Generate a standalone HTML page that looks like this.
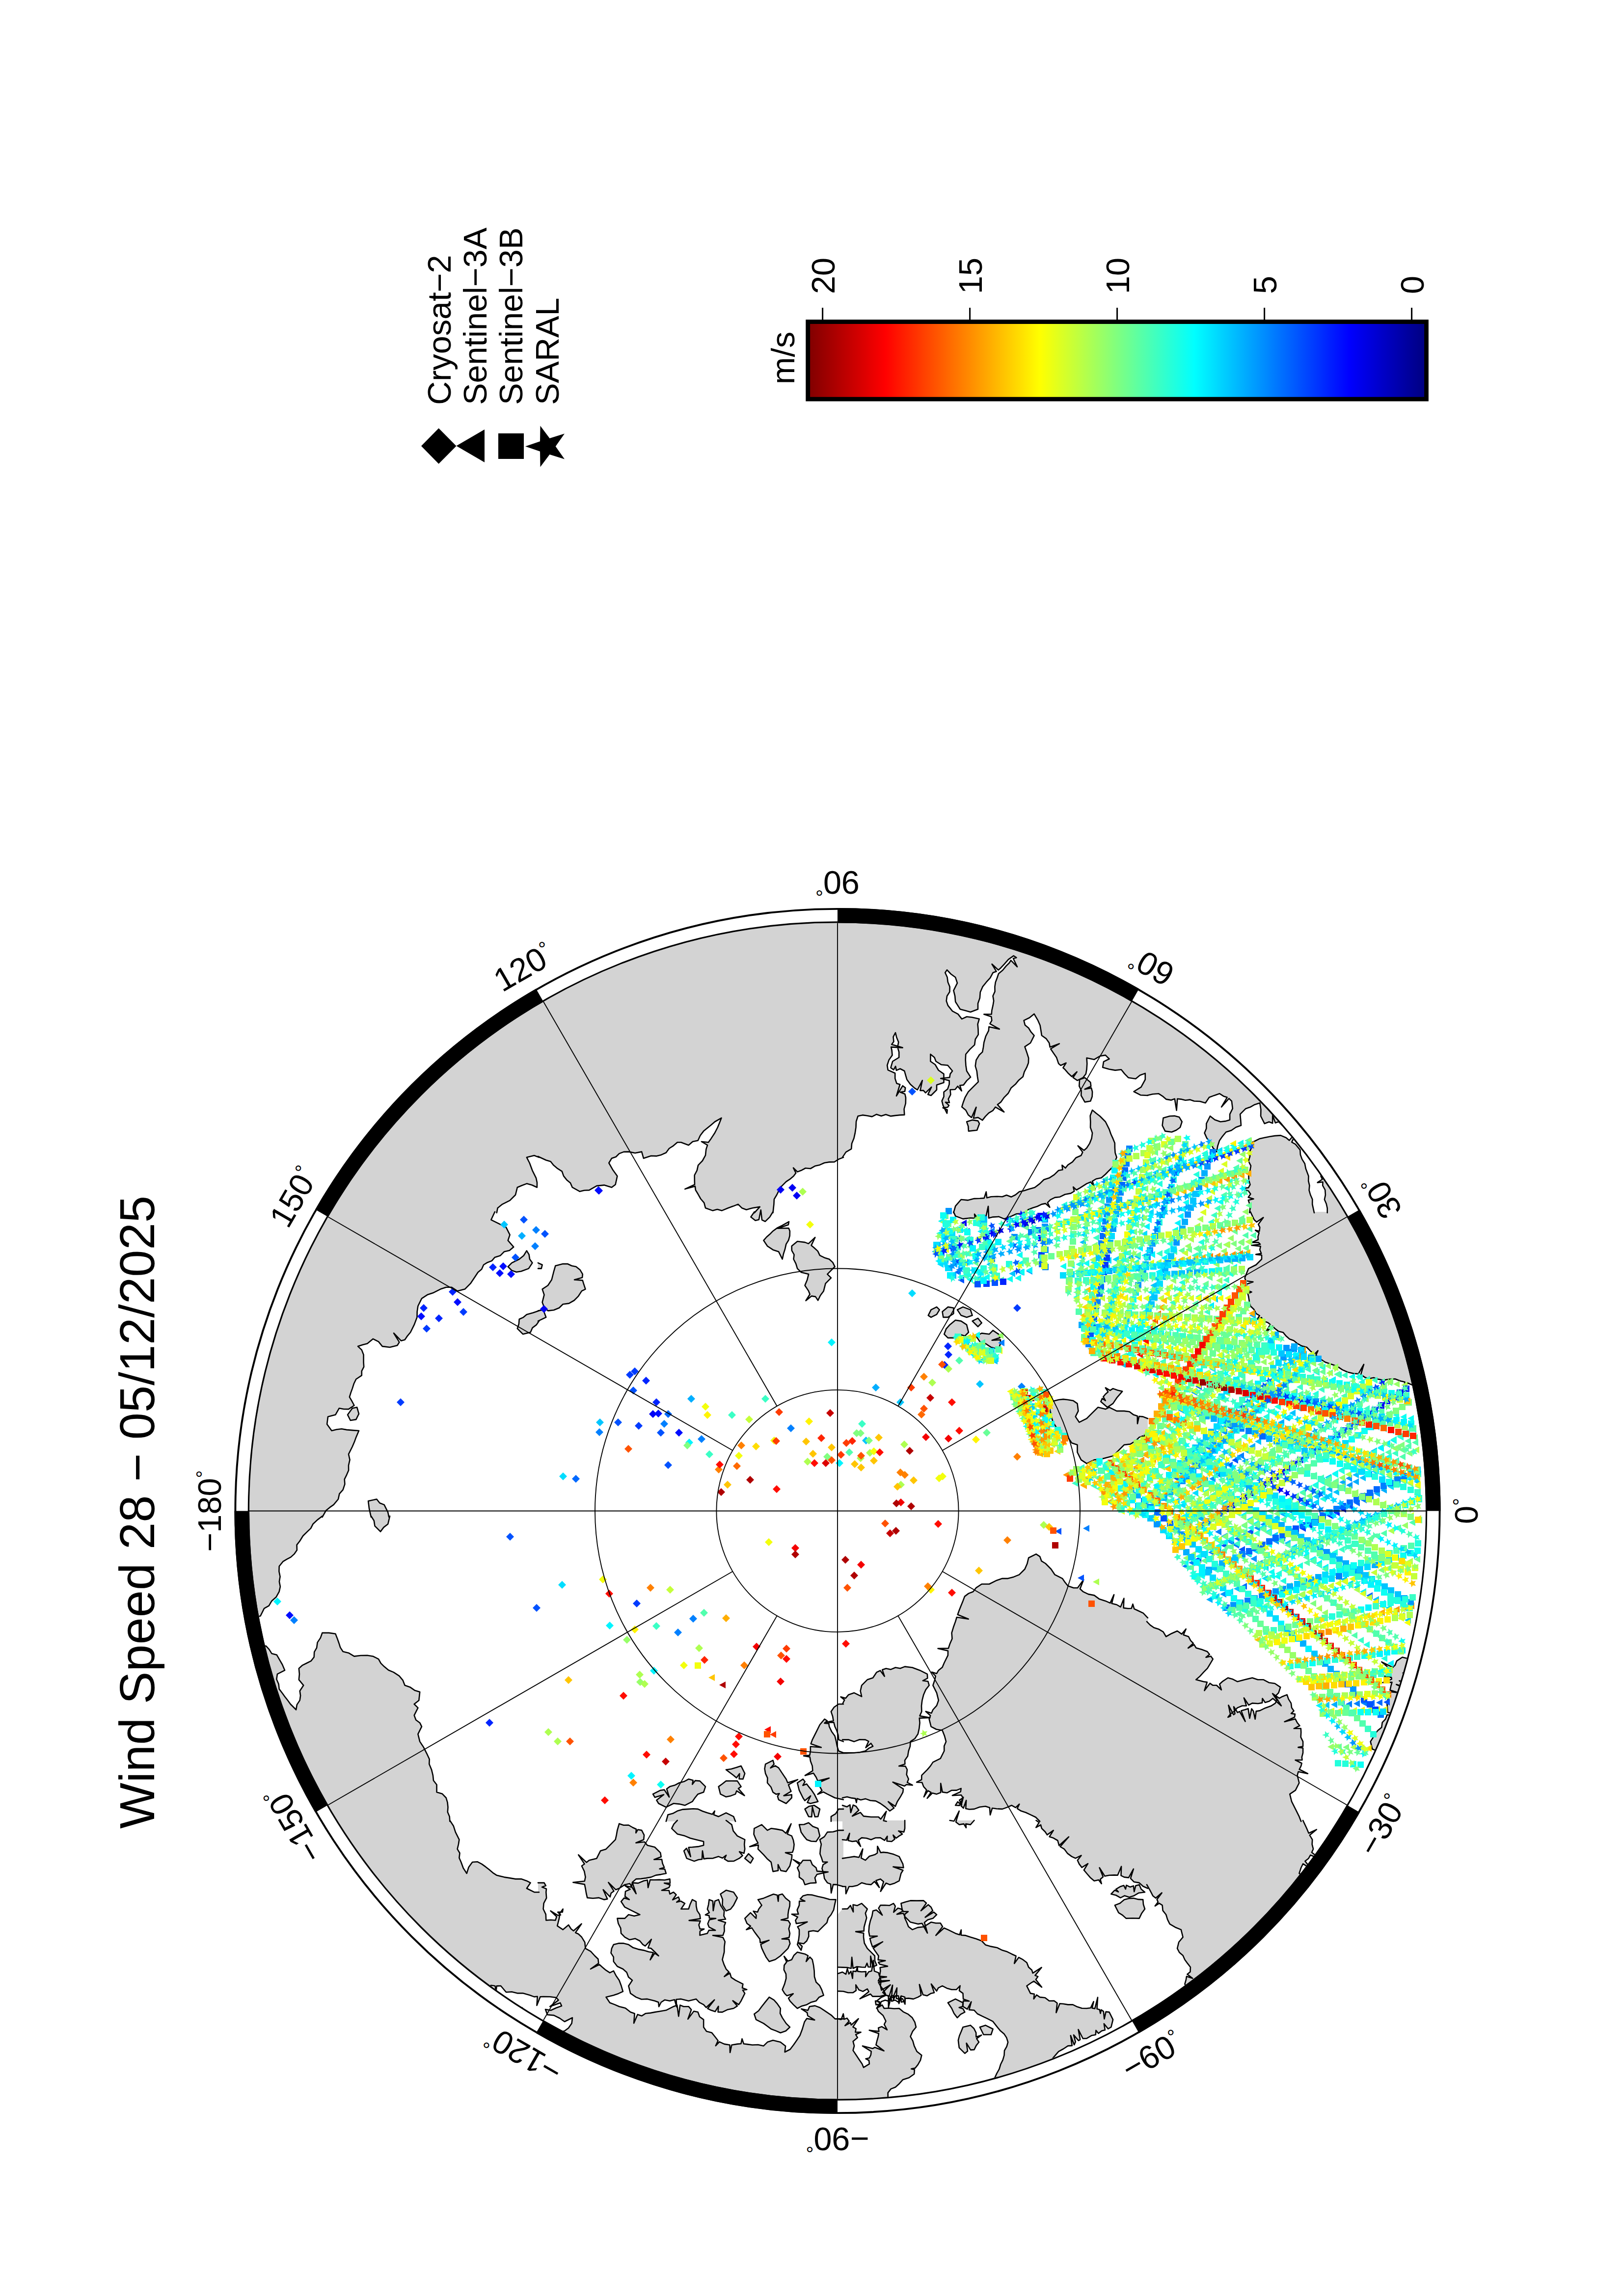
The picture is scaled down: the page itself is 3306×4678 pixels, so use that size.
<!DOCTYPE html><html><head><meta charset="utf-8"><title>Wind Speed 28 - 05/12/2025</title>
<style>html,body{margin:0;padding:0;background:#fff;}svg{display:block;}text{font-family:"Liberation Sans", Arial, Helvetica, sans-serif;fill:#000;}</style></head><body>
<svg xmlns="http://www.w3.org/2000/svg" width="3306" height="4678" viewBox="0 0 3306 4678">
<rect width="3306" height="4678" fill="#fff"/>
<text transform="translate(314,3726) rotate(-90)" font-size="100" textLength="1290" lengthAdjust="spacingAndGlyphs">Wind Speed 28 − 05/12/2025</text>
<text transform="translate(918,825) rotate(-90)" font-size="66.67">Cryosat−2</text>
<text transform="translate(990.6,825) rotate(-90)" font-size="66.67">Sentinel−3A</text>
<text transform="translate(1064,825) rotate(-90)" font-size="66.67">Sentinel−3B</text>
<text transform="translate(1138,825) rotate(-90)" font-size="66.67">SARAL</text>
<polygon points="858,908.7 893.6,872.5 929.5,908.7 893.6,945" fill="#000"/>
<polygon points="929.5,908.5 987,875 987,942" fill="#000"/>
<rect x="1015" y="883" width="52" height="52" fill="#000"/>
<polygon points="1070,909.5 1100,899.2 1100.5,867.5 1119.6,892.9 1150,883.5 1131.7,909.5 1150,935.5 1119.6,926.1 1100.5,951.5 1100,919.8" fill="#000"/>
<defs><linearGradient id="jet" x1="2905.5" x2="1645.7" y1="0" y2="0" gradientUnits="userSpaceOnUse">
<stop offset="0" stop-color="#00007f"/>
<stop offset="0.125" stop-color="#0000ff"/>
<stop offset="0.375" stop-color="#00ffff"/>
<stop offset="0.625" stop-color="#ffff00"/>
<stop offset="0.875" stop-color="#ff0000"/>
<stop offset="1" stop-color="#7f0000"/>
</linearGradient></defs>
<rect x="1645.7" y="655.6" width="1259.8" height="157.6" fill="url(#jet)" stroke="#000" stroke-width="8.8"/>
<line x1="2875.6" y1="627" x2="2875.6" y2="652" stroke="#000" stroke-width="3"/>
<text transform="translate(2899.6,599) rotate(-90)" font-size="66.67">0</text>
<line x1="2575.6" y1="627" x2="2575.6" y2="652" stroke="#000" stroke-width="3"/>
<text transform="translate(2599.6,599) rotate(-90)" font-size="66.67">5</text>
<line x1="2275.6" y1="627" x2="2275.6" y2="652" stroke="#000" stroke-width="3"/>
<text transform="translate(2299.6,599) rotate(-90)" font-size="66.67">10</text>
<line x1="1975.6" y1="627" x2="1975.6" y2="652" stroke="#000" stroke-width="3"/>
<text transform="translate(1999.6,599) rotate(-90)" font-size="66.67">15</text>
<line x1="1675.6" y1="627" x2="1675.6" y2="652" stroke="#000" stroke-width="3"/>
<text transform="translate(1699.6,599) rotate(-90)" font-size="66.67">20</text>
<text transform="translate(1618,783) rotate(-90)" font-size="66.67">m/s</text>
<defs><clipPath id="disc"><circle cx="1706" cy="3078.5" r="1198"/></clipPath></defs>
<g clip-path="url(#disc)">
<path d="M476,1849 1098,1849 1098,2358.1 1088.2,2354.3 1072.9,2358.1 1078.7,2369.5 1084.4,2384.8 1092,2400.1 1094,2409.5 1093.9,2419.2 1083.7,2414.5 1072.9,2411.6 1063.3,2415.2 1053.8,2419.2 1050,2434.5 1038.6,2445.9 1023.3,2453.6 1013.7,2461.2 1011.8,2471 476,2471ZM476,2469 1008,2469 1000.4,2485.3 1015.6,2492.9 1030.9,2500.6 1038.6,2515.8 1034.7,2527.3 1046.2,2540.7 1037.8,2547.8 1027.1,2550.2 1019,2558.3 1008,2561.7 1001.8,2568.9 993,2572.2 985.1,2577 981.1,2586 973.6,2592.2 966,2603.7 958.3,2615.2 946.9,2626.6 931.6,2630.4 920.1,2622.8 908.7,2622.8 897.2,2626.6 881.9,2634.3 870.5,2638.1 859,2645.7 851.4,2661 849.7,2672.4 849.5,2683.9 843.7,2699.2 836.1,2714.5 830,2721.8 824.6,2729.8 817.1,2731.8 802.1,2716.2 813.4,2734.6 809.3,2741.2 794.1,2745 778.8,2743.1 771.1,2733.6 759.7,2727.9 748.2,2737.4 738.6,2739.9 729.1,2743.1 736.8,2750.4 740.6,2760.3 740.6,2775.6 741.2,2784.8 736.8,2793.3 736.8,2802.3 725.3,2810 720.8,2819.3 717.7,2829.1 714.6,2837.6 711.9,2846.3 716.9,2854.8 721.5,2863.5 710,2871.1 700.4,2871 690.9,2869.2 683.3,2882.6 668,2886.4 666.1,2901.7 675.6,2915 685.7,2912.5 695.9,2911.3 706.2,2913.1 718.6,2914.1 731,2915 725.3,2928.4 721.8,2938.1 717.7,2947.5 710,2962.8 712.6,2974.3 710,2985.7 710.1,2995.7 706.2,3004.8 701.7,3013.9 702.4,3023.9 698.6,3035.4 691.3,3043.7 689,3054.5 679.5,3065.9 671.6,3071.4 664.2,3077.4 656.5,3091 476,3091ZM708.1,2882.6 717.7,2869.2 727.2,2867.3 731,2880.7 725.3,2892.1 713.8,2894ZM1034.7,2580.8 1042.4,2573.1 1057.7,2565.5 1066.7,2558.2 1072.9,2548.3 1077.6,2556.2 1079,2565.6 1084.4,2573.1 1076.8,2584.6 1061.5,2590.3 1051.7,2591.8 1042.4,2588.4ZM1053.8,2706.8 1056.9,2697.5 1057.7,2687.7 1066,2684.1 1072.9,2678.2 1085.6,2674.8 1098,2670.6 1098,2691.6 1092.5,2699.4 1084.5,2705.4 1080.6,2714.5 1065.3,2718.3ZM750.1,3058.3 767.3,3054.5 773.4,3062.3 782.6,3065.9 790.2,3081.2 792.2,3091 755.9,3091 752,3073.6ZM476,3089 656.5,3089 646.6,3096.6 637.4,3105.3 633.1,3113.9 626,3120.6 617.2,3129.2 610.7,3139.7 604.6,3147.6 604.9,3158.3 599.2,3166.4 592.3,3172.6 584.2,3176.9 576.3,3181.7 568.7,3191.2 568.4,3201.8 570.6,3212.2 568.9,3222.4 570.9,3232.7 568.7,3242.8 562.7,3253.7 553.4,3261.9 547.8,3271.6 538.1,3277.2 530.5,3292.5 521.4,3294.4 512.3,3294.6 503.2,3291.8 494.2,3294.7 485.1,3289.8 476,3292.5ZM755.9,3089 794.1,3089 790.2,3105.3 781.6,3111.9 775,3120.6 763.5,3109.1 761.8,3098.3ZM476,3353.6 485.4,3354.7 494.8,3353 504.3,3353.5 513.7,3351.7 523.1,3353.2 532.5,3354.2 541.9,3353.6 548.3,3360.6 553.4,3368.9 563.8,3371.8 568.7,3380.3 575.1,3391.5 580.1,3403.2 564.9,3410.9 563.4,3421.4 567.6,3431.2 568.7,3441.4 574.5,3449 580.1,3456.7 586,3464.3 591.6,3472 603.1,3483.5 604.9,3473.1 610.7,3464.4 612.1,3454.8 610.7,3445.3 618.3,3433.8 608.8,3422.3 609.9,3410.9 608.8,3399.4 616.1,3392.8 624.9,3388.5 633.6,3384.1 639.7,3376.2 640.2,3365.8 645.1,3357.4 646.6,3346.4 652.8,3337.1 656.5,3326.8 670,3326.9 683.3,3328.8 686.9,3337.9 690.2,3347.2 693.2,3356.6 698.6,3365 710.7,3368.1 721.5,3374.6 734.8,3373 748.2,3372.7 760.3,3374.8 771.1,3380.3 775.8,3388.8 782.6,3395.6 791.3,3402.8 801.7,3407.1 813.2,3414.7 820.5,3423.3 824.6,3433.8 835.2,3437.4 844.5,3443.9 855.2,3447.2 853.3,3464.4 843.7,3472 851.4,3479.6 843.7,3494.9 847.2,3504.3 855.2,3510.2 859,3517.8 851.4,3533.1 855.2,3548.4 862.8,3559.9 870.5,3575.2 874.7,3584.2 874.3,3594.3 879,3605.4 881.9,3617.2 883,3627.8 889.6,3636.3 889.6,3651.6 900.7,3654.7 908.7,3663 911.5,3672.4 912.5,3682.1 911.8,3692 915.7,3701.3 916.3,3711 476,3711ZM476,3709 916.3,3709 923.7,3720.2 927.8,3732.9 935.4,3748.2 933.9,3757.8 931.6,3767.3 936.5,3775.5 935.4,3785.5 939.2,3794 943.7,3806.2 950.7,3817 954.6,3804.6 962.2,3794 972.3,3793.2 981.3,3797.9 989,3803.4 996.5,3809.3 1003.8,3815.6 1011.8,3820.8 1027.1,3824.6 1038.6,3826.4 1050,3828.4 1061.8,3828.3 1072.9,3832.2 1080.6,3836.1 1072.9,3847.5 1088.2,3855.2 1098,3855.2 1098,4331 476,4331ZM1096,1849 1718,1849 1718,2358.1 1708.2,2361.9 1699.5,2367.5 1689.1,2367.6 1679.2,2369.2 1670,2373.4 1659.9,2375.8 1650.9,2381 1640.8,2380 1631.8,2384.8 1624.4,2387.6 1616,2379.4 1621.2,2389.9 1616.5,2396.3 1609.2,2402.4 1601.3,2407.7 1589.8,2419.2 1582.2,2434.5 1576.9,2443.3 1576.4,2453.6 1574.5,2471 1536.7,2471 1547.8,2458.9 1532.9,2461.2 1520.3,2464.7 1511.1,2461.2 1503.5,2453.6 1493.4,2457.6 1483.2,2461.2 1470.2,2466.6 1461.1,2464.1 1451.9,2466.6 1437,2461.2 1434.2,2450.7 1427.2,2442.5 1422.1,2433.3 1416.9,2424.8 1415.9,2416.9 1395.3,2422.6 1415,2413.5 1414.8,2405.4 1414.7,2394.4 1419.8,2384.6 1422.1,2374.1 1430.9,2365 1437,2353.9 1438.3,2341.7 1441.1,2333.2 1428.9,2326 1443,2327.5 1448.4,2319.9 1455.7,2308.8 1461.8,2297 1465.7,2287.4 1469.5,2277.8 1456.1,2285.5 1448.6,2292.1 1440.9,2298.3 1433.2,2304.6 1426.4,2313.5 1421.7,2323.7 1411,2326.1 1402.6,2333.2 1387.3,2327.5 1379.7,2327.5 1371.8,2334.3 1363,2340 1356.8,2348.5 1347.1,2352.9 1336.9,2355.4 1326.2,2355 1310.9,2360 1307.1,2346.6 1293.7,2349.2 1280.4,2346.6 1270.5,2346.9 1261.3,2350.4 1254.7,2357 1246,2360 1240.3,2369.5 1247.9,2382.9 1257.4,2396.3 1253.6,2413.5 1246,2419.2 1230.7,2414.6 1215.4,2416.1 1200.1,2424.9 1190.5,2425.3 1181,2427.6 1165.8,2419.2 1161.9,2410.2 1154.3,2403.9 1148.1,2396.1 1144.8,2386.7 1135.8,2380.9 1127.6,2374.1 1121.6,2366.5 1112.3,2363.8 1096,2356.2ZM1131.4,2578.9 1146.7,2575.1 1156,2575 1164.5,2579 1173.4,2580.8 1181.5,2587.2 1186.8,2596.1 1186.1,2602.9 1170,2607.5 1186.7,2608.6 1188.7,2615.2 1192.5,2626.6 1184.9,2630.4 1178.2,2640.8 1169.6,2649.5 1158.9,2655.6 1146.7,2657.2 1139,2664.8 1128,2669.3 1116.1,2670.6 1108.3,2663.3 1104.6,2653.4 1108.5,2638.1 1104.6,2626.6 1116.1,2619 1123.7,2607.5 1127.6,2592.2ZM1096,2670.6 1106.6,2668.6 1112.3,2683.9 1096,2691.6ZM1096,2573.1 1104.6,2577 1102.7,2584.6 1096,2584.6ZM1536.7,2469 1574.5,2469 1568,2479.6 1558.8,2488.7 1552.1,2485.6 1549.8,2465.3 1545.8,2485 1538.6,2486.8 1529.4,2479.6ZM1555.4,2527.3 1561.4,2520.5 1568.2,2514.6 1574.5,2508.2 1583.5,2501.6 1593.6,2496.7 1607,2489.1 1605.8,2495.5 1584.1,2502.8 1606.5,2502.2 1608.9,2508.2 1608.7,2517.8 1606.3,2526.7 1601.3,2534.9 1599,2545.2 1595.8,2555.2 1593.6,2565.5 1586,2550.2 1574.5,2546.4 1563.1,2538.8ZM1612.7,2538.8 1624.2,2529.2 1639.5,2531.1 1646.8,2533.9 1660.3,2521.2 1652.6,2537.4 1658.6,2542.6 1665.8,2549.1 1670,2557.9 1679.3,2562.4 1689.1,2565.5 1696.3,2572.1 1700.6,2580.8 1692.9,2588.4 1685.3,2596.1 1692.9,2603.7 1681.5,2615.2 1677.7,2630.4 1671,2639.5 1666.2,2649.5 1661.1,2641.9 1653.3,2640.6 1641.5,2650 1649.7,2637 1647.1,2630.4 1639.5,2619 1644.2,2607.8 1647.1,2596.1 1631.8,2592.2 1624.2,2584.6 1621.2,2574.7 1616.5,2565.5 1617.6,2556.3 1612.8,2547.8ZM1650.9,3567.5 1650.8,3558.5 1672.8,3560.3 1651.7,3553 1654.7,3544.6 1662.4,3529.3 1670,3514 1679.6,3502.6 1684.9,3506 1679.4,3510.9 1688.3,3511.6 1689.1,3517.8 1694,3527.9 1700.6,3537 1703.1,3547.1 1705.1,3557.5 1708.2,3567.5 1718,3571.3 1718,3666.8 1700.6,3663 1685.3,3655.4 1677.2,3651.1 1665.6,3655.8 1674.3,3648.2 1670,3640.1 1667.2,3632.2 1688.9,3622.7 1665.7,3628.6 1662.4,3621 1657,3612.7 1639.9,3617.4 1655.4,3607.9 1654.7,3598.1 1651,3588.2 1649.7,3579.7 1637,3577.4 1649.3,3576.4ZM1692.9,3487.3 1699.1,3478.2 1708.2,3472 1718,3472 1718,3548.4 1708.2,3544.6 1707.3,3535.2 1704.6,3526.3 1700.6,3517.8 1698.4,3509.2 1680.5,3509.6 1697.6,3506.1 1696.2,3497.3ZM1330,3655.4 1345.3,3647.7 1353.1,3646.6 1363.2,3661.5 1358,3644.7 1364.4,3640.1 1374.4,3637.3 1383.5,3632.5 1393.5,3629.8 1402.6,3624.8 1411.7,3627.2 1410.3,3635.5 1416.1,3627.9 1425.5,3628.6 1437,3640.1 1433.2,3651.6 1421.7,3655.4 1415.7,3662.8 1410.2,3670.7 1395,3678.3 1383.6,3675.6 1372,3674.5 1356.8,3682.1 1341.5,3674.5 1337.4,3667.8 1352.1,3656.5 1334,3662.1ZM1463.7,3640.1 1471.5,3634.5 1479,3628.6 1490.5,3628.5 1501.9,3628.6 1509.6,3640.1 1504,3644.1 1516.4,3658.4 1500.4,3648.9 1498.1,3655.4 1488.8,3658.9 1479,3661.1 1467.5,3655.4ZM1479,3605.7 1489.5,3604.2 1499.6,3601.3 1509.6,3598.1 1517.2,3613.4 1513.4,3624.8 1505.6,3624.4 1506.4,3613.7 1500.2,3622.3 1494.3,3617.2 1486.6,3611.5ZM1559.2,3594.3 1574.5,3586.6 1576.7,3594.3 1569.5,3602.2 1579.2,3597.6 1586,3601.9 1593.6,3613.4 1601.3,3624.8 1604.5,3632.3 1624.9,3625.9 1606,3636.3 1608.9,3643.9 1611.4,3649.8 1596.6,3658.7 1612.7,3656.6 1612.7,3663 1601.3,3674.5 1586,3666.8 1583.8,3659.7 1587.5,3654.3 1580.8,3655.6 1574.5,3651.6 1570.4,3641 1563.1,3632.5 1563.4,3622.4 1559.2,3613.4 1557.6,3603.8ZM1624.2,3632.5 1635.6,3624.8 1639.7,3630.1 1635.4,3637.7 1643.1,3634.7 1647.1,3640.1 1653.2,3647.4 1658.6,3655.4 1666.2,3670.7 1650.9,3674.5 1644.5,3672.5 1651.2,3659 1639.4,3668.7 1635.6,3663 1628,3647.7ZM1360.6,3697.4 1370.6,3694.8 1379.7,3689.8 1390.9,3686.6 1402.6,3685.9 1412.2,3685.3 1421.7,3685.9 1431.1,3690.3 1440.8,3693.6 1450.9,3696.5 1455.8,3689.8 1453.9,3697.5 1463.7,3701.2 1479,3693.6 1494.3,3701.2 1498.1,3711 1356.8,3711ZM1639.5,3685.9 1648.2,3680.2 1658.6,3678.3 1670,3685.9 1666.2,3701.2 1659.9,3701.6 1654.8,3681.5 1653.4,3701.6 1647.1,3701.2ZM1692.9,3701.2 1702.3,3695.3 1708.2,3685.9 1718,3685.9 1718,3711 1692.9,3711ZM1261.3,3715.7 1270.3,3718.7 1280.4,3718.5 1288.9,3723.5 1296,3726.8 1295.3,3734.5 1299.4,3727.7 1307.1,3729.1 1312.1,3738.9 1311.2,3748.2 1295.4,3754.7 1312.9,3752.8 1318.6,3759.7 1333.8,3763.5 1345.3,3774.9 1346.7,3783.2 1332.3,3788.8 1348,3788.2 1349.5,3796.4 1353.2,3804.9 1343.6,3807.8 1354.1,3808.2 1356.8,3817 1346.5,3819.1 1336,3820.6 1326.2,3824.6 1316.1,3826.4 1305.9,3827.9 1295.6,3828.4 1287.9,3835.2 1295.7,3858.3 1282.8,3837.8 1272.7,3839.9 1261.3,3847.5 1254.2,3850.2 1239.3,3835.4 1250.5,3853 1244.7,3857.3 1242.8,3864.9 1228.7,3850.2 1237.3,3869.1 1230.7,3870.4 1219.5,3866.6 1207.8,3867.7 1196.3,3866.6 1194.1,3857.1 1192.5,3847.5 1190.8,3839.4 1167.3,3835.2 1190.8,3832.7 1192.5,3824.6 1190.2,3812.6 1184.9,3801.7 1190.6,3797.8 1178.3,3779.2 1194.8,3794.6 1200.1,3790.2 1215.4,3786.4 1223.1,3771.1 1234,3767.8 1242.2,3759.7 1253.6,3748.2 1255.7,3738.7 1257.4,3729.1ZM1265.1,3874.3 1271.2,3867.1 1281.8,3870.3 1273.1,3863.9 1274,3853.6 1283.6,3849.2 1273.4,3842.1 1286.1,3845 1288,3836.1 1299.9,3836.9 1310.9,3832.2 1318.8,3830.5 1320.1,3845.9 1324.3,3830.1 1332.3,3830.3 1343,3829.9 1353.8,3830.5 1364.4,3828.4 1365,3837 1353.1,3836.8 1365,3840.2 1362.8,3845.8 1347.9,3851.5 1362.8,3851.8 1364.4,3859 1372,3855.2 1377.4,3860.4 1370.2,3870.8 1382.1,3865.1 1384.3,3871 1378.4,3875.6 1386.8,3873.5 1395,3878.1 1387.3,3889.5 1402.6,3889.5 1405.8,3879.8 1410.2,3870.4 1417.9,3874.3 1418.2,3883.8 1420.1,3892.9 1425.5,3901 1426.6,3909.1 1403.6,3912.9 1426.6,3913.9 1423.5,3922 1425.9,3930.3 1434.2,3930.3 1425.9,3934.7 1425.5,3943 1440.8,3939.2 1444,3932.7 1457.2,3933 1444.3,3926.4 1441.7,3919.6 1444.9,3911.4 1458.1,3908.7 1445,3908.3 1444.4,3903.1 1436.9,3901.4 1444.8,3896.9 1440.9,3889.9 1443.3,3880.2 1444.6,3870.4 1452,3873.2 1452.8,3892.9 1456.3,3873.2 1463.7,3870.4 1468.1,3882.6 1475.2,3893.4 1474.4,3903.6 1478,3910.3 1463,3912.2 1478,3917.1 1475.2,3923.9 1475.6,3934.6 1472.6,3943.2 1452,3943.2 1472.6,3947.4 1476.8,3956 1475.4,3966.7 1475.2,3977.4 1471.4,3992.7 1474.7,4002.4 1479,4011.8 1484.9,4017.8 1475.4,4027.1 1486.9,4020.2 1489.5,4028.9 1498.1,4034.7 1513.4,4042.3 1512,4050.2 1521.3,4053.6 1512.9,4054.8 1517.2,4061.4 1509.6,4076.7 1504.7,4084.4 1492.7,4076.4 1501.9,4087.1 1494.3,4092 1482.3,4094.4 1471.4,4099.6 1462.6,4099.4 1463.4,4087.8 1456.8,4098.5 1448.4,4095.8 1441.4,4092.4 1455.2,4074.6 1438.4,4090.2 1433.2,4084.4 1424.6,4079.9 1417.9,4072.9 1402.6,4076.7 1387.3,4072.9 1377.4,4073.7 1378.3,4088.9 1374,4074.2 1364.4,4076.7 1354.2,4074.7 1346.7,4079.5 1342.1,4088.5 1341.3,4079.5 1333.8,4076.7 1318.6,4072.9 1306.7,4073.5 1295.6,4069.1 1284.2,4061.4 1280.4,4046.2 1288,4034.7 1280.2,4028.3 1276.5,4018.4 1268.9,4011.8 1257.5,4006.5 1249.8,3996.5 1249.8,3987.4 1244.5,3979.1 1246,3969.8 1249.8,3962.1 1260,3959.4 1270.2,3959.4 1280.4,3962.1 1289.7,3968.3 1300.1,3971.6 1310.9,3973.6 1321.4,3976.7 1330.7,3978.3 1324.5,3993.1 1333.7,3979.4 1341.5,3985 1334.1,3977.2 1326.2,3969.8 1320.1,3968.6 1326.8,3951.3 1314.3,3964.8 1309.4,3961.8 1303.3,3954.5 1293.7,3949.7 1282.2,3952.2 1272.7,3946.8 1265.1,3939.2 1264.3,3928.6 1259.4,3919 1257.4,3908.6 1272.7,3908.6 1280.4,3901 1291.8,3903.7 1303.3,3901 1288,3893.4 1272.7,3885.7ZM1096,3836.1 1108.5,3836.1 1111.8,3842 1104,3844.9 1113,3848.4 1112.3,3855.2 1113.2,3867.1 1107.6,3877.9 1106.6,3889.5 1111.8,3900.4 1112.3,3912.5 1121.8,3911.7 1131.4,3912.5 1133.8,3905.1 1121.5,3893.3 1135.7,3902.2 1142,3901.6 1136.2,3895.9 1145.8,3895.9 1146.7,3889.5 1140.5,3898.1 1139,3908.6 1135.2,3923.9 1146.7,3931.6 1158.1,3922 1163.2,3930 1168.2,3934 1184.5,3919.7 1172.2,3937.7 1178.3,3940.5 1184.9,3946.8 1191.3,3957.4 1192.5,3969.8 1203.3,3975.8 1211.6,3985 1218.4,3991.5 1219.3,4000.1 1203,4011.7 1221.1,4002.7 1226.9,4008 1234.2,4014.2 1242.2,4019.4 1249.8,4015.6 1254.9,4025.5 1261.3,4034.7 1265.5,4046 1268.9,4057.6 1259.5,4061.9 1249.8,4065.3 1234.5,4069.1 1242.2,4080.5 1251.8,4084.1 1261.3,4088.2 1274,4091.4 1284.2,4099.6 1292.7,4102.4 1291.1,4122.2 1298.7,4104.4 1307.1,4107.3 1315.3,4102.2 1324.7,4101.4 1333.8,4099.6 1345.3,4097.8 1356.8,4095.8 1372,4088.2 1379.2,4085.4 1382.3,4108.1 1385.3,4085.4 1392.4,4088.2 1402.6,4088.2 1408.2,4094.7 1401.3,4113.8 1413.3,4097.8 1421.7,4099.6 1425.1,4109 1433.2,4114.9 1433.2,4130.2 1439.1,4138.7 1449.7,4141.4 1456.1,4149.3 1462.6,4157.8 1457.8,4168.2 1465.4,4160.1 1475.2,4164.6 1486.6,4166.5 1487.1,4182 1490.5,4166.5 1501.9,4164.6 1509.4,4164 1511.5,4154 1515,4164.3 1522.3,4165.1 1532.5,4166.5 1544.1,4166 1555.4,4168.4 1563.6,4160.4 1574.5,4157 1589.8,4160.8 1600.1,4168.8 1598.6,4181 1609.5,4175.5 1616.9,4165.7 1623.3,4156.4 1629.5,4147 1634.1,4134.8 1638.7,4119.5 1643.5,4112.6 1659.4,4115.6 1645.3,4107 1644.1,4100.6 1632.2,4093 1645.6,4096.1 1649,4088.2 1660,4086.6 1670.4,4090.5 1679.6,4096.6 1693.3,4105.8 1701,4113.4 1718,4113.4 1718,4331 1096,4331ZM1368.2,3725.3 1372.7,3716.3 1379.7,3709 1479,3709 1490.5,3717.6 1493.6,3730.4 1501.9,3740.6 1517.2,3748.2 1516.2,3757.8 1517.2,3767.3 1515.5,3776 1506.1,3772.8 1512.6,3780.7 1505.7,3786.4 1494.9,3791.9 1482.8,3792.1 1475.6,3787.7 1479.2,3780 1471.6,3785.8 1463.7,3782.6 1452.5,3786.1 1440.8,3786.4 1433.6,3787.4 1430.9,3771 1430,3788.2 1422.7,3789 1414.1,3792.1 1398.8,3786.4 1393.1,3771.1 1398.5,3765.8 1406.7,3782.8 1402.7,3764 1410.2,3763.5 1421.9,3762.4 1433.2,3759.7 1433.2,3752 1417.9,3748.2 1406.1,3745.2 1395,3740.6 1379.7,3736.7ZM1517.2,3786.4 1524.8,3776.9 1534.4,3786.4 1528.7,3796ZM1536.3,3725.3 1551.6,3717.6 1563.1,3729.1 1570.7,3725.3 1582.2,3726.9 1593.6,3729.1 1601,3735.2 1611.5,3715.9 1603.8,3736.9 1612.7,3740.6 1616,3749.2 1617.6,3758.1 1616.5,3767.3 1614.2,3774 1599.9,3774.7 1613.2,3779.3 1612.7,3786.4 1608.9,3801.7 1601.3,3813.1 1590.6,3811.3 1584.9,3799 1585.1,3811.3 1574.5,3813.1 1572.5,3803.6 1570.7,3794 1562.5,3786.9 1555.4,3778.8 1544,3767.3 1544.8,3759.2 1527.1,3762.4 1544.1,3755.4 1540.1,3748.2 1535.5,3737.2ZM1628,3717.6 1637.8,3717.2 1647.1,3713.8 1655.6,3721.3 1666.2,3725.3 1670,3740.6 1662.4,3752 1652.5,3751.5 1643.3,3748.2 1637.2,3740.8 1631.8,3732.9ZM1624.2,3805.5 1629,3799.3 1615.7,3788.8 1631,3796.6 1635.6,3790.2 1650.9,3790.2 1654.7,3799.3 1662.4,3805.5 1664.2,3812.4 1686.7,3814.1 1664.2,3818.9 1659.9,3825.9 1662.4,3836.1 1650.7,3836.8 1639.5,3839.9 1636,3830.5 1628,3824.6 1628.1,3814.7ZM1670,3748.2 1679.2,3742.1 1685.3,3732.9 1697,3732.3 1708.2,3729.1 1718,3729.1 1718,3843.7 1704.4,3839.9 1697.2,3839.6 1693.1,3856.9 1692,3838.6 1685.3,3836.1 1679.3,3827.4 1677.7,3817 1674.4,3807 1676.6,3799.2 1685.4,3793.9 1676,3793.7 1673.8,3786.4 1670.3,3777.1 1671.1,3767.4 1672.9,3757.6ZM1467.5,3859 1479,3851.3 1494.3,3855.2 1501.9,3866.6 1494.3,3881.9 1488.2,3889.7 1479,3893.4 1471.4,3881.9 1471.9,3870ZM1517.2,3908.6 1528.7,3897.2 1540.1,3908.6 1540.4,3901.9 1534.6,3893.9 1543.1,3895.7 1545.5,3889.8 1551.6,3881.9 1544,3870.4 1555.7,3867.4 1566.9,3862.8 1575.5,3859.3 1583.3,3861.3 1585.2,3873.9 1586.3,3860.9 1593.6,3859 1600.3,3867.5 1608.9,3874.3 1608.7,3883.3 1606.3,3892.1 1605.1,3901 1605.1,3908.1 1591.1,3911.8 1605.6,3913.1 1609.7,3919.8 1606.7,3929.8 1608.9,3939.2 1607.4,3947.4 1592.7,3950.4 1606.9,3951.2 1609.3,3959.9 1605.1,3969.8 1597.5,3977.4 1589.8,3985 1579.2,3992.5 1566.9,3996.5 1560.4,3987.4 1555.4,3977.4 1551.5,3968.9 1549.6,3961.7 1566.5,3953.2 1548.6,3958.2 1547.8,3950.7 1542,3943.1 1536.3,3935.4 1531.6,3928.1 1520.4,3931.6 1528.9,3924.4 1521.6,3919ZM1628,3881.9 1628.2,3873.6 1639.6,3873.4 1630.1,3869 1635.6,3862.8 1645,3860.3 1654.7,3860.9 1666.1,3863.9 1677.7,3866.6 1689.8,3870 1702.5,3870.4 1700.2,3880.9 1698.1,3891.4 1692.9,3901 1687,3908.1 1684.4,3917.4 1677.7,3923.9 1666.2,3935.4 1656.6,3933.7 1647.1,3935.4 1647.4,3945.4 1643.3,3954.5 1637.1,3960.3 1625.8,3958.2 1634,3965.4 1631.8,3973.6 1624.2,3962.1 1626.8,3952.1 1628,3941.9 1628,3931.6 1624.6,3925.6 1644.4,3915.9 1622,3919.1 1620.4,3912.5 1624.8,3905.9 1612.8,3900 1626.3,3900 1623.7,3891.6ZM1597.4,4004.1 1602.4,3997.4 1597.2,3985.9 1604.9,3995.6 1612.7,3992.7 1617.1,3984 1624.2,3977.4 1639.5,3981.2 1646,3984.6 1642.2,3996.5 1649.7,3987.4 1654.7,3992.7 1657.1,4004.1 1658.6,4015.6 1659,4027.3 1662.4,4038.5 1669.4,4045.2 1673.8,4053.8 1677.7,4065.3 1668.6,4069.2 1662.4,4076.7 1652.4,4079.4 1643.3,4084.4 1633.3,4087.2 1624.2,4092 1616.3,4084.6 1608.9,4076.7 1606.1,4071.1 1615.8,4062.1 1602.8,4066.2 1598.3,4061.7 1593.6,4053.8 1598.1,4042.6 1601.3,4030.9 1601,4021.8 1596.8,4013.3ZM1536.3,4103.5 1545.1,4097 1551.6,4088.2 1559.2,4078.6 1566.9,4069.1 1576.5,4074.8 1583.6,4082.9 1589.8,4092 1589.1,4102.1 1593.6,4111.1 1601.3,4122.6 1608.9,4130.2 1600.6,4138 1589.8,4141.7 1580.3,4137.6 1570.7,4134 1563.1,4128.2 1555.4,4122.6 1540.1,4114.9ZM1716,1849 2338,1849 2338,2232 2323.2,2231.2 2309.5,2224 2324.4,2214.8 2332.8,2199.5 2332.8,2186.9 2322.1,2190.8 2313.3,2198 2298.4,2195.7 2290.8,2187.9 2283.9,2179.3 2271.6,2180.6 2259.5,2178.5 2246.1,2174.7 2248,2163.2 2259.5,2157.5 2251.8,2149.9 2240.4,2151.8 2228.9,2158.7 2213.6,2155.6 2214.3,2167.1 2213.6,2178.5 2211.9,2188 2206,2195.7 2194.5,2201.4 2185.7,2195.5 2193.7,2183.8 2183.2,2193.5 2175.4,2186.2 2169.6,2179.3 2165.4,2175.5 2171.5,2165.7 2160.6,2170.7 2156.3,2167.1 2152.2,2154.8 2144.8,2144.1 2140.1,2137 2157.9,2126.5 2138.7,2133.5 2137.2,2125 2130.9,2116.1 2121.9,2109.8 2120.3,2099.3 2118.6,2089 2114.3,2079.2 2106.6,2065.8 2097.1,2073.5 2085.6,2079.2 2087.9,2088.4 2095.2,2094.5 2100.2,2102.7 2106.6,2109.8 2099,2125 2087.5,2132.7 2091.5,2144.1 2095.2,2155.6 2094.9,2165.5 2091.4,2174.7 2086.5,2183.8 2083.7,2193.8 2075.3,2200.7 2068.4,2209.1 2059.4,2216.8 2053.8,2227.5 2045.5,2235.8 2038.7,2245.4 2031.9,2250.6 2045.2,2265.6 2027.5,2255.7 2022.6,2262.6 2014.1,2267.7 2007.2,2274.6 2001.2,2282.4 1992.2,2276.9 1982.8,2278.5 1988.5,2255.9 1978.9,2277 1972.2,2271.4 1967.3,2262 1959.2,2255.3 1962.2,2245.7 1965.7,2236.2 1972.3,2224.6 1981.7,2215.2 1992.8,2204.1 1991,2193.4 1989.8,2182.5 1986.7,2172 1988.4,2159.9 1994.7,2149.5 2001.2,2143.4 2003,2133.7 2004.3,2123.9 2007.9,2111.4 2013.8,2099.8 2014.4,2092.1 2035.8,2096.7 2016.4,2085.9 2020.3,2079.2 2019.3,2071.4 2004.3,2066.5 2019.7,2066.4 2020.3,2058.7 2022.6,2048.6 2024.2,2039.2 2022.5,2029.3 2026.6,2020.1 2026.4,2010.4 2027.8,2001.2 2031.1,1992.5 2034.1,1983.7 2042.5,1976.8 2049.3,1968.4 2055.8,1962 2059.1,1956.7 2072,1969.9 2063.9,1952.8 2070.4,1951.2 2064.6,1947.4 2054,1954.9 2045.5,1964.6 2038.9,1971.7 2033.5,1976.4 2020.5,1964.3 2029.6,1979.3 2022.6,1981.8 2017,1992.4 2009,2001.2 2001.6,2010.4 1996.8,2021.4 1995.9,2033.4 1992,2044.5 1992,2056.3 1976.8,2062 1966.3,2059.1 1955.8,2056.3 1951,2048.6 1946.2,2041 1945.2,2029.4 1942.4,2018.1 1950,2002.8 1946.2,1991.3 1936.9,1984.5 1929,1976.1 1925.2,1981.8 1929.5,1991 1930.8,2001.1 1934.7,2010.4 1934.5,2020.8 1929,2029.5 1927.7,2039.3 1930.9,2048.6 1940.1,2060.1 1951.4,2066.1 1959.2,2076.1 1969.2,2071.5 1980.2,2072.7 1994.7,2076.1 1991.6,2086.6 1992.5,2097.2 1992.8,2107.9 1986.7,2117.5 1985.2,2128.9 1975.7,2137.9 1967.2,2148 1966.7,2159.4 1967.4,2170.7 1969.1,2182 1977.1,2194.6 1969.1,2201.9 1962.6,2210.6 1955.3,2211.5 1958.7,2222.7 1950.9,2213.1 1945.5,2219.7 1935.5,2220.2 1936.4,2230.1 1931.7,2239.3 1933.9,2246.5 1925.9,2245.7 1933.1,2252.1 1930.3,2256 1920.6,2257.1 1929.6,2261.2 1929,2268.3 1921,2252.3 1918.6,2243.1 1922.6,2234.2 1922.5,2225.1 1930.4,2218.7 1933.6,2209.1 1933.7,2201.8 1916.2,2197.3 1934.3,2195.3 1935.5,2188.1 1940.1,2182 1930.5,2170.5 1917.6,2169.3 1906.5,2162.5 1903.4,2154.5 1895.4,2148 1895.4,2162.5 1904.9,2169 1911.6,2180.5 1922.5,2188.1 1922.5,2205.7 1908,2210.6 1908,2220.5 1896.5,2232 1890.2,2229.9 1897.3,2214.9 1885.3,2226.6 1880.9,2221.7 1874.4,2221.9 1878.8,2201.3 1868.8,2220.5 1863.3,2217.1 1854.4,2209.2 1847.3,2199.5 1844.8,2190.8 1842.3,2182 1833.5,2177.5 1825.9,2180.9 1824.2,2172.6 1820.3,2179.6 1814.4,2175.5 1818.2,2162.5 1831.2,2154.5 1831.2,2143.4 1828.3,2133.7 1830.3,2123.2 1826.4,2113.8 1824,2104 1819.5,2112.6 1820.5,2122.2 1816.3,2128 1838.6,2134.6 1815.2,2133.4 1816.7,2140.3 1817.5,2149.9 1810.8,2159.4 1807.2,2170.5 1808.7,2180.1 1823.2,2186.5 1823.2,2197.3 1826.6,2207.6 1833.2,2209.5 1826,2232.9 1838.8,2212.2 1844.2,2216.3 1843.1,2223.7 1833.8,2225.2 1843.3,2229 1845,2236.2 1844.8,2248 1841.6,2259.5 1842.3,2271.4 1832.9,2271.9 1823.4,2272.9 1814,2274.1 1804.4,2270.7 1795.1,2273.8 1785.5,2270.4 1776.2,2275.1 1766.7,2273.3 1757,2271.9 1747.6,2274 1744,2285.2 1743.5,2296.9 1741.8,2308.4 1739.4,2319.3 1735.1,2329.7 1734.2,2340.9 1723.1,2347.4 1716,2358.1ZM1969.1,2285.5 1980.4,2281.9 1992,2283.6 1995.1,2289.3 1990.1,2302.7 1972.9,2304.6 1972.3,2294.8ZM2199.1,2199.5 2209.8,2195.7 2221.3,2205.3 2222.3,2213.3 2209.7,2219.2 2223,2216.6 2225.1,2224.4 2224.7,2234.2 2221.3,2243.5 2209.8,2245.4 2202.2,2232 2202.6,2222 2198.3,2212.9ZM2225.1,2261.8 2232.6,2268 2240.4,2274 2251.8,2285.5 2259.5,2300.8 2262.8,2310.5 2267.1,2319.9 2270.8,2329.1 2270.9,2339 2271.6,2348.8 2274.7,2358.1 2270.6,2367.5 2267.1,2377.2 2259.4,2384.7 2251.8,2392.5 2243.5,2399.7 2232.7,2402 2225.1,2406.6 2230.9,2422.9 2221.9,2408.3 2213.6,2411.6 2199.9,2420.3 2192.6,2424.5 2186.2,2418.5 2188.3,2427 2181.1,2431.4 2169.5,2433.5 2159,2438.7 2148.7,2439.9 2139.7,2444.3 2133.8,2450.4 2138.3,2459.8 2129.6,2452.1 2121.9,2453.6 2112.9,2458 2103.4,2461 2094,2464.7 2084.9,2471 1942.4,2471 1946.2,2457.4 1957.7,2444 1971.2,2445.4 1984.4,2442.1 1996,2441.7 2004.7,2441.1 2008.8,2428.3 2010.2,2440.5 2018.8,2438.3 2030.2,2437.7 2041.7,2438.3 2050.3,2435 2060,2438.7 2068.4,2434.5 2076.3,2428.1 2085.9,2426 2095.2,2423 2107.7,2419.5 2118.1,2411.6 2126.3,2403.5 2137.2,2400.1 2147.5,2393.4 2156.3,2384.8 2164.5,2383.3 2163.4,2374.1 2170.3,2379.8 2175.4,2373.4 2184.6,2367.4 2191.9,2358.7 2202.2,2354.3 2205.3,2347.6 2195.7,2334.6 2208.1,2343.8 2213.6,2339 2219.6,2329.6 2223.6,2319.5 2225.1,2308.4 2221.1,2297.3 2221.3,2285.5 2220.7,2273.2ZM1942.4,2469 2091.4,2469 2081.4,2472.6 2070.5,2473.2 2060.8,2477.6 2045.5,2483.4 2034.5,2478.9 2022.6,2479.6 2014,2481.7 2013,2457.9 2007.8,2481.2 1999.7,2477.6 1990.9,2481.3 1985,2473.7 1986.2,2482.1 1976.8,2481.5 1961.5,2483.4 1946.2,2477.6ZM1890.8,2680.1 1896.5,2668.6 1908,2662.9 1913.7,2668.6 1908,2678.2 1896.5,2683.9ZM1919.5,2672.5 1930.9,2662.9 1942.4,2664.8 1942.4,2676.3 1930.9,2683.9 1921.4,2683.9ZM1923.3,2718.3 1927.2,2707.7 1934.7,2699.2 1946.2,2689.7 1957.7,2691.6 1969.1,2699.2 1972.9,2714.5 1965.3,2722.1 1953.8,2718.3 1942.4,2725.9 1930.9,2725.9ZM1950,2668.6 1961.5,2662.9 1976.8,2668.6 1980.6,2680.1 1969.1,2683.9 1957.7,2680.1ZM1988.2,2722.1 1999.7,2716.4 2015,2718.3 2022.6,2710.7 2034.1,2718.3 2037,2725.4 2020.7,2730.8 2037.9,2729.7 2037.9,2737.4 2034.1,2748.9 2018.8,2745 2007.3,2737.4 1995.9,2733.6ZM1980.6,2691.6 1992,2685.8 1999.7,2695.4 1992,2703ZM2141,2855.8 2156.3,2852 2165.9,2850.9 2175.4,2852 2185.8,2853.7 2194.5,2859.6 2196.4,2874.9 2190.7,2886.4 2198.3,2897.8 2213.6,2890.2 2225.1,2878.7 2236.5,2867.3 2251.8,2871.1 2259.5,2867.3 2274.7,2874.9 2290,2874.9 2300.6,2876.3 2309.1,2882.6 2316.8,2885.1 2317,2900.8 2320.2,2885.8 2328.2,2886.4 2338,2890.2 2338,2920.8 2331,2924.3 2335,2936 2327.9,2925.6 2320.6,2928.4 2312.9,2936.1 2302.3,2942.4 2290,2943.7 2278.6,2955.2 2267.1,2966.6 2251.8,2970.4 2240.6,2973.6 2228.9,2974.3 2213.6,2981.9 2202.2,2974.3 2194.5,2959 2194.5,2943.7 2183.1,2939.9 2175.4,2928.4 2164,2920.8 2152.5,2909.3 2144.8,2897.8 2141,2882.6 2138.1,2869.2ZM2242.3,2855.8 2245.1,2849.4 2251.7,2853.7 2247.3,2845.9 2251.8,2840.5 2257.1,2835.9 2251.8,2827.5 2261.2,2832.9 2267.1,2829.1 2276.5,2832.5 2286.2,2834.8 2274.7,2848.2 2267.1,2859.6 2255.6,2867.3ZM2338,3711 2118.1,3711 2109.7,3702.5 2099,3697.4 2089.7,3693 2079.9,3689.8 2072.1,3684.8 2076.4,3675.8 2068.8,3682.9 2060.8,3678.3 2051.4,3682.4 2041.7,3685.9 2030,3685.3 2021.2,3684 2017,3697.8 2015.9,3683.1 2007.3,3680.2 1995.5,3681.8 1984.4,3685.9 1974.4,3686.5 1967.2,3684.9 1968.2,3668.2 1962.5,3684 1957.6,3679.3 1962.2,3661.8 1954.4,3678.6 1946.2,3678.3 1950.7,3671.1 1959,3677.4 1954.3,3667.6 1961.5,3663 1958,3657.2 1939.9,3658.2 1956.7,3650.6 1957.7,3643.9 1948.5,3647.6 1938.6,3647.7 1929,3652.8 1919.7,3651.4 1916.2,3633.6 1916.2,3652.2 1908,3655.4 1899.1,3653.3 1888.7,3663.9 1896.5,3651.8 1890.1,3648.5 1882,3661.1 1887.3,3646.9 1881.3,3640.1 1878.2,3631.8 1867.1,3631.1 1877.2,3626 1877.4,3617.2 1888.9,3605.7 1895.1,3598.4 1900.4,3590.4 1915.6,3582.8 1923.3,3567.5 1923.2,3557.6 1927.1,3548.4 1923.9,3536.7 1919.5,3525.5 1907.4,3523.5 1896.5,3517.8 1892.7,3502.6 1895.3,3495.4 1885.7,3487 1897.3,3490.5 1900.4,3483.5 1908,3475.1 1911.8,3464.4 1908,3449.1 1900.4,3433.8 1904.2,3422.3 1905.8,3414.8 1897.8,3406.8 1907.8,3409.8 1911.8,3403.2 1919.5,3397 1923.3,3388 1930.9,3372.7 1931,3363.6 1910.5,3358.7 1931.9,3358.4 1934.7,3349.8 1939.5,3338.8 1938.6,3326.8 1942.1,3315.3 1946.2,3303.9 1948.9,3295 1972.7,3298.7 1950.7,3289.8 1953.8,3281 1957.6,3271.4 1961.5,3261.9 1965,3252.6 1972.9,3246.6 1982.2,3243 1988.2,3235.2 1999.7,3227.5 2015,3227.5 2030.2,3219.9 2041.7,3216.1 2053.2,3216.1 2064.9,3212.9 2076.1,3208.4 2087.5,3197 2092.4,3185.8 2095.2,3174 2110.5,3166.4 2118.2,3171.4 2121.6,3180.7 2129.6,3185.5 2141,3197 2148.7,3208.4 2164,3216.1 2169.4,3223.9 2175.4,3231.3 2186.9,3235.2 2195,3235.3 2207.3,3218.6 2200,3237.3 2206,3242.8 2217,3248.1 2228.9,3250.4 2239.4,3258.1 2251.8,3261.9 2261.4,3266.1 2269.1,3249.1 2264.6,3267.1 2274.7,3269.5 2282.6,3274.1 2289.4,3256.6 2288.6,3276.1 2297.7,3277.2 2304.7,3277 2307.5,3268.3 2310.4,3278.1 2316.8,3281 2328.7,3286.7 2338,3296.3ZM1716,3472 1720.2,3463.6 1712.5,3457.3 1722.5,3460.1 1728.5,3452.9 1739.9,3449.1 1755.2,3456.7 1752.6,3445.3 1755.2,3433.8 1766.7,3422.3 1778.1,3418.5 1785.8,3407.1 1793.1,3403.7 1801.7,3415.5 1797.2,3402.1 1804.9,3399.4 1814.7,3401.4 1824,3397.5 1833.8,3399.2 1843.1,3395.6 1858.3,3397.5 1873.6,3403.2 1888.9,3410.9 1889.3,3419.4 1879.8,3424.3 1890.3,3425.7 1892.7,3433.8 1885.8,3442.6 1881.3,3452.9 1878.4,3464.2 1877,3475.6 1877.4,3487.3 1873.5,3496.1 1894.5,3499.7 1872.7,3500.6 1873.6,3510.2 1872.3,3521.8 1869.8,3533.1 1863.6,3542.3 1854.5,3548.4 1853.9,3558.2 1850.7,3567.5 1849,3577.9 1843.1,3586.6 1843.4,3594.2 1831.2,3598.3 1844.3,3598.6 1847.9,3605.5 1846.7,3615.7 1850.7,3624.8 1848.1,3631.7 1858.7,3637.2 1846.3,3636 1842.5,3639 1818.6,3631 1840,3644.8 1839.2,3651.6 1833.9,3661.3 1827.8,3670.7 1823.7,3680.4 1809.3,3670.8 1821.1,3683.7 1812.5,3689.8 1803.4,3681.6 1793.4,3674.5 1783.8,3669.4 1772.9,3668.5 1762.8,3664.9 1753.4,3667.3 1745.8,3664.5 1744.5,3672.6 1742.4,3664.4 1734.8,3663.4 1725.5,3661.1 1716,3663 1716,3571.3 1728,3571.3 1739.9,3571.3 1751.5,3570.2 1762.8,3567.5 1770,3561.9 1778.1,3558 1774.1,3551.9 1763.5,3560.7 1769.4,3547.8 1762.8,3544.6 1751,3544.2 1739.9,3548.4 1728.3,3544.6 1716,3544.6ZM1716,3678.3 1725.1,3681.3 1731.4,3677.3 1733,3693 1737.9,3677.7 1743.7,3680.2 1749.4,3688.3 1736.1,3700.2 1752.7,3692.8 1759,3700.4 1774.3,3702 1789.6,3702 1793.9,3706.4 1805.4,3690.5 1799.7,3709.6 1805.6,3711 1716,3711ZM1716,3709 1843.1,3709 1843.1,3725.3 1841.2,3732.6 1830.3,3730.6 1838.1,3736.8 1831.6,3740.6 1825.3,3745.2 1819.3,3738.9 1822.5,3747.3 1816.3,3752 1806.5,3751.2 1807.4,3741.2 1801.8,3749.7 1793.4,3744.4 1783.5,3744.5 1774.3,3748.2 1765,3745.2 1755.2,3744.4 1748.3,3749.4 1753,3761.9 1744.6,3750.9 1736.1,3752 1727.7,3749.9 1730.5,3735.4 1724.6,3749.3 1716,3748.2ZM1934.7,3709 1984.4,3709 1976.8,3717.6 1967.3,3716.1 1968,3724 1963.3,3716.1 1953.8,3717.6 1947.1,3712.2 1953.8,3689.9 1943.3,3710.5ZM1716,3786.4 1728,3784.5 1739.9,3782.6 1749.7,3784.2 1757.4,3767.1 1754.1,3785.7 1762.8,3790.2 1770.9,3782 1781.9,3778.8 1787.1,3775.5 1787.4,3761.7 1793.9,3774.6 1799.4,3773.9 1808.7,3774.9 1820.4,3778.1 1831.6,3782.6 1839.2,3797.9 1840.4,3805.4 1819.4,3803.6 1839.4,3810.5 1835.4,3817 1831.6,3832.2 1822.4,3836.9 1812.5,3839.9 1804.8,3836.8 1793.7,3853.7 1799.8,3833.8 1793.4,3828.4 1784.4,3831.5 1791.1,3845.6 1781.3,3833.4 1774.3,3839.9 1764.6,3838.7 1755.2,3836.1 1746.3,3841.5 1736.1,3843.7 1729.4,3843.7 1723.1,3858.4 1722.7,3843.7 1716,3843.7ZM1835.4,3878.1 1844.9,3874.9 1854.5,3872.4 1867.9,3872.6 1881.3,3872.4 1887,3877.4 1876,3893 1890.8,3880.7 1896.5,3885.7 1899.9,3892.9 1884.7,3906.3 1902,3895.8 1908,3901 1900.4,3908.6 1889.8,3911.4 1883,3916.9 1889.1,3938.5 1878.1,3918.7 1869.8,3920.1 1854.5,3916.3 1843.1,3904.8 1839.9,3898.2 1827,3900.2 1838.8,3894.2 1837.1,3887.2ZM1770.5,3923.9 1772.8,3913.7 1776.3,3903.7 1778.1,3893.4 1785,3891.5 1797.2,3902 1789.6,3888 1793.4,3881.9 1802.5,3881.8 1811.7,3882.3 1820.1,3878.1 1823.7,3883.8 1820.3,3896.1 1829,3887.8 1835.4,3889.5 1840.6,3894.6 1849.9,3894.8 1843,3900.1 1842.8,3907.5 1846.9,3916.3 1850.5,3925.5 1858.3,3931.6 1869.4,3927.1 1881.3,3925.8 1889,3921.2 1896.5,3916.3 1906,3918.3 1915.6,3918.2 1920,3925.5 1906.3,3943.3 1923.1,3928.2 1930.9,3931.6 1946.2,3939.2 1954.7,3942 1957.9,3932 1957.8,3942.8 1966.8,3943.4 1976.8,3946.8 1988.4,3950.2 1999.7,3954.5 2007.7,3962.8 2018.8,3965.9 2030.8,3968.2 2041.7,3973.6 2051.6,3976.6 2060.8,3981.2 2069.6,3985.2 2066.2,4000.4 2075.2,3988.1 2083.7,3992.7 2091.6,3998.7 2095.2,4008 2101.9,4014 2103.7,4020.1 2121.6,4008.7 2108.5,4024.9 2114.3,4027.1 2109.9,4033.3 2122,4048.8 2105.9,4036.6 2099.6,4040.5 2091.4,4046.2 2099,4061.4 2106.9,4062.7 2105.7,4072.7 2111.5,4064.5 2118.1,4069.1 2128.8,4070.2 2137.2,4076.7 2147.2,4076.5 2153.5,4081.2 2151.4,4100.7 2158.7,4082.2 2165.8,4082.7 2175.4,4084.4 2185.3,4084.3 2194.4,4088.8 2203.7,4091.7 2213.6,4092 2221.6,4091 2227.7,4078.1 2224.7,4091.5 2230.2,4092.4 2236,4069.6 2234.5,4093.1 2239.8,4094.4 2241.5,4102.2 2243.1,4094.9 2247.8,4098.1 2249.4,4113.4 2252.7,4098.9 2259.5,4099.6 2267.1,4114.9 2263.3,4130.2 2257.2,4133.6 2248.8,4123.2 2250.9,4136.1 2244.2,4137.8 2237.5,4142.9 2232.4,4136.8 2231.8,4145.7 2223.4,4147.3 2213.6,4153.1 2205.9,4153.5 2196.5,4135 2200.3,4155.7 2196.9,4157.7 2187,4146.1 2190.7,4160.2 2188.1,4166.2 2180.8,4147.3 2183.8,4167.9 2175.4,4168.4 2166.1,4174.5 2156.3,4179.9 2144.8,4193.2 2141.9,4202.4 2144.1,4209.2 2155,4209.1 2144.1,4214 2147.6,4220.8 2146.7,4230 2147.8,4239.2 2142.7,4248.3 2145.3,4254.6 2127,4254.9 2145.3,4260.5 2147.8,4266.7 2146.8,4275.9 2145.6,4282.9 2124.9,4282.6 2145.6,4287.3 2145.9,4294.3 2142,4303.4 2142.7,4312.6 2142.1,4321.8 2144.8,4331 2026.4,4331 2028.3,4324.1 2046.8,4321.7 2028.3,4318.4 2025.6,4311.5 2024.2,4301.7 2026.6,4291.9 2028.5,4283.8 2048.1,4282.9 2028.5,4280.5 2026.9,4272.4 2026.6,4262.6 2025.8,4255.5 2015.7,4250.7 2025.8,4250.3 2024.9,4246 2041,4243.4 2024.9,4240.2 2026.4,4233.4 2030.5,4224.3 2035.4,4215.6 2038.3,4206 2042.7,4197.1 2045.5,4187.5 2046,4178 2050.7,4169.7 2053.2,4160.8 2050.3,4151.6 2045.3,4144 2037.9,4137.8 2030.1,4128.4 2022.6,4118.7 2011.3,4112.8 1999.7,4107.3 1990.9,4103 1984.4,4095.8 1974,4094.9 1978.4,4078.6 1970.3,4093.7 1961.5,4088.2 1962.1,4076.6 1974.2,4077.3 1962.1,4073 1961.5,4061.4 1954,4055.9 1955.7,4045.9 1947.9,4053.8 1938.6,4053.8 1928.7,4050.9 1919.5,4046.2 1911.2,4050.4 1907.9,4056.6 1896.9,4042.3 1903,4059.9 1896.5,4061.4 1888.3,4066.3 1880.1,4064.2 1872.8,4043.3 1876.3,4065.3 1869.8,4069.1 1860.5,4072.9 1850.7,4071.4 1843.8,4071.8 1843.5,4083.5 1838.6,4072.3 1831.6,4072.9 1825.9,4072 1827,4050.4 1819.1,4070.1 1816.1,4068.8 1818.1,4044.7 1811.3,4067.4 1804.9,4065.3 1798.1,4059.5 1813.6,4044 1795.4,4054.8 1793.4,4046.2 1794.6,4036 1791.8,4025.8 1793.4,4015.6 1792.6,4008.7 1808,4006.1 1791.8,4002.1 1789.2,3997.9 1803.4,3994.7 1788.6,3993.1 1789.6,3985 1783.6,3976.6 1778.8,3969.4 1798,3956.3 1777.2,3966.7 1774.3,3958.3 1771.9,3949.2 1787,3944.8 1771.4,3944.8 1769.6,3935.6ZM1706.4,3901 1716,3889.5 1726.5,3889.1 1732.3,3882.3 1738.1,3895.5 1737.6,3880.7 1745.9,3882.6 1755.2,3878.1 1766.7,3889.5 1762.8,3898.1 1765.3,3907.5 1762.8,3916.3 1760.1,3926.3 1759.8,3934.4 1743.1,3935.6 1759.2,3938.7 1759,3946.8 1760.7,3959 1766.7,3969.8 1774.3,3977.4 1781.9,3985 1782,3995 1785.8,4004.1 1778.2,4007.2 1773.4,3985.6 1773.4,4007.8 1768.5,4007.5 1766,3999.9 1762.6,4008.2 1755.2,4008 1745.5,4007 1737.6,4010.5 1735.2,3987.8 1733.8,4010.5 1726,4008.8 1716.2,4008.4 1706.4,4008ZM1706.4,4021.3 1716,4018 1723.1,4022.4 1726,4011 1729.1,4022 1733.4,4016.3 1736.6,4030.9 1737.5,4016 1743.7,4016.9 1746.5,4007.4 1747,4016.6 1755.2,4017.5 1763.9,4017 1763.2,4027.3 1769.5,4017.4 1775.5,4015.8 1778.9,3994.3 1781.1,4016.1 1789.6,4019.4 1791.6,4026.5 1805.8,4027.9 1792.1,4029.9 1789,4036.1 1811.8,4035.3 1789.5,4039.2 1793.4,4046.2 1800.1,4055.1 1804.9,4065.3 1794.7,4069.9 1785.8,4076.7 1792.7,4080.8 1785.6,4091.7 1797,4085.1 1801,4092 1811.2,4091.5 1821.4,4092.5 1831.6,4092 1840,4099.1 1850,4103.9 1858.3,4111.1 1863.5,4120.1 1866,4130.2 1858.9,4138.9 1854.5,4149.3 1859.4,4158.4 1862.2,4168.4 1867.6,4179.7 1877.4,4187.5 1874.9,4197.6 1869.8,4206.6 1864.2,4213.6 1856.2,4215.2 1862.9,4216.8 1862.2,4225.7 1851.6,4233.3 1839.2,4237.2 1832,4245.2 1824,4252.5 1814.7,4256.1 1808.7,4263.9 1808.7,4274 1806,4283.5 1803.5,4293 1798.6,4301.9 1795.6,4311.3 1794,4321 1793.4,4331 1716,4331ZM1951.9,4157 1954.3,4147.7 1958,4139 1961.5,4130.2 1976.8,4126.4 1983.9,4133 1988.2,4141.7 1988.3,4150.3 1999.3,4146.4 1989.3,4153.6 1994,4160.8 1988.4,4167.9 1984.4,4176.1 1977.1,4176.6 1968.6,4162.8 1971,4179.1 1965.3,4183.7 1953.8,4172.2ZM1995.9,4130.2 2007.3,4126.4 2022.6,4134 2018.8,4145.5 2003.5,4145.5ZM1930.9,4080.5 1946.2,4072.9 1961.5,4080.5 1960.8,4088.2 1953.7,4090.2 1961.7,4092.8 1965.3,4099.6 1956.7,4104.1 1950,4111.1 1943.3,4102.2 1938.6,4092ZM2110.5,3709 2338,3709 2338,3847.5 2328.4,3843.2 2320.6,3836.1 2309.7,3834.2 2302.9,3827.1 2308.9,3807.9 2299,3825.6 2290,3824.6 2283.5,3821.4 2284.1,3802.9 2276.7,3820.6 2269.8,3820.4 2259.5,3820.8 2250.5,3822.6 2239.6,3805.4 2247,3823.9 2241.2,3828.9 2243.7,3837.9 2237.9,3830.2 2228.9,3832.2 2220.6,3825.2 2213.6,3817 2207.9,3810.2 2216,3797 2203.7,3804.9 2198.3,3797.9 2194.8,3790.2 2202.5,3780.4 2190.7,3786.2 2183.1,3782.6 2174.3,3776.1 2167.8,3767.3 2159.6,3762.5 2177,3742.5 2157.3,3760.2 2154.5,3750 2144.8,3744.4 2137.6,3742.2 2145.7,3729.4 2133,3738.4 2129,3732.3 2121.9,3725.3 2120,3718.1 2110.3,3723.4 2116.5,3713.3ZM2263.3,3859 2270.7,3851.2 2278.1,3854.6 2273.2,3849.2 2282.4,3843.7 2289.2,3841.6 2292.8,3848.9 2294.4,3841.1 2301.8,3844.7 2308.9,3842.4 2310.3,3854.3 2313.4,3841.9 2320.6,3839.9 2324.5,3848.9 2332,3855.2 2319.8,3856.7 2309.1,3862.8 2300.4,3865.6 2290.9,3862.4 2282.4,3866.6 2273.3,3861.5ZM2270.9,3881.9 2281.5,3877.8 2290,3870.4 2299.6,3868 2309.1,3867.6 2318.7,3869.9 2328.2,3870.4 2329,3880.2 2332,3889.5 2325.4,3898.6 2320.6,3908.6 2307.2,3908.2 2293.8,3908.6 2286.7,3902.2 2278.6,3897.2ZM2336,1849 2642.6,1849 2643,1858.2 2642.8,1867.3 2639.9,1876.5 2645.1,1885.6 2644.4,1894.8 2643.1,1903.9 2641.4,1910.8 2652,1913.2 2641.4,1915.3 2642.2,1922.3 2641.1,1931.4 2643.7,1940.6 2642,1949.7 2643.6,1958.9 2640.1,1968 2642.8,1977.2 2645.5,1986.4 2641.5,1995.5 2639.9,2004.7 2640.4,2013.8 2644.1,2023 2644.8,2032.1 2640.8,2041.3 2642.3,2050.4 2644.7,2059.6 2644.2,2066.1 2633.5,2068.8 2644.2,2071.4 2642.9,2077.9 2639.9,2087.1 2644,2096.2 2640.7,2102.9 2626.9,2104.4 2640.7,2107.9 2642.2,2114.5 2645.2,2123.7 2640.3,2132.9 2643.5,2142 2641.6,2148.9 2661.4,2148.6 2641.6,2153.5 2641.8,2160.3 2645.4,2169.5 2645.2,2178.6 2641.9,2187.8 2644.5,2197 2642.1,2206.1 2643.9,2215.3 2642.3,2224.4 2640.1,2230.8 2663.4,2236.3 2640.1,2236.3 2642.8,2242.7 2641.2,2251.9 2643,2258.5 2653.1,2262.5 2643,2263.6 2642.6,2270.2 2633.2,2273.6 2626.8,2280.9 2618.7,2286.1 2612,2293.1 2604.4,2285.5 2597.9,2287.8 2592.2,2272.5 2592.2,2288.5 2585,2285.7 2575.8,2289.3 2568.1,2274 2568.4,2260.6 2566.2,2247.3 2554.7,2251.1 2546.5,2255.8 2537.6,2258.7 2526.1,2270.2 2527.2,2281.7 2528,2293.1 2517.5,2296.8 2508.1,2303.2 2497.4,2306.5 2490.4,2314.8 2484.1,2323.7 2480.4,2334.9 2478.3,2346.6 2470.5,2338.3 2466.9,2327.5 2458.4,2319.2 2453.5,2308.4 2457.3,2299.2 2457.3,2289.3 2465,2274 2474.5,2281.6 2486,2285.5 2495.7,2284.4 2505.1,2281.7 2505.1,2270.2 2510.8,2258.7 2508.9,2243.5 2503.4,2238.1 2488.1,2255.3 2499.6,2235.8 2492.3,2233.4 2484.1,2228.2 2473.5,2231.9 2463.1,2235.8 2455.4,2247.3 2444.2,2244 2432.5,2243.5 2423.8,2240.6 2414.6,2241.7 2405.8,2239.6 2398.3,2238.8 2396.6,2262.4 2392.8,2238.8 2385.4,2241.4 2375.2,2239.6 2368,2233.3 2359.9,2228.2 2347.8,2229.2 2336,2232ZM2369.5,2277.8 2382.8,2274 2392.5,2273.6 2401.9,2275.9 2407.7,2285.5 2403.9,2297 2395.9,2302.8 2386.7,2306.5 2373.3,2304.6 2367.6,2293.1ZM2545.2,2346.6 2549.8,2337.6 2550.9,2327.5 2566.2,2319.9 2576.3,2317.7 2586.5,2315.7 2596.8,2314.1 2608.7,2313.4 2619.7,2318 2626.2,2323.5 2641.2,2305.9 2631.3,2327.1 2638.8,2331.3 2648.3,2342.8 2648.9,2352.6 2652.2,2361.9 2657.8,2370.7 2659.8,2381 2665.5,2396.3 2665.2,2406 2667.4,2415.4 2666.6,2425.1 2669.3,2434.5 2673.3,2443.6 2673.2,2453.6 2677,2471 2545.2,2471 2546.5,2461.4 2545,2451.9 2542.7,2445.2 2553.5,2442.7 2542.7,2439.4 2547.4,2432.7 2543,2426.4 2528.4,2421.9 2543,2419.9 2546.5,2413.6 2543.7,2404 2543.5,2394.5 2546.2,2384.9 2548,2375.3 2543.1,2365.7 2546.1,2356.2ZM2699.4,2400.7 2709.1,2402.8 2719,2403.9 2722.9,2412.8 2727.3,2417.5 2722.4,2426.3 2730.7,2423.4 2733.7,2428.8 2736.8,2434.7 2745.7,2430.6 2739.8,2440 2744.8,2444.8 2745.5,2455.4 2752.4,2462.6 2757.2,2471 2703.7,2471 2703.7,2461.8 2701.7,2452.8 2697.9,2443.9 2699.9,2434.5 2699.2,2424.3 2694.2,2415.4 2694.6,2408.3 2683.7,2409.4 2693.5,2402.7 2690.4,2396.3ZM2958,2469 2958,2825.3 2950.6,2827 2949.2,2805.7 2946.7,2827 2939.3,2823 2930,2825.5 2920.6,2824.1 2911.3,2827 2902,2824.9 2895.8,2826.4 2894.4,2834.3 2889.4,2826.4 2883.3,2825.3 2875.6,2821.4 2867.3,2817.7 2857,2838.5 2861.6,2815.8 2852.7,2813.8 2841.7,2809.5 2829.8,2810 2818.3,2812.1 2806.9,2810 2798.2,2806.9 2788.8,2808.9 2780.1,2806.2 2771.9,2800.7 2778,2779.8 2767.1,2799.1 2757.2,2798.5 2745.4,2795.8 2734.3,2790.9 2723.6,2783.6 2711.4,2779.4 2699.1,2775.3 2688.4,2768 2680.6,2761 2684.6,2752 2677.8,2758.8 2669.3,2752.7 2661.9,2745 2651.6,2742.3 2642.6,2737.4 2635.5,2731.5 2626.7,2728.2 2619.7,2722.1 2613.6,2714.7 2604.1,2712.4 2596.8,2706.8 2592.5,2702 2576.7,2716.3 2587.6,2698.7 2582.7,2694.8 2573.8,2691.6 2569.6,2684.4 2560.7,2688.1 2565.7,2680.5 2558.6,2676.3 2554.1,2667.7 2547.1,2661 2544.8,2651.5 2543.3,2641.9 2541.8,2635.7 2549.6,2632.4 2540.5,2629.1 2539.5,2622.8 2539,2616.5 2552.4,2611.7 2537.7,2609.7 2535.6,2603.7 2539.3,2594.1 2543.3,2584.6 2558.6,2577 2570,2565.5 2570,2557.3 2558.2,2555.9 2569.3,2553.9 2566.2,2546.4 2567.7,2539.2 2549.4,2537.3 2567.1,2535.1 2563.6,2531.6 2549.8,2531.5 2562.8,2525.7 2562.4,2519.7 2564.6,2511.9 2557.2,2506.6 2565.3,2508.6 2566.2,2500.6 2563.2,2494.6 2573.3,2480.7 2559.6,2489.8 2554.7,2485.3 2547.1,2469ZM2336,3303.9 2342.8,3310.9 2350.5,3316.3 2359.9,3319.2 2369.5,3324.9 2375.2,3334.5 2386.4,3328.2 2398.1,3323 2407.1,3329.4 2415.8,3319 2410.6,3331.1 2421,3334.5 2425.3,3342.7 2430.7,3348.2 2420.2,3357.8 2432.4,3350.8 2436.3,3357.4 2447.9,3360.8 2459.2,3365 2463.8,3370.7 2456.5,3376.7 2466.5,3374.4 2470.7,3380.3 2465.1,3389.8 2459.5,3399.2 2451.6,3407.1 2444.4,3415.1 2436.3,3422.3 2451.6,3426.2 2458.8,3427.4 2453.4,3444.4 2464.6,3429.7 2470.7,3433.8 2478.2,3433.7 2487.9,3443 2484.3,3431.3 2489.8,3426.2 2501.3,3418.5 2511.2,3421.3 2520.4,3426.2 2535.6,3422.3 2550.9,3418.5 2562.1,3422.2 2573.8,3422.3 2584.6,3428.2 2596.8,3430 2608.2,3437.6 2604.4,3449.1 2597.8,3455.9 2609.9,3475.4 2592.8,3460.4 2585.3,3466.3 2577,3468.7 2571.5,3460.5 2571.1,3469.4 2562.6,3471 2550.9,3470.1 2543.5,3474 2533.9,3459.4 2538.9,3475.4 2530.3,3475.5 2520.4,3479.6 2514.5,3486.5 2506.9,3491.6 2501.3,3498.7 2506.9,3496.2 2502.4,3474.3 2512.8,3493.6 2515.5,3491.6 2513.1,3477.2 2520.9,3489.2 2525,3487.1 2536.5,3507.3 2528.3,3485.6 2535.6,3483.5 2542.5,3481.2 2545.5,3501 2549.5,3481.6 2553.1,3486.2 2556.7,3502.7 2558.7,3486.6 2566.2,3485.4 2577.4,3479.9 2589.1,3475.8 2597.6,3470.4 2601.2,3464 2592.1,3450.6 2605.9,3460.1 2612,3456.7 2621.6,3452.9 2624.7,3461.9 2629.9,3470.1 2631.1,3479.6 2635.6,3485.9 2630,3491.1 2638,3492.4 2637,3498.7 2616.6,3507.9 2638.4,3502.2 2642.6,3510.2 2647.5,3516 2635.8,3521.8 2649.8,3521.8 2650.2,3529.3 2649.7,3539.4 2654.1,3548.4 2654.1,3558.3 2644.3,3560.1 2654.1,3561.5 2654.1,3571.3 2651.8,3580.1 2652.5,3585.9 2638.5,3586 2651.6,3592.5 2650.2,3598.1 2646.7,3605 2663.9,3613.7 2644.7,3609.7 2642.6,3617.2 2646.4,3632.5 2638.8,3647.7 2627.3,3655.4 2631.1,3670.7 2638.8,3685.9 2646.4,3701.2 2650.2,3711 2336,3711ZM2829.8,3407.1 2833.6,3402.5 2814.4,3386.1 2837.2,3397.1 2841.6,3392.9 2845.1,3384.1 2856.5,3376.5 2871.8,3380.3 2879.5,3395.6 2875.8,3404.3 2877.3,3411.4 2857.5,3408.6 2875.8,3417 2869.7,3422.1 2871.6,3428.9 2850.4,3424.6 2869.9,3435.2 2866.5,3438.8 2844.3,3432.1 2865.6,3442.2 2865.5,3450 2860.5,3458.4 2860.5,3464.9 2843.2,3465.6 2858.9,3470.8 2860.5,3475.2 2880,3485.4 2859.2,3480 2853.9,3485.7 2852,3494.9 2852.6,3504.7 2846.9,3512.9 2847.5,3520.6 2830.7,3516.6 2846.5,3524.6 2845.6,3531.9 2838.1,3539.6 2839.2,3549.6 2838.5,3559.1 2833.6,3567.5 2826.3,3567.8 2822.2,3584.9 2821.6,3567.4 2814.6,3565.1 2804.7,3567.4 2795.4,3563.7 2791.6,3548.4 2796.5,3540.7 2800.7,3532.4 2806.9,3525.5 2814.3,3519.4 2815.7,3509.3 2822.2,3502.6 2825.5,3494 2848.7,3493.7 2826.4,3488.9 2826,3479.6 2825.1,3467.7 2829.8,3456.7 2831,3446.8 2848.3,3448.8 2831.5,3443.5 2833.6,3433.8 2835.5,3427.6 2816.5,3428.1 2834.6,3421.4 2834.3,3417.9 2818.6,3415.4 2833.6,3413.2ZM2336,3709 2654.1,3709 2661.7,3725.3 2665.8,3735 2681.8,3727.6 2667.8,3739.1 2673.2,3748.2 2672.7,3757.9 2675.1,3767.3 2672,3774.3 2688.4,3786.9 2669.3,3779.7 2665.5,3786.4 2658.4,3792.1 2671.4,3808.4 2654.2,3797.3 2650.2,3805.5 2646.4,3817 2652.5,3820.7 2648.9,3826.2 2656,3825.4 2657.3,3830 2642.7,3840.8 2659.8,3833.4 2664.3,3839.4 2666,3846 2674.4,3845.2 2669.8,3851.2 2673.7,3853.2 2666.1,3861 2676.6,3857.1 2680.8,3862.8 2676.1,3870.8 2670.4,3873.1 2677.3,3882.5 2665.7,3877.9 2660.4,3880.6 2654.2,3887.1 2650.4,3896.1 2644.8,3899.4 2637.1,3892.9 2641,3903.2 2634.8,3906 2632.4,3911.5 2612.9,3897.6 2627.7,3916.2 2624.3,3918.8 2638.7,3933.4 2622.2,3920.9 2617.2,3923.2 2630.7,3942.1 2613.8,3926.5 2610,3932.1 2603.3,3938.1 2597.1,3944.6 2593.1,3953.3 2583.8,3956.8 2579.3,3962.5 2560.7,3948.6 2576.8,3965 2575.5,3971.8 2591,3990.7 2573.4,3974 2567.4,3978.6 2561.4,3981 2577,3997.1 2557,3985.3 2554.6,3991.2 2548.3,3997.7 2538.9,4001 2534.3,4005.7 2537.4,4015.4 2530.9,4009.2 2527.7,4012.7 2519.7,4005.6 2525.1,4015.3 2520.4,4020.8 2515.5,4024.6 2500.1,4011.7 2511.5,4028.6 2508.4,4034.2 2502.4,4040.9 2495.5,4046.8 2490,4054 2485.4,4057.7 2476.2,4051.1 2481,4062.1 2478.4,4064 2488.3,4076.1 2474.5,4067.8 2471.1,4071 2478.7,4079.2 2468.8,4073.3 2467.4,4078 2455.4,4066.5 2463.1,4082.3 2459.6,4087.3 2451.6,4092 2445.7,4083.4 2439.8,4077.1 2451.5,4063.8 2437.5,4074.1 2431.5,4070 2436.2,4062.2 2429.6,4067.5 2425.8,4059.2 2418.2,4051.8 2413.4,4042.3 2415.9,4033.6 2417,4026.8 2429.3,4030.7 2418.4,4022.5 2424.5,4017.4 2424.9,4008 2419,4000.4 2413.4,3992.7 2409.6,3984.2 2402.3,3978 2398.1,3969.8 2401.2,3957 2409.6,3946.8 2405.8,3931.6 2393.9,3926.7 2382.8,3920.1 2378.2,3910.9 2375.2,3901 2368.6,3892.6 2367.6,3881.9 2361.3,3877.9 2352.8,3883.3 2358.9,3875.4 2356.7,3869.9 2366.6,3856.6 2354.1,3867.3 2348.5,3862.8 2342.4,3851.2 2336,3839.9Z" fill="#d3d3d3"/>
<path d="M1707.4,4056.9 1717.6,4057.3 1727.5,4060 1737.6,4059.9 1743.8,4055.7 1743.3,4044.1 1749.5,4054.2 1757.7,4057.4 1766.7,4052.3 1769.7,4057.9 1751.6,4072.4 1773.2,4062.8 1777.4,4067.6 1792.3,4067.6 1802.5,4065 1809.7,4066.3 1809.8,4089.7 1815.6,4066.5 1821.2,4065.8 1819.7,4074.2 1824.5,4065.9 1830.1,4066.6 1831.1,4082.1 1835.8,4066.7 1843.1,4069.1 1843.1,4077.5 1835.9,4079.3 1835.2,4067.1 1830.1,4079.3 1823.1,4075 1816.2,4077.4 1814.8,4066.8 1809.9,4077.3 1803.1,4075.2 1794.9,4078.2 1792,4088.4 1791.3,4078.2 1783.1,4076.7 1784.3,4084.6 1793.6,4083.7 1786.1,4090.7 1789.2,4098.1 1798.8,4106.5 1804.5,4118 1801.1,4124.6 1807,4135.6 1796.1,4129.1 1789.2,4131.7 1790.4,4138.9 1770.7,4136.6 1789.9,4143.3 1788.7,4150.2 1786.1,4159.2 1784.4,4166.4 1800.6,4178.5 1782.1,4171.5 1777.4,4173.8 1756.9,4168.6 1774.7,4179.7 1773.9,4186.7 1770.8,4193.1 1763.4,4194.7 1770,4198 1770.9,4205.1 1759,4212.3 1756,4205.1 1749.8,4195.9 1743.7,4186.8 1737.6,4177.6 1740.1,4168.4 1737.6,4159.2 1746.8,4151.6 1743.1,4145.3 1753.6,4140.6 1742.3,4140.5 1743.7,4133.3 1737.4,4129.9 1748.6,4113.1 1733.9,4125.7 1732.2,4121 1721.3,4127.2 1729.7,4118 1725.4,4111.9 1719.6,4114.1 1717.8,4103 1713.5,4114.6 1707.4,4113.4ZM1000,4045 1008.3,4046.2 1010.6,4058 1011.6,4046.4 1020,4046 1031,4059 1042.4,4058.2 1053.6,4061.1 1065,4061 1079,4065 1088.1,4068.4 1094.7,4067.8 1093.5,4085.9 1100.4,4068.4 1107,4068 1120.1,4068.3 1133,4070 1137.6,4075.1 1120.2,4088.3 1141.2,4080.7 1144,4087 1132.8,4091 1122,4096 1111,4094 1115,4105 1128.2,4106.1 1140,4112 1150,4119 1166,4111 1164.6,4122.5 1158,4132 1149.9,4138 1140,4140 1132,4135 1123.9,4130.4 1116.2,4128.9 1106.5,4148.8 1113.2,4127.7 1106.3,4124.4 1096.5,4123.7 1087.9,4120.3 1080,4115 1071.2,4111 1062.9,4106.2 1058.7,4100.2 1063.9,4090.5 1053.8,4097.2 1046.2,4096.7 1037.5,4092.6 1030.2,4086.2 1022.9,4079.7 1013.4,4076.9 1005.2,4071.9 997.1,4066.8 990,4060 995.1,4052.6Z" fill="#fff"/>
<path d="M1098,2358.1 L1088.2,2354.3L1072.9,2358.1L1078.7,2369.5L1084.4,2384.8L1092,2400.1L1094,2409.5L1093.9,2419.2L1083.7,2414.5L1072.9,2411.6L1063.3,2415.2L1053.8,2419.2L1050,2434.5L1038.6,2445.9L1023.3,2453.6L1013.7,2461.2L1011.8,2471M1008,2469 L1000.4,2485.3L1015.6,2492.9L1030.9,2500.6L1038.6,2515.8L1034.7,2527.3L1046.2,2540.7L1037.8,2547.8L1027.1,2550.2L1019,2558.3L1008,2561.7L1001.8,2568.9L993,2572.2L985.1,2577L981.1,2586L973.6,2592.2L966,2603.7L958.3,2615.2L946.9,2626.6L931.6,2630.4L920.1,2622.8L908.7,2622.8L897.2,2626.6L881.9,2634.3L870.5,2638.1L859,2645.7L851.4,2661L849.7,2672.4L849.5,2683.9L843.7,2699.2L836.1,2714.5L830,2721.8L824.6,2729.8L817.1,2731.8L802.1,2716.2L813.4,2734.6L809.3,2741.2L794.1,2745L778.8,2743.1L771.1,2733.6L759.7,2727.9L748.2,2737.4L738.6,2739.9L729.1,2743.1L736.8,2750.4L740.6,2760.3L740.6,2775.6L741.2,2784.8L736.8,2793.3L736.8,2802.3L725.3,2810L720.8,2819.3L717.7,2829.1L714.6,2837.6L711.9,2846.3L716.9,2854.8L721.5,2863.5L710,2871.1L700.4,2871L690.9,2869.2L683.3,2882.6L668,2886.4L666.1,2901.7L675.6,2915L685.7,2912.5L695.9,2911.3L706.2,2913.1L718.6,2914.1L731,2915L725.3,2928.4L721.8,2938.1L717.7,2947.5L710,2962.8L712.6,2974.3L710,2985.7L710.1,2995.7L706.2,3004.8L701.7,3013.9L702.4,3023.9L698.6,3035.4L691.3,3043.7L689,3054.5L679.5,3065.9L671.6,3071.4L664.2,3077.4L656.5,3091M708.1,2882.6 L717.7,2869.2L727.2,2867.3L731,2880.7L725.3,2892.1L713.8,2894L708.1,2882.6M1034.7,2580.8 L1042.4,2573.1L1057.7,2565.5L1066.7,2558.2L1072.9,2548.3L1077.6,2556.2L1079,2565.6L1084.4,2573.1L1076.8,2584.6L1061.5,2590.3L1051.7,2591.8L1042.4,2588.4L1034.7,2580.8M1053.8,2706.8 L1056.9,2697.5L1057.7,2687.7L1066,2684.1L1072.9,2678.2L1085.6,2674.8L1098,2670.6M1098,2691.6 L1092.5,2699.4L1084.5,2705.4L1080.6,2714.5L1065.3,2718.3L1053.8,2706.8M750.1,3058.3 L767.3,3054.5L773.4,3062.3L782.6,3065.9L790.2,3081.2L792.2,3091M755.9,3091 L752,3073.6L750.1,3058.3M656.5,3089 L646.6,3096.6L637.4,3105.3L633.1,3113.9L626,3120.6L617.2,3129.2L610.7,3139.7L604.6,3147.6L604.9,3158.3L599.2,3166.4L592.3,3172.6L584.2,3176.9L576.3,3181.7L568.7,3191.2L568.4,3201.8L570.6,3212.2L568.9,3222.4L570.9,3232.7L568.7,3242.8L562.7,3253.7L553.4,3261.9L547.8,3271.6L538.1,3277.2L530.5,3292.5L521.4,3294.4L512.3,3294.6L503.2,3291.8L494.2,3294.7L485.1,3289.8L476,3292.5M794.1,3089 L790.2,3105.3L781.6,3111.9L775,3120.6L763.5,3109.1L761.8,3098.3L755.9,3089M476,3353.6 L485.4,3354.7L494.8,3353L504.3,3353.5L513.7,3351.7L523.1,3353.2L532.5,3354.2L541.9,3353.6L548.3,3360.6L553.4,3368.9L563.8,3371.8L568.7,3380.3L575.1,3391.5L580.1,3403.2L564.9,3410.9L563.4,3421.4L567.6,3431.2L568.7,3441.4L574.5,3449L580.1,3456.7L586,3464.3L591.6,3472L603.1,3483.5L604.9,3473.1L610.7,3464.4L612.1,3454.8L610.7,3445.3L618.3,3433.8L608.8,3422.3L609.9,3410.9L608.8,3399.4L616.1,3392.8L624.9,3388.5L633.6,3384.1L639.7,3376.2L640.2,3365.8L645.1,3357.4L646.6,3346.4L652.8,3337.1L656.5,3326.8L670,3326.9L683.3,3328.8L686.9,3337.9L690.2,3347.2L693.2,3356.6L698.6,3365L710.7,3368.1L721.5,3374.6L734.8,3373L748.2,3372.7L760.3,3374.8L771.1,3380.3L775.8,3388.8L782.6,3395.6L791.3,3402.8L801.7,3407.1L813.2,3414.7L820.5,3423.3L824.6,3433.8L835.2,3437.4L844.5,3443.9L855.2,3447.2L853.3,3464.4L843.7,3472L851.4,3479.6L843.7,3494.9L847.2,3504.3L855.2,3510.2L859,3517.8L851.4,3533.1L855.2,3548.4L862.8,3559.9L870.5,3575.2L874.7,3584.2L874.3,3594.3L879,3605.4L881.9,3617.2L883,3627.8L889.6,3636.3L889.6,3651.6L900.7,3654.7L908.7,3663L911.5,3672.4L912.5,3682.1L911.8,3692L915.7,3701.3L916.3,3711M916.3,3709 L923.7,3720.2L927.8,3732.9L935.4,3748.2L933.9,3757.8L931.6,3767.3L936.5,3775.5L935.4,3785.5L939.2,3794L943.7,3806.2L950.7,3817L954.6,3804.6L962.2,3794L972.3,3793.2L981.3,3797.9L989,3803.4L996.5,3809.3L1003.8,3815.6L1011.8,3820.8L1027.1,3824.6L1038.6,3826.4L1050,3828.4L1061.8,3828.3L1072.9,3832.2L1080.6,3836.1L1072.9,3847.5L1088.2,3855.2L1098,3855.2M1718,2358.1 L1708.2,2361.9L1699.5,2367.5L1689.1,2367.6L1679.2,2369.2L1670,2373.4L1659.9,2375.8L1650.9,2381L1640.8,2380L1631.8,2384.8L1624.4,2387.6L1616,2379.4L1621.2,2389.9L1616.5,2396.3L1609.2,2402.4L1601.3,2407.7L1589.8,2419.2L1582.2,2434.5L1576.9,2443.3L1576.4,2453.6L1574.5,2471M1536.7,2471 L1547.8,2458.9L1532.9,2461.2L1520.3,2464.7L1511.1,2461.2L1503.5,2453.6L1493.4,2457.6L1483.2,2461.2L1470.2,2466.6L1461.1,2464.1L1451.9,2466.6L1437,2461.2L1434.2,2450.7L1427.2,2442.5L1422.1,2433.3L1416.9,2424.8L1415.9,2416.9L1395.3,2422.6L1415,2413.5L1414.8,2405.4L1414.7,2394.4L1419.8,2384.6L1422.1,2374.1L1430.9,2365L1437,2353.9L1438.3,2341.7L1441.1,2333.2L1428.9,2326L1443,2327.5L1448.4,2319.9L1455.7,2308.8L1461.8,2297L1465.7,2287.4L1469.5,2277.8L1456.1,2285.5L1448.6,2292.1L1440.9,2298.3L1433.2,2304.6L1426.4,2313.5L1421.7,2323.7L1411,2326.1L1402.6,2333.2L1387.3,2327.5L1379.7,2327.5L1371.8,2334.3L1363,2340L1356.8,2348.5L1347.1,2352.9L1336.9,2355.4L1326.2,2355L1310.9,2360L1307.1,2346.6L1293.7,2349.2L1280.4,2346.6L1270.5,2346.9L1261.3,2350.4L1254.7,2357L1246,2360L1240.3,2369.5L1247.9,2382.9L1257.4,2396.3L1253.6,2413.5L1246,2419.2L1230.7,2414.6L1215.4,2416.1L1200.1,2424.9L1190.5,2425.3L1181,2427.6L1165.8,2419.2L1161.9,2410.2L1154.3,2403.9L1148.1,2396.1L1144.8,2386.7L1135.8,2380.9L1127.6,2374.1L1121.6,2366.5L1112.3,2363.8L1096,2356.2M1131.4,2578.9 L1146.7,2575.1L1156,2575L1164.5,2579L1173.4,2580.8L1181.5,2587.2L1186.8,2596.1L1186.1,2602.9L1170,2607.5L1186.7,2608.6L1188.7,2615.2L1192.5,2626.6L1184.9,2630.4L1178.2,2640.8L1169.6,2649.5L1158.9,2655.6L1146.7,2657.2L1139,2664.8L1128,2669.3L1116.1,2670.6L1108.3,2663.3L1104.6,2653.4L1108.5,2638.1L1104.6,2626.6L1116.1,2619L1123.7,2607.5L1127.6,2592.2L1131.4,2578.9M1096,2670.6 L1106.6,2668.6L1112.3,2683.9L1096,2691.6M1096,2573.1 L1104.6,2577L1102.7,2584.6L1096,2584.6M1574.5,2469 L1568,2479.6L1558.8,2488.7L1552.1,2485.6L1549.8,2465.3L1545.8,2485L1538.6,2486.8L1529.4,2479.6L1536.7,2469M1555.4,2527.3 L1561.4,2520.5L1568.2,2514.6L1574.5,2508.2L1583.5,2501.6L1593.6,2496.7L1607,2489.1L1605.8,2495.5L1584.1,2502.8L1606.5,2502.2L1608.9,2508.2L1608.7,2517.8L1606.3,2526.7L1601.3,2534.9L1599,2545.2L1595.8,2555.2L1593.6,2565.5L1586,2550.2L1574.5,2546.4L1563.1,2538.8L1555.4,2527.3M1612.7,2538.8 L1624.2,2529.2L1639.5,2531.1L1646.8,2533.9L1660.3,2521.2L1652.6,2537.4L1658.6,2542.6L1665.8,2549.1L1670,2557.9L1679.3,2562.4L1689.1,2565.5L1696.3,2572.1L1700.6,2580.8L1692.9,2588.4L1685.3,2596.1L1692.9,2603.7L1681.5,2615.2L1677.7,2630.4L1671,2639.5L1666.2,2649.5L1661.1,2641.9L1653.3,2640.6L1641.5,2650L1649.7,2637L1647.1,2630.4L1639.5,2619L1644.2,2607.8L1647.1,2596.1L1631.8,2592.2L1624.2,2584.6L1621.2,2574.7L1616.5,2565.5L1617.6,2556.3L1612.8,2547.8L1612.7,2538.8M1650.9,3567.5 L1650.8,3558.5L1672.8,3560.3L1651.7,3553L1654.7,3544.6L1662.4,3529.3L1670,3514L1679.6,3502.6L1684.9,3506L1679.4,3510.9L1688.3,3511.6L1689.1,3517.8L1694,3527.9L1700.6,3537L1703.1,3547.1L1705.1,3557.5L1708.2,3567.5L1718,3571.3M1718,3666.8 L1700.6,3663L1685.3,3655.4L1677.2,3651.1L1665.6,3655.8L1674.3,3648.2L1670,3640.1L1667.2,3632.2L1688.9,3622.7L1665.7,3628.6L1662.4,3621L1657,3612.7L1639.9,3617.4L1655.4,3607.9L1654.7,3598.1L1651,3588.2L1649.7,3579.7L1637,3577.4L1649.3,3576.4L1650.9,3567.5M1692.9,3487.3 L1699.1,3478.2L1708.2,3472L1718,3472M1718,3548.4 L1708.2,3544.6L1707.3,3535.2L1704.6,3526.3L1700.6,3517.8L1698.4,3509.2L1680.5,3509.6L1697.6,3506.1L1696.2,3497.3L1692.9,3487.3M1330,3655.4 L1345.3,3647.7L1353.1,3646.6L1363.2,3661.5L1358,3644.7L1364.4,3640.1L1374.4,3637.3L1383.5,3632.5L1393.5,3629.8L1402.6,3624.8L1411.7,3627.2L1410.3,3635.5L1416.1,3627.9L1425.5,3628.6L1437,3640.1L1433.2,3651.6L1421.7,3655.4L1415.7,3662.8L1410.2,3670.7L1395,3678.3L1383.6,3675.6L1372,3674.5L1356.8,3682.1L1341.5,3674.5L1337.4,3667.8L1352.1,3656.5L1334,3662.1L1330,3655.4M1463.7,3640.1 L1471.5,3634.5L1479,3628.6L1490.5,3628.5L1501.9,3628.6L1509.6,3640.1L1504,3644.1L1516.4,3658.4L1500.4,3648.9L1498.1,3655.4L1488.8,3658.9L1479,3661.1L1467.5,3655.4L1463.7,3640.1M1479,3605.7 L1489.5,3604.2L1499.6,3601.3L1509.6,3598.1L1517.2,3613.4L1513.4,3624.8L1505.6,3624.4L1506.4,3613.7L1500.2,3622.3L1494.3,3617.2L1486.6,3611.5L1479,3605.7M1559.2,3594.3 L1574.5,3586.6L1576.7,3594.3L1569.5,3602.2L1579.2,3597.6L1586,3601.9L1593.6,3613.4L1601.3,3624.8L1604.5,3632.3L1624.9,3625.9L1606,3636.3L1608.9,3643.9L1611.4,3649.8L1596.6,3658.7L1612.7,3656.6L1612.7,3663L1601.3,3674.5L1586,3666.8L1583.8,3659.7L1587.5,3654.3L1580.8,3655.6L1574.5,3651.6L1570.4,3641L1563.1,3632.5L1563.4,3622.4L1559.2,3613.4L1557.6,3603.8L1559.2,3594.3M1624.2,3632.5 L1635.6,3624.8L1639.7,3630.1L1635.4,3637.7L1643.1,3634.7L1647.1,3640.1L1653.2,3647.4L1658.6,3655.4L1666.2,3670.7L1650.9,3674.5L1644.5,3672.5L1651.2,3659L1639.4,3668.7L1635.6,3663L1628,3647.7L1624.2,3632.5M1360.6,3697.4 L1370.6,3694.8L1379.7,3689.8L1390.9,3686.6L1402.6,3685.9L1412.2,3685.3L1421.7,3685.9L1431.1,3690.3L1440.8,3693.6L1450.9,3696.5L1455.8,3689.8L1453.9,3697.5L1463.7,3701.2L1479,3693.6L1494.3,3701.2L1498.1,3711M1356.8,3711 L1360.6,3697.4M1639.5,3685.9 L1648.2,3680.2L1658.6,3678.3L1670,3685.9L1666.2,3701.2L1659.9,3701.6L1654.8,3681.5L1653.4,3701.6L1647.1,3701.2L1639.5,3685.9M1692.9,3701.2 L1702.3,3695.3L1708.2,3685.9L1718,3685.9M1692.9,3711 L1692.9,3701.2M1261.3,3715.7 L1270.3,3718.7L1280.4,3718.5L1288.9,3723.5L1296,3726.8L1295.3,3734.5L1299.4,3727.7L1307.1,3729.1L1312.1,3738.9L1311.2,3748.2L1295.4,3754.7L1312.9,3752.8L1318.6,3759.7L1333.8,3763.5L1345.3,3774.9L1346.7,3783.2L1332.3,3788.8L1348,3788.2L1349.5,3796.4L1353.2,3804.9L1343.6,3807.8L1354.1,3808.2L1356.8,3817L1346.5,3819.1L1336,3820.6L1326.2,3824.6L1316.1,3826.4L1305.9,3827.9L1295.6,3828.4L1287.9,3835.2L1295.7,3858.3L1282.8,3837.8L1272.7,3839.9L1261.3,3847.5L1254.2,3850.2L1239.3,3835.4L1250.5,3853L1244.7,3857.3L1242.8,3864.9L1228.7,3850.2L1237.3,3869.1L1230.7,3870.4L1219.5,3866.6L1207.8,3867.7L1196.3,3866.6L1194.1,3857.1L1192.5,3847.5L1190.8,3839.4L1167.3,3835.2L1190.8,3832.7L1192.5,3824.6L1190.2,3812.6L1184.9,3801.7L1190.6,3797.8L1178.3,3779.2L1194.8,3794.6L1200.1,3790.2L1215.4,3786.4L1223.1,3771.1L1234,3767.8L1242.2,3759.7L1253.6,3748.2L1255.7,3738.7L1257.4,3729.1L1261.3,3715.7M1265.1,3874.3 L1271.2,3867.1L1281.8,3870.3L1273.1,3863.9L1274,3853.6L1283.6,3849.2L1273.4,3842.1L1286.1,3845L1288,3836.1L1299.9,3836.9L1310.9,3832.2L1318.8,3830.5L1320.1,3845.9L1324.3,3830.1L1332.3,3830.3L1343,3829.9L1353.8,3830.5L1364.4,3828.4L1365,3837L1353.1,3836.8L1365,3840.2L1362.8,3845.8L1347.9,3851.5L1362.8,3851.8L1364.4,3859L1372,3855.2L1377.4,3860.4L1370.2,3870.8L1382.1,3865.1L1384.3,3871L1378.4,3875.6L1386.8,3873.5L1395,3878.1L1387.3,3889.5L1402.6,3889.5L1405.8,3879.8L1410.2,3870.4L1417.9,3874.3L1418.2,3883.8L1420.1,3892.9L1425.5,3901L1426.6,3909.1L1403.6,3912.9L1426.6,3913.9L1423.5,3922L1425.9,3930.3L1434.2,3930.3L1425.9,3934.7L1425.5,3943L1440.8,3939.2L1444,3932.7L1457.2,3933L1444.3,3926.4L1441.7,3919.6L1444.9,3911.4L1458.1,3908.7L1445,3908.3L1444.4,3903.1L1436.9,3901.4L1444.8,3896.9L1440.9,3889.9L1443.3,3880.2L1444.6,3870.4L1452,3873.2L1452.8,3892.9L1456.3,3873.2L1463.7,3870.4L1468.1,3882.6L1475.2,3893.4L1474.4,3903.6L1478,3910.3L1463,3912.2L1478,3917.1L1475.2,3923.9L1475.6,3934.6L1472.6,3943.2L1452,3943.2L1472.6,3947.4L1476.8,3956L1475.4,3966.7L1475.2,3977.4L1471.4,3992.7L1474.7,4002.4L1479,4011.8L1484.9,4017.8L1475.4,4027.1L1486.9,4020.2L1489.5,4028.9L1498.1,4034.7L1513.4,4042.3L1512,4050.2L1521.3,4053.6L1512.9,4054.8L1517.2,4061.4L1509.6,4076.7L1504.7,4084.4L1492.7,4076.4L1501.9,4087.1L1494.3,4092L1482.3,4094.4L1471.4,4099.6L1462.6,4099.4L1463.4,4087.8L1456.8,4098.5L1448.4,4095.8L1441.4,4092.4L1455.2,4074.6L1438.4,4090.2L1433.2,4084.4L1424.6,4079.9L1417.9,4072.9L1402.6,4076.7L1387.3,4072.9L1377.4,4073.7L1378.3,4088.9L1374,4074.2L1364.4,4076.7L1354.2,4074.7L1346.7,4079.5L1342.1,4088.5L1341.3,4079.5L1333.8,4076.7L1318.6,4072.9L1306.7,4073.5L1295.6,4069.1L1284.2,4061.4L1280.4,4046.2L1288,4034.7L1280.2,4028.3L1276.5,4018.4L1268.9,4011.8L1257.5,4006.5L1249.8,3996.5L1249.8,3987.4L1244.5,3979.1L1246,3969.8L1249.8,3962.1L1260,3959.4L1270.2,3959.4L1280.4,3962.1L1289.7,3968.3L1300.1,3971.6L1310.9,3973.6L1321.4,3976.7L1330.7,3978.3L1324.5,3993.1L1333.7,3979.4L1341.5,3985L1334.1,3977.2L1326.2,3969.8L1320.1,3968.6L1326.8,3951.3L1314.3,3964.8L1309.4,3961.8L1303.3,3954.5L1293.7,3949.7L1282.2,3952.2L1272.7,3946.8L1265.1,3939.2L1264.3,3928.6L1259.4,3919L1257.4,3908.6L1272.7,3908.6L1280.4,3901L1291.8,3903.7L1303.3,3901L1288,3893.4L1272.7,3885.7L1265.1,3874.3M1096,3836.1 L1108.5,3836.1L1111.8,3842L1104,3844.9L1113,3848.4L1112.3,3855.2L1113.2,3867.1L1107.6,3877.9L1106.6,3889.5L1111.8,3900.4L1112.3,3912.5L1121.8,3911.7L1131.4,3912.5L1133.8,3905.1L1121.5,3893.3L1135.7,3902.2L1142,3901.6L1136.2,3895.9L1145.8,3895.9L1146.7,3889.5L1140.5,3898.1L1139,3908.6L1135.2,3923.9L1146.7,3931.6L1158.1,3922L1163.2,3930L1168.2,3934L1184.5,3919.7L1172.2,3937.7L1178.3,3940.5L1184.9,3946.8L1191.3,3957.4L1192.5,3969.8L1203.3,3975.8L1211.6,3985L1218.4,3991.5L1219.3,4000.1L1203,4011.7L1221.1,4002.7L1226.9,4008L1234.2,4014.2L1242.2,4019.4L1249.8,4015.6L1254.9,4025.5L1261.3,4034.7L1265.5,4046L1268.9,4057.6L1259.5,4061.9L1249.8,4065.3L1234.5,4069.1L1242.2,4080.5L1251.8,4084.1L1261.3,4088.2L1274,4091.4L1284.2,4099.6L1292.7,4102.4L1291.1,4122.2L1298.7,4104.4L1307.1,4107.3L1315.3,4102.2L1324.7,4101.4L1333.8,4099.6L1345.3,4097.8L1356.8,4095.8L1372,4088.2L1379.2,4085.4L1382.3,4108.1L1385.3,4085.4L1392.4,4088.2L1402.6,4088.2L1408.2,4094.7L1401.3,4113.8L1413.3,4097.8L1421.7,4099.6L1425.1,4109L1433.2,4114.9L1433.2,4130.2L1439.1,4138.7L1449.7,4141.4L1456.1,4149.3L1462.6,4157.8L1457.8,4168.2L1465.4,4160.1L1475.2,4164.6L1486.6,4166.5L1487.1,4182L1490.5,4166.5L1501.9,4164.6L1509.4,4164L1511.5,4154L1515,4164.3L1522.3,4165.1L1532.5,4166.5L1544.1,4166L1555.4,4168.4L1563.6,4160.4L1574.5,4157L1589.8,4160.8L1600.1,4168.8L1598.6,4181L1609.5,4175.5L1616.9,4165.7L1623.3,4156.4L1629.5,4147L1634.1,4134.8L1638.7,4119.5L1643.5,4112.6L1659.4,4115.6L1645.3,4107L1644.1,4100.6L1632.2,4093L1645.6,4096.1L1649,4088.2L1660,4086.6L1670.4,4090.5L1679.6,4096.6L1693.3,4105.8L1701,4113.4L1718,4113.4M1368.2,3725.3 L1372.7,3716.3L1379.7,3709M1479,3709 L1490.5,3717.6L1493.6,3730.4L1501.9,3740.6L1517.2,3748.2L1516.2,3757.8L1517.2,3767.3L1515.5,3776L1506.1,3772.8L1512.6,3780.7L1505.7,3786.4L1494.9,3791.9L1482.8,3792.1L1475.6,3787.7L1479.2,3780L1471.6,3785.8L1463.7,3782.6L1452.5,3786.1L1440.8,3786.4L1433.6,3787.4L1430.9,3771L1430,3788.2L1422.7,3789L1414.1,3792.1L1398.8,3786.4L1393.1,3771.1L1398.5,3765.8L1406.7,3782.8L1402.7,3764L1410.2,3763.5L1421.9,3762.4L1433.2,3759.7L1433.2,3752L1417.9,3748.2L1406.1,3745.2L1395,3740.6L1379.7,3736.7L1368.2,3725.3M1517.2,3786.4 L1524.8,3776.9L1534.4,3786.4L1528.7,3796L1517.2,3786.4M1536.3,3725.3 L1551.6,3717.6L1563.1,3729.1L1570.7,3725.3L1582.2,3726.9L1593.6,3729.1L1601,3735.2L1611.5,3715.9L1603.8,3736.9L1612.7,3740.6L1616,3749.2L1617.6,3758.1L1616.5,3767.3L1614.2,3774L1599.9,3774.7L1613.2,3779.3L1612.7,3786.4L1608.9,3801.7L1601.3,3813.1L1590.6,3811.3L1584.9,3799L1585.1,3811.3L1574.5,3813.1L1572.5,3803.6L1570.7,3794L1562.5,3786.9L1555.4,3778.8L1544,3767.3L1544.8,3759.2L1527.1,3762.4L1544.1,3755.4L1540.1,3748.2L1535.5,3737.2L1536.3,3725.3M1628,3717.6 L1637.8,3717.2L1647.1,3713.8L1655.6,3721.3L1666.2,3725.3L1670,3740.6L1662.4,3752L1652.5,3751.5L1643.3,3748.2L1637.2,3740.8L1631.8,3732.9L1628,3717.6M1624.2,3805.5 L1629,3799.3L1615.7,3788.8L1631,3796.6L1635.6,3790.2L1650.9,3790.2L1654.7,3799.3L1662.4,3805.5L1664.2,3812.4L1686.7,3814.1L1664.2,3818.9L1659.9,3825.9L1662.4,3836.1L1650.7,3836.8L1639.5,3839.9L1636,3830.5L1628,3824.6L1628.1,3814.7L1624.2,3805.5M1670,3748.2 L1679.2,3742.1L1685.3,3732.9L1697,3732.3L1708.2,3729.1L1718,3729.1M1718,3843.7 L1704.4,3839.9L1697.2,3839.6L1693.1,3856.9L1692,3838.6L1685.3,3836.1L1679.3,3827.4L1677.7,3817L1674.4,3807L1676.6,3799.2L1685.4,3793.9L1676,3793.7L1673.8,3786.4L1670.3,3777.1L1671.1,3767.4L1672.9,3757.6L1670,3748.2M1467.5,3859 L1479,3851.3L1494.3,3855.2L1501.9,3866.6L1494.3,3881.9L1488.2,3889.7L1479,3893.4L1471.4,3881.9L1471.9,3870L1467.5,3859M1517.2,3908.6 L1528.7,3897.2L1540.1,3908.6L1540.4,3901.9L1534.6,3893.9L1543.1,3895.7L1545.5,3889.8L1551.6,3881.9L1544,3870.4L1555.7,3867.4L1566.9,3862.8L1575.5,3859.3L1583.3,3861.3L1585.2,3873.9L1586.3,3860.9L1593.6,3859L1600.3,3867.5L1608.9,3874.3L1608.7,3883.3L1606.3,3892.1L1605.1,3901L1605.1,3908.1L1591.1,3911.8L1605.6,3913.1L1609.7,3919.8L1606.7,3929.8L1608.9,3939.2L1607.4,3947.4L1592.7,3950.4L1606.9,3951.2L1609.3,3959.9L1605.1,3969.8L1597.5,3977.4L1589.8,3985L1579.2,3992.5L1566.9,3996.5L1560.4,3987.4L1555.4,3977.4L1551.5,3968.9L1549.6,3961.7L1566.5,3953.2L1548.6,3958.2L1547.8,3950.7L1542,3943.1L1536.3,3935.4L1531.6,3928.1L1520.4,3931.6L1528.9,3924.4L1521.6,3919L1517.2,3908.6M1628,3881.9 L1628.2,3873.6L1639.6,3873.4L1630.1,3869L1635.6,3862.8L1645,3860.3L1654.7,3860.9L1666.1,3863.9L1677.7,3866.6L1689.8,3870L1702.5,3870.4L1700.2,3880.9L1698.1,3891.4L1692.9,3901L1687,3908.1L1684.4,3917.4L1677.7,3923.9L1666.2,3935.4L1656.6,3933.7L1647.1,3935.4L1647.4,3945.4L1643.3,3954.5L1637.1,3960.3L1625.8,3958.2L1634,3965.4L1631.8,3973.6L1624.2,3962.1L1626.8,3952.1L1628,3941.9L1628,3931.6L1624.6,3925.6L1644.4,3915.9L1622,3919.1L1620.4,3912.5L1624.8,3905.9L1612.8,3900L1626.3,3900L1623.7,3891.6L1628,3881.9M1597.4,4004.1 L1602.4,3997.4L1597.2,3985.9L1604.9,3995.6L1612.7,3992.7L1617.1,3984L1624.2,3977.4L1639.5,3981.2L1646,3984.6L1642.2,3996.5L1649.7,3987.4L1654.7,3992.7L1657.1,4004.1L1658.6,4015.6L1659,4027.3L1662.4,4038.5L1669.4,4045.2L1673.8,4053.8L1677.7,4065.3L1668.6,4069.2L1662.4,4076.7L1652.4,4079.4L1643.3,4084.4L1633.3,4087.2L1624.2,4092L1616.3,4084.6L1608.9,4076.7L1606.1,4071.1L1615.8,4062.1L1602.8,4066.2L1598.3,4061.7L1593.6,4053.8L1598.1,4042.6L1601.3,4030.9L1601,4021.8L1596.8,4013.3L1597.4,4004.1M1536.3,4103.5 L1545.1,4097L1551.6,4088.2L1559.2,4078.6L1566.9,4069.1L1576.5,4074.8L1583.6,4082.9L1589.8,4092L1589.1,4102.1L1593.6,4111.1L1601.3,4122.6L1608.9,4130.2L1600.6,4138L1589.8,4141.7L1580.3,4137.6L1570.7,4134L1563.1,4128.2L1555.4,4122.6L1540.1,4114.9L1536.3,4103.5M2338,2232 L2323.2,2231.2L2309.5,2224L2324.4,2214.8L2332.8,2199.5L2332.8,2186.9L2322.1,2190.8L2313.3,2198L2298.4,2195.7L2290.8,2187.9L2283.9,2179.3L2271.6,2180.6L2259.5,2178.5L2246.1,2174.7L2248,2163.2L2259.5,2157.5L2251.8,2149.9L2240.4,2151.8L2228.9,2158.7L2213.6,2155.6L2214.3,2167.1L2213.6,2178.5L2211.9,2188L2206,2195.7L2194.5,2201.4L2185.7,2195.5L2193.7,2183.8L2183.2,2193.5L2175.4,2186.2L2169.6,2179.3L2165.4,2175.5L2171.5,2165.7L2160.6,2170.7L2156.3,2167.1L2152.2,2154.8L2144.8,2144.1L2140.1,2137L2157.9,2126.5L2138.7,2133.5L2137.2,2125L2130.9,2116.1L2121.9,2109.8L2120.3,2099.3L2118.6,2089L2114.3,2079.2L2106.6,2065.8L2097.1,2073.5L2085.6,2079.2L2087.9,2088.4L2095.2,2094.5L2100.2,2102.7L2106.6,2109.8L2099,2125L2087.5,2132.7L2091.5,2144.1L2095.2,2155.6L2094.9,2165.5L2091.4,2174.7L2086.5,2183.8L2083.7,2193.8L2075.3,2200.7L2068.4,2209.1L2059.4,2216.8L2053.8,2227.5L2045.5,2235.8L2038.7,2245.4L2031.9,2250.6L2045.2,2265.6L2027.5,2255.7L2022.6,2262.6L2014.1,2267.7L2007.2,2274.6L2001.2,2282.4L1992.2,2276.9L1982.8,2278.5L1988.5,2255.9L1978.9,2277L1972.2,2271.4L1967.3,2262L1959.2,2255.3L1962.2,2245.7L1965.7,2236.2L1972.3,2224.6L1981.7,2215.2L1992.8,2204.1L1991,2193.4L1989.8,2182.5L1986.7,2172L1988.4,2159.9L1994.7,2149.5L2001.2,2143.4L2003,2133.7L2004.3,2123.9L2007.9,2111.4L2013.8,2099.8L2014.4,2092.1L2035.8,2096.7L2016.4,2085.9L2020.3,2079.2L2019.3,2071.4L2004.3,2066.5L2019.7,2066.4L2020.3,2058.7L2022.6,2048.6L2024.2,2039.2L2022.5,2029.3L2026.6,2020.1L2026.4,2010.4L2027.8,2001.2L2031.1,1992.5L2034.1,1983.7L2042.5,1976.8L2049.3,1968.4L2055.8,1962L2059.1,1956.7L2072,1969.9L2063.9,1952.8L2070.4,1951.2L2064.6,1947.4L2054,1954.9L2045.5,1964.6L2038.9,1971.7L2033.5,1976.4L2020.5,1964.3L2029.6,1979.3L2022.6,1981.8L2017,1992.4L2009,2001.2L2001.6,2010.4L1996.8,2021.4L1995.9,2033.4L1992,2044.5L1992,2056.3L1976.8,2062L1966.3,2059.1L1955.8,2056.3L1951,2048.6L1946.2,2041L1945.2,2029.4L1942.4,2018.1L1950,2002.8L1946.2,1991.3L1936.9,1984.5L1929,1976.1L1925.2,1981.8L1929.5,1991L1930.8,2001.1L1934.7,2010.4L1934.5,2020.8L1929,2029.5L1927.7,2039.3L1930.9,2048.6L1940.1,2060.1L1951.4,2066.1L1959.2,2076.1L1969.2,2071.5L1980.2,2072.7L1994.7,2076.1L1991.6,2086.6L1992.5,2097.2L1992.8,2107.9L1986.7,2117.5L1985.2,2128.9L1975.7,2137.9L1967.2,2148L1966.7,2159.4L1967.4,2170.7L1969.1,2182L1977.1,2194.6L1969.1,2201.9L1962.6,2210.6L1955.3,2211.5L1958.7,2222.7L1950.9,2213.1L1945.5,2219.7L1935.5,2220.2L1936.4,2230.1L1931.7,2239.3L1933.9,2246.5L1925.9,2245.7L1933.1,2252.1L1930.3,2256L1920.6,2257.1L1929.6,2261.2L1929,2268.3L1921,2252.3L1918.6,2243.1L1922.6,2234.2L1922.5,2225.1L1930.4,2218.7L1933.6,2209.1L1933.7,2201.8L1916.2,2197.3L1934.3,2195.3L1935.5,2188.1L1940.1,2182L1930.5,2170.5L1917.6,2169.3L1906.5,2162.5L1903.4,2154.5L1895.4,2148L1895.4,2162.5L1904.9,2169L1911.6,2180.5L1922.5,2188.1L1922.5,2205.7L1908,2210.6L1908,2220.5L1896.5,2232L1890.2,2229.9L1897.3,2214.9L1885.3,2226.6L1880.9,2221.7L1874.4,2221.9L1878.8,2201.3L1868.8,2220.5L1863.3,2217.1L1854.4,2209.2L1847.3,2199.5L1844.8,2190.8L1842.3,2182L1833.5,2177.5L1825.9,2180.9L1824.2,2172.6L1820.3,2179.6L1814.4,2175.5L1818.2,2162.5L1831.2,2154.5L1831.2,2143.4L1828.3,2133.7L1830.3,2123.2L1826.4,2113.8L1824,2104L1819.5,2112.6L1820.5,2122.2L1816.3,2128L1838.6,2134.6L1815.2,2133.4L1816.7,2140.3L1817.5,2149.9L1810.8,2159.4L1807.2,2170.5L1808.7,2180.1L1823.2,2186.5L1823.2,2197.3L1826.6,2207.6L1833.2,2209.5L1826,2232.9L1838.8,2212.2L1844.2,2216.3L1843.1,2223.7L1833.8,2225.2L1843.3,2229L1845,2236.2L1844.8,2248L1841.6,2259.5L1842.3,2271.4L1832.9,2271.9L1823.4,2272.9L1814,2274.1L1804.4,2270.7L1795.1,2273.8L1785.5,2270.4L1776.2,2275.1L1766.7,2273.3L1757,2271.9L1747.6,2274L1744,2285.2L1743.5,2296.9L1741.8,2308.4L1739.4,2319.3L1735.1,2329.7L1734.2,2340.9L1723.1,2347.4L1716,2358.1M1969.1,2285.5 L1980.4,2281.9L1992,2283.6L1995.1,2289.3L1990.1,2302.7L1972.9,2304.6L1972.3,2294.8L1969.1,2285.5M2199.1,2199.5 L2209.8,2195.7L2221.3,2205.3L2222.3,2213.3L2209.7,2219.2L2223,2216.6L2225.1,2224.4L2224.7,2234.2L2221.3,2243.5L2209.8,2245.4L2202.2,2232L2202.6,2222L2198.3,2212.9L2199.1,2199.5M2225.1,2261.8 L2232.6,2268L2240.4,2274L2251.8,2285.5L2259.5,2300.8L2262.8,2310.5L2267.1,2319.9L2270.8,2329.1L2270.9,2339L2271.6,2348.8L2274.7,2358.1L2270.6,2367.5L2267.1,2377.2L2259.4,2384.7L2251.8,2392.5L2243.5,2399.7L2232.7,2402L2225.1,2406.6L2230.9,2422.9L2221.9,2408.3L2213.6,2411.6L2199.9,2420.3L2192.6,2424.5L2186.2,2418.5L2188.3,2427L2181.1,2431.4L2169.5,2433.5L2159,2438.7L2148.7,2439.9L2139.7,2444.3L2133.8,2450.4L2138.3,2459.8L2129.6,2452.1L2121.9,2453.6L2112.9,2458L2103.4,2461L2094,2464.7L2084.9,2471M1942.4,2471 L1946.2,2457.4L1957.7,2444L1971.2,2445.4L1984.4,2442.1L1996,2441.7L2004.7,2441.1L2008.8,2428.3L2010.2,2440.5L2018.8,2438.3L2030.2,2437.7L2041.7,2438.3L2050.3,2435L2060,2438.7L2068.4,2434.5L2076.3,2428.1L2085.9,2426L2095.2,2423L2107.7,2419.5L2118.1,2411.6L2126.3,2403.5L2137.2,2400.1L2147.5,2393.4L2156.3,2384.8L2164.5,2383.3L2163.4,2374.1L2170.3,2379.8L2175.4,2373.4L2184.6,2367.4L2191.9,2358.7L2202.2,2354.3L2205.3,2347.6L2195.7,2334.6L2208.1,2343.8L2213.6,2339L2219.6,2329.6L2223.6,2319.5L2225.1,2308.4L2221.1,2297.3L2221.3,2285.5L2220.7,2273.2L2225.1,2261.8M2091.4,2469 L2081.4,2472.6L2070.5,2473.2L2060.8,2477.6L2045.5,2483.4L2034.5,2478.9L2022.6,2479.6L2014,2481.7L2013,2457.9L2007.8,2481.2L1999.7,2477.6L1990.9,2481.3L1985,2473.7L1986.2,2482.1L1976.8,2481.5L1961.5,2483.4L1946.2,2477.6L1942.4,2469M1890.8,2680.1 L1896.5,2668.6L1908,2662.9L1913.7,2668.6L1908,2678.2L1896.5,2683.9L1890.8,2680.1M1919.5,2672.5 L1930.9,2662.9L1942.4,2664.8L1942.4,2676.3L1930.9,2683.9L1921.4,2683.9L1919.5,2672.5M1923.3,2718.3 L1927.2,2707.7L1934.7,2699.2L1946.2,2689.7L1957.7,2691.6L1969.1,2699.2L1972.9,2714.5L1965.3,2722.1L1953.8,2718.3L1942.4,2725.9L1930.9,2725.9L1923.3,2718.3M1950,2668.6 L1961.5,2662.9L1976.8,2668.6L1980.6,2680.1L1969.1,2683.9L1957.7,2680.1L1950,2668.6M1988.2,2722.1 L1999.7,2716.4L2015,2718.3L2022.6,2710.7L2034.1,2718.3L2037,2725.4L2020.7,2730.8L2037.9,2729.7L2037.9,2737.4L2034.1,2748.9L2018.8,2745L2007.3,2737.4L1995.9,2733.6L1988.2,2722.1M1980.6,2691.6 L1992,2685.8L1999.7,2695.4L1992,2703L1980.6,2691.6M2141,2855.8 L2156.3,2852L2165.9,2850.9L2175.4,2852L2185.8,2853.7L2194.5,2859.6L2196.4,2874.9L2190.7,2886.4L2198.3,2897.8L2213.6,2890.2L2225.1,2878.7L2236.5,2867.3L2251.8,2871.1L2259.5,2867.3L2274.7,2874.9L2290,2874.9L2300.6,2876.3L2309.1,2882.6L2316.8,2885.1L2317,2900.8L2320.2,2885.8L2328.2,2886.4L2338,2890.2M2338,2920.8 L2331,2924.3L2335,2936L2327.9,2925.6L2320.6,2928.4L2312.9,2936.1L2302.3,2942.4L2290,2943.7L2278.6,2955.2L2267.1,2966.6L2251.8,2970.4L2240.6,2973.6L2228.9,2974.3L2213.6,2981.9L2202.2,2974.3L2194.5,2959L2194.5,2943.7L2183.1,2939.9L2175.4,2928.4L2164,2920.8L2152.5,2909.3L2144.8,2897.8L2141,2882.6L2138.1,2869.2L2141,2855.8M2242.3,2855.8 L2245.1,2849.4L2251.7,2853.7L2247.3,2845.9L2251.8,2840.5L2257.1,2835.9L2251.8,2827.5L2261.2,2832.9L2267.1,2829.1L2276.5,2832.5L2286.2,2834.8L2274.7,2848.2L2267.1,2859.6L2255.6,2867.3L2242.3,2855.8M2338,3296.3 L2328.7,3286.7L2316.8,3281L2310.4,3278.1L2307.5,3268.3L2304.7,3277L2297.7,3277.2L2288.6,3276.1L2289.4,3256.6L2282.6,3274.1L2274.7,3269.5L2264.6,3267.1L2269.1,3249.1L2261.4,3266.1L2251.8,3261.9L2239.4,3258.1L2228.9,3250.4L2217,3248.1L2206,3242.8L2200,3237.3L2207.3,3218.6L2195,3235.3L2186.9,3235.2L2175.4,3231.3L2169.4,3223.9L2164,3216.1L2148.7,3208.4L2141,3197L2129.6,3185.5L2121.6,3180.7L2118.2,3171.4L2110.5,3166.4L2095.2,3174L2092.4,3185.8L2087.5,3197L2076.1,3208.4L2064.9,3212.9L2053.2,3216.1L2041.7,3216.1L2030.2,3219.9L2015,3227.5L1999.7,3227.5L1988.2,3235.2L1982.2,3243L1972.9,3246.6L1965,3252.6L1961.5,3261.9L1957.6,3271.4L1953.8,3281L1950.7,3289.8L1972.7,3298.7L1948.9,3295L1946.2,3303.9L1942.1,3315.3L1938.6,3326.8L1939.5,3338.8L1934.7,3349.8L1931.9,3358.4L1910.5,3358.7L1931,3363.6L1930.9,3372.7L1923.3,3388L1919.5,3397L1911.8,3403.2L1907.8,3409.8L1897.8,3406.8L1905.8,3414.8L1904.2,3422.3L1900.4,3433.8L1908,3449.1L1911.8,3464.4L1908,3475.1L1900.4,3483.5L1897.3,3490.5L1885.7,3487L1895.3,3495.4L1892.7,3502.6L1896.5,3517.8L1907.4,3523.5L1919.5,3525.5L1923.9,3536.7L1927.1,3548.4L1923.2,3557.6L1923.3,3567.5L1915.6,3582.8L1900.4,3590.4L1895.1,3598.4L1888.9,3605.7L1877.4,3617.2L1877.2,3626L1867.1,3631.1L1878.2,3631.8L1881.3,3640.1L1887.3,3646.9L1882,3661.1L1890.1,3648.5L1896.5,3651.8L1888.7,3663.9L1899.1,3653.3L1908,3655.4L1916.2,3652.2L1916.2,3633.6L1919.7,3651.4L1929,3652.8L1938.6,3647.7L1948.5,3647.6L1957.7,3643.9L1956.7,3650.6L1939.9,3658.2L1958,3657.2L1961.5,3663L1954.3,3667.6L1959,3677.4L1950.7,3671.1L1946.2,3678.3L1954.4,3678.6L1962.2,3661.8L1957.6,3679.3L1962.5,3684L1968.2,3668.2L1967.2,3684.9L1974.4,3686.5L1984.4,3685.9L1995.5,3681.8L2007.3,3680.2L2015.9,3683.1L2017,3697.8L2021.2,3684L2030,3685.3L2041.7,3685.9L2051.4,3682.4L2060.8,3678.3L2068.8,3682.9L2076.4,3675.8L2072.1,3684.8L2079.9,3689.8L2089.7,3693L2099,3697.4L2109.7,3702.5L2118.1,3711M1716,3472 L1720.2,3463.6L1712.5,3457.3L1722.5,3460.1L1728.5,3452.9L1739.9,3449.1L1755.2,3456.7L1752.6,3445.3L1755.2,3433.8L1766.7,3422.3L1778.1,3418.5L1785.8,3407.1L1793.1,3403.7L1801.7,3415.5L1797.2,3402.1L1804.9,3399.4L1814.7,3401.4L1824,3397.5L1833.8,3399.2L1843.1,3395.6L1858.3,3397.5L1873.6,3403.2L1888.9,3410.9L1889.3,3419.4L1879.8,3424.3L1890.3,3425.7L1892.7,3433.8L1885.8,3442.6L1881.3,3452.9L1878.4,3464.2L1877,3475.6L1877.4,3487.3L1873.5,3496.1L1894.5,3499.7L1872.7,3500.6L1873.6,3510.2L1872.3,3521.8L1869.8,3533.1L1863.6,3542.3L1854.5,3548.4L1853.9,3558.2L1850.7,3567.5L1849,3577.9L1843.1,3586.6L1843.4,3594.2L1831.2,3598.3L1844.3,3598.6L1847.9,3605.5L1846.7,3615.7L1850.7,3624.8L1848.1,3631.7L1858.7,3637.2L1846.3,3636L1842.5,3639L1818.6,3631L1840,3644.8L1839.2,3651.6L1833.9,3661.3L1827.8,3670.7L1823.7,3680.4L1809.3,3670.8L1821.1,3683.7L1812.5,3689.8L1803.4,3681.6L1793.4,3674.5L1783.8,3669.4L1772.9,3668.5L1762.8,3664.9L1753.4,3667.3L1745.8,3664.5L1744.5,3672.6L1742.4,3664.4L1734.8,3663.4L1725.5,3661.1L1716,3663M1716,3571.3 L1728,3571.3L1739.9,3571.3L1751.5,3570.2L1762.8,3567.5L1770,3561.9L1778.1,3558L1774.1,3551.9L1763.5,3560.7L1769.4,3547.8L1762.8,3544.6L1751,3544.2L1739.9,3548.4L1728.3,3544.6L1716,3544.6M1716,3678.3 L1725.1,3681.3L1731.4,3677.3L1733,3693L1737.9,3677.7L1743.7,3680.2L1749.4,3688.3L1736.1,3700.2L1752.7,3692.8L1759,3700.4L1774.3,3702L1789.6,3702L1793.9,3706.4L1805.4,3690.5L1799.7,3709.6L1805.6,3711M1843.1,3709 L1843.1,3725.3L1841.2,3732.6L1830.3,3730.6L1838.1,3736.8L1831.6,3740.6L1825.3,3745.2L1819.3,3738.9L1822.5,3747.3L1816.3,3752L1806.5,3751.2L1807.4,3741.2L1801.8,3749.7L1793.4,3744.4L1783.5,3744.5L1774.3,3748.2L1765,3745.2L1755.2,3744.4L1748.3,3749.4L1753,3761.9L1744.6,3750.9L1736.1,3752L1727.7,3749.9L1730.5,3735.4L1724.6,3749.3L1716,3748.2M1984.4,3709 L1976.8,3717.6L1967.3,3716.1L1968,3724L1963.3,3716.1L1953.8,3717.6L1947.1,3712.2L1953.8,3689.9L1943.3,3710.5L1934.7,3709M1716,3786.4 L1728,3784.5L1739.9,3782.6L1749.7,3784.2L1757.4,3767.1L1754.1,3785.7L1762.8,3790.2L1770.9,3782L1781.9,3778.8L1787.1,3775.5L1787.4,3761.7L1793.9,3774.6L1799.4,3773.9L1808.7,3774.9L1820.4,3778.1L1831.6,3782.6L1839.2,3797.9L1840.4,3805.4L1819.4,3803.6L1839.4,3810.5L1835.4,3817L1831.6,3832.2L1822.4,3836.9L1812.5,3839.9L1804.8,3836.8L1793.7,3853.7L1799.8,3833.8L1793.4,3828.4L1784.4,3831.5L1791.1,3845.6L1781.3,3833.4L1774.3,3839.9L1764.6,3838.7L1755.2,3836.1L1746.3,3841.5L1736.1,3843.7L1729.4,3843.7L1723.1,3858.4L1722.7,3843.7L1716,3843.7M1835.4,3878.1 L1844.9,3874.9L1854.5,3872.4L1867.9,3872.6L1881.3,3872.4L1887,3877.4L1876,3893L1890.8,3880.7L1896.5,3885.7L1899.9,3892.9L1884.7,3906.3L1902,3895.8L1908,3901L1900.4,3908.6L1889.8,3911.4L1883,3916.9L1889.1,3938.5L1878.1,3918.7L1869.8,3920.1L1854.5,3916.3L1843.1,3904.8L1839.9,3898.2L1827,3900.2L1838.8,3894.2L1837.1,3887.2L1835.4,3878.1M1770.5,3923.9 L1772.8,3913.7L1776.3,3903.7L1778.1,3893.4L1785,3891.5L1797.2,3902L1789.6,3888L1793.4,3881.9L1802.5,3881.8L1811.7,3882.3L1820.1,3878.1L1823.7,3883.8L1820.3,3896.1L1829,3887.8L1835.4,3889.5L1840.6,3894.6L1849.9,3894.8L1843,3900.1L1842.8,3907.5L1846.9,3916.3L1850.5,3925.5L1858.3,3931.6L1869.4,3927.1L1881.3,3925.8L1889,3921.2L1896.5,3916.3L1906,3918.3L1915.6,3918.2L1920,3925.5L1906.3,3943.3L1923.1,3928.2L1930.9,3931.6L1946.2,3939.2L1954.7,3942L1957.9,3932L1957.8,3942.8L1966.8,3943.4L1976.8,3946.8L1988.4,3950.2L1999.7,3954.5L2007.7,3962.8L2018.8,3965.9L2030.8,3968.2L2041.7,3973.6L2051.6,3976.6L2060.8,3981.2L2069.6,3985.2L2066.2,4000.4L2075.2,3988.1L2083.7,3992.7L2091.6,3998.7L2095.2,4008L2101.9,4014L2103.7,4020.1L2121.6,4008.7L2108.5,4024.9L2114.3,4027.1L2109.9,4033.3L2122,4048.8L2105.9,4036.6L2099.6,4040.5L2091.4,4046.2L2099,4061.4L2106.9,4062.7L2105.7,4072.7L2111.5,4064.5L2118.1,4069.1L2128.8,4070.2L2137.2,4076.7L2147.2,4076.5L2153.5,4081.2L2151.4,4100.7L2158.7,4082.2L2165.8,4082.7L2175.4,4084.4L2185.3,4084.3L2194.4,4088.8L2203.7,4091.7L2213.6,4092L2221.6,4091L2227.7,4078.1L2224.7,4091.5L2230.2,4092.4L2236,4069.6L2234.5,4093.1L2239.8,4094.4L2241.5,4102.2L2243.1,4094.9L2247.8,4098.1L2249.4,4113.4L2252.7,4098.9L2259.5,4099.6L2267.1,4114.9L2263.3,4130.2L2257.2,4133.6L2248.8,4123.2L2250.9,4136.1L2244.2,4137.8L2237.5,4142.9L2232.4,4136.8L2231.8,4145.7L2223.4,4147.3L2213.6,4153.1L2205.9,4153.5L2196.5,4135L2200.3,4155.7L2196.9,4157.7L2187,4146.1L2190.7,4160.2L2188.1,4166.2L2180.8,4147.3L2183.8,4167.9L2175.4,4168.4L2166.1,4174.5L2156.3,4179.9L2144.8,4193.2L2141.9,4202.4L2144.1,4209.2L2155,4209.1L2144.1,4214L2147.6,4220.8L2146.7,4230L2147.8,4239.2L2142.7,4248.3L2145.3,4254.6L2127,4254.9L2145.3,4260.5L2147.8,4266.7L2146.8,4275.9L2145.6,4282.9L2124.9,4282.6L2145.6,4287.3L2145.9,4294.3L2142,4303.4L2142.7,4312.6L2142.1,4321.8L2144.8,4331M2026.4,4331 L2028.3,4324.1L2046.8,4321.7L2028.3,4318.4L2025.6,4311.5L2024.2,4301.7L2026.6,4291.9L2028.5,4283.8L2048.1,4282.9L2028.5,4280.5L2026.9,4272.4L2026.6,4262.6L2025.8,4255.5L2015.7,4250.7L2025.8,4250.3L2024.9,4246L2041,4243.4L2024.9,4240.2L2026.4,4233.4L2030.5,4224.3L2035.4,4215.6L2038.3,4206L2042.7,4197.1L2045.5,4187.5L2046,4178L2050.7,4169.7L2053.2,4160.8L2050.3,4151.6L2045.3,4144L2037.9,4137.8L2030.1,4128.4L2022.6,4118.7L2011.3,4112.8L1999.7,4107.3L1990.9,4103L1984.4,4095.8L1974,4094.9L1978.4,4078.6L1970.3,4093.7L1961.5,4088.2L1962.1,4076.6L1974.2,4077.3L1962.1,4073L1961.5,4061.4L1954,4055.9L1955.7,4045.9L1947.9,4053.8L1938.6,4053.8L1928.7,4050.9L1919.5,4046.2L1911.2,4050.4L1907.9,4056.6L1896.9,4042.3L1903,4059.9L1896.5,4061.4L1888.3,4066.3L1880.1,4064.2L1872.8,4043.3L1876.3,4065.3L1869.8,4069.1L1860.5,4072.9L1850.7,4071.4L1843.8,4071.8L1843.5,4083.5L1838.6,4072.3L1831.6,4072.9L1825.9,4072L1827,4050.4L1819.1,4070.1L1816.1,4068.8L1818.1,4044.7L1811.3,4067.4L1804.9,4065.3L1798.1,4059.5L1813.6,4044L1795.4,4054.8L1793.4,4046.2L1794.6,4036L1791.8,4025.8L1793.4,4015.6L1792.6,4008.7L1808,4006.1L1791.8,4002.1L1789.2,3997.9L1803.4,3994.7L1788.6,3993.1L1789.6,3985L1783.6,3976.6L1778.8,3969.4L1798,3956.3L1777.2,3966.7L1774.3,3958.3L1771.9,3949.2L1787,3944.8L1771.4,3944.8L1769.6,3935.6L1770.5,3923.9M1716,3889.5 L1726.5,3889.1L1732.3,3882.3L1738.1,3895.5L1737.6,3880.7L1745.9,3882.6L1755.2,3878.1L1766.7,3889.5L1762.8,3898.1L1765.3,3907.5L1762.8,3916.3L1760.1,3926.3L1759.8,3934.4L1743.1,3935.6L1759.2,3938.7L1759,3946.8L1760.7,3959L1766.7,3969.8L1774.3,3977.4L1781.9,3985L1782,3995L1785.8,4004.1L1778.2,4007.2L1773.4,3985.6L1773.4,4007.8L1768.5,4007.5L1766,3999.9L1762.6,4008.2L1755.2,4008L1745.5,4007L1737.6,4010.5L1735.2,3987.8L1733.8,4010.5L1726,4008.8L1716.2,4008.4L1706.4,4008M1706.4,4021.3 L1716,4018L1723.1,4022.4L1726,4011L1729.1,4022L1733.4,4016.3L1736.6,4030.9L1737.5,4016L1743.7,4016.9L1746.5,4007.4L1747,4016.6L1755.2,4017.5L1763.9,4017L1763.2,4027.3L1769.5,4017.4L1775.5,4015.8L1778.9,3994.3L1781.1,4016.1L1789.6,4019.4L1791.6,4026.5L1805.8,4027.9L1792.1,4029.9L1789,4036.1L1811.8,4035.3L1789.5,4039.2L1793.4,4046.2L1800.1,4055.1L1804.9,4065.3L1794.7,4069.9L1785.8,4076.7L1792.7,4080.8L1785.6,4091.7L1797,4085.1L1801,4092L1811.2,4091.5L1821.4,4092.5L1831.6,4092L1840,4099.1L1850,4103.9L1858.3,4111.1L1863.5,4120.1L1866,4130.2L1858.9,4138.9L1854.5,4149.3L1859.4,4158.4L1862.2,4168.4L1867.6,4179.7L1877.4,4187.5L1874.9,4197.6L1869.8,4206.6L1864.2,4213.6L1856.2,4215.2L1862.9,4216.8L1862.2,4225.7L1851.6,4233.3L1839.2,4237.2L1832,4245.2L1824,4252.5L1814.7,4256.1L1808.7,4263.9L1808.7,4274L1806,4283.5L1803.5,4293L1798.6,4301.9L1795.6,4311.3L1794,4321L1793.4,4331M1951.9,4157 L1954.3,4147.7L1958,4139L1961.5,4130.2L1976.8,4126.4L1983.9,4133L1988.2,4141.7L1988.3,4150.3L1999.3,4146.4L1989.3,4153.6L1994,4160.8L1988.4,4167.9L1984.4,4176.1L1977.1,4176.6L1968.6,4162.8L1971,4179.1L1965.3,4183.7L1953.8,4172.2L1951.9,4157M1995.9,4130.2 L2007.3,4126.4L2022.6,4134L2018.8,4145.5L2003.5,4145.5L1995.9,4130.2M1930.9,4080.5 L1946.2,4072.9L1961.5,4080.5L1960.8,4088.2L1953.7,4090.2L1961.7,4092.8L1965.3,4099.6L1956.7,4104.1L1950,4111.1L1943.3,4102.2L1938.6,4092L1930.9,4080.5M2338,3847.5 L2328.4,3843.2L2320.6,3836.1L2309.7,3834.2L2302.9,3827.1L2308.9,3807.9L2299,3825.6L2290,3824.6L2283.5,3821.4L2284.1,3802.9L2276.7,3820.6L2269.8,3820.4L2259.5,3820.8L2250.5,3822.6L2239.6,3805.4L2247,3823.9L2241.2,3828.9L2243.7,3837.9L2237.9,3830.2L2228.9,3832.2L2220.6,3825.2L2213.6,3817L2207.9,3810.2L2216,3797L2203.7,3804.9L2198.3,3797.9L2194.8,3790.2L2202.5,3780.4L2190.7,3786.2L2183.1,3782.6L2174.3,3776.1L2167.8,3767.3L2159.6,3762.5L2177,3742.5L2157.3,3760.2L2154.5,3750L2144.8,3744.4L2137.6,3742.2L2145.7,3729.4L2133,3738.4L2129,3732.3L2121.9,3725.3L2120,3718.1L2110.3,3723.4L2116.5,3713.3L2110.5,3709M2263.3,3859 L2270.7,3851.2L2278.1,3854.6L2273.2,3849.2L2282.4,3843.7L2289.2,3841.6L2292.8,3848.9L2294.4,3841.1L2301.8,3844.7L2308.9,3842.4L2310.3,3854.3L2313.4,3841.9L2320.6,3839.9L2324.5,3848.9L2332,3855.2L2319.8,3856.7L2309.1,3862.8L2300.4,3865.6L2290.9,3862.4L2282.4,3866.6L2273.3,3861.5L2263.3,3859M2270.9,3881.9 L2281.5,3877.8L2290,3870.4L2299.6,3868L2309.1,3867.6L2318.7,3869.9L2328.2,3870.4L2329,3880.2L2332,3889.5L2325.4,3898.6L2320.6,3908.6L2307.2,3908.2L2293.8,3908.6L2286.7,3902.2L2278.6,3897.2L2270.9,3881.9M2336,2232 L2347.8,2229.2L2359.9,2228.2L2368,2233.3L2375.2,2239.6L2385.4,2241.4L2392.8,2238.8L2396.6,2262.4L2398.3,2238.8L2405.8,2239.6L2414.6,2241.7L2423.8,2240.6L2432.5,2243.5L2444.2,2244L2455.4,2247.3L2463.1,2235.8L2473.5,2231.9L2484.1,2228.2L2492.3,2233.4L2499.6,2235.8L2488.1,2255.3L2503.4,2238.1L2508.9,2243.5L2510.8,2258.7L2505.1,2270.2L2505.1,2281.7L2495.7,2284.4L2486,2285.5L2474.5,2281.6L2465,2274L2457.3,2289.3L2457.3,2299.2L2453.5,2308.4L2458.4,2319.2L2466.9,2327.5L2470.5,2338.3L2478.3,2346.6L2480.4,2334.9L2484.1,2323.7L2490.4,2314.8L2497.4,2306.5L2508.1,2303.2L2517.5,2296.8L2528,2293.1L2527.2,2281.7L2526.1,2270.2L2537.6,2258.7L2546.5,2255.8L2554.7,2251.1L2566.2,2247.3L2568.4,2260.6L2568.1,2274L2575.8,2289.3L2585,2285.7L2592.2,2288.5L2592.2,2272.5L2597.9,2287.8L2604.4,2285.5L2612,2293.1L2618.7,2286.1L2626.8,2280.9L2633.2,2273.6L2642.6,2270.2L2643,2263.6L2653.1,2262.5L2643,2258.5L2641.2,2251.9L2642.8,2242.7L2640.1,2236.3L2663.4,2236.3L2640.1,2230.8L2642.3,2224.4L2643.9,2215.3L2642.1,2206.1L2644.5,2197L2641.9,2187.8L2645.2,2178.6L2645.4,2169.5L2641.8,2160.3L2641.6,2153.5L2661.4,2148.6L2641.6,2148.9L2643.5,2142L2640.3,2132.9L2645.2,2123.7L2642.2,2114.5L2640.7,2107.9L2626.9,2104.4L2640.7,2102.9L2644,2096.2L2639.9,2087.1L2642.9,2077.9L2644.2,2071.4L2633.5,2068.8L2644.2,2066.1L2644.7,2059.6L2642.3,2050.4L2640.8,2041.3L2644.8,2032.1L2644.1,2023L2640.4,2013.8L2639.9,2004.7L2641.5,1995.5L2645.5,1986.4L2642.8,1977.2L2640.1,1968L2643.6,1958.9L2642,1949.7L2643.7,1940.6L2641.1,1931.4L2642.2,1922.3L2641.4,1915.3L2652,1913.2L2641.4,1910.8L2643.1,1903.9L2644.4,1894.8L2645.1,1885.6L2639.9,1876.5L2642.8,1867.3L2643,1858.2L2642.6,1849M2369.5,2277.8 L2382.8,2274L2392.5,2273.6L2401.9,2275.9L2407.7,2285.5L2403.9,2297L2395.9,2302.8L2386.7,2306.5L2373.3,2304.6L2367.6,2293.1L2369.5,2277.8M2545.2,2346.6 L2549.8,2337.6L2550.9,2327.5L2566.2,2319.9L2576.3,2317.7L2586.5,2315.7L2596.8,2314.1L2608.7,2313.4L2619.7,2318L2626.2,2323.5L2641.2,2305.9L2631.3,2327.1L2638.8,2331.3L2648.3,2342.8L2648.9,2352.6L2652.2,2361.9L2657.8,2370.7L2659.8,2381L2665.5,2396.3L2665.2,2406L2667.4,2415.4L2666.6,2425.1L2669.3,2434.5L2673.3,2443.6L2673.2,2453.6L2677,2471M2545.2,2471 L2546.5,2461.4L2545,2451.9L2542.7,2445.2L2553.5,2442.7L2542.7,2439.4L2547.4,2432.7L2543,2426.4L2528.4,2421.9L2543,2419.9L2546.5,2413.6L2543.7,2404L2543.5,2394.5L2546.2,2384.9L2548,2375.3L2543.1,2365.7L2546.1,2356.2L2545.2,2346.6M2690.4,2396.3 L2693.5,2402.7L2683.7,2409.4L2694.6,2408.3L2694.2,2415.4L2699.2,2424.3L2699.9,2434.5L2697.9,2443.9L2701.7,2452.8L2703.7,2461.8L2703.7,2471M2757.2,2471 L2752.4,2462.6L2745.5,2455.4L2744.8,2444.8L2739.8,2440L2745.7,2430.6L2736.8,2434.7L2733.7,2428.8L2730.7,2423.4L2722.4,2426.3L2727.3,2417.5L2722.9,2412.8L2719,2403.9L2709.1,2402.8L2699.4,2400.7L2690.4,2396.3M2547.1,2469 L2554.7,2485.3L2559.6,2489.8L2573.3,2480.7L2563.2,2494.6L2566.2,2500.6L2565.3,2508.6L2557.2,2506.6L2564.6,2511.9L2562.4,2519.7L2562.8,2525.7L2549.8,2531.5L2563.6,2531.6L2567.1,2535.1L2549.4,2537.3L2567.7,2539.2L2566.2,2546.4L2569.3,2553.9L2558.2,2555.9L2570,2557.3L2570,2565.5L2558.6,2577L2543.3,2584.6L2539.3,2594.1L2535.6,2603.7L2537.7,2609.7L2552.4,2611.7L2539,2616.5L2539.5,2622.8L2540.5,2629.1L2549.6,2632.4L2541.8,2635.7L2543.3,2641.9L2544.8,2651.5L2547.1,2661L2554.1,2667.7L2558.6,2676.3L2565.7,2680.5L2560.7,2688.1L2569.6,2684.4L2573.8,2691.6L2582.7,2694.8L2587.6,2698.7L2576.7,2716.3L2592.5,2702L2596.8,2706.8L2604.1,2712.4L2613.6,2714.7L2619.7,2722.1L2626.7,2728.2L2635.5,2731.5L2642.6,2737.4L2651.6,2742.3L2661.9,2745L2669.3,2752.7L2677.8,2758.8L2684.6,2752L2680.6,2761L2688.4,2768L2699.1,2775.3L2711.4,2779.4L2723.6,2783.6L2734.3,2790.9L2745.4,2795.8L2757.2,2798.5L2767.1,2799.1L2778,2779.8L2771.9,2800.7L2780.1,2806.2L2788.8,2808.9L2798.2,2806.9L2806.9,2810L2818.3,2812.1L2829.8,2810L2841.7,2809.5L2852.7,2813.8L2861.6,2815.8L2857,2838.5L2867.3,2817.7L2875.6,2821.4L2883.3,2825.3L2889.4,2826.4L2894.4,2834.3L2895.8,2826.4L2902,2824.9L2911.3,2827L2920.6,2824.1L2930,2825.5L2939.3,2823L2946.7,2827L2949.2,2805.7L2950.6,2827L2958,2825.3M2336,3303.9 L2342.8,3310.9L2350.5,3316.3L2359.9,3319.2L2369.5,3324.9L2375.2,3334.5L2386.4,3328.2L2398.1,3323L2407.1,3329.4L2415.8,3319L2410.6,3331.1L2421,3334.5L2425.3,3342.7L2430.7,3348.2L2420.2,3357.8L2432.4,3350.8L2436.3,3357.4L2447.9,3360.8L2459.2,3365L2463.8,3370.7L2456.5,3376.7L2466.5,3374.4L2470.7,3380.3L2465.1,3389.8L2459.5,3399.2L2451.6,3407.1L2444.4,3415.1L2436.3,3422.3L2451.6,3426.2L2458.8,3427.4L2453.4,3444.4L2464.6,3429.7L2470.7,3433.8L2478.2,3433.7L2487.9,3443L2484.3,3431.3L2489.8,3426.2L2501.3,3418.5L2511.2,3421.3L2520.4,3426.2L2535.6,3422.3L2550.9,3418.5L2562.1,3422.2L2573.8,3422.3L2584.6,3428.2L2596.8,3430L2608.2,3437.6L2604.4,3449.1L2597.8,3455.9L2609.9,3475.4L2592.8,3460.4L2585.3,3466.3L2577,3468.7L2571.5,3460.5L2571.1,3469.4L2562.6,3471L2550.9,3470.1L2543.5,3474L2533.9,3459.4L2538.9,3475.4L2530.3,3475.5L2520.4,3479.6L2514.5,3486.5L2506.9,3491.6L2501.3,3498.7L2506.9,3496.2L2502.4,3474.3L2512.8,3493.6L2515.5,3491.6L2513.1,3477.2L2520.9,3489.2L2525,3487.1L2536.5,3507.3L2528.3,3485.6L2535.6,3483.5L2542.5,3481.2L2545.5,3501L2549.5,3481.6L2553.1,3486.2L2556.7,3502.7L2558.7,3486.6L2566.2,3485.4L2577.4,3479.9L2589.1,3475.8L2597.6,3470.4L2601.2,3464L2592.1,3450.6L2605.9,3460.1L2612,3456.7L2621.6,3452.9L2624.7,3461.9L2629.9,3470.1L2631.1,3479.6L2635.6,3485.9L2630,3491.1L2638,3492.4L2637,3498.7L2616.6,3507.9L2638.4,3502.2L2642.6,3510.2L2647.5,3516L2635.8,3521.8L2649.8,3521.8L2650.2,3529.3L2649.7,3539.4L2654.1,3548.4L2654.1,3558.3L2644.3,3560.1L2654.1,3561.5L2654.1,3571.3L2651.8,3580.1L2652.5,3585.9L2638.5,3586L2651.6,3592.5L2650.2,3598.1L2646.7,3605L2663.9,3613.7L2644.7,3609.7L2642.6,3617.2L2646.4,3632.5L2638.8,3647.7L2627.3,3655.4L2631.1,3670.7L2638.8,3685.9L2646.4,3701.2L2650.2,3711M2829.8,3407.1 L2833.6,3402.5L2814.4,3386.1L2837.2,3397.1L2841.6,3392.9L2845.1,3384.1L2856.5,3376.5L2871.8,3380.3L2879.5,3395.6L2875.8,3404.3L2877.3,3411.4L2857.5,3408.6L2875.8,3417L2869.7,3422.1L2871.6,3428.9L2850.4,3424.6L2869.9,3435.2L2866.5,3438.8L2844.3,3432.1L2865.6,3442.2L2865.5,3450L2860.5,3458.4L2860.5,3464.9L2843.2,3465.6L2858.9,3470.8L2860.5,3475.2L2880,3485.4L2859.2,3480L2853.9,3485.7L2852,3494.9L2852.6,3504.7L2846.9,3512.9L2847.5,3520.6L2830.7,3516.6L2846.5,3524.6L2845.6,3531.9L2838.1,3539.6L2839.2,3549.6L2838.5,3559.1L2833.6,3567.5L2826.3,3567.8L2822.2,3584.9L2821.6,3567.4L2814.6,3565.1L2804.7,3567.4L2795.4,3563.7L2791.6,3548.4L2796.5,3540.7L2800.7,3532.4L2806.9,3525.5L2814.3,3519.4L2815.7,3509.3L2822.2,3502.6L2825.5,3494L2848.7,3493.7L2826.4,3488.9L2826,3479.6L2825.1,3467.7L2829.8,3456.7L2831,3446.8L2848.3,3448.8L2831.5,3443.5L2833.6,3433.8L2835.5,3427.6L2816.5,3428.1L2834.6,3421.4L2834.3,3417.9L2818.6,3415.4L2833.6,3413.2L2829.8,3407.1M2654.1,3709 L2661.7,3725.3L2665.8,3735L2681.8,3727.6L2667.8,3739.1L2673.2,3748.2L2672.7,3757.9L2675.1,3767.3L2672,3774.3L2688.4,3786.9L2669.3,3779.7L2665.5,3786.4L2658.4,3792.1L2671.4,3808.4L2654.2,3797.3L2650.2,3805.5L2646.4,3817L2652.5,3820.7L2648.9,3826.2L2656,3825.4L2657.3,3830L2642.7,3840.8L2659.8,3833.4L2664.3,3839.4L2666,3846L2674.4,3845.2L2669.8,3851.2L2673.7,3853.2L2666.1,3861L2676.6,3857.1L2680.8,3862.8L2676.1,3870.8L2670.4,3873.1L2677.3,3882.5L2665.7,3877.9L2660.4,3880.6L2654.2,3887.1L2650.4,3896.1L2644.8,3899.4L2637.1,3892.9L2641,3903.2L2634.8,3906L2632.4,3911.5L2612.9,3897.6L2627.7,3916.2L2624.3,3918.8L2638.7,3933.4L2622.2,3920.9L2617.2,3923.2L2630.7,3942.1L2613.8,3926.5L2610,3932.1L2603.3,3938.1L2597.1,3944.6L2593.1,3953.3L2583.8,3956.8L2579.3,3962.5L2560.7,3948.6L2576.8,3965L2575.5,3971.8L2591,3990.7L2573.4,3974L2567.4,3978.6L2561.4,3981L2577,3997.1L2557,3985.3L2554.6,3991.2L2548.3,3997.7L2538.9,4001L2534.3,4005.7L2537.4,4015.4L2530.9,4009.2L2527.7,4012.7L2519.7,4005.6L2525.1,4015.3L2520.4,4020.8L2515.5,4024.6L2500.1,4011.7L2511.5,4028.6L2508.4,4034.2L2502.4,4040.9L2495.5,4046.8L2490,4054L2485.4,4057.7L2476.2,4051.1L2481,4062.1L2478.4,4064L2488.3,4076.1L2474.5,4067.8L2471.1,4071L2478.7,4079.2L2468.8,4073.3L2467.4,4078L2455.4,4066.5L2463.1,4082.3L2459.6,4087.3L2451.6,4092L2445.7,4083.4L2439.8,4077.1L2451.5,4063.8L2437.5,4074.1L2431.5,4070L2436.2,4062.2L2429.6,4067.5L2425.8,4059.2L2418.2,4051.8L2413.4,4042.3L2415.9,4033.6L2417,4026.8L2429.3,4030.7L2418.4,4022.5L2424.5,4017.4L2424.9,4008L2419,4000.4L2413.4,3992.7L2409.6,3984.2L2402.3,3978L2398.1,3969.8L2401.2,3957L2409.6,3946.8L2405.8,3931.6L2393.9,3926.7L2382.8,3920.1L2378.2,3910.9L2375.2,3901L2368.6,3892.6L2367.6,3881.9L2361.3,3877.9L2352.8,3883.3L2358.9,3875.4L2356.7,3869.9L2366.6,3856.6L2354.1,3867.3L2348.5,3862.8L2342.4,3851.2L2336,3839.9M1707.4,4056.9 L1717.6,4057.3L1727.5,4060L1737.6,4059.9L1743.8,4055.7L1743.3,4044.1L1749.5,4054.2L1757.7,4057.4L1766.7,4052.3L1769.7,4057.9L1751.6,4072.4L1773.2,4062.8L1777.4,4067.6L1792.3,4067.6L1802.5,4065L1809.7,4066.3L1809.8,4089.7L1815.6,4066.5L1821.2,4065.8L1819.7,4074.2L1824.5,4065.9L1830.1,4066.6L1831.1,4082.1L1835.8,4066.7L1843.1,4069.1L1843.1,4077.5L1835.9,4079.3L1835.2,4067.1L1830.1,4079.3L1823.1,4075L1816.2,4077.4L1814.8,4066.8L1809.9,4077.3L1803.1,4075.2L1794.9,4078.2L1792,4088.4L1791.3,4078.2L1783.1,4076.7L1784.3,4084.6L1793.6,4083.7L1786.1,4090.7L1789.2,4098.1L1798.8,4106.5L1804.5,4118L1801.1,4124.6L1807,4135.6L1796.1,4129.1L1789.2,4131.7L1790.4,4138.9L1770.7,4136.6L1789.9,4143.3L1788.7,4150.2L1786.1,4159.2L1784.4,4166.4L1800.6,4178.5L1782.1,4171.5L1777.4,4173.8L1756.9,4168.6L1774.7,4179.7L1773.9,4186.7L1770.8,4193.1L1763.4,4194.7L1770,4198L1770.9,4205.1L1759,4212.3L1756,4205.1L1749.8,4195.9L1743.7,4186.8L1737.6,4177.6L1740.1,4168.4L1737.6,4159.2L1746.8,4151.6L1743.1,4145.3L1753.6,4140.6L1742.3,4140.5L1743.7,4133.3L1737.4,4129.9L1748.6,4113.1L1733.9,4125.7L1732.2,4121L1721.3,4127.2L1729.7,4118L1725.4,4111.9L1719.6,4114.1L1717.8,4103L1713.5,4114.6L1707.4,4113.4M1000,4045 L1008.3,4046.2L1010.6,4058L1011.6,4046.4L1020,4046L1031,4059L1042.4,4058.2L1053.6,4061.1L1065,4061L1079,4065L1088.1,4068.4L1094.7,4067.8L1093.5,4085.9L1100.4,4068.4L1107,4068L1120.1,4068.3L1133,4070L1137.6,4075.1L1120.2,4088.3L1141.2,4080.7L1144,4087L1132.8,4091L1122,4096L1111,4094L1115,4105L1128.2,4106.1L1140,4112L1150,4119L1166,4111L1164.6,4122.5L1158,4132L1149.9,4138L1140,4140L1132,4135L1123.9,4130.4L1116.2,4128.9L1106.5,4148.8L1113.2,4127.7L1106.3,4124.4L1096.5,4123.7L1087.9,4120.3L1080,4115L1071.2,4111L1062.9,4106.2L1058.7,4100.2L1063.9,4090.5L1053.8,4097.2L1046.2,4096.7L1037.5,4092.6L1030.2,4086.2L1022.9,4079.7L1013.4,4076.9L1005.2,4071.9L997.1,4066.8L990,4060L995.1,4052.6L1000,4045" fill="none" stroke="#000" stroke-width="2.6" stroke-linejoin="round" stroke-linecap="round"/>
<g>
<path fill="#0000f4" d="M1220 2418l8 8-8 8-8-8zM1590 2416l8 8-8 8-8-8zM1614 2412l8 8-8 8-8-8zM1623 2428l8 8-8 8-8-8zM1108 2659l8 8-8 8-8-8zM1330 2873l8 8-8 8-8-8z"/>
<path fill="#000cff" d="M1341 2872l8 8-8 8-8-8zM1383 2911l8 8-8 8-8-8zM1025 2572l8 8-8 8-8-8zM1018 2586l8 8-8 8-8-8zM1041 2588l8 8-8 8-8-8zM932 2645l8 8-8 8-8-8zM858 2674l8 8-8 8-8-8zM590 3283l8 8-8 8-8-8zM1219 2417l8 8-8 8-8-8z"/>
<path fill="#0024ff" d="M1316 2805l8 8-8 8-8-8zM1337 2849l8 8-8 8-8-8zM1931 2735l8 8-8 8-8-8zM1932 2752l8 8-8 8-8-8zM1924 2773l8 8-8 8-8-8zM1004 2574l8 8-8 8-8-8zM922 2624l8 8-8 8-8-8zM863 2657l8 8-8 8-8-8zM894 2678l8 8-8 8-8-8zM997 3502l8 8-8 8-8-8z"/>
<path fill="#003bff" d="M1283 2793l8 8-8 8-8-8zM1293 2786l8 8-8 8-8-8zM1301 2897l8 8-8 8-8-8zM2072 2657l8 8-8 8-8-8zM1297 3259l8 8-8 8-8-8zM944 2665l8 8-8 8-8-8zM869 2699l8 8-8 8-8-8zM816 2849l8 8-8 8-8-8z"/>
<path fill="#0052ff" d="M1110 2506l8 8-8 8-8-8zM1290 2825l8 8-8 8-8-8zM1259 2890l8 8-8 8-8-8zM1346 2911l8 8-8 8-8-8zM1361 2977l8 8-8 8-8-8zM1067 2477l8 8-8 8-8-8zM1050 2554l8 8-8 8-8-8zM1039 3123l8 8-8 8-8-8zM1093 3268l8 8-8 8-8-8zM1858 2216l8 8-8 8-8-8z"/>
<path fill="#0069ff" d="M1361 2873l8 8-8 8-8-8zM1173 3005l8 8-8 8-8-8z"/>
<path fill="#0080ff" d="M1611 2902l8 8-8 8-8-8zM1221 2910l8 8-8 8-8-8zM1353 2893l8 8-8 8-8-8zM1429 2924l8 8-8 8-8-8zM2081 2817l8 8-8 8-8-8zM1412 3290l8 8-8 8-8-8zM1381 3318l8 8-8 8-8-8zM1092 2498l8 8-8 8-8-8zM1090 2531l8 8-8 8-8-8zM599 3293l8 8-8 8-8-8z"/>
<path fill="#00aeff" d="M1408 2842l8 8-8 8-8-8zM1784 2819l8 8-8 8-8-8zM1063 2510l8 8-8 8-8-8z"/>
<path fill="#00c5ff" d="M1222 2890l8 8-8 8-8-8zM1996 2812l8 8-8 8-8-8zM1834 2849l8 8-8 8-8-8zM1764 2927l8 8-8 8-8-8zM1027 2487l8 8-8 8-8-8z"/>
<path fill="#00ddff" d="M1147 3000l8 8-8 8-8-8zM1858 2627l8 8-8 8-8-8zM1145 3221l8 8-8 8-8-8z"/>
<path fill="#00f4ff" d="M1694 2727l8 8-8 8-8-8zM1404 2931l8 8-8 8-8-8zM1710 2973l8 8-8 8-8-8zM1242 3304l8 8-8 8-8-8zM1332 3396l8 8-8 8-8-8zM1286 3610l8 8-8 8-8-8zM565 3255l8 8-8 8-8-8z"/>
<path fill="#0cfff3" d="M1346 3628l8 8-8 8-8-8z"/>
<path fill="#3affc5" d="M1491 2875l8 8-8 8-8-8zM1559 2842l8 8-8 8-8-8zM1445 2955l8 8-8 8-8-8zM1756 2893l8 8-8 8-8-8zM1337 3305l8 8-8 8-8-8z"/>
<path fill="#51ffae" d="M1954 2764l8 8-8 8-8-8zM1730 2951l8 8-8 8-8-8zM1434 3278l8 8-8 8-8-8z"/>
<path fill="#68ff97" d="M2010 2911l8 8-8 8-8-8z"/>
<path fill="#80ff80" d="M1400 2937l8 8-8 8-8-8zM1685 2960l8 8-8 8-8-8zM1745 2912l8 8-8 8-8-8zM1753 2912l8 8-8 8-8-8zM1770 2927l8 8-8 8-8-8z"/>
<path fill="#97ff68" d="M1277 3333l8 8-8 8-8-8zM1304 3419l8 8-8 8-8-8z"/>
<path fill="#aeff51" d="M1635 2420l8 8-8 8-8-8zM1645 2970l8 8-8 8-8-8zM1932 2781l8 8-8 8-8-8zM1899 2809l8 8-8 8-8-8zM1842 2935l8 8-8 8-8-8zM1772 2952l8 8-8 8-8-8zM1753 2963l8 8-8 8-8-8zM1835 3017l8 8-8 8-8-8zM1424 3350l8 8-8 8-8-8zM1303 3404l8 8-8 8-8-8zM1313 3423l8 8-8 8-8-8zM1117 3521l8 8-8 8-8-8zM1136 3540l8 8-8 8-8-8zM2126 3099l8 8-8 8-8-8z"/>
<path fill="#c5ff3a" d="M1526 2884l8 8-8 8-8-8zM1365 3231l8 8-8 8-8-8z"/>
<path fill="#dcff23" d="M1896 2193l8 8-8 8-8-8z"/>
<path fill="#f3ff0c" d="M1650 2487l8 8-8 8-8-8zM1437 2858l8 8-8 8-8-8zM1505 2958l8 8-8 8-8-8zM1577 2927l8 8-8 8-8-8zM1780 2949l8 8-8 8-8-8zM1913 3004l8 8-8 8-8-8zM1920 3000l8 8-8 8-8-8zM1566 3134l8 8-8 8-8-8zM1228 3210l8 8-8 8-8-8zM1393 3385l8 8-8 8-8-8z"/>
<path fill="#fff400" d="M1441 2875l8 8-8 8-8-8zM1648 2888l8 8-8 8-8-8zM1988 2925l8 8-8 8-8-8zM1293 3312l8 8-8 8-8-8zM1896 3231l8 8-8 8-8-8z"/>
<path fill="#ffdd00" d="M1540 2939l8 8-8 8-8-8z"/>
<path fill="#ffc500" d="M1642 2929l8 8-8 8-8-8zM1694 2941l8 8-8 8-8-8zM1656 2954l8 8-8 8-8-8zM1482 3017l8 8-8 8-8-8zM1790 2921l8 8-8 8-8-8zM1741 2975l8 8-8 8-8-8zM1754 2982l8 8-8 8-8-8zM1780 2968l8 8-8 8-8-8zM1861 3008l8 8-8 8-8-8zM1828 3021l8 8-8 8-8-8zM1158 3415l8 8-8 8-8-8zM1994 3192l8 8-8 8-8-8zM2137 3103l8 8-8 8-8-8z"/>
<path fill="#ffae00" d="M1479 3289l8 8-8 8-8-8z"/>
<path fill="#ff8000" d="M1464 2986l8 8-8 8-8-8zM1510 2937l8 8-8 8-8-8zM1882 2797l8 8-8 8-8-8zM2072 2960l8 8-8 8-8-8zM1834 2992l8 8-8 8-8-8zM1843 2997l8 8-8 8-8-8zM1325 3227l8 8-8 8-8-8zM1516 3385l8 8-8 8-8-8zM1366 3536l8 8-8 8-8-8zM1290 3624l8 8-8 8-8-8zM1890 3224l8 8-8 8-8-8zM2052 3130l8 8-8 8-8-8z"/>
<path fill="#ff6900" d="M1501 2979l8 8-8 8-8-8zM1877 2874l8 8-8 8-8-8z"/>
<path fill="#ff5200" d="M1280 2944l8 8-8 8-8-8zM1694 2967l8 8-8 8-8-8zM1919 2772l8 8-8 8-8-8zM1882 2862l8 8-8 8-8-8zM1754 2958l8 8-8 8-8-8zM1591 3365l8 8-8 8-8-8zM1161 3540l8 8-8 8-8-8zM1474 3574l8 8-8 8-8-8zM1803 3096l8 8-8 8-8-8zM1726 3227l8 8-8 8-8-8z"/>
<path fill="#ff3b00" d="M1587 2869l8 8-8 8-8-8zM1581 2928l8 8-8 8-8-8zM1856 2819l8 8-8 8-8-8zM1724 2932l8 8-8 8-8-8zM1713 2956l8 8-8 8-8-8zM1602 3351l8 8-8 8-8-8z"/>
<path fill="#ff2400" d="M1673 2922l8 8-8 8-8-8zM1736 2928l8 8-8 8-8-8zM1435 3374l8 8-8 8-8-8z"/>
<path fill="#ff0c00" d="M1466 2976l8 8-8 8-8-8zM1659 2973l8 8-8 8-8-8zM1582 3026l8 8-8 8-8-8zM1939 2849l8 8-8 8-8-8zM1954 2907l8 8-8 8-8-8zM1792 2951l8 8-8 8-8-8zM1241 3239l8 8-8 8-8-8zM1602 3372l8 8-8 8-8-8zM1270 3447l8 8-8 8-8-8zM1505 3530l8 8-8 8-8-8zM1499 3546l8 8-8 8-8-8zM1317 3567l8 8-8 8-8-8zM1495 3566l8 8-8 8-8-8zM1232 3660l8 8-8 8-8-8zM1911 3097l8 8-8 8-8-8zM1939 3237l8 8-8 8-8-8zM1723 3341l8 8-8 8-8-8z"/>
<path fill="#f40000" d="M1886 2920l8 8-8 8-8-8zM1932 2923l8 8-8 8-8-8zM1835 3053l8 8-8 8-8-8zM1620 3146l8 8-8 8-8-8zM1541 3347l8 8-8 8-8-8zM1590 3418l8 8-8 8-8-8zM1584 3571l8 8-8 8-8-8zM1754 3180l8 8-8 8-8-8z"/>
<path fill="#dd0000" d="M1682 2973l8 8-8 8-8-8z"/>
<path fill="#c60000" d="M1691 2871l8 8-8 8-8-8zM1895 2840l8 8-8 8-8-8zM1356 3581l8 8-8 8-8-8zM1813 3116l8 8-8 8-8-8z"/>
<path fill="#af0000" d="M1528 3007l8 8-8 8-8-8zM1469 3032l8 8-8 8-8-8zM1853 2948l8 8-8 8-8-8zM1826 3055l8 8-8 8-8-8zM1856 3061l8 8-8 8-8-8zM1620 3159l8 8-8 8-8-8zM1825 3111l8 8-8 8-8-8zM1722 3170l8 8-8 8-8-8zM1740 3202l8 8-8 8-8-8z"/>
<path fill="#0000dd" d="M1979 2559l13-7v14zM1967 2526l13-7v14zM1962 2509l13-7v14z"/>
<path fill="#0000f4" d="M1956 2492l13-7v14z"/>
<path fill="#0024ff" d="M2688 3095l13-7v14zM2702 3088l13-7v14zM2716 3082l13-7v14zM2729 3075l13-7v14zM2508 2897l13-7v14z"/>
<path fill="#003bff" d="M2434 3177l13-7v14zM2647 3114l13-7v14zM2660 3108l13-7v14z"/>
<path fill="#0052ff" d="M2735 2969l13-7v14zM2523 3157l13-7v14zM2487 3149l13-7v14zM2540 3121l13-7v14zM2435 2825l13-7v14zM2674 3101l13-7v14zM2743 3069l13-7v14zM2390 3012l13-7v14zM2519 2886l13-7v14zM2509 2975l13-7v14zM1951 2608l13-7v14zM2818 3468l13-7v14zM2149 3120l13-7v14zM2195 3215l13-7v14z"/>
<path fill="#0069ff" d="M2527 3232l13-7v14zM2535 3166l13-7v14zM2783 3251l13-7v14zM2447 3170l13-7v14zM2501 3142l13-7v14zM2514 3135l13-7v14zM2527 3128l13-7v14zM2757 3062l13-7v14zM2377 3024l13-7v14zM2400 3001l13-7v14zM2411 2991l13-7v14zM2476 2928l13-7v14zM2498 2907l13-7v14zM2498 2985l13-7v14zM1944 2592l13-7v14zM2787 3470l13-7v14zM2803 3469l13-7v14z"/>
<path fill="#0080ff" d="M2764 2979l13-7v14zM2721 2964l13-7v14zM2577 2915l13-7v14zM2562 2910l13-7v14zM2033 2736l13-7v14zM2078 2498l13-7v14zM2076 2483l13-7v14zM2511 3148l13-7v14zM2475 3121l13-7v14zM2408 3191l13-7v14zM2421 3184l13-7v14zM2461 3163l13-7v14zM2474 3156l13-7v14zM2076 2856l13-7v14zM2444 2813l13-7v14zM2453 2801l13-7v14zM2771 3056l13-7v14zM2785 3049l13-7v14zM2433 2970l13-7v14zM2454 2949l13-7v14zM2530 2876l13-7v14zM2474 3004l13-7v14zM2486 2994l13-7v14zM2521 2966l13-7v14zM2726 3472l13-7v14zM2741 3472l13-7v14zM2757 3471l13-7v14zM2772 3470l13-7v14zM2013 2508l13-7v14zM1997 2514l13-7v14zM1964 2526l13-7v14zM2206 3114l13-7v14z"/>
<path fill="#0097ff" d="M2793 2989l13-7v14zM2750 2974l13-7v14zM2706 2959l13-7v14zM2591 2920l13-7v14zM2485 3248l13-7v14zM2437 3006l13-7v14zM2482 2967l13-7v14zM2090 2590l13-7v14zM2559 3185l13-7v14zM2547 3176l13-7v14zM2487 3130l13-7v14zM1985 2758l13-7v14zM2554 3113l13-7v14zM2567 3106l13-7v14zM2621 3078l13-7v14zM2741 3012l13-7v14zM2069 2864l13-7v14zM2071 2839l13-7v14zM1927 2584l13-7v14zM1919 2568l13-7v14zM1911 2553l13-7v14zM1903 2537l13-7v14zM2308 2992l13-7v14zM2408 2861l13-7v14zM2592 3140l13-7v14zM2605 3134l13-7v14zM2633 3121l13-7v14zM2364 3036l13-7v14zM2422 2981l13-7v14zM2465 2939l13-7v14zM2487 2918l13-7v14zM2642 2996l13-7v14zM2614 2985l13-7v14zM2742 3026l13-7v14zM2782 3004l13-7v14zM2463 3013l13-7v14zM2062 2490l13-7v14zM1931 2538l13-7v14zM1915 2544l13-7v14z"/>
<path fill="#00aeff" d="M2808 2994l13-7v14zM2778 2984l13-7v14zM2620 2929l13-7v14zM2457 3259l13-7v14zM2403 3036l13-7v14zM2448 2996l13-7v14zM2460 2986l13-7v14zM2471 2977l13-7v14zM2296 2562l13-7v14zM2072 2592l13-7v14zM2499 3139l13-7v14zM2463 3112l13-7v14zM2439 3094l13-7v14zM1999 2768l13-7v14zM2848 3292l13-7v14zM2809 3267l13-7v14zM2437 3031l13-7v14zM1930 2509l13-7v14zM1924 2493l13-7v14zM1917 2477l13-7v14zM2580 3099l13-7v14zM2607 3085l13-7v14zM2701 3034l13-7v14zM2714 3027l13-7v14zM2728 3020l13-7v14zM2659 3318l13-7v14zM2838 3279l13-7v14zM2853 3276l13-7v14zM2098 2922l13-7v14zM1935 2599l13-7v14zM2318 2978l13-7v14zM2399 2873l13-7v14zM2417 2849l13-7v14zM2426 2837l13-7v14zM2545 2680l13-7v14zM2564 3153l13-7v14zM2619 3127l13-7v14zM2798 3043l13-7v14zM2812 3036l13-7v14zM2444 2960l13-7v14zM2541 2865l13-7v14zM2752 2979l13-7v14zM2670 3008l13-7v14zM2628 2991l13-7v14zM2755 3019l13-7v14zM2451 3023l13-7v14zM2544 2947l13-7v14zM2568 2927l13-7v14zM2591 2908l13-7v14zM2603 2898l13-7v14zM1937 2576l13-7v14zM2711 3473l13-7v14z"/>
<path fill="#00c5ff" d="M2196 2561l13-7v14zM2199 2531l13-7v14zM2206 2471l13-7v14zM2880 3019l13-7v14zM2822 2999l13-7v14zM2692 2954l13-7v14zM2605 2925l13-7v14zM2548 2905l13-7v14zM2471 3253l13-7v14zM2513 3237l13-7v14zM2542 3227l13-7v14zM2415 3026l13-7v14zM2494 2957l13-7v14zM2505 2947l13-7v14zM2516 2937l13-7v14zM2057 2844l13-7v14zM2068 2540l13-7v14zM2310 2560l13-7v14zM2055 2595l13-7v14zM2571 3194l13-7v14zM2861 3301l13-7v14zM2796 3259l13-7v14zM2731 3218l13-7v14zM2616 3144l13-7v14zM2590 3128l13-7v14zM1944 2541l13-7v14zM1937 2525l13-7v14zM2009 2576l13-7v14zM2594 3092l13-7v14zM2634 3070l13-7v14zM2647 3063l13-7v14zM2661 3056l13-7v14zM2674 3049l13-7v14zM2755 3005l13-7v14zM2768 2998l13-7v14zM2629 3325l13-7v14zM2644 3322l13-7v14zM2808 3286l13-7v14zM2019 2773l13-7v14zM2276 2723l13-7v14zM2390 2885l13-7v14zM2535 2692l13-7v14zM2352 3048l13-7v14zM2649 2759l13-7v14zM2280 2780l13-7v14zM2332 2647l13-7v14zM2343 2619l13-7v14zM2349 2605l13-7v14zM2699 3010l13-7v14zM2779 2964l13-7v14zM2792 2956l13-7v14zM2656 3002l13-7v14zM2599 2979l13-7v14zM2571 2968l13-7v14zM2715 3040l13-7v14zM2769 3011l13-7v14zM2533 2956l13-7v14zM2556 2937l13-7v14zM2579 2918l13-7v14zM2614 2889l13-7v14zM2626 2879l13-7v14zM2638 2869l13-7v14zM2794 2998l13-7v14zM2695 3474l13-7v14zM2091 2480l13-7v14zM2077 2485l13-7v14zM1898 2550l13-7v14z"/>
<path fill="#00ddff" d="M2201 2516l13-7v14zM2203 2501l13-7v14zM2205 2486l13-7v14zM2208 2456l13-7v14zM2210 2441l13-7v14zM2212 2426l13-7v14zM2866 3014l13-7v14zM2851 3009l13-7v14zM2648 2939l13-7v14zM2634 2934l13-7v14zM2534 2900l13-7v14zM2405 2857l13-7v14zM2468 2647l13-7v14zM2499 3243l13-7v14zM2570 3216l13-7v14zM2426 3016l13-7v14zM2528 2927l13-7v14zM2539 2917l13-7v14zM2630 2836l13-7v14zM2324 2514l13-7v14zM2337 2470l13-7v14zM2346 2441l13-7v14zM2266 2566l13-7v14zM2251 2568l13-7v14zM2021 2600l13-7v14zM1986 2605l13-7v14zM2426 3085l13-7v14zM2402 3067l13-7v14zM2390 3058l13-7v14zM2111 2850l13-7v14zM1957 2737l13-7v14zM2835 3284l13-7v14zM2822 3276l13-7v14zM2757 3234l13-7v14zM2744 3226l13-7v14zM2642 3160l13-7v14zM2629 3152l13-7v14zM2603 3136l13-7v14zM2488 3063l13-7v14zM2386 2999l13-7v14zM2086 2896l13-7v14zM1950 2557l13-7v14zM2013 2593l13-7v14zM2687 3041l13-7v14zM2781 2990l13-7v14zM2614 3328l13-7v14zM2688 3312l13-7v14zM2823 3282l13-7v14zM2868 3272l13-7v14zM2077 2879l13-7v14zM2061 2849l13-7v14zM1909 2576l13-7v14zM1925 2520l13-7v14zM1911 2488l13-7v14zM2618 2846l13-7v14zM2630 2836l13-7v14zM2652 2816l13-7v14zM2092 2905l13-7v14zM2087 2889l13-7v14zM2242 2718l13-7v14zM2297 3005l13-7v14zM2372 2908l13-7v14zM2381 2896l13-7v14zM2463 2789l13-7v14zM2472 2777l13-7v14zM2508 2728l13-7v14zM2517 2716l13-7v14zM2526 2704l13-7v14zM2551 3160l13-7v14zM2826 3029l13-7v14zM2768 2899l13-7v14zM2738 2892l13-7v14zM2573 2833l13-7v14zM2639 2769l13-7v14zM2286 2763l13-7v14zM2305 2717l13-7v14zM2310 2703l13-7v14zM2338 2633l13-7v14zM2419 2421l13-7v14zM2686 3017l13-7v14zM2739 2987l13-7v14zM2819 2941l13-7v14zM1960 2600l13-7v14zM2585 2973l13-7v14zM2674 3061l13-7v14zM2701 3047l13-7v14zM2728 3033l13-7v14zM2754 3042l13-7v14zM2740 3036l13-7v14zM2428 3042l13-7v14zM2439 3033l13-7v14zM1929 2560l13-7v14zM2477 2344l13-7v14zM2347 2389l13-7v14zM2046 2496l13-7v14z"/>
<path fill="#00f4ff" d="M2190 2608l13-7v14zM2192 2591l13-7v14zM2194 2576l13-7v14zM2198 2546l13-7v14zM2837 3004l13-7v14zM2677 2949l13-7v14zM2663 2944l13-7v14zM2448 2872l13-7v14zM2419 2862l13-7v14zM2391 2853l13-7v14zM2510 3174l13-7v14zM2524 3167l13-7v14zM2460 2660l13-7v14zM2112 2866l13-7v14zM2090 2588l13-7v14zM2392 3046l13-7v14zM2562 2897l13-7v14zM2653 2816l13-7v14zM2675 2796l13-7v14zM2062 2487l13-7v14zM2315 2543l13-7v14zM2329 2499l13-7v14zM2333 2485l13-7v14zM2342 2456l13-7v14zM2350 2427l13-7v14zM2779 2966l13-7v14zM2806 2951l13-7v14zM2819 2943l13-7v14zM2832 2935l13-7v14zM2872 2912l13-7v14zM2340 2556l13-7v14zM2281 2564l13-7v14zM2236 2570l13-7v14zM2826 3389l13-7v14zM2451 3103l13-7v14zM2414 3076l13-7v14zM2125 2860l13-7v14zM1943 2727l13-7v14zM2770 3243l13-7v14zM2693 3193l13-7v14zM2680 3185l13-7v14zM2667 3177l13-7v14zM2654 3169l13-7v14zM2578 3120l13-7v14zM2565 3112l13-7v14zM2539 3096l13-7v14zM2475 3055l13-7v14zM2424 3023l13-7v14zM2412 3015l13-7v14zM2093 2912l13-7v14zM2074 2864l13-7v14zM2067 2848l13-7v14zM2004 2559l13-7v14zM2000 2542l13-7v14zM1991 2509l13-7v14zM2795 2983l13-7v14zM2584 3334l13-7v14zM2599 3331l13-7v14zM2673 3315l13-7v14zM2703 3309l13-7v14zM2748 3299l13-7v14zM2763 3295l13-7v14zM2793 3289l13-7v14zM2086 2894l13-7v14zM1918 2504l13-7v14zM2550 2906l13-7v14zM2664 2805l13-7v14zM2108 2955l13-7v14zM2323 2729l13-7v14zM2294 2725l13-7v14zM2259 2720l13-7v14zM2224 2716l13-7v14zM2265 3047l13-7v14zM2287 3019l13-7v14zM2350 2936l13-7v14zM2490 2752l13-7v14zM2499 2740l13-7v14zM2578 3147l13-7v14zM2840 3023l13-7v14zM2797 2907l13-7v14zM2783 2903l13-7v14zM2552 2854l13-7v14zM2299 2731l13-7v14zM2354 2591l13-7v14zM2360 2577l13-7v14zM2365 2563l13-7v14zM2392 2492l13-7v14zM2398 2478l13-7v14zM2403 2464l13-7v14zM2713 3002l13-7v14zM2726 2995l13-7v14zM2766 2972l13-7v14zM2806 2949l13-7v14zM1953 2584l13-7v14zM2221 2663l13-7v14zM2224 2646l13-7v14zM2227 2629l13-7v14zM2347 2801l13-7v14zM2684 3014l13-7v14zM2557 2962l13-7v14zM2810 2990l13-7v14zM2811 3066l13-7v14zM2404 3061l13-7v14zM2708 2811l13-7v14zM2461 3157l13-7v14zM2488 3142l13-7v14zM2635 2942l13-7v14zM2076 2875l13-7v14zM2069 2860l13-7v14zM1914 2529l13-7v14zM2680 3475l13-7v14zM2448 2354l13-7v14z"/>
<path fill="#0cfff3" d="M2462 2876l13-7v14zM1983 2720l13-7v14zM2538 3161l13-7v14zM2551 3154l13-7v14zM2484 2621l13-7v14zM2507 2582l13-7v14zM2556 3222l13-7v14zM2584 3211l13-7v14zM2352 3080l13-7v14zM2379 3057l13-7v14zM2550 2907l13-7v14zM2687 2786l13-7v14zM2083 2889l13-7v14zM2074 2874l13-7v14zM2014 2769l13-7v14zM2109 2845l13-7v14zM2074 2592l13-7v14zM2072 2574l13-7v14zM2070 2557l13-7v14zM2320 2528l13-7v14zM2436 3161l13-7v14zM2462 3146l13-7v14zM2713 3004l13-7v14zM2739 2989l13-7v14zM2753 2981l13-7v14zM2846 2928l13-7v14zM2859 2920l13-7v14zM2370 2552l13-7v14zM2325 2558l13-7v14zM2221 2572l13-7v14zM2206 2574l13-7v14zM2176 2578l13-7v14zM2159 2580l13-7v14zM2003 2602l13-7v14zM1969 2607l13-7v14zM2595 3212l13-7v14zM2583 3203l13-7v14zM2097 2840l13-7v14zM2713 2894l13-7v14zM2719 3210l13-7v14zM2706 3201l13-7v14zM2552 3104l13-7v14zM2526 3087l13-7v14zM2514 3079l13-7v14zM2501 3071l13-7v14zM2463 3047l13-7v14zM2450 3039l13-7v14zM2399 3007l13-7v14zM2371 2990l13-7v14zM1986 2753l13-7v14zM2080 2880l13-7v14zM1963 2590l13-7v14zM1986 2492l13-7v14zM2822 2968l13-7v14zM2094 2910l13-7v14zM1932 2536l13-7v14zM2395 2627l13-7v14zM2479 2449l13-7v14zM2747 2805l13-7v14zM2867 2890l13-7v14zM2852 2887l13-7v14zM2747 2863l13-7v14zM2657 2843l13-7v14zM2465 2801l13-7v14zM2562 2896l13-7v14zM2573 2886l13-7v14zM2584 2876l13-7v14zM2596 2866l13-7v14zM2607 2856l13-7v14zM2103 2938l13-7v14zM2077 2878l13-7v14zM2353 2733l13-7v14zM2308 2727l13-7v14zM2207 2713l13-7v14zM2255 3061l13-7v14zM2276 3033l13-7v14zM2329 2964l13-7v14zM2361 2922l13-7v14zM2481 2765l13-7v14zM2378 3110l13-7v14zM2404 3090l13-7v14zM2743 2835l13-7v14zM2441 3211l13-7v14zM2523 3172l13-7v14zM2854 3016l13-7v14zM2827 2915l13-7v14zM2812 2911l13-7v14zM2753 2895l13-7v14zM2723 2888l13-7v14zM2067 2604l13-7v14zM2050 2606l13-7v14zM2563 2844l13-7v14zM2584 2823l13-7v14zM2595 2812l13-7v14zM2628 2780l13-7v14zM2293 2747l13-7v14zM2316 2689l13-7v14zM2321 2675l13-7v14zM2381 2520l13-7v14zM2387 2506l13-7v14zM2409 2450l13-7v14zM2436 2378l13-7v14zM2452 2336l13-7v14zM2673 3025l13-7v14zM1946 2568l13-7v14zM1911 2488l13-7v14zM2210 2715l13-7v14zM2217 2681l13-7v14zM2230 2614l13-7v14zM2233 2600l13-7v14zM2712 3026l13-7v14zM2661 3068l13-7v14zM2796 2997l13-7v14zM2797 3060l13-7v14zM2782 3054l13-7v14zM2768 3048l13-7v14zM2712 3025l13-7v14zM2352 3104l13-7v14zM2379 3081l13-7v14zM2416 3051l13-7v14zM2408 3185l13-7v14zM2435 3171l13-7v14zM2448 3164l13-7v14zM2475 3150l13-7v14zM2808 3003l13-7v14zM2779 2992l13-7v14zM2650 2947l13-7v14zM2061 2844l13-7v14zM1907 2513l13-7v14zM2520 2329l13-7v14zM2505 2334l13-7v14zM2462 2349l13-7v14zM2433 2359l13-7v14zM2419 2364l13-7v14zM2404 2369l13-7v14zM2390 2374l13-7v14zM2376 2379l13-7v14zM2304 2404l13-7v14z"/>
<path fill="#23ffdc" d="M2186 2643l13-7v14zM2188 2626l13-7v14zM2505 2891l13-7v14zM2491 2886l13-7v14zM2433 2867l13-7v14zM2376 2848l13-7v14zM2362 2843l13-7v14zM2476 2634l13-7v14zM2499 2595l13-7v14zM2115 2900l13-7v14zM2113 2883l13-7v14zM2111 2848l13-7v14zM2110 2831l13-7v14zM2086 2536l13-7v14zM2598 3206l13-7v14zM2612 3200l13-7v14zM2627 3195l13-7v14zM2641 3190l13-7v14zM2684 3173l13-7v14zM2712 3163l13-7v14zM2755 3146l13-7v14zM2705 2953l13-7v14zM2662 2939l13-7v14zM2366 3069l13-7v14zM2573 2887l13-7v14zM2596 2866l13-7v14zM2607 2856l13-7v14zM2619 2846l13-7v14zM2664 2806l13-7v14zM2113 2897l13-7v14zM2641 3164l13-7v14zM2307 2572l13-7v14zM2355 2412l13-7v14zM2423 3168l13-7v14zM2449 3153l13-7v14zM2673 3027l13-7v14zM2686 3019l13-7v14zM2726 2997l13-7v14zM2766 2974l13-7v14zM2792 2958l13-7v14zM2191 2576l13-7v14zM2813 3379l13-7v14zM2777 3351l13-7v14zM2607 3221l13-7v14zM2327 2962l13-7v14zM2001 2762l13-7v14zM1971 2744l13-7v14zM2808 2976l13-7v14zM2718 3305l13-7v14zM2733 3302l13-7v14zM2778 3292l13-7v14zM2102 2925l13-7v14zM2401 2613l13-7v14zM2414 2586l13-7v14zM2440 2531l13-7v14zM2447 2517l13-7v14zM2460 2490l13-7v14zM2492 2421l13-7v14zM2763 2807l13-7v14zM2837 2883l13-7v14zM2435 2794l13-7v14zM2391 2785l13-7v14zM2379 3057l13-7v14zM2539 2916l13-7v14zM2641 2826l13-7v14zM2687 2785l13-7v14zM2084 2894l13-7v14zM2340 2950l13-7v14zM2364 3120l13-7v14zM2392 3099l13-7v14zM2622 2927l13-7v14zM2634 2918l13-7v14zM2694 2872l13-7v14zM2767 2816l13-7v14zM2455 3204l13-7v14zM2482 3192l13-7v14zM2496 3185l13-7v14zM2510 3179l13-7v14zM2537 3166l13-7v14zM2868 3009l13-7v14zM2882 3003l13-7v14zM2339 3060l13-7v14zM2606 2801l13-7v14zM2617 2791l13-7v14zM2327 2661l13-7v14zM2370 2549l13-7v14zM2376 2534l13-7v14zM2414 2435l13-7v14zM2425 2407l13-7v14zM2430 2393l13-7v14zM2447 2350l13-7v14zM2647 3040l13-7v14zM2660 3032l13-7v14zM2832 2933l13-7v14zM2096 2920l13-7v14zM1939 2552l13-7v14zM1918 2504l13-7v14zM2128 2506l13-7v14zM2065 2524l13-7v14zM2214 2698l13-7v14zM2236 2585l13-7v14zM2239 2570l13-7v14zM2246 2981l13-7v14zM2698 3020l13-7v14zM2688 3054l13-7v14zM2823 2983l13-7v14zM2698 3019l13-7v14zM2670 3007l13-7v14zM2393 3070l13-7v14zM2650 2860l13-7v14zM2661 2850l13-7v14zM2673 2840l13-7v14zM2697 2821l13-7v14zM2720 2801l13-7v14zM2422 3178l13-7v14zM2501 3135l13-7v14zM2514 3128l13-7v14zM2541 3113l13-7v14zM2750 2982l13-7v14zM2678 2957l13-7v14zM2621 2937l13-7v14zM2607 2932l13-7v14zM2535 2324l13-7v14zM2190 2445l13-7v14zM2161 2455l13-7v14z"/>
<path fill="#3affc5" d="M2519 2896l13-7v14zM2476 2881l13-7v14zM2483 3186l13-7v14zM2565 3148l13-7v14zM2578 3141l13-7v14zM2592 3135l13-7v14zM2606 3128l13-7v14zM2826 3022l13-7v14zM2232 3033l13-7v14zM2250 3004l13-7v14zM2444 2686l13-7v14zM2452 2673l13-7v14zM2491 2608l13-7v14zM2117 2935l13-7v14zM2116 2918l13-7v14zM2669 3179l13-7v14zM2698 3168l13-7v14zM2726 3157l13-7v14zM2741 3152l13-7v14zM2691 2948l13-7v14zM2677 2944l13-7v14zM2648 2934l13-7v14zM2619 2924l13-7v14zM2641 2826l13-7v14zM2092 2904l13-7v14zM2006 2753l13-7v14zM2530 3283l13-7v14zM2116 2931l13-7v14zM2110 2862l13-7v14zM2680 3189l13-7v14zM2628 3156l13-7v14zM2410 3175l13-7v14zM2475 3139l13-7v14zM2489 3131l13-7v14zM2515 3116l13-7v14zM2554 3094l13-7v14zM2700 3012l13-7v14zM2355 2554l13-7v14zM2801 3370l13-7v14zM2789 3361l13-7v14zM2765 3342l13-7v14zM2478 3061l13-7v14zM2626 2956l13-7v14zM2663 2930l13-7v14zM2688 2912l13-7v14zM2700 2903l13-7v14zM2342 2972l13-7v14zM2312 2953l13-7v14zM1942 2726l13-7v14zM2112 2960l13-7v14zM2574 2749l13-7v14zM2098 2912l13-7v14zM2093 2895l13-7v14zM2835 2961l13-7v14zM2569 3338l13-7v14zM2369 2681l13-7v14zM2382 2654l13-7v14zM2408 2600l13-7v14zM2421 2572l13-7v14zM2427 2558l13-7v14zM2453 2504l13-7v14zM2466 2476l13-7v14zM2473 2462l13-7v14zM2498 2407l13-7v14zM2793 2812l13-7v14zM2778 2810l13-7v14zM2732 2802l13-7v14zM2657 2790l13-7v14zM2777 2870l13-7v14zM2762 2866l13-7v14zM2732 2860l13-7v14zM2717 2856l13-7v14zM2702 2853l13-7v14zM2687 2850l13-7v14zM2672 2846l13-7v14zM2494 2807l13-7v14zM2450 2798l13-7v14zM2421 2791l13-7v14zM2406 2788l13-7v14zM2232 2751l13-7v14zM2215 2748l13-7v14zM2352 3080l13-7v14zM2528 2926l13-7v14zM2675 2795l13-7v14zM2108 2940l13-7v14zM2092 2909l13-7v14zM2338 2731l13-7v14zM2326 3067l13-7v14zM2416 3081l13-7v14zM2429 3072l13-7v14zM2453 3054l13-7v14zM2658 2899l13-7v14zM2719 2853l13-7v14zM2755 2825l13-7v14zM2469 3198l13-7v14zM2708 2884l13-7v14zM2694 2880l13-7v14zM2255 2498l13-7v14zM2314 3084l13-7v14zM2327 3072l13-7v14zM1958 2507l13-7v14zM2226 2522l13-7v14zM2242 2418l13-7v14zM2244 2403l13-7v14zM2183 3022l13-7v14zM2190 3006l13-7v14zM2196 2990l13-7v14zM2441 2364l13-7v14zM2633 3048l13-7v14zM2845 2926l13-7v14zM2089 2904l13-7v14zM2082 2888l13-7v14zM2076 2872l13-7v14zM1925 2520l13-7v14zM2114 2510l13-7v14zM2082 2519l13-7v14zM2015 2539l13-7v14zM2242 2555l13-7v14zM2245 2541l13-7v14zM2221 3027l13-7v14zM2229 3011l13-7v14zM2355 2787l13-7v14zM2362 2774l13-7v14zM2513 3145l13-7v14zM2553 3124l13-7v14zM2837 2976l13-7v14zM2853 3084l13-7v14zM2726 3030l13-7v14zM2684 3013l13-7v14zM2613 2984l13-7v14zM2501 2938l13-7v14zM2474 2927l13-7v14zM2685 2831l13-7v14zM2567 3099l13-7v14zM2687 3033l13-7v14zM2765 2987l13-7v14zM2736 2977l13-7v14zM2693 2962l13-7v14zM2664 2952l13-7v14zM2592 2927l13-7v14zM2492 2893l13-7v14zM2478 2888l13-7v14zM2464 2883l13-7v14zM2083 2891l13-7v14zM2491 2339l13-7v14zM2361 2384l13-7v14zM2333 2394l13-7v14zM2318 2399l13-7v14zM2275 2414l13-7v14zM2261 2419l13-7v14zM2233 2429l13-7v14zM2218 2435l13-7v14zM2204 2440l13-7v14z"/>
<path fill="#51ffae" d="M2151 2919l13-7v14zM2497 3180l13-7v14zM2633 3115l13-7v14zM2647 3108l13-7v14zM2840 3015l13-7v14zM2853 3008l13-7v14zM2867 3002l13-7v14zM2241 3019l13-7v14zM2268 2974l13-7v14zM2515 2569l13-7v14zM2523 2556l13-7v14zM2546 2517l13-7v14zM2484 2596l13-7v14zM2492 2583l13-7v14zM2507 2557l13-7v14zM2530 2517l13-7v14zM2538 2504l13-7v14zM2655 3184l13-7v14zM2769 3141l13-7v14zM2798 3130l13-7v14zM2812 3124l13-7v14zM2841 3113l13-7v14zM2870 3102l13-7v14zM2734 2963l13-7v14zM2720 2958l13-7v14zM2633 2929l13-7v14zM2604 2920l13-7v14zM2561 2905l13-7v14zM2449 2876l13-7v14zM2434 2871l13-7v14zM2584 2877l13-7v14zM2109 2934l13-7v14zM2100 2919l13-7v14zM2515 3288l13-7v14zM2117 2948l13-7v14zM2115 2914l13-7v14zM2110 2903l13-7v14zM2692 3197l13-7v14zM2667 3181l13-7v14zM2654 3173l13-7v14zM2616 3148l13-7v14zM2577 3123l13-7v14zM2565 3115l13-7v14zM2311 2557l13-7v14zM2359 2398l13-7v14zM2363 2383l13-7v14zM2502 3124l13-7v14zM2528 3109l13-7v14zM2541 3102l13-7v14zM2568 3087l13-7v14zM2647 3042l13-7v14zM2660 3034l13-7v14zM2385 2550l13-7v14zM2752 3332l13-7v14zM2376 3047l13-7v14zM2362 3037l13-7v14zM2348 3026l13-7v14zM2441 3087l13-7v14zM2465 3069l13-7v14zM2490 3052l13-7v14zM2502 3043l13-7v14zM2750 2868l13-7v14zM2357 2981l13-7v14zM2106 2944l13-7v14zM2099 2928l13-7v14zM2524 2805l13-7v14zM2544 2783l13-7v14zM2554 2771l13-7v14zM2102 2929l13-7v14zM2089 2878l13-7v14zM2862 2946l13-7v14zM2876 2939l13-7v14zM1960 2600l13-7v14zM2375 2668l13-7v14zM2388 2640l13-7v14zM2434 2545l13-7v14zM2486 2435l13-7v14zM2511 2379l13-7v14zM2291 2553l13-7v14zM2299 2524l13-7v14zM2310 2480l13-7v14zM2342 2363l13-7v14zM2823 2817l13-7v14zM2808 2815l13-7v14zM2717 2800l13-7v14zM2612 2783l13-7v14zM2822 2880l13-7v14zM2807 2876l13-7v14zM2792 2873l13-7v14zM2642 2840l13-7v14zM2613 2833l13-7v14zM2509 2810l13-7v14zM2480 2804l13-7v14zM2301 2766l13-7v14zM2283 2762l13-7v14zM2266 2758l13-7v14zM2339 3091l13-7v14zM2366 3069l13-7v14zM2684 3011l13-7v14zM2669 3006l13-7v14zM2613 2983l13-7v14zM2599 2977l13-7v14zM2100 2925l13-7v14zM2398 2739l13-7v14zM2383 2737l13-7v14zM2368 2735l13-7v14zM2351 3043l13-7v14zM2465 3045l13-7v14zM2646 2909l13-7v14zM2670 2890l13-7v14zM2682 2881l13-7v14zM2706 2862l13-7v14zM2731 2844l13-7v14zM2857 2922l13-7v14zM2842 2918l13-7v14zM2032 2608l13-7v14zM2258 2483l13-7v14zM2267 2439l13-7v14zM1991 2606l13-7v14zM1963 2524l13-7v14zM2230 2492l13-7v14zM2233 2477l13-7v14zM2237 2448l13-7v14zM2240 2433l13-7v14zM2502 3122l13-7v14zM2568 3085l13-7v14zM2581 3078l13-7v14zM2594 3070l13-7v14zM2607 3063l13-7v14zM2859 2918l13-7v14zM2069 2856l13-7v14zM2062 2840l13-7v14zM1932 2536l13-7v14zM2207 2732l13-7v14zM2369 2761l13-7v14zM2377 2748l13-7v14zM2428 2656l13-7v14zM2435 2642l13-7v14zM2754 3043l13-7v14zM2726 3032l13-7v14zM2543 2956l13-7v14zM2530 2950l13-7v14zM2473 3166l13-7v14zM2486 3159l13-7v14zM2594 3103l13-7v14zM2607 3096l13-7v14zM2620 3089l13-7v14zM2634 3082l13-7v14zM2647 3075l13-7v14zM2850 2968l13-7v14zM2011 2765l13-7v14zM1994 2735l13-7v14zM2839 3078l13-7v14zM2825 3072l13-7v14zM2641 2995l13-7v14zM2571 2967l13-7v14zM2082 2489l13-7v14zM2366 3092l13-7v14zM2528 3121l13-7v14zM2554 3106l13-7v14zM2581 3092l13-7v14zM2607 3077l13-7v14zM2674 3041l13-7v14zM2767 2989l13-7v14zM2781 2981l13-7v14zM2807 2966l13-7v14zM2821 2959l13-7v14zM2861 2936l13-7v14zM2823 3008l13-7v14zM2564 2917l13-7v14zM2176 2450l13-7v14z"/>
<path fill="#68ff97" d="M2620 3121l13-7v14zM2674 3095l13-7v14zM2688 3089l13-7v14zM2881 2995l13-7v14zM2259 2989l13-7v14zM2437 2699l13-7v14zM2531 2543l13-7v14zM2538 2530l13-7v14zM2720 3559l13-7v14zM2084 2518l13-7v14zM2083 2501l13-7v14zM2499 2570l13-7v14zM2784 3135l13-7v14zM2884 3097l13-7v14zM2763 2973l13-7v14zM2590 2915l13-7v14zM2576 2910l13-7v14zM2547 2901l13-7v14zM2504 2886l13-7v14zM2463 2880l13-7v14zM2414 3142l13-7v14zM2554 3054l13-7v14zM2721 2948l13-7v14zM2339 3092l13-7v14zM2544 3279l13-7v14zM2573 3270l13-7v14zM2821 3195l13-7v14zM2880 3177l13-7v14zM2114 2937l13-7v14zM2104 2851l13-7v14zM2603 3140l13-7v14zM2590 3132l13-7v14zM2552 3107l13-7v14zM2514 3083l13-7v14zM2289 2629l13-7v14zM2293 2615l13-7v14zM2298 2600l13-7v14zM2302 2586l13-7v14zM2372 2354l13-7v14zM2063 2855l13-7v14zM2055 2840l13-7v14zM2620 3057l13-7v14zM2430 2544l13-7v14zM2415 2546l13-7v14zM2400 2548l13-7v14zM2728 3314l13-7v14zM2704 3295l13-7v14zM2655 3258l13-7v14zM2631 3240l13-7v14zM2619 3231l13-7v14zM2515 3035l13-7v14zM2613 2965l13-7v14zM2638 2947l13-7v14zM2675 2921l13-7v14zM2725 2885l13-7v14zM2763 2859l13-7v14zM2812 2823l13-7v14zM2564 2760l13-7v14zM2106 2946l13-7v14zM1939 2526l13-7v14zM1925 2494l13-7v14zM1919 2477l13-7v14zM2849 2954l13-7v14zM1935 2538l13-7v14zM2336 2749l13-7v14zM2343 2736l13-7v14zM2349 2722l13-7v14zM2362 2695l13-7v14zM2505 2393l13-7v14zM2518 2365l13-7v14zM2287 2568l13-7v14zM2295 2539l13-7v14zM2307 2495l13-7v14zM2322 2437l13-7v14zM2334 2393l13-7v14zM2338 2378l13-7v14zM2346 2348l13-7v14zM2702 2797l13-7v14zM2687 2795l13-7v14zM2672 2792l13-7v14zM2642 2787l13-7v14zM2627 2785l13-7v14zM2597 2780l13-7v14zM2524 2814l13-7v14zM2376 2782l13-7v14zM2362 2779l13-7v14zM2347 2775l13-7v14zM2332 2772l13-7v14zM2318 2769l13-7v14zM2249 2755l13-7v14zM2392 3045l13-7v14zM2426 3016l13-7v14zM2448 2996l13-7v14zM2505 2946l13-7v14zM2516 2936l13-7v14zM2712 3023l13-7v14zM2655 3000l13-7v14zM2627 2988l13-7v14zM2069 2863l13-7v14zM2061 2847l13-7v14zM2592 2767l13-7v14zM2532 2759l13-7v14zM2339 3055l13-7v14zM2441 3063l13-7v14zM2585 2954l13-7v14zM2597 2945l13-7v14zM2609 2936l13-7v14zM2428 3217l13-7v14zM2679 2876l13-7v14zM2664 2873l13-7v14zM2248 2583l13-7v14zM2233 2585l13-7v14zM2171 2592l13-7v14zM1980 2614l13-7v14zM2261 2469l13-7v14zM2264 2454l13-7v14zM2270 2424l13-7v14zM2276 2394l13-7v14zM1980 2573l13-7v14zM1975 2557l13-7v14zM2228 2507l13-7v14zM2235 2462l13-7v14zM2620 3055l13-7v14zM2872 2910l13-7v14zM2109 2952l13-7v14zM2103 2936l13-7v14zM2049 2529l13-7v14zM1982 2549l13-7v14zM1948 2558l13-7v14zM1932 2563l13-7v14zM1915 2568l13-7v14zM2247 2526l13-7v14zM2250 2511l13-7v14zM2238 2996l13-7v14zM2384 2735l13-7v14zM2413 2682l13-7v14zM2420 2669l13-7v14zM2449 2616l13-7v14zM2457 2603l13-7v14zM2508 2509l13-7v14zM2522 2482l13-7v14zM2537 2456l13-7v14zM2419 3194l13-7v14zM2446 3180l13-7v14zM2500 3152l13-7v14zM2526 3138l13-7v14zM2567 3117l13-7v14zM2580 3110l13-7v14zM2125 2960l13-7v14zM2867 3090l13-7v14zM2656 3001l13-7v14zM2599 2978l13-7v14zM2585 2972l13-7v14zM2557 2961l13-7v14zM2515 2944l13-7v14zM2647 3055l13-7v14zM2700 3026l13-7v14zM2714 3018l13-7v14zM2754 2996l13-7v14zM2875 2929l13-7v14zM2852 3018l13-7v14zM2837 3013l13-7v14zM2722 2972l13-7v14zM2707 2967l13-7v14zM2578 2922l13-7v14zM2506 2897l13-7v14zM2449 2878l13-7v14zM2421 2868l13-7v14zM2290 2409l13-7v14z"/>
<path fill="#80ff80" d="M2661 3102l13-7v14zM2358 2828l13-7v14zM2366 2815l13-7v14zM2413 2738l13-7v14zM2421 2725l13-7v14zM2429 2712l13-7v14zM2735 3560l13-7v14zM2082 2486l13-7v14zM2446 2662l13-7v14zM2515 2544l13-7v14zM2522 2530l13-7v14zM2749 2968l13-7v14zM2808 2999l13-7v14zM2793 2994l13-7v14zM2549 2910l13-7v14zM2520 2900l13-7v14zM2506 2895l13-7v14zM2492 2890l13-7v14zM2388 3158l13-7v14zM2401 3150l13-7v14zM2426 3134l13-7v14zM2439 3126l13-7v14zM2516 3078l13-7v14zM2529 3070l13-7v14zM2567 3046l13-7v14zM2605 3021l13-7v14zM2695 2964l13-7v14zM2837 2874l13-7v14zM2863 2857l13-7v14zM2559 3275l13-7v14zM2631 3253l13-7v14zM2807 3199l13-7v14zM2102 2834l13-7v14zM2705 3206l13-7v14zM2526 3091l13-7v14zM2488 3067l13-7v14zM2172 3003l13-7v14zM2090 2900l13-7v14zM2072 2870l13-7v14zM2581 3079l13-7v14zM2594 3072l13-7v14zM2633 3049l13-7v14zM2521 2532l13-7v14zM2506 2534l13-7v14zM2491 2536l13-7v14zM2476 2538l13-7v14zM2740 3323l13-7v14zM2716 3304l13-7v14zM2668 3267l13-7v14zM2334 3016l13-7v14zM2416 3104l13-7v14zM2428 3095l13-7v14zM2453 3078l13-7v14zM2539 3017l13-7v14zM2552 3009l13-7v14zM2601 2974l13-7v14zM2651 2938l13-7v14zM2738 2877l13-7v14zM2825 2814l13-7v14zM2433 2907l13-7v14zM2473 2862l13-7v14zM2483 2851l13-7v14zM2503 2828l13-7v14zM2513 2817l13-7v14zM2534 2794l13-7v14zM2584 2737l13-7v14zM2080 2845l13-7v14zM1932 2510l13-7v14zM1949 2570l13-7v14zM1942 2554l13-7v14zM1922 2506l13-7v14zM2119 2955l13-7v14zM2531 2338l13-7v14zM2267 2640l13-7v14zM2275 2611l13-7v14zM2283 2582l13-7v14zM2303 2510l13-7v14zM2330 2407l13-7v14zM2350 2334l13-7v14zM2354 2319l13-7v14zM2552 2773l13-7v14zM2628 2836l13-7v14zM2539 2817l13-7v14zM2415 3026l13-7v14zM2494 2956l13-7v14zM2740 3035l13-7v14zM2641 2994l13-7v14zM2683 2780l13-7v14zM2547 2761l13-7v14zM2457 2748l13-7v14zM2443 2746l13-7v14zM2413 2742l13-7v14zM2314 3079l13-7v14zM2364 3031l13-7v14zM2443 2953l13-7v14zM2453 2943l13-7v14zM2525 3000l13-7v14zM2573 2964l13-7v14zM2480 2761l13-7v14zM2649 2869l13-7v14zM2576 2850l13-7v14zM2293 2578l13-7v14zM2263 2581l13-7v14zM2218 2586l13-7v14zM2188 2590l13-7v14zM2015 2610l13-7v14zM2229 2631l13-7v14zM2252 2513l13-7v14zM1969 2540l13-7v14zM2223 2537l13-7v14zM2436 3159l13-7v14zM2449 3152l13-7v14zM2489 3130l13-7v14zM2528 3107l13-7v14zM2541 3100l13-7v14zM2554 3093l13-7v14zM1965 2553l13-7v14zM2256 2481l13-7v14zM2259 2467l13-7v14zM2267 2422l13-7v14zM2391 2722l13-7v14zM2398 2708l13-7v14zM2406 2695l13-7v14zM2442 2629l13-7v14zM2464 2589l13-7v14zM2479 2563l13-7v14zM2740 3037l13-7v14zM2516 2945l13-7v14zM2433 3187l13-7v14zM2460 3173l13-7v14zM2864 2961l13-7v14zM2116 2945l13-7v14zM2627 2990l13-7v14zM2543 2955l13-7v14zM2529 2949l13-7v14zM2487 2932l13-7v14zM2460 2921l13-7v14zM2446 2915l13-7v14zM2432 2909l13-7v14zM2418 2904l13-7v14zM2282 2420l13-7v14zM2239 2435l13-7v14zM2125 2474l13-7v14zM2096 2484l13-7v14zM2068 2494l13-7v14zM2594 3084l13-7v14zM2660 3048l13-7v14zM2848 2944l13-7v14zM2866 3023l13-7v14zM2521 2902l13-7v14zM2435 2873l13-7v14zM2098 2923l13-7v14zM2247 2424l13-7v14z"/>
<path fill="#97ff68" d="M2469 3193l13-7v14zM2702 3082l13-7v14zM2812 3029l13-7v14zM2405 2751l13-7v14zM2704 3559l13-7v14zM2080 2471l13-7v14zM2423 2701l13-7v14zM2431 2688l13-7v14zM2438 2675l13-7v14zM2454 2649l13-7v14zM2461 2636l13-7v14zM2469 2622l13-7v14zM2477 2609l13-7v14zM2855 3108l13-7v14zM2518 2891l13-7v14zM2490 2882l13-7v14zM2534 2905l13-7v14zM2477 2885l13-7v14zM2420 2866l13-7v14zM2452 3118l13-7v14zM2465 3110l13-7v14zM2541 3062l13-7v14zM2811 2890l13-7v14zM2824 2882l13-7v14zM2850 2865l13-7v14zM2836 3190l13-7v14zM2851 3186l13-7v14zM2731 3222l13-7v14zM2539 3099l13-7v14zM2501 3075l13-7v14zM2271 2687l13-7v14zM2276 2672l13-7v14zM2368 2369l13-7v14zM2377 2339l13-7v14zM2081 2885l13-7v14zM2607 3064l13-7v14zM2460 2540l13-7v14zM2692 3286l13-7v14zM2643 3249l13-7v14zM2320 3005l13-7v14zM2527 3026l13-7v14zM2564 3000l13-7v14zM2576 2991l13-7v14zM2589 2982l13-7v14zM2775 2850l13-7v14zM2787 2841l13-7v14zM2800 2832l13-7v14zM2360 2989l13-7v14zM2393 2952l13-7v14zM2423 2918l13-7v14zM2443 2896l13-7v14zM2463 2873l13-7v14zM2493 2839l13-7v14zM2594 2726l13-7v14zM2111 2962l13-7v14zM2084 2862l13-7v14zM2068 2849l13-7v14zM1929 2522l13-7v14zM2356 2708l13-7v14zM2524 2352l13-7v14zM2537 2324l13-7v14zM2259 2669l13-7v14zM2279 2597l13-7v14zM2314 2466l13-7v14zM2318 2451l13-7v14zM2326 2422l13-7v14zM2838 2820l13-7v14zM2567 2775l13-7v14zM2598 2830l13-7v14zM2583 2826l13-7v14zM2568 2823l13-7v14zM2403 3036l13-7v14zM2437 3006l13-7v14zM2482 2966l13-7v14zM2644 2785l13-7v14zM2825 3070l13-7v14zM2782 3052l13-7v14zM2768 3047l13-7v14zM2754 3041l13-7v14zM2698 3017l13-7v14zM2557 2960l13-7v14zM2116 2956l13-7v14zM2713 2785l13-7v14zM2698 2783l13-7v14zM2668 2778l13-7v14zM2653 2776l13-7v14zM2623 2772l13-7v14zM2517 2756l13-7v14zM2502 2754l13-7v14zM2472 2750l13-7v14zM2428 2744l13-7v14zM2376 3018l13-7v14zM2400 2996l13-7v14zM2383 2609l13-7v14zM2395 2581l13-7v14zM2401 2567l13-7v14zM2413 2539l13-7v14zM2489 3027l13-7v14zM2501 3018l13-7v14zM2561 2973l13-7v14zM2489 2749l13-7v14zM2635 2865l13-7v14zM2590 2854l13-7v14zM2561 2847l13-7v14zM2276 2776l13-7v14zM2259 2772l13-7v14zM2278 2580l13-7v14zM2203 2588l13-7v14zM2225 2648l13-7v14zM2238 2587l13-7v14zM2244 2557l13-7v14zM2247 2543l13-7v14zM2249 2528l13-7v14zM2031 2721l13-7v14zM2221 2552l13-7v14zM2410 3174l13-7v14zM2423 3167l13-7v14zM2253 2496l13-7v14zM2265 2437l13-7v14zM2270 2407l13-7v14zM2276 2377l13-7v14zM2279 2362l13-7v14zM2471 2576l13-7v14zM2486 2549l13-7v14zM2500 2523l13-7v14zM2515 2496l13-7v14zM2530 2469l13-7v14zM2502 2939l13-7v14zM2540 3131l13-7v14zM2098 2915l13-7v14zM2882 3096l13-7v14zM2404 2898l13-7v14zM2339 2400l13-7v14zM2325 2405l13-7v14zM2310 2410l13-7v14zM2267 2425l13-7v14zM2253 2430l13-7v14zM2210 2445l13-7v14zM2196 2449l13-7v14zM2111 2479l13-7v14zM2052 2499l13-7v14zM2019 2511l13-7v14zM2620 3070l13-7v14zM2634 3063l13-7v14zM2727 3011l13-7v14zM2794 2974l13-7v14zM2834 2951l13-7v14zM2364 2849l13-7v14zM2112 2954l13-7v14zM2105 2938l13-7v14z"/>
<path fill="#aeff51" d="M2456 3199l13-7v14zM2277 2959l13-7v14zM2374 2802l13-7v14zM2382 2789l13-7v14zM2398 2763l13-7v14zM2750 3560l13-7v14zM2393 2753l13-7v14zM2400 2740l13-7v14zM2827 3119l13-7v14zM2836 2997l13-7v14zM2822 2992l13-7v14zM2807 2987l13-7v14zM2533 2896l13-7v14zM2837 3009l13-7v14zM2822 3004l13-7v14zM2779 2989l13-7v14zM2577 2919l13-7v14zM2406 2861l13-7v14zM2392 2856l13-7v14zM2500 2917l13-7v14zM2511 2906l13-7v14zM2477 3102l13-7v14zM2503 3086l13-7v14zM2580 3038l13-7v14zM2593 3029l13-7v14zM2657 2989l13-7v14zM2682 2973l13-7v14zM2708 2956l13-7v14zM2734 2940l13-7v14zM2798 2899l13-7v14zM2617 3257l13-7v14zM2646 3248l13-7v14zM2777 3208l13-7v14zM2865 3181l13-7v14zM2757 3239l13-7v14zM2744 3230l13-7v14zM2718 3214l13-7v14zM2475 3059l13-7v14zM2425 3026l13-7v14zM2121 2836l13-7v14zM1988 2754l13-7v14zM2280 2658l13-7v14zM2285 2644l13-7v14zM2381 2325l13-7v14zM2536 2530l13-7v14zM2680 3277l13-7v14zM2306 2995l13-7v14zM2391 3121l13-7v14zM2371 2976l13-7v14zM2403 2940l13-7v14zM2081 2881l13-7v14zM1952 2558l13-7v14zM2070 2858l13-7v14zM1915 2490l13-7v14zM2271 2626l13-7v14zM2854 2822l13-7v14zM2582 2778l13-7v14zM2537 2771l13-7v14zM2507 2766l13-7v14zM2492 2764l13-7v14zM2553 2820l13-7v14zM2471 2976l13-7v14zM2633 2796l13-7v14zM2655 2775l13-7v14zM2666 2764l13-7v14zM2839 3076l13-7v14zM2726 3029l13-7v14zM2585 2971l13-7v14zM2577 2765l13-7v14zM2562 2763l13-7v14zM2487 2752l13-7v14zM2464 2932l13-7v14zM2419 2525l13-7v14zM2432 2498l13-7v14zM2438 2484l13-7v14zM2477 3036l13-7v14zM2537 2991l13-7v14zM2549 2982l13-7v14zM2470 2774l13-7v14zM2872 2926l13-7v14zM2605 2858l13-7v14zM2293 2780l13-7v14zM2242 2768l13-7v14zM2353 2572l13-7v14zM2308 2576l13-7v14zM2232 2616l13-7v14zM2241 2572l13-7v14zM2273 2409l13-7v14zM2216 2581l13-7v14zM2219 2567l13-7v14zM2515 3115l13-7v14zM2374 2645l13-7v14zM2203 2645l13-7v14zM2282 2348l13-7v14zM2493 2536l13-7v14zM2878 2954l13-7v14zM2081 2885l13-7v14zM2376 2887l13-7v14zM2296 2415l13-7v14zM2002 2517l13-7v14zM2740 3004l13-7v14zM2881 3028l13-7v14zM2549 2912l13-7v14zM2407 2863l13-7v14zM2226 3223l13-7v14z"/>
<path fill="#c5ff3a" d="M2442 3206l13-7v14zM2784 3042l13-7v14zM2390 2776l13-7v14zM2766 3561l13-7v14zM2354 2818l13-7v14zM2370 2792l13-7v14zM2377 2779l13-7v14zM2851 3002l13-7v14zM2792 2983l13-7v14zM2778 2978l13-7v14zM2475 2877l13-7v14zM2447 2868l13-7v14zM2765 2984l13-7v14zM2750 2979l13-7v14zM2736 2974l13-7v14zM2489 2927l13-7v14zM2521 2896l13-7v14zM2664 2759l13-7v14zM2490 3094l13-7v14zM2631 3005l13-7v14zM2670 2981l13-7v14zM2747 2932l13-7v14zM2786 2907l13-7v14zM2588 3266l13-7v14zM2602 3262l13-7v14zM2704 3231l13-7v14zM2763 3213l13-7v14zM2792 3204l13-7v14zM2782 3255l13-7v14zM2463 3051l13-7v14zM2450 3042l13-7v14zM2261 2720l13-7v14zM2266 2703l13-7v14zM2116 2945l13-7v14zM2445 2542l13-7v14zM2377 3131l13-7v14zM2404 3112l13-7v14zM2336 3015l13-7v14zM2348 3002l13-7v14zM2383 2963l13-7v14zM2413 2929l13-7v14zM2453 2884l13-7v14zM2074 2865l13-7v14zM2104 2938l13-7v14zM2323 2776l13-7v14zM2330 2763l13-7v14zM2263 2655l13-7v14zM2522 2768l13-7v14zM2462 2759l13-7v14zM2418 2752l13-7v14zM2460 2986l13-7v14zM2882 3094l13-7v14zM2853 3082l13-7v14zM2811 3064l13-7v14zM2796 3058l13-7v14zM2571 2965l13-7v14zM2501 2937l13-7v14zM2607 2769l13-7v14zM2389 3006l13-7v14zM2410 2985l13-7v14zM2432 2964l13-7v14zM2485 2911l13-7v14zM2496 2901l13-7v14zM2571 2826l13-7v14zM2407 2553l13-7v14zM2456 2442l13-7v14zM2083 2876l13-7v14zM2513 3009l13-7v14zM2434 2822l13-7v14zM2443 2810l13-7v14zM2461 2786l13-7v14zM2498 2737l13-7v14zM2507 2725l13-7v14zM2516 2713l13-7v14zM2644 3321l13-7v14zM2620 2861l13-7v14zM2546 2843l13-7v14zM2532 2839l13-7v14zM2310 2784l13-7v14zM2323 2575l13-7v14zM2215 2699l13-7v14zM2219 2682l13-7v14zM2222 2665l13-7v14zM2235 2601l13-7v14zM2278 2379l13-7v14zM2782 3484l13-7v14zM2462 3145l13-7v14zM2476 3137l13-7v14zM2200 2485l13-7v14zM2157 2498l13-7v14zM2142 2502l13-7v14zM2358 2645l13-7v14zM2238 2645l13-7v14zM2221 2645l13-7v14zM2186 2646l13-7v14zM2262 2452l13-7v14zM2273 2392l13-7v14zM2782 3055l13-7v14zM2768 3049l13-7v14zM2090 2900l13-7v14zM2072 2870l13-7v14zM2064 2855l13-7v14zM2055 2840l13-7v14zM2354 2396l13-7v14zM2225 2440l13-7v14zM1986 2523l13-7v14zM2093 2888l13-7v14zM2535 2907l13-7v14zM2392 2858l13-7v14z"/>
<path fill="#dcff23" d="M2429 3212l13-7v14zM2716 3075l13-7v14zM2729 3069l13-7v14zM2743 3062l13-7v14zM2757 3055l13-7v14zM2362 2805l13-7v14zM2385 2766l13-7v14zM2408 2727l13-7v14zM2416 2714l13-7v14zM2865 3007l13-7v14zM2866 3020l13-7v14zM2851 3015l13-7v14zM2707 2964l13-7v14zM2692 2959l13-7v14zM2563 2915l13-7v14zM2467 2948l13-7v14zM2532 2885l13-7v14zM2543 2875l13-7v14zM2565 2854l13-7v14zM2576 2843l13-7v14zM2653 2770l13-7v14zM2644 2997l13-7v14zM2760 2923l13-7v14zM2773 2915l13-7v14zM2660 3244l13-7v14zM2675 3240l13-7v14zM2689 3235l13-7v14zM2719 3226l13-7v14zM2733 3222l13-7v14zM2748 3217l13-7v14zM2847 3297l13-7v14zM2769 3247l13-7v14zM2437 3034l13-7v14zM1943 2727l13-7v14zM2251 2753l13-7v14zM2292 2985l13-7v14zM2265 2964l13-7v14zM2313 3041l13-7v14zM2324 3028l13-7v14zM2093 2913l13-7v14zM2087 2897l13-7v14zM2090 2906l13-7v14zM2084 2890l13-7v14zM2477 2761l13-7v14zM2447 2757l13-7v14zM2432 2754l13-7v14zM2229 2723l13-7v14zM2212 2721l13-7v14zM2622 2806l13-7v14zM2529 2948l13-7v14zM2638 2774l13-7v14zM2421 2974l13-7v14zM2475 2922l13-7v14zM2582 2815l13-7v14zM2593 2805l13-7v14zM2376 2622l13-7v14zM2389 2595l13-7v14zM2425 2512l13-7v14zM2444 2470l13-7v14zM2462 2428l13-7v14zM2468 2414l13-7v14zM2474 2400l13-7v14zM2480 2386l13-7v14zM2487 2372l13-7v14zM2499 2344l13-7v14zM2062 2848l13-7v14zM2416 2846l13-7v14zM2425 2834l13-7v14zM2452 2798l13-7v14zM2673 3315l13-7v14zM2502 2832l13-7v14zM2368 2570l13-7v14zM2338 2573l13-7v14zM2281 2365l13-7v14zM2069 2837l13-7v14zM2798 3483l13-7v14zM2186 2489l13-7v14zM2525 2645l13-7v14zM2510 2645l13-7v14zM2419 2645l13-7v14zM2404 2645l13-7v14zM2389 2645l13-7v14zM2343 2645l13-7v14zM2328 2645l13-7v14zM2253 2645l13-7v14zM2488 2933l13-7v14zM2107 2930l13-7v14zM2390 2893l13-7v14zM2362 2881l13-7v14zM2397 2381l13-7v14zM2368 2391l13-7v14zM2182 2454l13-7v14zM2168 2459l13-7v14zM2153 2464l13-7v14zM1969 2528l13-7v14zM2072 2861l13-7v14zM2061 2847l13-7v14zM2378 2854l13-7v14z"/>
<path fill="#f3ff0c" d="M2798 3035l13-7v14zM2249 2995l13-7v14zM2880 3012l13-7v14zM2461 2872l13-7v14zM2432 2863l13-7v14zM2418 2858l13-7v14zM2389 2849l13-7v14zM2881 3025l13-7v14zM2721 2969l13-7v14zM2678 2954l13-7v14zM2620 2934l13-7v14zM2592 2924l13-7v14zM2478 2937l13-7v14zM2609 2812l13-7v14zM2642 2780l13-7v14zM2618 3013l13-7v14zM2860 3306l13-7v14zM2821 3280l13-7v14zM2412 3018l13-7v14zM2245 2770l13-7v14zM2256 2737l13-7v14zM2124 2960l13-7v14zM2278 3079l13-7v14zM2289 3066l13-7v14zM2301 3054l13-7v14zM2029 2752l13-7v14zM1958 2574l13-7v14zM2109 2952l13-7v14zM2103 2936l13-7v14zM2096 2920l13-7v14zM2316 2792l13-7v14zM2250 2703l13-7v14zM2254 2686l13-7v14zM2403 2750l13-7v14zM2388 2747l13-7v14zM2373 2745l13-7v14zM2358 2743l13-7v14zM2343 2740l13-7v14zM2281 2731l13-7v14zM2264 2728l13-7v14zM2600 2827l13-7v14zM2867 3088l13-7v14zM2543 2954l13-7v14zM2487 2931l13-7v14zM2417 2903l13-7v14zM1973 2727l13-7v14zM2450 2456l13-7v14zM2104 2903l13-7v14zM2051 2835l13-7v14zM1997 2766l13-7v14zM2614 3328l13-7v14zM2629 3325l13-7v14zM2688 3312l13-7v14zM2703 3308l13-7v14zM2733 3302l13-7v14zM2748 3299l13-7v14zM2763 3295l13-7v14zM2517 2836l13-7v14zM2473 2825l13-7v14zM2385 2803l13-7v14zM2327 2788l13-7v14zM2383 2568l13-7v14zM2208 2734l13-7v14zM2102 2935l13-7v14zM2086 2886l13-7v14zM2075 2853l13-7v14zM2211 2611l13-7v14zM2214 2596l13-7v14zM2705 3486l13-7v14zM2751 3485l13-7v14zM2171 2494l13-7v14zM2494 2645l13-7v14zM2479 2645l13-7v14zM2434 2645l13-7v14zM2797 3061l13-7v14zM2474 2927l13-7v14zM2446 2916l13-7v14zM2484 2352l13-7v14zM2469 2357l13-7v14zM2455 2361l13-7v14zM2440 2366l13-7v14zM2382 2386l13-7v14zM1920 2546l13-7v14zM1964 2725l13-7v14z"/>
<path fill="#fff400" d="M2771 3049l13-7v14zM2231 3025l13-7v14zM2240 3010l13-7v14zM2258 2981l13-7v14zM2267 2966l13-7v14zM2664 2949l13-7v14zM2378 2852l13-7v14zM2363 2847l13-7v14zM2365 3044l13-7v14zM2456 2958l13-7v14zM2554 2864l13-7v14zM2620 2802l13-7v14zM2834 3289l13-7v14zM2795 3264l13-7v14zM2298 2947l13-7v14zM1958 2736l13-7v14zM2278 2974l13-7v14zM2106 2945l13-7v14zM2100 2929l13-7v14zM2089 2904l13-7v14zM2236 2753l13-7v14zM2328 2738l13-7v14zM2313 2736l13-7v14zM2611 2817l13-7v14zM2515 2942l13-7v14zM2473 2925l13-7v14zM2445 2914l13-7v14zM2507 2890l13-7v14zM2550 2847l13-7v14zM2561 2837l13-7v14zM2604 2794l13-7v14zM2614 2783l13-7v14zM2200 3014l13-7v14zM2370 2636l13-7v14zM2505 2330l13-7v14zM2126 2930l13-7v14zM2115 2917l13-7v14zM2072 2862l13-7v14zM2380 2894l13-7v14zM2389 2882l13-7v14zM2398 2870l13-7v14zM2407 2858l13-7v14zM2525 2701l13-7v14zM2569 3337l13-7v14zM2584 3334l13-7v14zM2599 3331l13-7v14zM2718 3305l13-7v14zM2793 3289l13-7v14zM2212 2717l13-7v14zM2284 2350l13-7v14zM2080 2869l13-7v14zM2206 2646l13-7v14zM2721 3486l13-7v14zM2767 3484l13-7v14zM2813 3483l13-7v14zM2360 2440l13-7v14zM2273 2465l13-7v14zM2215 2481l13-7v14zM2464 2645l13-7v14zM2313 2645l13-7v14zM2298 2645l13-7v14zM2283 2645l13-7v14zM2268 2645l13-7v14zM2853 3085l13-7v14zM2811 3067l13-7v14zM2513 2342l13-7v14zM2498 2347l13-7v14zM2411 2376l13-7v14zM1936 2540l13-7v14zM1903 2552l13-7v14zM2200 3025l13-7v14z"/>
<path fill="#ffdd00" d="M2781 3562l13-7v14zM2375 2844l13-7v14zM2606 2929l13-7v14zM2339 3068l13-7v14zM2352 3056l13-7v14zM2390 3020l13-7v14zM2434 2979l13-7v14zM2445 2968l13-7v14zM2587 2833l13-7v14zM2631 2791l13-7v14zM2808 3272l13-7v14zM2387 3002l13-7v14zM2357 2984l13-7v14zM2313 2956l13-7v14zM2083 2888l13-7v14zM2076 2872l13-7v14zM2062 2840l13-7v14zM2240 2737l13-7v14zM2245 2720l13-7v14zM2299 2734l13-7v14zM2247 2726l13-7v14zM2327 3083l13-7v14zM2423 2993l13-7v14zM2434 2983l13-7v14zM2588 2838l13-7v14zM2459 2920l13-7v14zM2390 2892l13-7v14zM2376 2886l13-7v14zM2528 2869l13-7v14zM2539 2858l13-7v14zM2625 2772l13-7v14zM2493 2358l13-7v14zM1965 2725l13-7v14zM2276 3031l13-7v14zM2534 2689l13-7v14zM2659 3318l13-7v14zM2778 3292l13-7v14zM2823 3282l13-7v14zM2488 2828l13-7v14zM2458 2821l13-7v14zM2356 2796l13-7v14zM2342 2792l13-7v14zM2413 2565l13-7v14zM2107 2952l13-7v14zM2096 2919l13-7v14zM2091 2902l13-7v14zM2203 2663l13-7v14zM2736 3485l13-7v14zM2389 2432l13-7v14zM2375 2436l13-7v14zM2346 2444l13-7v14zM2316 2452l13-7v14zM2302 2456l13-7v14zM2258 2469l13-7v14zM2244 2473l13-7v14zM2229 2477l13-7v14zM2882 3097l13-7v14zM2867 3091l13-7v14zM2825 3073l13-7v14zM2460 2922l13-7v14zM2418 2905l13-7v14zM2426 2371l13-7v14zM2179 2998l13-7v14zM2147 2957l13-7v14zM2136 2943l13-7v14z"/>
<path fill="#ffc500" d="M2404 2854l13-7v14zM2649 2944l13-7v14zM2635 2939l13-7v14zM2327 3080l13-7v14zM2378 3032l13-7v14zM2412 2999l13-7v14zM2423 2989l13-7v14zM2598 2823l13-7v14zM2399 3010l13-7v14zM2372 2993l13-7v14zM2112 2962l13-7v14zM2069 2856l13-7v14zM2339 3071l13-7v14zM2456 2962l13-7v14zM2467 2952l13-7v14zM2478 2941l13-7v14zM2577 2848l13-7v14zM2431 2908l13-7v14zM2404 2897l13-7v14zM2207 2998l13-7v14zM2214 2982l13-7v14zM2364 2650l13-7v14zM2189 3013l13-7v14zM1987 2753l13-7v14zM2329 2961l13-7v14zM2360 2920l13-7v14zM2371 2906l13-7v14zM2555 3341l13-7v14zM2853 3275l13-7v14zM2444 2817l13-7v14zM2534 2552l13-7v14zM2428 2564l13-7v14zM2398 2567l13-7v14zM2200 2680l13-7v14zM2209 2628l13-7v14zM2690 3487l13-7v14zM2463 2411l13-7v14zM2448 2415l13-7v14zM2433 2419l13-7v14zM2419 2424l13-7v14zM2404 2428l13-7v14zM2331 2448l13-7v14zM2287 2461l13-7v14zM2449 2645l13-7v14zM2839 3079l13-7v14zM2542 2332l13-7v14zM2527 2337l13-7v14zM2189 3011l13-7v14zM2125 2929l13-7v14zM1443 3418l13-7v14z"/>
<path fill="#ffae00" d="M2361 2840l13-7v14zM2342 2974l13-7v14zM2327 2965l13-7v14zM2201 3027l13-7v14zM2209 3011l13-7v14zM2217 2996l13-7v14zM2224 2980l13-7v14zM2445 2972l13-7v14zM2489 2931l13-7v14zM2522 2900l13-7v14zM2566 2859l13-7v14zM2362 2880l13-7v14zM2518 2879l13-7v14zM2647 2751l13-7v14zM2358 2664l13-7v14zM2200 3026l13-7v14zM2297 3003l13-7v14zM2307 2989l13-7v14zM2339 2948l13-7v14zM2543 2676l13-7v14zM2808 3285l13-7v14zM2429 2814l13-7v14zM2415 2810l13-7v14zM2400 2806l13-7v14zM2371 2799l13-7v14zM2488 2557l13-7v14zM2443 2562l13-7v14zM2197 2697l13-7v14zM2536 2391l13-7v14zM2522 2395l13-7v14zM2477 2407l13-7v14zM2404 2899l13-7v14zM2390 2893l13-7v14zM2362 2882l13-7v14z"/>
<path fill="#ff9700" d="M2401 3010l13-7v14zM2165 3005l13-7v14zM2378 3035l13-7v14zM2402 3013l13-7v14zM2413 3003l13-7v14zM2533 2890l13-7v14zM2636 2762l13-7v14zM2179 2999l13-7v14zM2255 3059l13-7v14zM2265 3045l13-7v14zM2318 2975l13-7v14zM2838 3279l13-7v14zM2868 3272l13-7v14zM2504 2556l13-7v14zM2473 2559l13-7v14zM2507 2399l13-7v14zM2492 2403l13-7v14zM2432 2910l13-7v14zM2376 2888l13-7v14z"/>
<path fill="#ff8000" d="M2365 3047l13-7v14zM2391 3024l13-7v14zM2500 2921l13-7v14zM2511 2910l13-7v14zM2286 3017l13-7v14zM2350 2934l13-7v14zM2519 2554l13-7v14zM2458 2560l13-7v14z"/>
<path fill="#ff6900" d="M2352 3059l13-7v14zM2544 2879l13-7v14zM2555 2869l13-7v14zM2352 2677l13-7v14z"/>
<path fill="#ff5200" d="M2346 2691l13-7v14z"/>
<path fill="#ff3b00" d="M2340 2705l13-7v14zM1568 3534l13-7v14z"/>
<path fill="#ff2400" d="M2321 2746l13-7v14zM2334 2719l13-7v14z"/>
<path fill="#ff0c00" d="M2308 2776l13-7v14zM2315 2760l13-7v14zM2327 2732l13-7v14zM1557 3524l13-7v14z"/>
<path fill="#af0000" d="M1465 3433l13-7v14z"/>
<path fill="#0000c6" d="M2541 3035h13v13h-13zM2553 3027h13v13h-13z"/>
<path fill="#0000dd" d="M2516 3052h13v13h-13zM2528 3043h13v13h-13zM2566 3018h13v13h-13z"/>
<path fill="#0000f4" d="M2579 3010h13v13h-13zM2591 3002h13v13h-13zM2604 2993h13v13h-13zM2807 2857h13v13h-13zM2845 2831h13v13h-13z"/>
<path fill="#000cff" d="M2616 2985h13v13h-13zM2819 2848h13v13h-13zM2832 2840h13v13h-13zM2114 2516h13v13h-13zM2113 2471h13v13h-13z"/>
<path fill="#0024ff" d="M2037 2605h13v13h-13zM2503 3060h13v13h-13zM2629 2976h13v13h-13zM2781 2874h13v13h-13zM2858 2823h13v13h-13z"/>
<path fill="#003bff" d="M2003 2609h13v13h-13zM2490 3068h13v13h-13zM2642 2968h13v13h-13zM2768 2883h13v13h-13zM2795 3477h13v13h-13zM2242 2585h13v13h-13zM2245 2571h13v13h-13zM2248 2556h13v13h-13zM2115 2551h13v13h-13z"/>
<path fill="#0052ff" d="M2020 2607h13v13h-13zM1985 2610h13v13h-13zM2667 2951h13v13h-13zM2718 2917h13v13h-13zM2730 2908h13v13h-13zM2794 2866h13v13h-13zM2784 3466h13v13h-13zM2772 3456h13v13h-13zM2761 3446h13v13h-13zM2738 3425h13v13h-13zM2364 3087h13v13h-13zM2215 2715h13v13h-13zM2633 3108h13v13h-13zM2674 3088h13v13h-13z"/>
<path fill="#0069ff" d="M2565 2920h13v13h-13zM2465 3085h13v13h-13zM2478 3077h13v13h-13zM2692 2934h13v13h-13zM2743 2900h13v13h-13zM2756 2891h13v13h-13zM2377 3098h13v13h-13zM2351 3075h13v13h-13zM2219 2698h13v13h-13zM2222 2681h13v13h-13zM2226 2664h13v13h-13zM2233 2629h13v13h-13zM2236 2615h13v13h-13zM2252 2541h13v13h-13zM2279 2408h13v13h-13zM2282 2393h13v13h-13zM2285 2378h13v13h-13zM2492 3269h13v13h-13zM2650 3216h13v13h-13zM2123 2496h13v13h-13zM2108 2500h13v13h-13zM2240 2512h13v13h-13zM2243 2497h13v13h-13zM2116 2569h13v13h-13zM2538 3154h13v13h-13zM2551 3147h13v13h-13zM2565 3141h13v13h-13zM2579 3134h13v13h-13zM2592 3127h13v13h-13zM2606 3121h13v13h-13zM2647 3101h13v13h-13zM2661 3095h13v13h-13zM2688 3081h13v13h-13zM2729 3062h13v13h-13zM2743 3055h13v13h-13zM2757 3048h13v13h-13zM2771 3042h13v13h-13zM2784 3035h13v13h-13zM2798 3028h13v13h-13z"/>
<path fill="#0080ff" d="M1961 2729h13v13h-13zM2537 2909h13v13h-13zM2522 2904h13v13h-13zM2440 3101h13v13h-13zM2453 3093h13v13h-13zM2680 2942h13v13h-13zM2441 2398h13v13h-13zM2464 2341h13v13h-13zM2123 2575h13v13h-13zM2806 3487h13v13h-13zM2324 3052h13v13h-13zM2211 2732h13v13h-13zM2229 2647h13v13h-13zM2239 2600h13v13h-13zM2270 2453h13v13h-13zM2276 2423h13v13h-13zM2288 2364h13v13h-13zM2291 2349h13v13h-13zM2294 2334h13v13h-13zM2721 3205h13v13h-13zM2535 3255h13v13h-13zM2564 3245h13v13h-13zM2578 3240h13v13h-13zM2094 2504h13v13h-13zM2237 2527h13v13h-13zM2245 2482h13v13h-13zM2524 3160h13v13h-13zM2716 3068h13v13h-13zM2812 3021h13v13h-13zM2826 3015h13v13h-13zM2840 3008h13v13h-13zM2853 3001h13v13h-13zM1994 2475h13v13h-13zM2014 2558h13v13h-13zM2005 2524h13v13h-13zM1997 2491h13v13h-13z"/>
<path fill="#0097ff" d="M2312 2612h13v13h-13zM2322 2584h13v13h-13zM2331 2555h13v13h-13zM2336 2541h13v13h-13zM2341 2527h13v13h-13zM2346 2512h13v13h-13zM2867 3258h13v13h-13zM2696 3156h13v13h-13zM2508 2899h13v13h-13zM2494 2894h13v13h-13zM2480 2889h13v13h-13zM2705 2925h13v13h-13zM2674 2849h13v13h-13zM2373 2567h13v13h-13zM2390 2525h13v13h-13zM2413 2468h13v13h-13zM2436 2412h13v13h-13zM2453 2370h13v13h-13zM2123 2540h13v13h-13zM2123 2523h13v13h-13zM2122 2493h13v13h-13zM2122 2478h13v13h-13zM2750 3435h13v13h-13zM2401 3120h13v13h-13zM2337 3064h13v13h-13zM2629 2742h13v13h-13zM2614 2740h13v13h-13zM2261 2497h13v13h-13zM2750 3196h13v13h-13zM2506 3264h13v13h-13zM2520 3259h13v13h-13zM2549 3250h13v13h-13zM2592 3236h13v13h-13zM2607 3231h13v13h-13zM2350 3099h13v13h-13zM2068 2855h13v13h-13zM2060 2514h13v13h-13zM2248 2467h13v13h-13zM2250 2452h13v13h-13zM2253 2438h13v13h-13zM2408 2965h13v13h-13zM2419 2954h13v13h-13zM2608 2759h13v13h-13zM2619 2748h13v13h-13zM1926 2461h13v13h-13zM2402 3011h13v13h-13zM2413 3001h13v13h-13zM2424 2990h13v13h-13zM2702 3075h13v13h-13zM1992 2474h13v13h-13z"/>
<path fill="#00aeff" d="M2432 2586h13v13h-13zM2417 2587h13v13h-13zM2524 2557h13v13h-13zM2509 2558h13v13h-13zM2494 2559h13v13h-13zM2388 2569h13v13h-13zM2268 2581h13v13h-13zM2253 2583h13v13h-13zM2317 2598h13v13h-13zM2327 2570h13v13h-13zM2854 3250h13v13h-13zM2762 3195h13v13h-13zM2735 3179h13v13h-13zM2722 3171h13v13h-13zM2683 3148h13v13h-13zM2670 3140h13v13h-13zM2657 3132h13v13h-13zM2604 3101h13v13h-13zM2539 3063h13v13h-13zM1991 2746h13v13h-13zM1946 2721h13v13h-13zM2594 2930h13v13h-13zM2579 2925h13v13h-13zM2551 2914h13v13h-13zM2466 2884h13v13h-13zM2451 2879h13v13h-13zM2402 3126h13v13h-13zM2415 3118h13v13h-13zM2428 3110h13v13h-13zM2654 2959h13v13h-13zM2719 2859h13v13h-13zM2689 2852h13v13h-13zM2367 2581h13v13h-13zM2402 2497h13v13h-13zM2407 2483h13v13h-13zM2419 2454h13v13h-13zM2447 2384h13v13h-13zM2727 3414h13v13h-13zM2716 3404h13v13h-13zM2704 3394h13v13h-13zM2693 3383h13v13h-13zM2648 3342h13v13h-13zM2625 3322h13v13h-13zM2390 3110h13v13h-13zM2311 3040h13v13h-13zM2298 3029h13v13h-13zM2644 2744h13v13h-13zM2197 2693h13v13h-13zM2255 2526h13v13h-13zM2267 2467h13v13h-13zM2273 2438h13v13h-13zM2794 3182h13v13h-13zM2621 3226h13v13h-13zM2664 3212h13v13h-13zM2679 3207h13v13h-13zM2475 3218h13v13h-13zM2410 3156h13v13h-13zM2388 3135h13v13h-13zM2084 2886h13v13h-13zM2076 2870h13v13h-13zM2311 2440h13v13h-13zM2235 2541h13v13h-13zM2592 2713h13v13h-13zM2461 2911h13v13h-13zM2630 2737h13v13h-13zM2365 3045h13v13h-13zM2378 3033h13v13h-13zM2391 3021h13v13h-13zM2435 2980h13v13h-13zM2446 2970h13v13h-13zM2679 2762h13v13h-13zM2664 2760h13v13h-13zM2456 3192h13v13h-13zM2483 3179h13v13h-13zM2497 3173h13v13h-13zM2620 3114h13v13h-13zM2867 2994h13v13h-13zM2003 2509h13v13h-13zM2574 3177h13v13h-13zM2538 3025h13v13h-13z"/>
<path fill="#00c5ff" d="M1998 2478h13v13h-13zM2401 2588h13v13h-13zM2386 2589h13v13h-13zM2479 2561h13v13h-13zM2419 2566h13v13h-13zM2313 2577h13v13h-13zM2288 2684h13v13h-13zM2841 3242h13v13h-13zM2827 3234h13v13h-13zM2814 3226h13v13h-13zM2775 3203h13v13h-13zM2709 3164h13v13h-13zM2644 3125h13v13h-13zM2631 3117h13v13h-13zM2618 3109h13v13h-13zM2526 3055h13v13h-13zM2448 3010h13v13h-13zM2651 2950h13v13h-13zM2437 2874h13v13h-13zM2749 2866h13v13h-13zM2704 2855h13v13h-13zM2659 2845h13v13h-13zM2339 2651h13v13h-13zM2345 2637h13v13h-13zM2362 2595h13v13h-13zM2379 2553h13v13h-13zM2424 2440h13v13h-13zM2430 2426h13v13h-13zM2458 2355h13v13h-13zM2682 3373h13v13h-13zM2671 3363h13v13h-13zM2614 3312h13v13h-13zM2423 3140h13v13h-13zM2412 3130h13v13h-13zM2266 2701h13v13h-13zM2249 2699h13v13h-13zM2232 2697h13v13h-13zM2764 3191h13v13h-13zM2636 3221h13v13h-13zM2453 3197h13v13h-13zM2420 3166h13v13h-13zM2337 3087h13v13h-13zM2325 3075h13v13h-13zM2312 3062h13v13h-13zM2013 2746h13v13h-13zM2296 2444h13v13h-13zM2267 2453h13v13h-13zM2232 2556h13v13h-13zM2256 2423h13v13h-13zM2582 2725h13v13h-13zM2429 2943h13v13h-13zM2440 2933h13v13h-13zM2450 2922h13v13h-13zM2457 2960h13v13h-13zM2604 2751h13v13h-13zM2469 3186h13v13h-13zM2510 3167h13v13h-13zM2602 3165h13v13h-13zM2644 3148h13v13h-13zM2672 3096h13v13h-13zM2511 3010h13v13h-13z"/>
<path fill="#00ddff" d="M1933 2506h13v13h-13zM2371 2590h13v13h-13zM2540 2555h13v13h-13zM2449 2564h13v13h-13zM2373 2571h13v13h-13zM2358 2572h13v13h-13zM2343 2574h13v13h-13zM2328 2575h13v13h-13zM2283 2580h13v13h-13zM2238 2584h13v13h-13zM2224 2586h13v13h-13zM2194 2589h13v13h-13zM2176 2590h13v13h-13zM2159 2592h13v13h-13zM2307 2627h13v13h-13zM2351 2498h13v13h-13zM2375 2426h13v13h-13zM2734 2934h13v13h-13zM2788 3211h13v13h-13zM2748 3187h13v13h-13zM2591 3094h13v13h-13zM2578 3086h13v13h-13zM2565 3078h13v13h-13zM2809 3008h13v13h-13zM2766 2992h13v13h-13zM2622 2940h13v13h-13zM2808 2880h13v13h-13zM2734 2862h13v13h-13zM2773 3214h13v13h-13zM2333 2665h13v13h-13zM2350 2623h13v13h-13zM2356 2609h13v13h-13zM2384 2539h13v13h-13zM2396 2511h13v13h-13zM2591 3041h13v13h-13zM2578 3034h13v13h-13zM2126 2871h13v13h-13zM2126 2854h13v13h-13zM2126 2837h13v13h-13zM2637 3332h13v13h-13zM2592 3291h13v13h-13zM2580 3281h13v13h-13zM2446 3160h13v13h-13zM2435 3150h13v13h-13zM2129 2879h13v13h-13zM2284 2703h13v13h-13zM2214 2695h13v13h-13zM2258 2512h13v13h-13zM2264 2482h13v13h-13zM2706 3210h13v13h-13zM2735 3200h13v13h-13zM2779 3186h13v13h-13zM2823 3172h13v13h-13zM2837 3167h13v13h-13zM2811 3481h13v13h-13zM2693 3202h13v13h-13zM2485 3229h13v13h-13zM2464 3208h13v13h-13zM2375 3123h13v13h-13zM2363 3111h13v13h-13zM2021 2762h13v13h-13zM1933 2592h13v13h-13zM1925 2577h13v13h-13zM1901 2530h13v13h-13zM2340 2432h13v13h-13zM2325 2436h13v13h-13zM2282 2449h13v13h-13zM2238 2461h13v13h-13zM2195 2474h13v13h-13zM2258 2408h13v13h-13zM2482 2839h13v13h-13zM2492 2828h13v13h-13zM2398 2975h13v13h-13zM2472 2900h13v13h-13zM2587 2781h13v13h-13zM2598 2770h13v13h-13zM2352 3056h13v13h-13zM2468 2949h13v13h-13zM2490 2929h13v13h-13zM2649 2758h13v13h-13zM2619 2753h13v13h-13zM2881 2988h13v13h-13zM2011 2542h13v13h-13zM2493 2660h13v13h-13zM2533 3195h13v13h-13zM2560 3183h13v13h-13zM2588 3171h13v13h-13zM2616 3160h13v13h-13zM2630 3154h13v13h-13zM2658 3142h13v13h-13zM2672 3136h13v13h-13zM2757 3100h13v13h-13zM2771 3094h13v13h-13zM2525 3017h13v13h-13zM2498 3003h13v13h-13zM2485 2996h13v13h-13z"/>
<path fill="#00f4ff" d="M1949 2499h13v13h-13zM1917 2513h13v13h-13zM2462 2584h13v13h-13zM2447 2585h13v13h-13zM2356 2591h13v13h-13zM2464 2562h13v13h-13zM2434 2565h13v13h-13zM2404 2568h13v13h-13zM2298 2578h13v13h-13zM2209 2587h13v13h-13zM2266 2747h13v13h-13zM2272 2731h13v13h-13zM2283 2698h13v13h-13zM2389 2383h13v13h-13zM2023 2593h13v13h-13zM2721 2942h13v13h-13zM2760 2918h13v13h-13zM2786 2901h13v13h-13zM1975 2743h13v13h-13zM2804 3363h13v13h-13zM2819 3360h13v13h-13zM2850 3356h13v13h-13zM2801 3219h13v13h-13zM2552 3071h13v13h-13zM2513 3048h13v13h-13zM2500 3040h13v13h-13zM2435 3002h13v13h-13zM2751 2987h13v13h-13zM2608 2935h13v13h-13zM2423 2869h13v13h-13zM2853 2891h13v13h-13zM2838 2887h13v13h-13zM2645 2842h13v13h-13zM2786 3222h13v13h-13zM2734 3190h13v13h-13zM1935 2479h13v13h-13zM2605 3047h13v13h-13zM1929 2592h13v13h-13zM1997 2603h13v13h-13zM1991 2586h13v13h-13zM1975 2537h13v13h-13zM2126 2889h13v13h-13zM2659 3353h13v13h-13zM2603 3302h13v13h-13zM2285 3017h13v13h-13zM2259 2994h13v13h-13zM2089 2845h13v13h-13zM2599 2739h13v13h-13zM2358 2711h13v13h-13zM2314 2706h13v13h-13zM2299 2704h13v13h-13zM2590 3247h13v13h-13zM2634 3233h13v13h-13zM2663 3224h13v13h-13zM2808 3177h13v13h-13zM2708 3197h13v13h-13zM2496 3239h13v13h-13zM2442 3187h13v13h-13zM2431 3177h13v13h-13zM2399 3145h13v13h-13zM2299 3050h13v13h-13zM2287 3038h13v13h-13zM2099 2917h13v13h-13zM2092 2901h13v13h-13zM1909 2546h13v13h-13zM2354 2427h13v13h-13zM2253 2457h13v13h-13zM2166 2483h13v13h-13zM2151 2487h13v13h-13zM2027 2524h13v13h-13zM2226 2586h13v13h-13zM2264 2378h13v13h-13zM2691 2861h13v13h-13zM2371 2965h13v13h-13zM2502 2816h13v13h-13zM2512 2805h13v13h-13zM2351 3024h13v13h-13zM2363 3011h13v13h-13zM2375 2999h13v13h-13zM2387 2986h13v13h-13zM2482 2889h13v13h-13zM2493 2879h13v13h-13zM2556 2813h13v13h-13zM2577 2792h13v13h-13zM2339 3068h13v13h-13zM2479 2939h13v13h-13zM2781 3269h13v13h-13zM2841 3255h13v13h-13zM2634 2756h13v13h-13zM2798 2826h13v13h-13zM2442 3199h13v13h-13zM2007 2526h13v13h-13zM2518 2622h13v13h-13zM2527 2609h13v13h-13zM2547 3189h13v13h-13zM2700 3124h13v13h-13zM2785 3088h13v13h-13zM2799 3082h13v13h-13zM2827 3070h13v13h-13zM2699 3110h13v13h-13zM2645 3081h13v13h-13zM2632 3074h13v13h-13zM2618 3067h13v13h-13zM2565 3039h13v13h-13zM2471 2989h13v13h-13zM2458 2982h13v13h-13zM1660 3628h13v13h-13z"/>
<path fill="#0cfff3" d="M2277 2714h13v13h-13zM2293 2669h13v13h-13zM2298 2655h13v13h-13zM2302 2641h13v13h-13zM2360 2469h13v13h-13zM2370 2440h13v13h-13zM2380 2412h13v13h-13zM2399 2354h13v13h-13zM2019 2576h13v13h-13zM2006 2525h13v13h-13zM2747 2926h13v13h-13zM2773 2909h13v13h-13zM2652 3384h13v13h-13zM2667 3382h13v13h-13zM2773 3367h13v13h-13zM2834 3358h13v13h-13zM2461 3017h13v13h-13zM2422 2994h13v13h-13zM2409 2987h13v13h-13zM2368 2963h13v13h-13zM2823 3013h13v13h-13zM2780 2997h13v13h-13zM2723 2976h13v13h-13zM2708 2971h13v13h-13zM2694 2966h13v13h-13zM2665 2955h13v13h-13zM2637 2945h13v13h-13zM2390 3134h13v13h-13zM2750 3588h13v13h-13zM2765 3589h13v13h-13zM2868 2894h13v13h-13zM2823 2883h13v13h-13zM2793 2876h13v13h-13zM2764 2869h13v13h-13zM2630 2838h13v13h-13zM2856 3060h13v13h-13zM2813 3238h13v13h-13zM2799 3230h13v13h-13zM2305 2734h13v13h-13zM2316 2706h13v13h-13zM2322 2692h13v13h-13zM2437 2788h13v13h-13zM1920 2487h13v13h-13zM2618 3054h13v13h-13zM2551 3020h13v13h-13zM1980 2582h13v13h-13zM1981 2553h13v13h-13zM1964 2504h13v13h-13zM2126 2906h13v13h-13zM2569 3271h13v13h-13zM2558 3261h13v13h-13zM2272 3006h13v13h-13zM2233 2971h13v13h-13zM2584 2737h13v13h-13zM2605 3242h13v13h-13zM2619 3237h13v13h-13zM2677 3219h13v13h-13zM2692 3214h13v13h-13zM2852 3163h13v13h-13zM2867 3158h13v13h-13zM2881 3153h13v13h-13zM2765 3482h13v13h-13zM2780 3482h13v13h-13zM2796 3482h13v13h-13zM2722 3192h13v13h-13zM2751 3183h13v13h-13zM2518 3260h13v13h-13zM2507 3250h13v13h-13zM2135 2895h13v13h-13zM2224 2466h13v13h-13zM2010 2529h13v13h-13zM2221 2615h13v13h-13zM2224 2601h13v13h-13zM2229 2571h13v13h-13zM2261 2393h13v13h-13zM2125 2952h13v13h-13zM2124 2917h13v13h-13zM2123 2882h13v13h-13zM2676 2857h13v13h-13zM2617 2843h13v13h-13zM2326 3049h13v13h-13zM2535 2835h13v13h-13zM2545 2824h13v13h-13zM2405 2887h13v13h-13zM2631 2910h13v13h-13zM2602 2900h13v13h-13zM2327 3080h13v13h-13zM2557 2867h13v13h-13zM2766 3273h13v13h-13zM2811 3262h13v13h-13zM2558 2746h13v13h-13zM1929 2502h13v13h-13zM1915 2470h13v13h-13zM2858 2837h13v13h-13zM2828 2832h13v13h-13zM2737 2815h13v13h-13zM2722 2812h13v13h-13zM2707 2810h13v13h-13zM2119 2476h13v13h-13zM2429 3205h13v13h-13zM2443 2735h13v13h-13zM2501 2647h13v13h-13zM2686 3130h13v13h-13zM2714 3118h13v13h-13zM2729 3112h13v13h-13zM2841 3064h13v13h-13zM2870 3052h13v13h-13zM2726 3124h13v13h-13zM2685 3103h13v13h-13zM2658 3089h13v13h-13zM2605 3060h13v13h-13z"/>
<path fill="#23ffdc" d="M1982 2485h13v13h-13zM2477 2582h13v13h-13zM2341 2592h13v13h-13zM2355 2484h13v13h-13zM2365 2455h13v13h-13zM2384 2397h13v13h-13zM2394 2368h13v13h-13zM2010 2542h13v13h-13zM2002 2508h13v13h-13zM1993 2474h13v13h-13zM2708 2950h13v13h-13zM2799 2893h13v13h-13zM2660 3223h13v13h-13zM2611 3188h13v13h-13zM2599 3179h13v13h-13zM2537 3135h13v13h-13zM2500 3109h13v13h-13zM2004 2763h13v13h-13zM2622 3388h13v13h-13zM2637 3386h13v13h-13zM2697 3377h13v13h-13zM2713 3375h13v13h-13zM2743 3371h13v13h-13zM2789 3365h13v13h-13zM2487 3032h13v13h-13zM2474 3025h13v13h-13zM2396 2979h13v13h-13zM2338 2945h13v13h-13zM2867 3029h13v13h-13zM2852 3023h13v13h-13zM2794 3002h13v13h-13zM2737 2981h13v13h-13zM2680 2961h13v13h-13zM2409 2864h13v13h-13zM2719 3586h13v13h-13zM2734 3587h13v13h-13zM2778 2873h13v13h-13zM2615 2835h13v13h-13zM2870 3054h13v13h-13zM2884 3048h13v13h-13zM2852 3262h13v13h-13zM2839 3254h13v13h-13zM2826 3246h13v13h-13zM2747 3198h13v13h-13zM2708 3174h13v13h-13zM2298 2750h13v13h-13zM2310 2720h13v13h-13zM2328 2678h13v13h-13zM2632 3061h13v13h-13zM2564 3027h13v13h-13zM2443 2965h13v13h-13zM2049 2569h13v13h-13zM1997 2578h13v13h-13zM1963 2585h13v13h-13zM1970 2520h13v13h-13zM2547 3251h13v13h-13zM2536 3241h13v13h-13zM2468 3180h13v13h-13zM2457 3170h13v13h-13zM2246 2983h13v13h-13zM2373 2713h13v13h-13zM2561 3256h13v13h-13zM2576 3251h13v13h-13zM2063 2841h13v13h-13zM2737 3188h13v13h-13zM2766 3178h13v13h-13zM2882 3138h13v13h-13zM2791 3527h13v13h-13zM2529 3271h13v13h-13zM2274 3026h13v13h-13zM2161 2919h13v13h-13zM2148 2907h13v13h-13zM2110 2871h13v13h-13zM2097 2859h13v13h-13zM2085 2847h13v13h-13zM2369 2423h13v13h-13zM2209 2470h13v13h-13zM2180 2479h13v13h-13zM1910 2560h13v13h-13zM2124 2900h13v13h-13zM2123 2865h13v13h-13zM2736 2871h13v13h-13zM2706 2864h13v13h-13zM2661 2853h13v13h-13zM2647 2850h13v13h-13zM2632 2846h13v13h-13zM2602 2839h13v13h-13zM2587 2836h13v13h-13zM2411 2794h13v13h-13zM2289 2766h13v13h-13zM2313 3030h13v13h-13zM2347 2991h13v13h-13zM2392 2940h13v13h-13zM2532 2782h13v13h-13zM2552 2759h13v13h-13zM2572 2736h13v13h-13zM2302 3073h13v13h-13zM2314 3061h13v13h-13zM2338 3036h13v13h-13zM2514 2857h13v13h-13zM2566 2803h13v13h-13zM2499 2769h13v13h-13zM2660 2919h13v13h-13zM2646 2914h13v13h-13zM2588 2896h13v13h-13zM2501 2919h13v13h-13zM2512 2908h13v13h-13zM2707 3287h13v13h-13zM2826 3259h13v13h-13zM2856 3252h13v13h-13zM2588 2749h13v13h-13zM2528 2742h13v13h-13zM2272 2709h13v13h-13zM2237 2705h13v13h-13zM2202 2700h13v13h-13zM1922 2486h13v13h-13zM2843 2835h13v13h-13zM2767 2821h13v13h-13zM2752 2818h13v13h-13zM2692 2807h13v13h-13zM2647 2799h13v13h-13zM2219 2724h13v13h-13zM2202 2721h13v13h-13zM2656 2996h13v13h-13zM2642 2990h13v13h-13zM2435 2748h13v13h-13zM2451 2723h13v13h-13zM2460 2710h13v13h-13zM2468 2697h13v13h-13zM2476 2685h13v13h-13zM2485 2672h13v13h-13zM2510 2634h13v13h-13zM2505 3206h13v13h-13zM2519 3200h13v13h-13zM2743 3106h13v13h-13zM2813 3076h13v13h-13zM2856 3058h13v13h-13zM2712 3117h13v13h-13zM2592 3053h13v13h-13zM2578 3046h13v13h-13zM2551 3032h13v13h-13zM2445 2975h13v13h-13z"/>
<path fill="#3affc5" d="M2548 2685h13v13h-13zM2206 2602h13v13h-13zM2189 2603h13v13h-13zM1998 2491h13v13h-13zM2682 2967h13v13h-13zM2695 2959h13v13h-13zM2710 3259h13v13h-13zM2685 3241h13v13h-13zM2673 3232h13v13h-13zM2648 3214h13v13h-13zM2636 3206h13v13h-13zM2623 3197h13v13h-13zM2586 3170h13v13h-13zM2574 3162h13v13h-13zM2525 3126h13v13h-13zM2512 3118h13v13h-13zM2475 3092h13v13h-13zM2728 3373h13v13h-13zM2758 3369h13v13h-13zM2881 3034h13v13h-13zM2838 3018h13v13h-13zM2771 3096h13v13h-13zM2813 3078h13v13h-13zM2865 3270h13v13h-13zM2760 3206h13v13h-13zM2721 3182h13v13h-13zM2291 2766h13v13h-13zM2336 2928h13v13h-13zM2411 2824h13v13h-13zM2429 2800h13v13h-13zM2446 2775h13v13h-13zM2537 3013h13v13h-13zM2497 2992h13v13h-13zM2484 2986h13v13h-13zM2430 2958h13v13h-13zM2416 2951h13v13h-13zM2117 2556h13v13h-13zM2093 2900h13v13h-13zM2082 2867h13v13h-13zM2077 2851h13v13h-13zM2524 3231h13v13h-13zM2502 3210h13v13h-13zM2491 3200h13v13h-13zM2479 3190h13v13h-13zM2569 2735h13v13h-13zM2403 2716h13v13h-13zM2344 2709h13v13h-13zM2329 2708h13v13h-13zM2547 3260h13v13h-13zM2648 3228h13v13h-13zM2791 3406h13v13h-13zM2807 3404h13v13h-13zM2822 3403h13v13h-13zM2119 2907h13v13h-13zM2780 3173h13v13h-13zM2824 3158h13v13h-13zM2780 3516h13v13h-13zM2072 2836h13v13h-13zM1945 2717h13v13h-13zM1994 2534h13v13h-13zM2215 2650h13v13h-13zM2266 2363h13v13h-13zM2124 2934h13v13h-13zM2122 2830h13v13h-13zM2750 2875h13v13h-13zM2272 2762h13v13h-13zM2255 2758h13v13h-13zM2278 3069h13v13h-13zM2324 3017h13v13h-13zM2336 3004h13v13h-13zM2359 2978h13v13h-13zM2462 2861h13v13h-13zM2522 2793h13v13h-13zM2542 2771h13v13h-13zM2562 2748h13v13h-13zM2503 2868h13v13h-13zM2524 2846h13v13h-13zM2395 2898h13v13h-13zM2424 2863h13v13h-13zM2433 2852h13v13h-13zM2471 2805h13v13h-13zM2747 2947h13v13h-13zM2704 2933h13v13h-13zM2689 2928h13v13h-13zM2675 2923h13v13h-13zM2617 2905h13v13h-13zM2573 2891h13v13h-13zM2559 2887h13v13h-13zM2523 2898h13v13h-13zM2546 2877h13v13h-13zM2579 2846h13v13h-13zM2601 2826h13v13h-13zM2623 2805h13v13h-13zM2634 2795h13v13h-13zM2645 2784h13v13h-13zM2588 3315h13v13h-13zM2722 3283h13v13h-13zM2796 3266h13v13h-13zM2871 3248h13v13h-13zM2573 2747h13v13h-13zM2543 2744h13v13h-13zM2498 2738h13v13h-13zM2483 2736h13v13h-13zM2289 2711h13v13h-13zM2254 2707h13v13h-13zM1962 2582h13v13h-13zM1942 2534h13v13h-13zM1935 2518h13v13h-13zM2813 2829h13v13h-13zM2783 2823h13v13h-13zM2677 2804h13v13h-13zM2662 2801h13v13h-13zM2632 2796h13v13h-13zM2236 2727h13v13h-13zM2684 3007h13v13h-13zM2628 2984h13v13h-13zM2016 2757h13v13h-13zM2024 2593h13v13h-13zM2350 2875h13v13h-13zM2376 2835h13v13h-13zM2884 3046h13v13h-13zM2753 3139h13v13h-13zM2739 3132h13v13h-13zM1945 2718h13v13h-13z"/>
<path fill="#51ffae" d="M2191 2666h13v13h-13zM2492 2581h13v13h-13zM2326 2593h13v13h-13zM2311 2594h13v13h-13zM2236 2600h13v13h-13zM2221 2601h13v13h-13zM2260 2764h13v13h-13zM2404 2339h13v13h-13zM2670 2975h13v13h-13zM2812 2884h13v13h-13zM2797 3322h13v13h-13zM2735 3277h13v13h-13zM2451 3074h13v13h-13zM2375 3021h13v13h-13zM2332 2991h13v13h-13zM2682 3380h13v13h-13zM2383 2972h13v13h-13zM2353 2954h13v13h-13zM2611 2938h13v13h-13zM2395 2859h13v13h-13zM2380 2854h13v13h-13zM2366 2849h13v13h-13zM2526 2815h13v13h-13zM2799 3084h13v13h-13zM2827 3072h13v13h-13zM2841 3066h13v13h-13zM2702 3450h13v13h-13zM2695 3166h13v13h-13zM2669 3150h13v13h-13zM2397 2987h13v13h-13zM2347 2913h13v13h-13zM2367 2885h13v13h-13zM2376 2873h13v13h-13zM2420 2812h13v13h-13zM2517 2677h13v13h-13zM2740 3117h13v13h-13zM2672 3082h13v13h-13zM2659 3075h13v13h-13zM2524 3006h13v13h-13zM2470 2979h13v13h-13zM2457 2972h13v13h-13zM2083 2562h13v13h-13zM2015 2575h13v13h-13zM2072 2834h13v13h-13zM2513 3220h13v13h-13zM1958 2731h13v13h-13zM2478 2724h13v13h-13zM2463 2723h13v13h-13zM2448 2721h13v13h-13zM2418 2718h13v13h-13zM2388 2714h13v13h-13zM2518 3269h13v13h-13zM2532 3265h13v13h-13zM2776 3408h13v13h-13zM2097 2881h13v13h-13zM2086 2867h13v13h-13zM1985 2748h13v13h-13zM2750 3483h13v13h-13zM2795 3168h13v13h-13zM2838 3153h13v13h-13zM2853 3148h13v13h-13zM2868 3143h13v13h-13zM2769 3505h13v13h-13zM2747 3484h13v13h-13zM2736 3473h13v13h-13zM2725 3462h13v13h-13zM2714 3451h13v13h-13zM2551 3292h13v13h-13zM2540 3281h13v13h-13zM2262 3014h13v13h-13zM2249 3002h13v13h-13zM2236 2990h13v13h-13zM1971 2741h13v13h-13zM2115 2948h13v13h-13zM2205 2701h13v13h-13zM2208 2684h13v13h-13zM2212 2667h13v13h-13zM2218 2633h13v13h-13zM2870 2904h13v13h-13zM2810 2890h13v13h-13zM2795 2886h13v13h-13zM2721 2868h13v13h-13zM2543 2825h13v13h-13zM2528 2822h13v13h-13zM2470 2808h13v13h-13zM2426 2798h13v13h-13zM2382 2787h13v13h-13zM2367 2784h13v13h-13zM2338 2777h13v13h-13zM2221 2750h13v13h-13zM2289 3056h13v13h-13zM2382 2952h13v13h-13zM2402 2929h13v13h-13zM2452 2873h13v13h-13zM2472 2850h13v13h-13zM2414 2875h13v13h-13zM2442 2840h13v13h-13zM2452 2828h13v13h-13zM2480 2793h13v13h-13zM2864 2984h13v13h-13zM2762 2951h13v13h-13zM2733 2942h13v13h-13zM2515 2873h13v13h-13zM2501 2869h13v13h-13zM2487 2864h13v13h-13zM2534 2888h13v13h-13zM2568 2857h13v13h-13zM2590 2836h13v13h-13zM2612 2815h13v13h-13zM2667 2763h13v13h-13zM2573 3318h13v13h-13zM2603 3311h13v13h-13zM2692 3290h13v13h-13zM2736 3280h13v13h-13zM2751 3276h13v13h-13zM2513 2740h13v13h-13zM2319 2715h13v13h-13zM2304 2713h13v13h-13zM2220 2702h13v13h-13zM2027 2743h13v13h-13zM1955 2566h13v13h-13zM2423 2759h13v13h-13zM2364 2749h13v13h-13zM2349 2746h13v13h-13zM2320 2741h13v13h-13zM2288 2735h13v13h-13zM2670 3001h13v13h-13zM2613 2978h13v13h-13zM2243 3034h13v13h-13zM2291 2962h13v13h-13zM2311 2933h13v13h-13zM2340 2889h13v13h-13zM2360 2860h13v13h-13zM2368 2848h13v13h-13zM2385 2823h13v13h-13zM2393 2810h13v13h-13zM2426 2760h13v13h-13zM2477 3218h13v13h-13zM2793 3161h13v13h-13zM2780 3153h13v13h-13zM2766 3146h13v13h-13zM2431 2968h13v13h-13zM2418 2961h13v13h-13zM2080 2828h13v13h-13z"/>
<path fill="#68ff97" d="M2563 2686h13v13h-13zM2472 2681h13v13h-13zM2306 2672h13v13h-13zM2226 2667h13v13h-13zM2379 2320h13v13h-13zM2171 2604h13v13h-13zM2644 2991h13v13h-13zM2657 2983h13v13h-13zM2822 3340h13v13h-13zM2809 3331h13v13h-13zM2747 3286h13v13h-13zM2722 3268h13v13h-13zM2697 3250h13v13h-13zM2562 3153h13v13h-13zM2549 3144h13v13h-13zM2426 3057h13v13h-13zM2390 3031h13v13h-13zM2347 3001h13v13h-13zM2304 2971h13v13h-13zM2289 2961h13v13h-13zM2323 2937h13v13h-13zM2538 2992h13v13h-13zM2574 2965h13v13h-13zM2586 2956h13v13h-13zM2571 2825h13v13h-13zM2541 2818h13v13h-13zM2511 2811h13v13h-13zM2658 3143h13v13h-13zM2728 3114h13v13h-13zM2785 3090h13v13h-13zM2717 3449h13v13h-13zM2682 3158h13v13h-13zM2475 3033h13v13h-13zM2449 3017h13v13h-13zM2436 3010h13v13h-13zM2423 3002h13v13h-13zM2410 2994h13v13h-13zM2354 2961h13v13h-13zM2357 2899h13v13h-13zM2455 2763h13v13h-13zM2464 2751h13v13h-13zM2481 2726h13v13h-13zM2490 2714h13v13h-13zM2526 2665h13v13h-13zM2534 2652h13v13h-13zM2753 3124h13v13h-13zM2726 3110h13v13h-13zM2645 3068h13v13h-13zM2002 2745h13v13h-13zM2524 2482h13v13h-13zM2479 2490h13v13h-13zM2434 2498h13v13h-13zM2135 2553h13v13h-13zM1971 2743h13v13h-13zM1945 2720h13v13h-13zM2554 2733h13v13h-13zM2433 2719h13v13h-13zM2504 3274h13v13h-13zM2075 2854h13v13h-13zM2719 3484h13v13h-13zM2734 3483h13v13h-13zM2809 3163h13v13h-13zM2758 3494h13v13h-13zM2703 3441h13v13h-13zM2681 3419h13v13h-13zM2670 3409h13v13h-13zM2659 3398h13v13h-13zM2572 3313h13v13h-13zM2561 3302h13v13h-13zM1958 2729h13v13h-13zM2383 2419h13v13h-13zM1943 2550h13v13h-13zM2202 2718h13v13h-13zM2825 2893h13v13h-13zM2780 2882h13v13h-13zM2765 2879h13v13h-13zM2558 2829h13v13h-13zM2440 2801h13v13h-13zM2352 2780h13v13h-13zM2323 2774h13v13h-13zM2306 2770h13v13h-13zM2238 2754h13v13h-13zM2301 3043h13v13h-13zM2442 2884h13v13h-13zM2386 2910h13v13h-13zM2461 2816h13v13h-13zM2806 2965h13v13h-13zM2718 2937h13v13h-13zM2530 2878h13v13h-13zM2444 2851h13v13h-13zM2656 2774h13v13h-13zM2618 3308h13v13h-13zM2632 3304h13v13h-13zM2677 3294h13v13h-13zM2468 2734h13v13h-13zM2393 2724h13v13h-13zM2617 2793h13v13h-13zM2394 2754h13v13h-13zM2335 2743h13v13h-13zM2305 2738h13v13h-13zM2270 2733h13v13h-13zM2253 2730h13v13h-13zM2726 3025h13v13h-13zM2698 3013h13v13h-13zM2179 2523h13v13h-13zM2180 2508h13v13h-13zM2252 3020h13v13h-13zM2262 3005h13v13h-13zM2282 2976h13v13h-13zM2401 2798h13v13h-13zM2410 2785h13v13h-13zM2418 2773h13v13h-13zM2463 3224h13v13h-13zM2491 3212h13v13h-13zM1960 2725h13v13h-13zM2058 2840h13v13h-13zM2092 2879h13v13h-13zM2088 2862h13v13h-13z"/>
<path fill="#80ff80" d="M2457 2680h13v13h-13zM2412 2677h13v13h-13zM2366 2675h13v13h-13zM2351 2674h13v13h-13zM2291 2671h13v13h-13zM2296 2595h13v13h-13zM2281 2596h13v13h-13zM2251 2598h13v13h-13zM2408 2325h13v13h-13zM2264 2611h13v13h-13zM2268 2596h13v13h-13zM2824 2876h13v13h-13zM2837 2868h13v13h-13zM2850 2860h13v13h-13zM2863 2851h13v13h-13zM2772 3304h13v13h-13zM2760 3295h13v13h-13zM2488 3100h13v13h-13zM2439 3065h13v13h-13zM2414 3048h13v13h-13zM2402 3039h13v13h-13zM2361 3011h13v13h-13zM2318 2981h13v13h-13zM2513 3010h13v13h-13zM2562 2974h13v13h-13zM2600 2831h13v13h-13zM2585 2828h13v13h-13zM2556 2821h13v13h-13zM2497 2808h13v13h-13zM2644 3149h13v13h-13zM2672 3137h13v13h-13zM2686 3131h13v13h-13zM2700 3126h13v13h-13zM2714 3120h13v13h-13zM2743 3108h13v13h-13zM2687 3451h13v13h-13zM2748 3447h13v13h-13zM2809 3443h13v13h-13zM2656 3142h13v13h-13zM2630 3127h13v13h-13zM2539 3072h13v13h-13zM2384 2979h13v13h-13zM2369 2970h13v13h-13zM2339 2952h13v13h-13zM2009 2758h13v13h-13zM2198 2992h13v13h-13zM2316 2956h13v13h-13zM2326 2942h13v13h-13zM2393 2849h13v13h-13zM2473 2738h13v13h-13zM2508 2689h13v13h-13zM2713 3103h13v13h-13zM2510 2999h13v13h-13zM2403 2945h13v13h-13zM2390 2938h13v13h-13zM1987 2737h13v13h-13zM2494 2487h13v13h-13zM2449 2495h13v13h-13zM1985 2754h13v13h-13zM2523 2730h13v13h-13zM2508 2728h13v13h-13zM2746 3411h13v13h-13zM2761 3409h13v13h-13zM1962 2722h13v13h-13zM2704 3484h13v13h-13zM2794 3399h13v13h-13zM2809 3397h13v13h-13zM2692 3430h13v13h-13zM2649 3387h13v13h-13zM2638 3377h13v13h-13zM2224 2978h13v13h-13zM2515 2381h13v13h-13zM2501 2385h13v13h-13zM2413 2411h13v13h-13zM1927 2555h13v13h-13zM2514 2818h13v13h-13zM2484 2811h13v13h-13zM2396 2791h13v13h-13zM2422 2907h13v13h-13zM2432 2895h13v13h-13zM2770 2831h13v13h-13zM2740 2825h13v13h-13zM2710 2819h13v13h-13zM2695 2816h13v13h-13zM2354 2949h13v13h-13zM2490 2781h13v13h-13zM2509 2758h13v13h-13zM2547 2710h13v13h-13zM2556 2698h13v13h-13zM2879 2989h13v13h-13zM2850 2980h13v13h-13zM2835 2975h13v13h-13zM2791 2961h13v13h-13zM2544 2882h13v13h-13zM2472 2860h13v13h-13zM2458 2855h13v13h-13zM2429 2846h13v13h-13zM2647 3301h13v13h-13zM2662 3297h13v13h-13zM2453 2732h13v13h-13zM2438 2730h13v13h-13zM2423 2728h13v13h-13zM2379 2722h13v13h-13zM2334 2717h13v13h-13zM2602 2791h13v13h-13zM2587 2788h13v13h-13zM2572 2785h13v13h-13zM2557 2783h13v13h-13zM2867 3084h13v13h-13zM2839 3072h13v13h-13zM2768 3043h13v13h-13zM2712 3019h13v13h-13zM2599 2972h13v13h-13zM2172 2602h13v13h-13zM2173 2585h13v13h-13zM2176 2553h13v13h-13zM2184 2463h13v13h-13zM1910 2558h13v13h-13zM2089 2864h13v13h-13zM2301 2947h13v13h-13zM2005 2763h13v13h-13zM2807 3168h13v13h-13zM2100 2913h13v13h-13z"/>
<path fill="#97ff68" d="M2532 2684h13v13h-13zM2517 2683h13v13h-13zM2502 2682h13v13h-13zM2336 2673h13v13h-13zM2321 2672h13v13h-13zM2276 2670h13v13h-13zM2261 2669h13v13h-13zM2244 2668h13v13h-13zM2209 2667h13v13h-13zM2351 2331h13v13h-13zM2266 2366h13v13h-13zM2507 2580h13v13h-13zM2266 2597h13v13h-13zM2260 2625h13v13h-13zM2272 2582h13v13h-13zM2275 2567h13v13h-13zM2631 2999h13v13h-13zM2847 3358h13v13h-13zM2834 3349h13v13h-13zM2784 3313h13v13h-13zM2463 3083h13v13h-13zM2550 2983h13v13h-13zM2599 2947h13v13h-13zM2623 2929h13v13h-13zM2635 2920h13v13h-13zM2647 2911h13v13h-13zM2449 3230h13v13h-13zM2463 3225h13v13h-13zM2616 3161h13v13h-13zM2630 3155h13v13h-13zM2763 3446h13v13h-13zM2794 3444h13v13h-13zM2643 3134h13v13h-13zM2526 3064h13v13h-13zM2501 3048h13v13h-13zM2488 3041h13v13h-13zM2462 3025h13v13h-13zM2191 3008h13v13h-13zM2385 2861h13v13h-13zM2402 2836h13v13h-13zM2499 2702h13v13h-13zM2303 2955h13v13h-13zM2781 3138h13v13h-13zM2767 3131h13v13h-13zM2699 3096h13v13h-13zM2509 2485h13v13h-13zM2419 2500h13v13h-13zM2315 2519h13v13h-13zM2285 2525h13v13h-13zM2255 2530h13v13h-13zM2211 2538h13v13h-13zM2538 2731h13v13h-13zM2493 2726h13v13h-13zM2186 2987h13v13h-13zM2153 2947h13v13h-13zM2142 2934h13v13h-13zM2131 2920h13v13h-13zM2108 2894h13v13h-13zM2688 3485h13v13h-13zM2763 3402h13v13h-13zM2627 3366h13v13h-13zM2616 3355h13v13h-13zM2605 3345h13v13h-13zM2530 2377h13v13h-13zM2471 2394h13v13h-13zM2457 2398h13v13h-13zM2442 2402h13v13h-13zM2427 2406h13v13h-13zM2398 2415h13v13h-13zM2855 2901h13v13h-13zM2573 2832h13v13h-13zM2499 2815h13v13h-13zM2455 2804h13v13h-13zM2412 2918h13v13h-13zM2755 2828h13v13h-13zM2725 2822h13v13h-13zM2680 2813h13v13h-13zM2665 2811h13v13h-13zM2650 2808h13v13h-13zM2332 2976h13v13h-13zM2343 2962h13v13h-13zM2376 2922h13v13h-13zM2528 2734h13v13h-13zM2537 2722h13v13h-13zM2820 2970h13v13h-13zM2400 2837h13v13h-13zM2408 2726h13v13h-13zM2364 2720h13v13h-13zM2349 2719h13v13h-13zM2543 2780h13v13h-13zM2453 2764h13v13h-13zM2438 2761h13v13h-13zM2379 2751h13v13h-13zM2825 3066h13v13h-13zM2811 3060h13v13h-13zM2754 3037h13v13h-13zM2740 3031h13v13h-13zM2170 2620h13v13h-13zM2175 2568h13v13h-13zM2177 2538h13v13h-13zM2181 2493h13v13h-13zM2185 2448h13v13h-13zM2120 2506h13v13h-13zM2105 2931h13v13h-13zM2272 2991h13v13h-13zM2449 3229h13v13h-13zM2820 3175h13v13h-13zM1994 2736h13v13h-13z"/>
<path fill="#aeff51" d="M2487 2681h13v13h-13zM2442 2679h13v13h-13zM2427 2678h13v13h-13zM2396 2676h13v13h-13zM2381 2676h13v13h-13zM2393 2314h13v13h-13zM2337 2337h13v13h-13zM2323 2343h13v13h-13zM2308 2349h13v13h-13zM2523 2579h13v13h-13zM2249 2672h13v13h-13zM2253 2655h13v13h-13zM2257 2640h13v13h-13zM2279 2553h13v13h-13zM2283 2538h13v13h-13zM2294 2494h13v13h-13zM2339 2318h13v13h-13zM2770 2819h13v13h-13zM2565 3344h13v13h-13zM2835 3290h13v13h-13zM2865 3284h13v13h-13zM2482 2805h13v13h-13zM2491 3213h13v13h-13zM2602 3167h13v13h-13zM2757 3102h13v13h-13zM2672 3452h13v13h-13zM2733 3448h13v13h-13zM2617 3119h13v13h-13zM2578 3095h13v13h-13zM2552 3080h13v13h-13zM2514 3056h13v13h-13zM2324 2943h13v13h-13zM2309 2934h13v13h-13zM1979 2741h13v13h-13zM2430 2770h13v13h-13zM2439 2757h13v13h-13zM2464 2720h13v13h-13zM2808 3153h13v13h-13zM2794 3146h13v13h-13zM2686 3089h13v13h-13zM2404 2503h13v13h-13zM2389 2506h13v13h-13zM2359 2511h13v13h-13zM2330 2517h13v13h-13zM2270 2527h13v13h-13zM2196 2541h13v13h-13zM2167 2547h13v13h-13zM2152 2549h13v13h-13zM2730 3412h13v13h-13zM2824 3396h13v13h-13zM2594 3334h13v13h-13zM2583 3324h13v13h-13zM2486 2389h13v13h-13zM2840 2897h13v13h-13zM2800 2837h13v13h-13zM2310 3003h13v13h-13zM2365 2935h13v13h-13zM2518 2746h13v13h-13zM2565 2687h13v13h-13zM2776 2956h13v13h-13zM2415 2842h13v13h-13zM2558 3321h13v13h-13zM2528 2777h13v13h-13zM2498 2772h13v13h-13zM2483 2769h13v13h-13zM2468 2767h13v13h-13zM2409 2756h13v13h-13zM2853 3078h13v13h-13zM2797 3054h13v13h-13zM2782 3048h13v13h-13zM2585 2967h13v13h-13zM2182 2478h13v13h-13zM2121 2556h13v13h-13zM2120 2538h13v13h-13zM2120 2521h13v13h-13zM2065 2850h13v13h-13zM1902 2543h13v13h-13zM2101 2914h13v13h-13zM2097 2897h13v13h-13zM2093 2880h13v13h-13zM2074 2863h13v13h-13zM2391 2947h13v13h-13zM2363 2932h13v13h-13zM2112 2928h13v13h-13zM2076 2869h13v13h-13zM2067 2855h13v13h-13z"/>
<path fill="#c5ff3a" d="M2294 2354h13v13h-13zM2280 2360h13v13h-13zM2180 2994h13v13h-13zM2231 2739h13v13h-13zM2235 2722h13v13h-13zM2240 2705h13v13h-13zM2244 2688h13v13h-13zM2287 2523h13v13h-13zM2305 2450h13v13h-13zM2313 2421h13v13h-13zM2320 2392h13v13h-13zM2324 2377h13v13h-13zM2328 2362h13v13h-13zM2335 2333h13v13h-13zM2490 3088h13v13h-13zM2580 3032h13v13h-13zM2605 3015h13v13h-13zM2618 3007h13v13h-13zM2501 3019h13v13h-13zM2526 3001h13v13h-13zM2672 2892h13v13h-13zM2696 2874h13v13h-13zM2477 3219h13v13h-13zM2504 3207h13v13h-13zM2518 3202h13v13h-13zM2254 3040h13v13h-13zM2305 2970h13v13h-13zM2323 2927h13v13h-13zM2447 2745h13v13h-13zM2456 2732h13v13h-13zM2515 2645h13v13h-13zM2376 2931h13v13h-13zM2539 2479h13v13h-13zM2464 2492h13v13h-13zM2344 2514h13v13h-13zM2300 2522h13v13h-13zM2241 2533h13v13h-13zM2226 2536h13v13h-13zM2181 2544h13v13h-13zM2109 2950h13v13h-13zM2685 3417h13v13h-13zM2715 3414h13v13h-13zM2209 3013h13v13h-13zM2717 3407h13v13h-13zM2748 3404h13v13h-13zM2635 2805h13v13h-13zM2605 2799h13v13h-13zM2590 2796h13v13h-13zM2299 3017h13v13h-13zM2386 2833h13v13h-13zM2513 2775h13v13h-13zM2571 2961h13v13h-13zM2543 2949h13v13h-13zM2516 2938h13v13h-13zM2502 2932h13v13h-13zM2488 2926h13v13h-13zM2474 2921h13v13h-13zM2109 2948h13v13h-13zM2085 2847h13v13h-13zM2064 2849h13v13h-13zM1975 2721h13v13h-13zM2874 3205h13v13h-13zM2834 3183h13v13h-13zM2405 2954h13v13h-13zM2378 2940h13v13h-13z"/>
<path fill="#dcff23" d="M2365 2325h13v13h-13zM2298 2480h13v13h-13zM2302 2465h13v13h-13zM2316 2406h13v13h-13zM2331 2347h13v13h-13zM2105 2930h13v13h-13zM2085 2846h13v13h-13zM2081 2829h13v13h-13zM2439 3120h13v13h-13zM2465 3104h13v13h-13zM2503 3080h13v13h-13zM2554 3048h13v13h-13zM2593 3024h13v13h-13zM2378 3109h13v13h-13zM2392 3099h13v13h-13zM2416 3081h13v13h-13zM2429 3072h13v13h-13zM2465 3046h13v13h-13zM2477 3037h13v13h-13zM2684 2883h13v13h-13zM2733 2847h13v13h-13zM2745 2838h13v13h-13zM2757 2828h13v13h-13zM2580 3342h13v13h-13zM2850 3287h13v13h-13zM2467 2801h13v13h-13zM2532 3196h13v13h-13zM2546 3190h13v13h-13zM2560 3184h13v13h-13zM2574 3178h13v13h-13zM2588 3173h13v13h-13zM2779 3445h13v13h-13zM2604 3111h13v13h-13zM2591 3103h13v13h-13zM2565 3087h13v13h-13zM1994 2749h13v13h-13zM2275 3012h13v13h-13zM2285 2998h13v13h-13zM2295 2984h13v13h-13zM2293 2970h13v13h-13zM2313 2941h13v13h-13zM2333 2912h13v13h-13zM2342 2898h13v13h-13zM2413 2795h13v13h-13zM2473 2707h13v13h-13zM2524 2632h13v13h-13zM2532 2620h13v13h-13zM2876 3188h13v13h-13zM2862 3181h13v13h-13zM2821 3160h13v13h-13zM2374 2509h13v13h-13zM2198 3000h13v13h-13zM2732 3406h13v13h-13zM2778 3401h13v13h-13zM2845 2845h13v13h-13zM2785 2834h13v13h-13zM2620 2802h13v13h-13zM2560 2791h13v13h-13zM2372 2828h13v13h-13zM2557 2955h13v13h-13zM2529 2944h13v13h-13zM2460 2915h13v13h-13zM2446 2909h13v13h-13zM2142 2932h13v13h-13zM2186 2433h13v13h-13zM2121 2573h13v13h-13zM2094 2892h13v13h-13zM2847 3190h13v13h-13zM2121 2943h13v13h-13zM2103 2914h13v13h-13zM2012 2766h13v13h-13z"/>
<path fill="#f3ff0c" d="M2290 2509h13v13h-13zM2097 2897h13v13h-13zM2093 2880h13v13h-13zM2414 3136h13v13h-13zM2426 3128h13v13h-13zM2516 3072h13v13h-13zM2529 3064h13v13h-13zM2541 3056h13v13h-13zM2567 3040h13v13h-13zM2132 2851h13v13h-13zM2118 2841h13v13h-13zM2404 3090h13v13h-13zM2441 3064h13v13h-13zM2453 3055h13v13h-13zM2489 3028h13v13h-13zM2659 2902h13v13h-13zM2721 2856h13v13h-13zM2782 2810h13v13h-13zM2610 3336h13v13h-13zM2625 3333h13v13h-13zM2335 2772h13v13h-13zM1949 2723h13v13h-13zM2244 3054h13v13h-13zM2264 3026h13v13h-13zM2396 2819h13v13h-13zM2422 2782h13v13h-13zM2481 2695h13v13h-13zM2490 2682h13v13h-13zM2507 2657h13v13h-13zM2835 3167h13v13h-13zM2361 2923h13v13h-13zM2802 3419h13v13h-13zM2669 3418h13v13h-13zM2641 3415h13v13h-13zM2656 3414h13v13h-13zM2830 2842h13v13h-13zM2815 2840h13v13h-13zM2575 2793h13v13h-13zM2516 2782h13v13h-13zM2321 2990h13v13h-13zM2104 2906h13v13h-13zM2347 2924h13v13h-13zM1415 3387h13v13h-13z"/>
<path fill="#fff400" d="M2301 2947h13v13h-13zM2309 2436h13v13h-13zM2109 2947h13v13h-13zM2089 2863h13v13h-13zM2452 3112h13v13h-13zM2477 3096h13v13h-13zM2708 2865h13v13h-13zM2595 3339h13v13h-13zM2640 3330h13v13h-13zM2670 3324h13v13h-13zM2760 3305h13v13h-13zM2805 3296h13v13h-13zM2820 3293h13v13h-13zM2321 2768h13v13h-13zM2243 3041h13v13h-13zM2263 3013h13v13h-13zM2283 2984h13v13h-13zM2352 2883h13v13h-13zM2388 2832h13v13h-13zM2498 2670h13v13h-13zM2345 2915h13v13h-13zM2772 3421h13v13h-13zM2787 3420h13v13h-13zM2700 3415h13v13h-13zM2672 3412h13v13h-13zM2702 3409h13v13h-13zM2545 2788h13v13h-13zM2266 3057h13v13h-13zM2288 3030h13v13h-13zM2066 2840h13v13h-13zM2113 2942h13v13h-13zM2089 2896h13v13h-13zM2861 3197h13v13h-13zM2332 2916h13v13h-13z"/>
<path fill="#ffdd00" d="M2655 3327h13v13h-13zM2715 3315h13v13h-13zM2775 3302h13v13h-13zM2790 3299h13v13h-13zM2453 2798h13v13h-13zM2438 2795h13v13h-13zM2364 2778h13v13h-13zM2303 2765h13v13h-13zM2286 2761h13v13h-13zM2253 3027h13v13h-13zM2362 2869h13v13h-13zM2405 2807h13v13h-13zM2849 3174h13v13h-13zM2711 3427h13v13h-13zM2741 3424h13v13h-13zM2756 3423h13v13h-13zM2818 3417h13v13h-13zM2654 3420h13v13h-13zM2687 3410h13v13h-13zM2530 2785h13v13h-13zM2501 2780h13v13h-13zM2456 2771h13v13h-13zM2277 3044h13v13h-13zM2882 3090h13v13h-13zM2418 2898h13v13h-13zM2144 2915h13v13h-13z"/>
<path fill="#ffc500" d="M2272 2990h13v13h-13zM2282 2976h13v13h-13zM2291 2961h13v13h-13zM2388 3151h13v13h-13zM2401 3144h13v13h-13zM2745 3308h13v13h-13zM2423 2791h13v13h-13zM2394 2785h13v13h-13zM2495 3171h13v13h-13zM2472 3152h13v13h-13zM2460 3142h13v13h-13zM2448 3132h13v13h-13zM2273 2998h13v13h-13zM2371 2857h13v13h-13zM2379 2844h13v13h-13zM2665 3431h13v13h-13zM2680 3429h13v13h-13zM2726 3425h13v13h-13zM2860 2848h13v13h-13zM2486 2777h13v13h-13zM2412 2763h13v13h-13zM2099 2920h13v13h-13zM2079 2872h13v13h-13zM2432 2904h13v13h-13zM2126 2956h13v13h-13zM2126 2939h13v13h-13zM2105 2926h13v13h-13zM2133 2949h13v13h-13zM2124 2935h13v13h-13z"/>
<path fill="#ffae00" d="M2252 3019h13v13h-13zM2262 3005h13v13h-13zM2350 2874h13v13h-13zM2359 2859h13v13h-13zM2730 3312h13v13h-13zM2379 2781h13v13h-13zM2350 2775h13v13h-13zM2252 2753h13v13h-13zM2218 2746h13v13h-13zM2695 3428h13v13h-13zM2471 2774h13v13h-13zM2441 2769h13v13h-13zM2426 2766h13v13h-13zM2222 2729h13v13h-13zM2205 2726h13v13h-13zM2112 2953h13v13h-13zM2073 2856h13v13h-13z"/>
<path fill="#ff9700" d="M2243 3033h13v13h-13zM2368 2847h13v13h-13zM2685 3321h13v13h-13zM2700 3318h13v13h-13zM2235 2750h13v13h-13zM2530 3200h13v13h-13zM2518 3190h13v13h-13zM2437 3123h13v13h-13zM2425 3113h13v13h-13zM2414 3104h13v13h-13zM2402 3094h13v13h-13zM2364 3062h13v13h-13zM2323 3029h13v13h-13zM2397 2760h13v13h-13zM2274 2738h13v13h-13zM2105 2936h13v13h-13zM2086 2888h13v13h-13zM2362 2875h13v13h-13zM2126 2921h13v13h-13z"/>
<path fill="#ff8000" d="M2340 2889h13v13h-13zM2376 2835h13v13h-13zM2401 2797h13v13h-13zM2409 2788h13v13h-13zM2269 2757h13v13h-13zM2798 3426h13v13h-13zM2506 3181h13v13h-13zM2483 3161h13v13h-13zM2391 3085h13v13h-13zM2377 3073h13v13h-13zM2163 2924h13v13h-13zM2738 2884h13v13h-13zM2382 2758h13v13h-13zM2367 2755h13v13h-13zM2323 2747h13v13h-13zM2256 2735h13v13h-13zM2390 2887h13v13h-13zM2125 2869h13v13h-13z"/>
<path fill="#ff6900" d="M2384 2822h13v13h-13zM2821 3446h13v13h-13zM2350 3051h13v13h-13zM2337 3040h13v13h-13zM2296 3007h13v13h-13zM2812 2903h13v13h-13zM2768 2892h13v13h-13zM2753 2888h13v13h-13zM2664 2865h13v13h-13zM2308 2744h13v13h-13zM2239 2732h13v13h-13zM2404 2892h13v13h-13zM2376 2881h13v13h-13zM2125 2904h13v13h-13zM2125 2852h13v13h-13z"/>
<path fill="#ff5200" d="M2468 2696h13v13h-13zM2509 2633h13v13h-13zM2518 2620h13v13h-13zM2526 2608h13v13h-13zM2809 3436h13v13h-13zM2786 3416h13v13h-13zM2269 2985h13v13h-13zM2797 2899h13v13h-13zM2723 2880h13v13h-13zM2708 2877h13v13h-13zM2693 2873h13v13h-13zM2352 2752h13v13h-13zM2338 2750h13v13h-13zM2291 2741h13v13h-13zM2125 2835h13v13h-13zM1556 3527h13v13h-13zM1630 3562h13v13h-13zM2139 3112h13v13h-13zM2217 3261h13v13h-13zM1998 3942h13v13h-13z"/>
<path fill="#ff3b00" d="M2393 2809h13v13h-13zM2409 2784h13v13h-13zM2451 2722h13v13h-13zM2459 2709h13v13h-13zM2476 2684h13v13h-13zM2484 2671h13v13h-13zM2493 2658h13v13h-13zM2501 2646h13v13h-13zM2774 3406h13v13h-13zM2762 3396h13v13h-13zM2739 3376h13v13h-13zM2541 3210h13v13h-13zM2310 3018h13v13h-13zM2283 2996h13v13h-13zM2256 2974h13v13h-13zM2857 2915h13v13h-13zM2842 2911h13v13h-13zM2679 2869h13v13h-13zM2649 2862h13v13h-13zM2634 2858h13v13h-13zM2605 2850h13v13h-13zM2173 3006h13v13h-13z"/>
<path fill="#ff2400" d="M2418 2772h13v13h-13zM2426 2759h13v13h-13zM2751 3386h13v13h-13zM2727 3366h13v13h-13zM2576 3239h13v13h-13zM2564 3229h13v13h-13zM2553 3219h13v13h-13zM2872 2919h13v13h-13zM2782 2896h13v13h-13zM2620 2854h13v13h-13z"/>
<path fill="#ff0c00" d="M2827 2907h13v13h-13zM2590 2847h13v13h-13zM2576 2843h13v13h-13zM2546 2836h13v13h-13zM2385 2796h13v13h-13zM2370 2792h13v13h-13zM2327 2781h13v13h-13zM2293 2773h13v13h-13zM2276 2769h13v13h-13zM2242 2761h13v13h-13z"/>
<path fill="#f40000" d="M2434 2747h13v13h-13zM2443 2734h13v13h-13zM2704 3347h13v13h-13zM2634 3288h13v13h-13zM2400 2799h13v13h-13zM2356 2789h13v13h-13zM2259 2765h13v13h-13z"/>
<path fill="#dd0000" d="M2716 3357h13v13h-13zM2692 3337h13v13h-13zM2646 3297h13v13h-13zM2081 2831h13v13h-13zM2561 2839h13v13h-13zM2531 2832h13v13h-13zM2429 2806h13v13h-13zM2341 2785h13v13h-13zM2310 2777h13v13h-13z"/>
<path fill="#c60000" d="M2669 3317h13v13h-13zM2622 3278h13v13h-13zM2599 3258h13v13h-13zM2588 3249h13v13h-13zM2121 2864h13v13h-13zM2094 2842h13v13h-13zM2517 2828h13v13h-13zM2458 2814h13v13h-13zM2414 2803h13v13h-13z"/>
<path fill="#af0000" d="M2681 3327h13v13h-13zM2657 3307h13v13h-13zM2611 3268h13v13h-13zM2502 2825h13v13h-13zM2143 3142h13v13h-13z"/>
<path fill="#970000" d="M2487 2821h13v13h-13zM2473 2817h13v13h-13zM2444 2810h13v13h-13z"/>
<path fill="#0000c6" d="M2095 2488l6-2 0-6 4 5 5-2-3 5 3 5-5-1-4 4 0-6z"/>
<path fill="#0000dd" d="M2030 2507l5-2 0-6 4 5 6-2-3 5 3 5-6-1-4 4 0-6zM2124 2478l5-2 0-6 4 5 6-2-3 5 3 5-6-1-4 4 0-6zM2081 2493l5-2 1-6 4 5 5-2-3 5 3 5-5-1-4 4-1-6z"/>
<path fill="#0000f4" d="M2105 2480l5-2 1-6 3 5 6-2-3 5 3 5-6-1-3 4-1-6zM2013 2513l5-2 1-6 4 5 5-2-3 5 3 5-5-1-4 4-1-6zM2613 3042l6-2 0-6 4 5 5-2-3 5 3 5-5-1-4 4 0-6zM2600 3036l5-3 0-5 4 4 6-1-3 5 3 4-6-1-4 4 0-5z"/>
<path fill="#000cff" d="M2073 2474l5-2 1-6 3 4 6-1-3 5 3 4-6-1-3 4-1-5zM2045 2485l5-3 1-5 3 4 6-1-3 5 3 4-6-1-3 4-1-5zM2091 2485l5-2 1-6 3 5 6-2-3 5 3 5-6-1-3 4-1-6zM2077 2490l5-2 0-6 4 5 6-2-3 5 3 5-6-1-4 4 0-6zM2063 2495l5-2 0-6 4 5 5-2-2 5 2 5-5-1-4 4 0-6zM1997 2519l5-2 1-6 3 4 6-1-3 5 3 5-6-1-3 4-1-6zM1948 2537l5-2 0-6 4 4 5-1-2 5 2 5-5-2-4 5 0-6zM2110 2483l5-2 0-6 4 5 5-2-3 5 3 5-5-1-4 4 0-6zM2051 2504l5-2 0-6 4 4 5-1-3 5 3 5-5-2-4 5 0-6z"/>
<path fill="#0024ff" d="M2641 2852l6-2 0-6 4 5 5-2-3 5 3 5-5-1-4 4 0-6zM2119 2475l5-2 1-6 4 4 5-1-3 5 3 5-5-1-4 4-1-6zM1915 2549l5-2 1-6 3 4 6-1-3 5 3 5-6-2-3 5-1-6zM2468 2360l5-2 0-6 4 4 5-1-2 5 2 5-5-2-4 5 0-6zM2018 2515l5-2 0-5 4 4 5-1-3 4 3 5-5-1-4 4 0-5zM2001 2521l5-2 1-6 3 5 6-2-3 5 3 5-6-1-3 4-1-6zM2807 2818l6-2 0-6 4 4 5-1-3 5 3 5-5-2-4 5 0-6z"/>
<path fill="#003bff" d="M2686 2862l5-2 1-5 3 4 6-2-3 5 3 5-6-1-3 4-1-6zM2656 2855l5-2 1-5 4 4 5-1-3 4 3 5-5-1-4 4-1-5zM2612 2845l5-2 0-6 4 5 6-2-3 5 3 5-6-1-4 4 0-6zM1931 2543l5-2 1-6 4 4 5-1-3 5 3 5-5-2-4 5-1-6zM2641 3055l5-2 0-5 4 4 6-1-3 4 3 5-6-1-4 4 0-5zM2627 3049l5-2 1-6 3 4 6-1-3 5 3 5-6-2-3 5-1-6zM2526 2340l5-2 0-5 4 4 6-1-3 4 3 5-6-1-4 4 0-5zM2511 2345l5-2 1-6 4 5 5-2-3 5 3 5-5-1-4 4-1-6zM2497 2350l5-2 0-6 4 5 5-2-2 5 2 5-5-1-4 4 0-6zM2482 2355l5-2 1-6 3 5 6-2-3 5 3 5-6-1-3 4-1-6zM2453 2365l5-2 1-6 3 4 6-1-3 5 3 5-6-2-3 5-1-6zM1985 2527l5-2 0-6 4 5 5-2-3 5 3 5-5-1-4 4 0-6z"/>
<path fill="#0052ff" d="M2064 2590l5-2 1-6 3 4 6-1-3 5 3 5-6-2-3 5-1-6zM2013 2497l5-2 0-5 4 4 5-1-3 4 3 5-5-1-4 4 0-5zM1940 2571l5-2 1-6 3 4 6-1-3 5 3 5-6-2-3 4-1-5zM2760 2880l6-3 0-5 4 4 5-1-3 5 3 4-5-1-4 4 0-5zM2701 2866l5-2 0-6 4 4 6-1-3 5 3 5-6-2-4 5 0-6zM2304 2409l5-2 1-5 3 4 6-1-3 4 3 5-6-1-3 4-1-5zM1899 2555l5-2 0-6 4 4 5-1-3 5 3 5-5-2-4 5 0-6zM2654 3062l6-2 0-6 4 4 5-1-3 5 3 5-5-1-4 4 0-6zM2586 3029l5-2 1-6 3 5 6-2-3 5 3 5-6-1-3 4-1-6zM2572 3022l6-2 0-5 4 4 5-1-3 4 3 5-5-1-4 4 0-5zM2540 2335l5-2 1-5 4 4 5-1-3 4 3 5-5-1-4 4-1-5zM2439 2370l5-2 0-6 4 4 6-1-3 5 3 5-6-2-4 5 0-6zM1968 2533l5-2 1-6 3 4 6-1-3 5 3 5-6-2-3 5-1-6zM2566 2824l6-2 0-6 4 4 5-1-3 5 3 5-5-2-4 5 0-6zM2371 2434l5-2 1-6 3 4 6-1-3 5 3 5-6-2-3 5-1-6zM2795 2827l5-2 1-6 3 4 6-1-3 5 3 5-6-2-3 5-1-6zM2639 3026l6-3 0-5 4 4 5-1-3 5 3 4-5-1-4 4 0-5zM2584 3001l5-2 1-6 3 4 6-1-3 5 3 5-6-1-3 4-1-6zM2574 2853l6-2 0-5 4 4 5-1-3 4 3 5-5-1-4 4 0-5z"/>
<path fill="#0069ff" d="M2062 2573l5-3 1-5 3 4 6-1-3 5 3 4-6-1-3 4-1-5zM2058 2538l5-2 0-6 4 4 5-1-3 5 3 5-5-2-4 5 0-6zM2745 2876l6-2 0-6 4 5 5-2-3 5 3 5-5-1-4 4 0-6zM2671 2859l5-2 1-6 3 4 6-1-3 5 3 5-6-2-3 5-1-6zM2627 2849l5-3 0-5 4 4 5-1-3 5 3 4-5-1-4 4 0-5zM2597 2842l5-2 1-6 3 4 6-1-3 5 3 5-6-2-3 5-1-6zM2668 3069l5-3 1-5 3 4 6-1-3 5 3 4-6-1-3 4-1-5zM1935 2545l5-3 1-5 4 4 5-1-3 5 3 4-5-1-4 4-1-5zM2523 2866l5-2 1-5 4 4 5-1-3 4 3 5-5-1-4 4-1-6zM2577 2813l5-2 1-6 3 5 6-2-3 5 3 5-6-1-3 4-1-6zM2351 2491l6-2 0-5 4 4 5-1-3 4 3 5-5-1-4 4 0-5zM2361 2463l5-2 1-6 4 4 5-1-3 5 3 5-5-2-4 5-1-6zM2366 2448l5-2 1-5 3 4 6-1-3 4 3 5-6-1-3 4-1-5zM2381 2405l5-2 0-6 4 5 6-2-3 5 3 5-6-1-4 4 0-6zM2386 2391l5-2 0-6 4 4 5-1-3 5 3 5-5-2-4 5 0-6zM2681 3044l5-2 1-6 4 5 5-2-3 5 3 5-5-1-4 4-1-6zM2667 3038l5-2 1-6 4 4 5-1-3 5 3 5-5-1-4 4-1-6zM2653 3032l6-2 0-6 4 4 5-1-3 5 3 5-5-2-4 5 0-6zM2626 3019l5-2 0-5 4 4 5-1-2 4 2 5-5-1-4 4 0-5zM2612 3013l5-2 0-6 4 5 6-2-3 5 3 5-6-1-4 4 0-6zM2598 3007l5-2 1-6 3 5 6-2-3 5 3 5-6-1-3 4-1-6zM2597 2833l5-2 0-6 4 4 6-1-3 5 3 5-6-2-4 5 0-6z"/>
<path fill="#0080ff" d="M2117 2533l5-2 0-6 4 4 5-1-2 5 2 5-5-2-4 5 0-6zM2055 2521l6-3 0-5 4 4 5-1-3 5 3 4-5-1-4 4 0-5zM2440 2332l5-2 1-6 4 4 5-1-3 5 3 5-5-2-4 4-1-5zM1948 2523l5-2 0-6 4 5 5-2-3 5 3 5-5-1-4 4 0-6zM1947 2587l5-2 0-6 4 4 6-1-3 5 3 5-6-2-4 4 0-5zM2781 3092l5-3 1-5 3 4 6-1-3 5 3 4-6-1-3 4-1-5zM2731 2873l5-3 0-5 4 4 5-1-3 5 3 4-5-1-4 4 0-5zM2716 2869l5-2 0-6 4 5 5-2-2 5 2 5-5-1-4 4 0-6zM2567 2835l6-2 0-6 4 5 5-2-3 5 3 5-5-1-4 4 0-6zM2290 2414l5-2 0-5 4 4 6-1-3 4 3 5-6-1-4 4 0-5zM2261 2425l5-3 1-5 4 4 5-1-3 5 3 4-5-1-4 4-1-5zM2204 2445l5-2 1-6 4 4 5-1-3 5 3 5-5-2-4 4-1-5zM2424 2375l5-2 1-6 4 4 5-1-3 5 3 5-5-2-4 4-1-5zM2545 2845l5-2 0-6 4 5 6-2-3 5 3 5-6-1-4 4 0-6zM2556 2834l5-2 0-5 4 4 5-1-3 4 3 5-5-1-4 4 0-5zM2347 2506l5-2 0-6 4 4 5-1-3 5 3 5-5-2-4 5 0-6zM2376 2420l5-3 0-5 4 4 6-1-3 5 3 4-6-1-4 4 0-5zM2683 2907l5-2 1-6 3 5 6-2-3 5 3 5-6-1-3 4-1-6zM2758 2854l5-2 0-6 4 4 5-1-3 5 3 5-5-2-4 5 0-6zM2783 2836l5-2 0-6 4 4 5-1-3 5 3 5-5-2-4 5 0-6zM2570 2995l5-2 1-6 4 4 5-1-3 5 3 5-5-2-4 5-1-6zM2556 2989l6-2 0-6 4 4 5-1-3 5 3 5-5-2-4 5 0-6zM2379 2446l5-2 1-6 3 4 6-1-3 5 3 5-6-2-3 5-1-6zM2430 2986l5-2 1-6 3 5 6-2-3 5 3 5-6-1-3 4-1-6zM2608 2822l5-2 1-5 3 4 6-1-3 4 3 5-6-1-3 4-1-5z"/>
<path fill="#0097ff" d="M2439 2452l5-2 1-6 3 5 6-2-3 5 3 5-6-1-3 4-1-6zM2066 2546l5-2 0-6 4 4 6-1-3 5 3 5-6-2-4 5 0-6zM1931 2581l5-3 0-5 4 4 6-1-3 5 3 4-6-1-4 4 0-5zM2759 3562l5-2 1-6 3 4 6-1-3 5 3 5-6-2-3 5-1-6zM2748 3551l5-2 1-6 4 4 5-1-3 5 3 5-5-2-4 4-1-5zM2383 2353l5-2 1-5 4 4 5-1-3 4 3 5-5-1-4 4-1-5zM2369 2359l5-2 1-6 3 4 6-1-3 5 3 5-6-2-3 5-1-6zM2241 2408l6-2 0-6 4 4 5-1-3 5 3 5-5-1-4 4 0-6zM1933 2555l5-2 1-6 3 4 6-1-3 5 3 5-6-2-3 5-1-6zM2775 2883l5-2 1-6 4 5 5-2-3 5 3 5-5-1-4 4-1-6zM2582 2839l5-3 1-5 3 4 6-1-3 5 3 4-6-1-3 4-1-5zM2376 2384l5-2 0-6 4 5 6-2-3 5 3 5-6-1-4 4 0-6zM2247 2430l5-3 1-5 3 4 6-1-3 5 3 4-6-1-3 4-1-5zM2219 2440l5-3 0-5 4 4 5-1-3 5 3 4-5-1-4 4 0-5zM2176 2455l5-2 1-6 3 4 6-1-3 5 3 5-6-2-3 5-1-6zM2147 2465l6-2 0-6 4 4 5-1-3 5 3 5-5-2-4 5 0-6zM2682 3075l5-2 0-6 4 5 6-2-3 5 3 5-6-1-4 4 0-6zM2559 3016l5-2 0-6 4 4 6-1-3 5 3 5-6-2-4 5 0-6zM2531 3003l6-2 0-6 4 4 5-1-3 5 3 5-5-2-4 5 0-6zM2395 2385l6-3 0-5 4 4 5-1-3 5 3 4-5-1-4 4 0-5zM2195 2453l5-2 0-5 4 4 6-1-3 4 3 5-6-1-4 4 0-5zM2181 2458l5-2 0-5 4 4 5-1-3 4 3 5-5-1-4 4 0-5zM2166 2463l6-2 0-5 4 4 5-1-3 4 3 5-5-1-4 4 0-5zM2138 2473l5-2 1-6 3 5 6-2-3 5 3 5-6-1-3 4-1-6zM2491 2898l5-2 1-6 3 5 6-2-3 5 3 5-6-1-3 4-1-6zM2502 2888l5-3 0-5 4 4 6-1-3 5 3 4-6-1-4 4 0-5zM2513 2877l5-2 0-6 4 4 5-1-3 5 3 5-5-2-4 5 0-6zM2534 2856l5-2 1-6 3 4 6-1-3 5 3 5-6-2-3 4-1-5zM2841 2848l5-2 1-5 3 4 6-1-3 4 3 5-6-1-3 4-1-5zM2356 2477l6-2 0-6 4 5 5-2-3 5 3 5-5-1-4 4 0-6zM2390 2376l6-2 0-5 4 4 5-1-3 4 3 5-5-1-4 4 0-5zM2400 2347l5-2 1-5 3 4 6-1-3 4 3 5-6-1-3 4-1-5zM2658 2925l5-2 1-6 4 4 5-1-3 5 3 5-5-2-4 5-1-6zM2745 2863l5-2 1-6 3 4 6-1-3 5 3 5-6-2-3 4-1-5zM2770 2845l5-2 1-6 3 4 6-1-3 5 3 5-6-2-3 5-1-6zM2673 2945l5-2 0-6 4 5 6-2-3 5 3 5-6-1-4 4 0-6zM2002 2551l5-2 1-6 3 4 6-1-3 5 3 5-6-2-3 5-1-6zM2595 3265l5-2 1-6 3 4 6-1-3 5 3 5-6-2-3 5-1-6zM2463 2956l6-2 0-6 4 4 5-1-3 5 3 5-5-2-4 5 0-6zM2486 2935l5-2 0-5 4 4 5-1-3 4 3 5-5-1-4 4 0-5zM2586 2843l5-2 0-6 4 5 5-2-2 5 2 5-5-1-4 4 0-6zM2619 2812l5-2 1-6 3 5 6-2-3 5 3 5-6-1-3 4-1-6z"/>
<path fill="#00aeff" d="M2454 2449l5-3 0-5 4 4 6-1-3 5 3 4-6-1-4 4 0-5zM2409 2459l6-2 0-5 4 4 5-1-3 4 3 5-5-1-4 4 0-5zM2131 2529l5-2 1-6 4 5 5-2-3 5 3 5-5-1-4 4-1-6zM2100 2537l5-2 0-6 4 5 6-2-3 5 3 5-6-1-4 4 0-6zM2083 2541l5-2 0-5 4 4 6-1-3 4 3 5-6-1-4 4 0-5zM2049 2550l5-2 1-6 3 5 6-2-3 5 3 5-6-1-3 4-1-6zM2032 2554l5-2 1-5 3 4 6-1-3 4 3 5-6-1-3 4-1-5zM2015 2559l5-2 1-6 3 4 6-1-3 5 3 5-6-2-3 5-1-6zM1998 2563l5-2 1-6 4 5 5-2-3 5 3 5-5-1-4 4-1-6zM1981 2568l6-3 0-5 4 4 5-1-3 5 3 4-5-1-4 4 0-5zM1964 2572l6-2 0-6 4 4 5-1-3 5 3 5-5-2-4 5 0-6zM2244 2703l5-2 0-6 4 4 6-1-3 5 3 5-6-2-4 5 0-6zM2248 2686l6-2 0-6 4 4 5-1-3 5 3 5-5-2-4 5 0-6zM2739 3114l5-3 0-5 4 4 5-1-2 5 2 4-5-1-4 4 0-5zM2053 2503l5-2 1-6 4 5 5-2-3 5 3 5-5-1-4 4-1-6zM2051 2486l5-2 1-6 3 4 6-1-3 5 3 5-6-2-3 5-1-6zM2455 2326l5-2 0-6 4 5 5-2-3 5 3 5-5-1-4 4 0-6zM2412 2343l5-3 0-5 4 4 5-1-2 5 2 4-5-1-4 4 0-5zM1915 2536l5-2 1-6 3 5 6-2-3 5 3 5-6-1-3 4-1-6zM1899 2542l5-2 1-5 3 4 6-1-3 4 3 5-6-1-3 4-1-5zM1926 2539l5-2 1-6 3 4 6-1-3 5 3 5-6-2-3 5-1-6zM1919 2523l5-2 1-6 4 4 5-1-3 5 3 5-5-2-4 5-1-6zM1912 2507l5-2 1-6 4 4 5-1-3 5 3 5-5-2-4 4-1-5zM2753 3103l5-2 1-5 3 4 6-1-3 4 3 5-6-1-3 4-1-5zM2767 3098l5-3 1-5 3 4 6-1-3 5 3 4-6-1-3 4-1-5zM2820 2894l5-3 1-5 4 4 5-1-3 5 3 4-5-1-4 4-1-5zM2805 2890l5-2 1-6 4 5 5-2-3 5 3 5-5-1-4 4-1-6zM2790 2887l5-3 1-5 4 4 5-1-3 5 3 4-5-1-4 4-1-5zM2553 2832l5-2 0-6 4 4 5-1-3 5 3 5-5-2-4 5 0-6zM2405 2374l5-2 0-6 4 5 5-2-3 5 3 5-5-1-4 4 0-6zM2390 2379l5-2 1-6 3 5 6-2-3 5 3 5-6-1-3 4-1-6zM2347 2394l5-2 1-5 3 4 6-1-3 4 3 5-6-1-3 4-1-5zM2333 2399l5-2 0-5 4 4 6-1-3 4 3 5-6-1-4 4 0-5zM2318 2404l6-2 0-5 4 4 5-1-3 4 3 5-5-1-4 4 0-5zM2276 2419l5-2 0-5 4 4 5-1-3 4 3 5-5-1-4 4 0-5zM2233 2435l5-3 0-5 4 4 6-1-3 5 3 4-6-1-4 4 0-5zM2190 2450l5-2 1-6 3 4 6-1-3 5 3 5-6-2-3 5-1-6zM2162 2460l5-2 0-6 4 4 6-1-3 5 3 5-6-2-4 5 0-6zM2545 3009l5-2 1-5 3 4 6-1-3 4 3 5-6-1-3 4-1-5zM2491 2983l5-2 0-5 4 4 5-2-2 5 2 5-5-1-4 4 0-6zM2410 2380l5-3 0-5 4 4 6-1-3 5 3 4-6-1-4 4 0-5zM2381 2389l5-2 1-5 3 4 6-1-3 4 3 5-6-1-3 4-1-5zM2599 2792l5-2 0-6 4 4 6-1-3 5 3 5-6-2-4 4 0-5zM2472 2564l5-3 1-5 3 4 6-1-3 5 3 4-6-1-3 4-1-5zM2427 2568l5-2 0-5 4 4 6-1-3 4 3 5-6-1-4 4 0-5zM2856 2851l5-2 1-6 3 5 6-2-3 5 3 5-6-1-3 4-1-6zM2826 2846l5-3 0-5 4 4 6-1-3 5 3 4-6-1-4 4 0-5zM2337 2534l5-2 0-5 4 4 6-1-3 4 3 5-6-1-4 4 0-5zM2395 2362l5-2 1-6 4 4 5-1-3 5 3 5-5-2-4 5-1-6zM2671 2916l5-2 0-6 4 4 5-1-3 5 3 5-5-2-4 5 0-6zM2695 2898l6-2 0-6 4 5 5-2-3 5 3 5-5-1-4 4 0-6zM2708 2889l5-2 0-5 4 4 6-1-3 4 3 5-6-1-4 4 0-5zM2720 2880l5-2 1-5 4 4 5-1-3 4 3 5-5-1-4 4-1-5zM2789 2984l5-2 0-6 4 4 6-1-3 5 3 5-6-2-4 5 0-6zM2716 2960l5-3 1-5 3 4 6-1-3 5 3 4-6-1-3 4-1-5zM2702 2955l5-2 0-6 4 4 6-1-3 5 3 5-6-2-4 5 0-6zM2658 2940l5-2 1-5 4 4 5-1-3 4 3 5-5-1-4 4-1-5zM2629 2931l6-2 0-6 4 4 5-1-3 5 3 5-5-2-4 5 0-6zM2615 2926l5-2 1-6 3 5 6-2-3 5 3 5-6-1-3 4-1-6zM2737 3069l5-2 1-6 3 5 6-2-3 5 3 5-6-1-3 4-1-6zM2529 2977l5-3 0-5 4 4 6-1-3 5 3 4-6-1-4 4 0-5zM2515 2970l5-2 1-5 3 4 6-1-3 4 3 5-6-1-3 4-1-5zM2408 2438l5-2 1-6 4 4 5-1-3 5 3 5-5-2-4 5-1-6zM2364 2450l5-2 1-6 4 4 5-1-3 5 3 5-5-2-4 5-1-6zM2019 2546l5-2 0-6 4 5 6-2-3 5 3 5-6-1-4 4 0-6zM1985 2556l5-2 1-6 3 4 6-1-3 5 3 5-6-2-3 5-1-6zM1935 2570l5-2 1-6 3 5 6-2-3 5 3 5-6-1-3 4-1-6zM2618 3284l5-2 1-6 4 5 5-2-3 5 3 5-5-1-4 4-1-6zM2452 2966l5-2 1-6 4 4 5-1-3 5 3 5-5-2-4 5-1-6zM2474 2946l6-3 0-5 4 4 5-1-3 5 3 4-5-1-4 4 0-5zM2519 2905l5-2 1-6 3 4 6-1-3 5 3 5-6-2-3 5-1-6zM2530 2894l5-2 1-5 3 4 6-1-3 4 3 5-6-1-3 4-1-5zM2541 2884l5-2 1-6 3 5 6-2-3 5 3 5-6-1-3 4-1-6zM2552 2874l5-2 1-6 4 4 5-1-3 5 3 5-5-2-4 5-1-6zM2563 2864l6-2 0-6 4 4 5-1-3 5 3 4-5-1-4 4 0-5z"/>
<path fill="#00c5ff" d="M2622 2776l5-2 1-6 3 4 6-1-3 5 3 5-6-2-3 5-1-6zM2633 2765l5-2 1-6 3 5 6-2-3 5 3 5-6-1-3 4-1-6zM2644 2754l5-2 0-5 4 4 6-1-3 4 3 5-6-1-4 4 0-5zM2424 2456l5-2 1-6 3 4 6-1-3 5 3 5-6-2-3 5-1-6zM2395 2463l5-2 0-6 4 5 5-2-2 5 2 5-5-1-4 4 0-6zM2380 2467l5-2 1-6 3 4 6-1-3 5 3 5-6-2-3 5-1-6zM2365 2470l5-2 1-5 4 4 5-1-3 4 3 5-5-1-4 4-1-5zM2350 2474l6-2 0-6 4 4 5-1-3 5 3 5-5-1-4 4 0-6zM2626 3160l5-2 1-5 3 4 6-1-3 4 3 5-6-1-3 4-1-5zM2682 3137l6-2 0-6 4 5 5-2-3 5 3 5-5-1-4 4 0-6zM2696 3131l6-2 0-6 4 5 5-2-3 5 3 5-5-1-4 4 0-6zM2100 2883l5-2 0-5 4 4 5-1-2 4 2 5-5-1-4 4 0-5zM2098 2866l5-2 0-6 4 5 5-2-2 5 2 5-5-1-4 4 0-6zM2096 2849l5-2 0-6 4 4 5-1-2 5 2 5-5-2-4 5 0-6zM2738 3540l5-3 0-5 4 4 6-1-3 5 3 4-6-1-4 4 0-5zM2717 3517l5-2 0-6 4 5 5-2-3 5 3 5-5-1-4 4 0-6zM2086 2871l6-2 0-6 4 4 5-1-3 5 3 5-5-2-4 5 0-6zM2426 2337l5-2 1-6 3 5 6-2-3 5 3 5-6-1-3 4-1-6zM2397 2348l6-2 0-6 4 5 5-2-3 5 3 5-5-1-4 4 0-6zM2341 2370l5-2 0-6 4 4 5-1-3 5 3 5-5-2-4 5 0-6zM2312 2381l5-2 1-6 3 4 6-1-3 5 3 5-6-2-3 5-1-6zM2298 2386l5-2 1-6 3 5 6-2-3 5 3 5-6-1-3 4-1-6zM2256 2403l5-3 0-5 4 4 5-1-3 5 3 4-5-1-4 4 0-5zM1931 2530l6-3 0-5 4 4 5-1-3 5 3 4-5-1-4 4 0-5zM2739 3109l5-2 0-5 4 4 6-1-3 4 3 5-6-1-4 4 0-5zM2795 3086l5-3 1-5 4 4 5-1-3 5 3 4-5-1-4 4-1-5zM2809 3080l6-3 0-5 4 4 5-1-3 5 3 4-5-1-4 4 0-5zM2838 3068l5-3 0-5 4 4 5-1-2 5 2 4-5-1-4 4 0-5zM2523 2825l5-2 1-6 3 5 6-2-3 5 3 5-6-1-3 4-1-6zM2361 2389l6-2 0-5 4 4 5-2-3 5 3 5-5-1-4 4 0-6zM2861 3163l5-3 0-5 4 4 6-1-3 5 3 4-6-1-4 4 0-5zM2518 2996l5-2 1-5 3 4 6-2-3 5 3 5-6-1-3 4-1-6zM2266 2429l5-2 1-6 3 4 6-1-3 5 3 5-6-2-3 5-1-6zM2238 2439l5-3 0-5 4 4 5-1-3 5 3 4-5-1-4 4 0-5zM2470 2919l5-2 0-6 4 5 5-2-3 5 3 5-5-1-4 4 0-6zM2588 2802l5-2 1-5 3 4 6-1-3 4 3 5-6-1-3 4-1-5zM2620 2770l5-2 1-6 4 5 5-2-3 5 3 5-5-1-4 4-1-6zM2532 2557l6-2 0-5 4 4 5-2-3 5 3 5-5-1-4 4 0-6zM2457 2565l5-2 1-6 3 5 6-2-3 5 3 5-6-1-3 4-1-6zM2412 2570l5-2 0-6 4 5 5-2-2 5 2 5-5-1-4 4 0-6zM2367 2575l5-2 0-6 4 4 5-1-3 5 3 5-5-2-4 5 0-6zM2811 2843l5-2 0-6 4 4 5-1-3 5 3 5-5-2-4 5 0-6zM2387 3116l5-2 0-6 4 5 5-2-2 5 2 5-5-1-4 4 0-6zM2399 3108l5-3 1-5 3 4 6-1-3 5 3 4-6-1-3 4-1-5zM2633 2942l6-2 0-5 4 4 5-1-3 4 3 5-5-1-4 4 0-5zM2651 2896l5-2 0-6 4 4 6-1-3 5 3 5-6-2-4 5 0-6zM2803 2989l6-3 0-5 4 4 5-1-3 5 3 4-5-1-4 4 0-5zM2774 2979l5-2 1-6 4 4 5-1-3 5 3 5-5-2-4 5-1-6zM2760 2974l5-2 0-6 4 5 6-2-3 5 3 5-6-1-4 4 0-6zM2745 2969l5-2 1-6 4 5 5-2-3 5 3 5-5-1-4 4-1-6zM2731 2964l5-2 0-5 4 4 5-1-2 4 2 5-5-1-4 4 0-5zM2687 2950l5-2 1-6 4 4 5-1-3 5 3 5-5-1-4 4-1-6zM2644 2936l5-2 0-6 4 4 6-1-3 5 3 5-6-2-4 5 0-6zM2601 2921l5-2 0-5 4 4 5-1-3 4 3 5-5-1-4 4 0-5zM2723 3063l5-2 1-6 3 4 6-1-3 5 3 5-6-2-3 5-1-6zM2695 3050l5-2 1-5 3 4 6-1-3 4 3 5-6-1-3 4-1-5zM2543 2983l5-3 0-5 4 4 5-1-3 5 3 4-5-1-4 4 0-5zM2487 2958l5-2 1-5 4 4 5-2-3 5 3 5-5-1-4 4-1-6zM2423 2434l5-2 1-6 3 4 6-1-3 5 3 5-6-2-3 5-1-6zM2394 2442l5-2 0-6 4 4 5-1-3 5 3 5-5-2-4 5 0-6zM2350 2454l5-2 0-6 4 4 5-1-2 5 2 5-5-2-4 5 0-6zM2335 2458l5-2 1-6 3 4 6-1-3 5 3 5-6-2-3 5-1-6zM2642 3304l5-2 0-6 4 4 5-1-2 5 2 5-5-2-4 4 0-5zM2630 3294l5-2 1-6 3 4 6-1-3 5 3 5-6-2-3 5-1-6zM2607 3275l5-3 0-5 4 4 5-1-3 5 3 4-5-1-4 4 0-5zM2419 2996l5-2 1-5 3 4 6-1-3 4 3 5-6-1-3 4-1-5zM2441 2976l5-2 1-6 4 5 5-2-3 5 3 5-5-1-4 4-1-6zM2508 2915l5-2 0-6 4 4 6-1-3 5 3 5-6-2-4 5 0-6zM2630 2802l5-2 1-6 4 4 5-1-3 5 3 5-5-2-4 5-1-6z"/>
<path fill="#00ddff" d="M2321 2481l5-2 1-6 3 5 6-2-3 5 3 5-6-1-3 4-1-6zM1948 2576l5-2 0-6 4 5 5-2-3 5 3 5-5-1-4 4 0-6zM2234 2736l5-2 1-5 4 4 5-1-3 4 3 5-5-1-4 4-1-5zM2239 2720l5-3 1-5 3 4 6-1-3 5 3 4-6-1-3 4-1-5zM2257 2655l5-3 1-5 3 4 6-1-3 5 3 4-6-1-3 4-1-5zM2289 2539l5-3 1-5 3 4 6-1-3 5 3 4-6-1-3 4-1-5zM2612 3166l5-2 1-6 3 5 6-2-3 5 3 5-6-1-3 4-1-6zM2654 3149l5-2 1-6 4 4 5-1-3 5 3 5-5-2-4 5-1-6zM2668 3143l5-2 1-6 4 4 5-1-3 5 3 5-5-2-4 5-1-6zM2767 3102l5-2 1-6 3 4 6-1-3 5 3 5-6-2-3 5-1-6zM2701 2931l5-2 0-6 4 4 6-1-3 5 3 5-6-2-4 5 0-6zM2727 3528l5-2 1-5 3 4 6-1-3 4 3 5-6-1-3 4-1-5zM2495 3287l5-2 1-6 4 4 5-1-3 5 3 5-5-2-4 5-1-6zM2485 3276l5-2 0-6 4 4 6-1-3 5 3 5-6-2-4 5 0-6zM2099 2883l5-2 0-6 4 4 5-1-3 5 3 5-5-1-4 4 0-6zM1988 2773l5-2 1-6 3 4 6-1-3 5 3 5-6-2-3 4-1-5zM1964 2748l5-2 0-6 4 5 5-2-3 5 3 5-5-1-4 4 0-6zM2284 2392l5-3 1-5 3 4 6-1-3 5 3 4-6-1-3 4-1-5zM2270 2397l5-2 0-6 4 5 6-2-3 5 3 5-6-1-4 4 0-6zM2865 2904l5-2 1-6 3 5 6-2-3 5 3 5-6-1-3 4-1-6zM2538 2828l5-2 0-5 4 4 6-1-3 4 3 5-6-1-4 4 0-5zM2433 2364l6-2 0-6 4 5 5-2-3 5 3 5-5-1-4 4 0-6zM2419 2369l5-2 1-6 3 5 6-2-3 5 3 5-6-1-3 4-1-6zM1974 2588l5-2 0-6 4 5 5-2-3 5 3 5-5-1-4 4 0-6zM2875 3169l5-2 0-5 4 4 5-1-3 4 3 5-5-1-4 4 0-5zM2847 3156l5-2 1-6 3 4 6-1-3 5 3 5-6-2-3 5-1-6zM2709 3089l5-3 1-5 4 4 5-1-3 5 3 4-5-1-4 4-1-5zM2504 2990l5-2 1-6 4 4 5-1-3 5 3 5-5-2-4 5-1-6zM2625 3264l5-3 1-5 3 4 6-1-3 5 3 4-6-1-3 4-1-5zM2640 3260l5-3 0-5 4 4 5-1-3 5 3 4-5-1-4 4 0-5zM2654 3255l5-2 1-5 4 4 5-1-3 4 3 5-5-1-4 4-1-5zM2683 3247l6-2 0-6 4 4 5-1-3 5 3 5-5-1-4 4 0-6zM2698 3243l5-2 1-6 3 4 6-1-3 5 3 5-6-2-3 5-1-6zM2367 2394l5-2 0-5 4 4 5-1-3 4 3 5-5-1-4 4 0-5zM2152 2468l5-2 1-5 3 4 6-2-3 5 3 5-6-1-3 4-1-6zM2459 2930l5-2 0-6 4 4 6-1-3 5 3 5-6-2-4 5 0-6zM2480 2909l5-2 1-6 4 4 5-1-3 5 3 5-5-2-4 5-1-6zM2609 2781l6-2 0-6 4 4 5-1-3 5 3 5-5-1-4 4 0-6zM2642 2749l5-2 1-6 3 4 6-1-3 5 3 5-6-2-3 5-1-6zM2487 2562l5-2 1-6 3 5 6-2-3 5 3 5-6-1-3 4-1-6zM2442 2567l5-2 0-6 4 4 6-1-3 5 3 5-6-2-4 5 0-6zM2397 2572l5-2 0-6 4 4 5-1-3 5 3 5-5-2-4 5 0-6zM2262 2586l5-2 0-5 4 4 5-1-2 4 2 5-5-1-4 4 0-5zM2247 2588l5-2 0-6 4 5 6-2-3 5 3 5-6-1-4 4 0-6zM2795 2840l6-2 0-6 4 4 5-1-3 5 3 5-5-2-4 5 0-6zM2780 2837l6-2 0-6 4 5 5-2-3 5 3 5-5-1-4 4 0-6zM2332 2549l5-3 1-5 3 4 6-1-3 5 3 4-6-1-3 4-1-5zM2405 2333l5-2 1-6 3 4 6-1-3 5 3 5-6-1-3 4-1-6zM2411 3099l5-2 1-6 4 5 5-2-3 5 3 5-5-1-4 4-1-6zM2559 2995l5-2 1-6 4 4 5-1-3 5 3 5-5-1-4 4-1-6zM2646 2934l5-3 0-5 4 4 6-1-3 5 3 4-6-1-4 4 0-5zM2665 2900l6-2 0-6 4 4 5-1-3 5 3 5-5-2-4 5 0-6zM2636 2892l5-3 1-5 3 4 6-1-3 5 3 4-6-1-3 4-1-5zM2876 3013l5-2 1-6 4 4 5-1-3 5 3 5-5-1-4 4-1-6zM2586 2917l5-2 1-6 3 4 6-1-3 5 3 5-6-2-3 5-1-6zM2572 2912l5-2 0-6 4 5 6-2-3 5 3 5-6-1-4 4 0-6zM2779 3088l5-2 0-6 4 4 6-1-3 5 3 5-6-2-4 5 0-6zM2765 3082l5-3 0-5 4 4 6-1-3 5 3 4-6-1-4 4 0-5zM2751 3075l5-2 1-5 3 4 6-1-3 4 3 5-6-1-3 4-1-5zM2709 3057l5-3 1-5 3 4 6-1-3 5 3 4-6-1-3 4-1-5zM2501 2964l5-2 1-5 3 4 6-1-3 4 3 5-6-1-3 4-1-5zM2460 2946l5-2 0-6 4 5 5-2-2 5 2 5-5-1-4 4 0-6zM2320 2462l6-2 0-6 4 4 5-1-3 5 3 5-5-2-4 5 0-6zM2052 2537l5-3 1-5 4 4 5-1-3 5 3 4-5-1-4 4-1-5zM2035 2541l6-2 0-5 4 4 5-1-3 4 3 5-5-1-4 4 0-5zM1918 2575l5-2 1-6 3 4 6-1-3 5 3 5-6-2-3 5-1-6zM2572 3245l5-2 0-5 4 4 5-1-2 4 2 5-5-1-4 4 0-5zM2548 3226l6-2 0-6 4 5 5-2-3 5 3 5-5-1-4 4 0-6zM2213 3013l5-2 1-6 3 4 6-1-3 5 3 5-6-2-3 5-1-6zM2221 2997l5-2 1-5 4 4 5-1-3 4 3 5-5-1-4 4-1-5zM2321 3086l5-3 1-5 3 4 6-1-3 5 3 4-6-1-3 4-1-5zM2408 3007l5-3 1-5 3 4 6-1-3 5 3 4-6-1-3 4-1-5zM2497 2925l5-2 0-6 4 5 6-2-3 5 3 5-6-1-4 4 0-6zM2653 2781l5-2 0-6 4 5 5-2-3 5 3 5-5-1-4 4 0-6z"/>
<path fill="#00f4ff" d="M2468 2445l6-2 0-6 4 4 5-1-3 5 3 5-5-2-4 5 0-6zM2336 2478l5-3 0-5 4 4 6-1-3 5 3 4-6-1-4 4 0-5zM2306 2485l6-2 0-6 4 4 5-1-3 5 3 5-5-2-4 5 0-6zM2292 2489l5-3 0-5 4 4 6-1-3 5 3 4-6-1-4 4 0-5zM2204 2511l5-3 1-5 3 4 6-1-3 5 3 4-6-1-3 4-1-5zM1905 2569l5-2 1-5 3 4 6-1-3 4 3 5-6-1-3 4-1-5zM2253 2669l5-2 1-6 3 5 6-2-3 5 3 5-6-1-3 4-1-6zM2261 2640l5-2 1-6 3 5 6-2-3 5 3 5-6-1-3 4-1-6zM2269 2611l5-2 1-6 3 5 6-2-3 5 3 5-6-1-3 4-1-6zM2297 2509l5-2 1-5 3 4 6-1-3 4 3 5-6-1-3 4-1-5zM2305 2480l5-2 1-5 3 4 6-1-3 4 3 5-6-1-3 4-1-6zM2584 3178l5-2 1-6 3 4 6-1-3 5 3 5-6-2-3 5-1-6zM2640 3155l5-3 1-5 4 4 5-1-3 5 3 4-5-1-4 4-1-5zM2710 3125l6-2 0-5 4 4 5-1-3 4 3 5-5-1-4 4 0-5zM2725 3120l5-3 0-5 4 4 5-1-3 5 3 4-5-1-4 4 0-5zM2753 3108l5-2 0-6 4 4 6-1-3 5 3 5-6-2-4 5 0-6zM2688 2939l5-2 1-6 3 5 6-2-3 5 3 5-6-1-3 4-1-6zM2106 2935l5-2 0-6 4 5 6-2-3 5 3 5-6-1-4 4 0-6zM2104 2918l5-2 0-6 4 4 6-1-3 5 3 5-6-2-4 5 0-6zM2102 2901l5-3 0-5 4 4 6-1-3 5 3 4-6-1-4 4 0-5zM2094 2832l5-2 0-6 4 4 5-1-3 5 3 4-5-1-4 4 0-5zM2769 3573l6-2 0-6 4 5 5-2-3 5 3 5-5-1-4 4 0-6zM2706 3506l5-2 1-6 3 5 6-2-3 5 3 5-6-1-3 4-1-6zM2695 3495l6-2 0-6 4 5 5-2-3 5 3 5-5-1-4 4 0-6zM2474 3265l5-2 1-6 4 5 5-2-3 5 3 5-5-1-4 4-1-6zM1976 2760l5-2 0-5 4 4 6-1-3 4 3 5-6-1-4 4 0-5zM2355 2364l5-2 0-5 4 4 6-1-3 4 3 5-6-1-4 4 0-5zM2326 2375l6-2 0-6 4 5 5-2-3 5 3 5-5-1-4 4 0-6zM2227 2413l6-2 0-5 4 4 5-1-3 4 3 5-5-1-4 4 0-5zM2213 2419l5-2 1-6 4 4 5-1-3 5 3 5-5-2-4 5-1-6zM2457 3124l5-2 1-6 4 5 5-2-3 5 3 5-5-1-4 4-1-6zM2409 3088l6-3 0-5 4 4 5-1-3 5 3 4-5-1-4 4 0-5zM2725 3115l5-2 0-5 4 4 6-1-3 4 3 5-6-1-4 4 0-5zM2823 3074l6-3 0-5 4 4 5-1-3 5 3 4-5-1-4 4 0-5zM2852 3062l5-3 0-5 4 4 6-1-3 5 3 4-6-1-4 4 0-5zM2850 2901l5-3 1-5 3 4 6-1-3 5 3 4-6-1-3 4-1-5zM2835 2897l5-2 1-6 3 5 6-2-3 5 3 5-6-1-3 4-1-6zM2462 2354l5-2 1-6 4 5 5-2-3 5 3 5-5-1-4 4-1-6zM1968 2572l5-2 0-6 4 4 6-1-3 5 3 5-6-2-4 5 0-6zM2833 3149l5-2 1-6 3 4 6-1-3 5 3 5-6-2-3 5-1-6zM2819 3142l6-2 0-6 4 5 5-2-3 5 3 5-5-1-4 4 0-6zM2806 3135l5-2 0-5 4 4 5-1-3 4 3 5-5-1-4 4 0-5zM2695 3082l6-2 0-6 4 4 5-1-3 5 3 5-5-2-4 5 0-6zM2463 2970l6-2 0-5 4 4 5-1-3 4 3 5-5-1-4 4 0-6zM2450 2964l5-2 1-6 3 4 6-1-3 5 3 5-6-2-3 5-1-6zM2436 2957l5-2 1-5 4 4 5-1-3 4 3 5-5-1-4 4-1-5zM1974 2741l5-2 1-6 3 5 6-2-3 5 3 5-6-1-3 4-1-6zM1958 2734l5-2 1-6 4 5 5-2-3 5 3 5-5-1-4 4-1-6zM2610 3268l6-2 0-6 4 4 5-1-3 5 3 5-5-2-4 5 0-6zM2669 3251l5-2 0-6 4 5 6-2-3 5 3 5-6-1-4 4 0-6zM2713 3239l5-3 0-5 4 4 6-1-3 5 3 4-6-1-4 4 0-5zM2223 2444l6-3 0-5 4 4 5-1-3 5 3 4-5-1-4 4 0-5zM2209 2449l5-3 1-5 3 4 6-1-3 5 3 4-6-1-3 4-1-5zM2631 2760l5-3 1-5 3 4 6-1-3 5 3 4-6-1-3 4-1-5zM2517 2559l5-2 1-6 4 4 5-1-3 5 3 5-5-2-4 5-1-6zM2502 2560l5-2 1-5 3 4 6-1-3 4 3 5-6-1-3 4-1-5zM2352 2577l5-3 0-5 4 4 5-1-3 5 3 4-5-1-4 4 0-5zM2307 2582l5-3 0-5 4 4 5-1-3 5 3 4-5-1-4 4 0-5zM2765 2834l6-2 0-6 4 5 5-2-3 5 3 5-5-1-4 4 0-6zM2555 2796l6-2 0-6 4 4 5-1-3 5 3 5-5-2-4 5 0-6zM2526 2791l5-3 0-5 4 4 5-1-3 5 3 4-5-1-4 4 0-5zM2342 2520l5-2 0-6 4 5 5-2-2 5 2 5-5-1-4 4 0-6zM2733 2872l5-3 0-5 4 4 6-1-3 5 3 4-6-1-4 4 0-5zM2621 2888l6-3 0-5 4 4 5-1-3 5 3 4-5-1-4 4 0-5zM2847 3003l5-2 1-6 3 5 6-2-3 5 3 5-6-1-3 4-1-6zM2832 2998l6-2 0-5 4 4 5-2-3 5 3 5-5-1-4 4 0-6zM2543 2903l5-3 1-5 3 4 6-1-3 5 3 4-6-1-3 4-1-5zM2508 2775l5-2 1-6 4 4 5-1-3 5 3 5-5-2-4 5-1-6zM2821 3107l5-2 0-6 4 4 6-1-3 5 3 5-6-2-4 5 0-6zM2473 2952l6-2 0-6 4 5 5-2-3 5 3 5-5-1-4 4 0-6zM1963 2733l5-2 1-6 4 4 5-1-3 5 3 5-5-2-4 5-1-6zM2452 2426l6-2 0-6 4 4 5-1-3 5 3 5-5-2-4 5 0-6zM2233 2486l5-2 1-6 3 4 6-1-3 5 3 5-6-2-3 5-1-6zM2069 2532l5-2 1-6 3 4 6-1-3 5 3 5-6-2-3 5-1-6zM2346 2705l6-2 0-6 4 5 5-2-3 5 3 5-5-1-4 4 0-6zM2287 2700l5-2 0-6 4 5 5-2-3 5 3 5-5-1-4 4 0-6zM2524 2422l5-3 0-5 4 4 6-1-3 5 3 4-6-1-4 4 0-5zM2641 2791l6-2 0-5 4 4 5-1-3 4 3 5-5-1-4 4 0-5zM2664 2771l5-3 0-5 4 4 6-1-3 5 3 4-6-1-4 4 0-5zM2277 2351l5-2 1-6 3 5 6-2-3 5 3 5-6-1-3 4-1-6z"/>
<path fill="#0cfff3" d="M2600 2797l6-2 0-6 4 5 5-2-3 5 3 5-5-1-4 4 0-6zM2498 2438l5-2 1-6 3 4 6-1-3 5 3 5-6-2-3 4-1-5zM2483 2441l6-2 0-5 4 4 5-2-3 5 3 5-5-1-4 4 0-6zM2219 2507l5-2 0-6 4 4 5-1-2 5 2 5-5-2-4 5 0-6zM2146 2525l5-2 0-5 4 4 6-1-3 4 3 5-6-1-4 4 0-5zM2654 3108l5-2 1-6 3 5 6-2-3 5 3 5-6-1-3 4-1-6zM2641 3101l5-2 0-6 4 4 6-1-3 5 3 5-6-2-4 5 0-6zM2614 3086l5-2 1-5 3 4 6-1-3 4 3 5-6-1-3 4-1-5zM2561 3058l5-3 0-5 4 4 6-1-3 5 3 4-6-1-4 4 0-5zM2265 2626l5-3 1-5 3 4 6-1-3 5 3 4-6-1-3 4-1-5zM2273 2597l5-3 1-5 3 4 6-1-3 5 3 4-6-1-3 4-1-5zM2277 2582l5-2 1-6 3 5 6-2-3 5 3 5-6-1-3 4-1-6zM2293 2524l5-2 1-6 3 5 6-2-3 5 3 5-6-1-3 4-1-6zM2309 2466l5-2 1-6 3 4 6-1-3 5 3 5-6-2-3 5-1-6zM2313 2451l5-2 1-6 3 5 6-2-3 5 3 5-6-1-3 4-1-6zM2317 2437l5-3 0-5 4 4 6-1-3 5 3 4-6-1-4 4 0-5zM2598 3172l5-2 1-6 3 4 6-1-3 5 3 5-6-1-3 4-1-6zM2464 3254l5-2 0-6 4 5 6-2-3 5 3 5-6-1-4 4 0-6zM2443 3233l5-3 0-5 4 4 6-1-3 5 3 4-6-1-4 4 0-5zM2422 3211l5-2 0-6 4 5 6-2-3 5 3 5-6-1-4 4 0-6zM2123 2908l5-3 1-5 3 4 6-1-3 5 3 4-6-1-3 4-1-5zM2147 2478l5-3 1-5 4 4 5-1-3 5 3 4-5-1-4 4-1-5zM2083 2906l5-2 0-6 4 5 6-2-3 5 3 5-6-1-4 4 0-6zM2445 3115l5-2 1-6 4 5 5-2-3 5 3 5-5-1-4 4-1-6zM2669 3139l5-2 0-6 4 5 5-2-3 5 3 5-5-1-4 4 0-6zM2866 3055l5-2 1-5 3 4 6-1-3 4 3 5-6-1-3 4-1-5zM2880 3049l5-2 1-5 3 4 6-1-3 4 3 5-6-1-3 4-1-5zM2399 2891l5-2 1-6 3 4 6-1-3 5 3 5-6-2-3 5-1-6zM2508 2822l5-2 1-6 4 4 5-1-3 5 3 5-5-2-4 5-1-6zM2494 2818l5-2 0-5 4 4 5-1-3 4 3 5-5-1-4 4 0-5zM2506 2339l5-2 0-6 4 5 5-2-2 5 2 5-5-1-4 4 0-6zM2491 2344l5-2 1-6 3 5 6-2-3 5 3 5-6-1-3 4-1-6zM2477 2349l5-2 0-6 4 5 5-2-2 5 2 5-5-1-4 4 0-6zM2805 3404l5-2 1-6 3 5 6-2-3 5 3 5-6-1-3 4-1-6zM2723 3095l5-2 1-6 3 5 6-2-3 5 3 5-6-1-3 4-1-6zM2477 2977l5-2 1-6 3 4 6-1-3 5 3 5-6-2-3 5-1-6zM2409 2944l5-2 1-5 3 4 6-1-3 4 3 5-6-1-3 4-1-5zM2596 3272l5-2 0-6 4 4 6-1-3 5 3 5-6-2-4 5 0-6zM2728 3234l5-2 0-5 4 4 5-1-3 4 3 5-5-1-4 4 0-5zM2772 3222l5-2 0-6 4 4 5-1-2 5 2 5-5-2-4 5 0-6zM2352 2399l5-2 1-6 4 5 5-2-3 5 3 5-5-1-4 4-1-6zM2338 2404l5-2 0-6 4 5 6-2-3 5 3 5-6-1-4 4 0-6zM2309 2414l5-2 1-6 3 4 6-1-3 5 3 5-6-1-3 4-1-6zM2295 2419l5-2 0-6 4 4 6-1-3 5 3 5-6-2-4 5 0-6zM2252 2434l5-2 1-6 3 4 6-1-3 5 3 5-6-2-3 5-1-6zM2427 2961l5-2 0-5 4 4 5-1-3 4 3 5-5-1-4 4 0-5zM2292 2583l5-2 0-6 4 5 5-2-3 5 3 5-5-1-4 4 0-6zM2750 2831l5-2 1-5 4 4 5-1-3 4 3 5-5-1-4 4-1-5zM2585 2801l5-2 1-6 4 5 5-2-3 5 3 5-5-1-4 4-1-6zM2570 2799l5-3 1-5 4 4 5-1-3 5 3 4-5-1-4 4-1-5zM2511 2788l5-2 0-6 4 4 5-1-2 5 2 5-5-2-4 5 0-6zM2481 2783l5-3 1-5 3 4 6-1-3 5 3 4-6-1-3 4-1-5zM2848 3344l5-3 1-5 3 4 6-1-3 5 3 4-6-1-3 4-1-5zM2410 2318l5-2 1-5 3 4 6-1-3 4 3 5-6-1-3 4-1-5zM2372 3126l6-2 0-6 4 5 5-2-3 5 3 5-5-1-4 4 0-6zM2424 3090l5-2 0-5 4 4 5-1-3 4 3 5-5-1-4 4 0-5zM2448 3073l5-2 1-6 4 5 5-2-3 5 3 5-5-1-4 4-1-6zM2522 3021l5-2 1-6 3 5 6-2-3 5 3 5-6-1-3 4-1-6zM2534 3012l6-2 0-5 4 4 5-1-3 4 3 5-5-1-4 4 0-5zM2547 3004l5-2 0-6 4 4 6-1-3 5 3 5-6-2-4 5 0-6zM2584 2978l5-3 1-5 3 4 6-1-3 5 3 4-6-1-3 4-1-5zM2621 2951l5-2 1-6 3 5 6-2-3 5 3 5-6-1-3 4-1-6zM2607 2884l5-3 0-5 4 4 6-1-3 5 3 4-6-1-4 4 0-5zM2592 2879l5-2 1-5 4 4 5-1-3 4 3 5-5-1-4 4-1-5zM2563 2871l5-2 1-5 3 4 6-1-3 4 3 5-6-1-3 4-1-5zM2862 3008l5-2 0-6 4 5 5-2-2 5 2 5-5-1-4 4 0-6zM2514 2893l5-2 1-5 4 4 5-2-3 5 3 5-5-1-4 4-1-6zM2489 2798l5-2 1-6 3 5 6-2-3 5 3 5-6-1-3 4-1-6zM2835 3113l5-2 0-6 4 5 6-2-3 5 3 5-6-1-4 4 0-6zM2793 3094l5-2 0-6 4 5 6-2-3 5 3 5-6-1-4 4 0-6zM1985 2481l5-2 1-5 4 4 5-1-3 4 3 5-5-1-4 4-1-5zM2597 3183l5-2 1-6 3 5 6-2-3 5 3 5-6-1-3 4-1-6zM2625 3172l5-2 1-6 3 5 6-2-3 5 3 5-6-1-3 4-1-6zM2653 3161l5-2 1-6 4 4 5-1-3 5 3 5-5-2-4 5-1-6zM2767 3115l5-2 0-6 4 5 5-2-3 5 3 5-5-1-4 4 0-6zM2438 2430l5-2 0-6 4 4 5-1-2 5 2 5-5-2-4 5 0-6zM2306 2466l5-2 1-6 3 4 6-1-3 5 3 5-6-2-3 5-1-6zM2291 2470l5-2 1-6 4 4 5-1-3 5 3 5-5-2-4 5-1-6zM2277 2474l5-2 0-6 4 4 6-1-3 5 3 5-6-2-4 5 0-6zM2653 3313l6-2 0-5 4 4 5-1-3 4 3 5-5-1-4 4 0-5zM2583 3255l5-2 1-6 4 5 5-2-3 5 3 5-5-1-4 4-1-6zM2316 2703l6-2 0-6 4 4 5-1-3 5 3 5-5-2-4 5 0-6zM2302 2702l5-3 0-5 4 4 5-1-3 5 3 4-5-1-4 4 0-5zM2229 2982l6-2 0-6 4 5 5-2-3 5 3 5-5-1-4 4 0-6zM2517 2435l5-2 0-6 4 5 6-2-3 5 3 5-6-1-4 4 0-6zM2334 3074l5-2 1-6 3 4 6-1-3 5 3 5-6-2-3 5-1-6zM2360 3050l5-2 1-5 3 4 6-1-3 4 3 5-6-1-3 4-1-5zM2397 3017l5-3 0-5 4 4 6-1-3 5 3 4-6-1-4 4 0-5zM2715 2933l5-2 1-6 3 5 6-2-3 5 3 5-6-1-3 4-1-6zM2333 2327l5-2 0-6 4 4 5-1-2 5 2 5-5-2-4 4 0-5z"/>
<path fill="#23ffdc" d="M2711 3568l6-2 0-6 4 5 5-2-3 5 3 5-5-1-4 4 0-6zM2470 2924l6-2 0-6 4 4 5-1-3 5 3 5-5-2-4 5 0-6zM2579 2818l5-2 0-5 4 4 6-1-3 4 3 5-6-1-4 4 0-6zM2590 2808l5-2 0-6 4 4 5-1-3 5 3 5-5-2-4 5 0-6zM2077 2476l5-2 1-5 4 4 5-2-3 5 3 5-5-1-4 4-1-6zM2049 2487l5-2 1-6 4 5 5-2-3 5 3 5-5-1-4 4-1-6zM2000 2506l5-2 1-6 4 4 5-1-3 5 3 5-5-1-4 4-1-6zM2277 2492l5-2 1-6 3 5 6-2-3 5 3 5-6-1-3 4-1-6zM2262 2496l6-2 0-6 4 4 5-1-3 5 3 5-5-2-4 5 0-6zM2233 2503l5-2 1-6 4 5 5-2-3 5 3 5-5-1-4 4-1-6zM2175 2518l5-2 1-6 3 4 6-1-3 5 3 5-6-1-3 4-1-6zM2160 2522l5-2 1-6 4 4 5-1-3 5 3 5-5-2-4 4-1-5zM2435 2407l5-3 1-5 4 4 5-1-3 5 3 4-5-1-4 4-1-5zM2005 2538l5-2 1-6 3 5 6-2-3 5 3 5-6-1-3 4-1-6zM1938 2559l6-2 0-6 4 4 5-1-3 5 3 5-5-2-4 5 0-6zM2098 2840l5-2 0-5 4 4 5-1-2 4 2 5-5-1-4 4 0-5zM2708 3137l5-2 0-5 4 4 5-1-3 4 3 5-5-1-4 4 0-5zM2694 3130l5-2 1-6 4 5 5-2-3 5 3 5-5-1-4 4-1-6zM2681 3123l5-2 0-6 4 4 6-1-3 5 3 5-6-2-4 5 0-6zM2667 3115l6-2 0-5 4 4 5-1-3 4 3 5-5-1-4 4 0-5zM2627 3094l6-3 0-5 4 4 5-1-3 5 3 4-5-1-4 4 0-5zM2601 3079l5-2 0-6 4 5 6-2-3 5 3 5-6-1-4 4 0-6zM2587 3072l6-2 0-6 4 4 5-1-3 5 3 5-5-2-4 5 0-6zM2574 3065l5-2 1-6 3 4 6-1-3 5 3 5-6-2-3 5-1-6zM2508 3029l5-2 0-6 4 4 5-1-3 5 3 5-5-2-4 5 0-6zM2494 3022l6-3 0-5 4 4 5-1-3 5 3 4-5-1-4 4 0-5zM2281 2568l5-3 1-5 3 4 6-1-3 5 3 4-6-1-3 4-1-5zM2285 2553l5-2 1-6 3 5 6-2-3 5 3 5-6-1-3 4-1-6zM2301 2495l5-2 1-6 3 4 6-1-3 5 3 5-6-2-3 5-1-6zM2321 2422l5-2 0-6 4 4 6-1-3 5 3 5-6-2-4 5 0-6zM2556 3189l5-2 1-5 3 4 6-2-3 5 3 5-6-1-3 4-1-6zM2781 3096l5-2 1-6 3 4 6-1-3 5 3 5-6-2-3 5-1-6zM2795 3090l5-2 1-6 4 4 5-1-3 5 3 5-5-1-4 4-1-6zM2675 2948l6-3 0-5 4 4 5-1-3 5 3 4-5-1-4 4 0-5zM2685 3484l5-2 0-6 4 4 6-1-3 5 3 5-6-2-4 5 0-6zM2432 3222l5-2 1-6 4 4 5-1-3 5 3 5-5-2-4 5-1-6zM2294 3081l6-2 0-6 4 4 5-1-3 5 3 5-5-2-4 5 0-6zM2282 3068l5-2 1-6 3 5 6-2-3 5 3 5-6-1-3 4-1-6zM2135 2920l6-2 0-6 4 4 5-1-3 5 3 5-5-2-4 5 0-6zM1939 2724l5-2 1-6 3 4 6-1-3 5 3 5-6-2-3 5-1-6zM2221 2632l5-2 1-6 3 4 6-1-3 5 3 5-6-2-3 5-1-6zM2433 3106l6-2 0-6 4 4 5-1-3 5 3 5-5-2-4 5 0-6zM2421 3097l6-2 0-6 4 4 5-1-3 5 3 5-5-2-4 5 0-6zM2473 3221l5-3 1-5 3 4 6-1-3 5 3 4-6-1-3 4-1-5zM2697 3127l5-2 0-6 4 5 5-2-3 5 3 5-5-1-4 4 0-6zM2380 2914l5-2 1-6 3 5 6-2-3 5 3 5-6-1-3 4-1-6zM2408 2879l6-2 0-6 4 5 5-2-3 5 3 5-5-1-4 4 0-6zM2418 2868l5-3 1-5 3 4 6-1-3 5 3 4-6-1-3 4-1-5zM2427 2856l6-2 0-6 4 4 5-1-3 5 3 5-5-2-4 5 0-6zM2095 2471l6-2 0-6 4 5 5-2-3 5 3 5-5-1-4 4 0-6zM2820 3402l6-2 0-5 4 4 5-1-3 4 3 5-5-1-4 4 0-5zM2778 3122l5-2 1-6 3 4 6-1-3 5 3 5-6-1-3 4-1-6zM2737 3102l5-2 0-6 4 4 6-1-3 5 3 5-6-2-4 5 0-6zM2423 2951l5-2 0-6 4 4 6-1-3 5 3 5-6-2-4 5 0-6zM2021 2763l6-2 0-6 4 5 5-2-3 5 3 5-5-1-4 4 0-6zM2581 3276l5-2 1-6 3 5 6-2-3 5 3 5-6-1-3 4-1-6zM2742 3230l5-2 1-6 4 5 5-2-3 5 3 5-5-1-4 4-1-6zM2757 3226l5-2 1-6 3 4 6-1-3 5 3 5-6-1-3 4-1-6zM2786 3218l6-3 0-5 4 4 5-1-3 5 3 4-5-1-4 4 0-5zM2323 2409l6-2 0-6 4 5 5-2-3 5 3 5-5-1-4 4 0-6zM2416 2972l5-2 0-6 4 4 6-1-3 5 3 5-6-2-4 5 0-6zM2448 2940l5-2 1-5 3 4 6-1-3 4 3 5-6-1-3 4-1-5zM2522 3027l6-3 0-5 4 4 5-1-3 5 3 4-5-1-4 4 0-5zM2572 2992l5-2 1-6 3 4 6-1-3 5 3 5-6-2-3 5-1-6zM2382 2573l5-2 0-5 4 4 5-1-3 4 3 5-5-1-4 4 0-5zM2322 2580l5-2 0-6 4 4 5-1-3 5 3 5-5-2-4 5 0-6zM2277 2585l5-2 0-6 4 4 5-1-2 5 2 5-5-2-4 5 0-6zM2232 2590l5-2 0-6 4 4 6-1-3 5 3 5-6-2-4 5 0-6zM2217 2592l5-3 1-5 3 4 6-1-3 5 3 4-6-1-3 4-1-5zM1966 2599l5-3 0-5 4 4 6-1-3 5 3 4-6-1-4 4 0-5zM1949 2602l5-2 0-6 4 4 6-1-3 5 3 5-6-2-4 5 0-6zM1932 2605l5-2 0-6 4 4 5-1-3 5 3 5-5-2-4 5 0-6zM2600 2804l5-2 1-6 3 4 6-1-3 5 3 5-6-1-3 4-1-6zM2384 3027l5-2 0-6 4 4 6-1-3 5 3 5-6-2-4 5 0-6zM2327 2563l5-2 1-6 3 4 6-1-3 5 3 5-6-2-3 5-1-6zM2436 3082l5-2 1-6 3 4 6-1-3 5 3 5-6-2-3 5-1-6zM2460 3065l6-3 0-5 4 4 5-1-3 5 3 4-5-1-4 4 0-5zM2497 3039l6-3 0-5 4 4 5-1-3 5 3 4-5-1-4 4 0-5zM2572 2986l5-2 0-6 4 5 5-2-3 5 3 5-5-1-4 4 0-6zM2596 2969l5-2 1-6 4 4 5-1-3 5 3 5-5-2-4 5-1-6zM2695 2908l5-2 0-6 4 4 6-1-3 5 3 5-6-1-4 4 0-6zM2578 2875l5-2 0-5 4 4 5-1-3 4 3 5-5-1-4 4 0-5zM2534 2863l5-2 0-5 4 4 6-1-3 4 3 5-6-1-4 4 0-5zM2818 2993l5-2 1-5 3 4 6-1-3 4 3 5-6-1-3 4-1-5zM2557 2907l6-2 0-5 4 4 5-1-3 4 3 5-5-1-4 4 0-5zM2518 2763l5-2 1-6 3 5 6-2-3 5 3 5-6-1-3 4-1-6zM2760 2805l6-3 0-5 4 4 5-1-3 5 3 4-5-1-4 4 0-5zM2877 3132l5-2 1-6 3 5 6-2-3 5 3 5-6-1-3 4-1-6zM2849 3119l5-2 0-5 4 4 6-1-3 4 3 5-6-1-4 4 0-5zM2418 2928l6-2 0-6 4 5 5-2-3 5 3 5-5-1-4 4 0-6zM2006 2566l6-2 0-6 4 5 5-2-3 5 3 5-5-1-4 4 0-6zM1989 2498l6-2 0-5 4 4 5-2-3 5 3 5-5-1-4 4 0-6zM2555 3200l5-2 0-6 4 5 5-2-2 5 2 5-5-1-4 4 0-6zM2569 3194l5-2 0-5 4 4 6-1-3 4 3 5-6-1-4 4 0-5zM2583 3189l5-2 0-6 4 4 6-1-3 5 3 5-6-2-4 5 0-6zM2611 3178l5-3 1-5 3 4 6-1-3 5 3 4-6-1-3 4-1-5zM2752 3121l6-2 0-6 4 4 5-1-3 5 3 5-5-2-4 5 0-6zM2467 2422l5-2 1-6 3 4 6-1-3 5 3 5-6-2-3 5-1-6zM2103 2522l5-2 0-5 4 4 6-1-3 4 3 5-6-1-4 4 0-5zM2086 2527l5-2 1-6 3 5 6-2-3 5 3 5-6-1-3 4-1-6zM2665 3323l5-2 1-6 3 5 6-2-3 5 3 5-6-1-3 4-1-6zM2560 3236l5-2 1-6 3 4 6-1-3 5 3 5-6-2-3 5-1-6zM2525 3207l5-2 1-6 3 4 6-1-3 5 3 5-6-2-3 5-1-6zM2587 2726l6-2 0-5 4 4 5-1-3 4 3 5-5-1-4 4 0-5zM2572 2725l5-2 1-6 4 5 5-2-3 5 3 5-5-1-4 4-1-6zM2542 2722l5-2 1-5 3 4 6-1-3 4 3 5-6-1-3 4-1-5zM2527 2721l5-2 1-6 3 4 6-1-3 5 3 5-6-1-3 4-1-6zM2391 2709l6-2 0-6 4 5 5-2-3 5 3 5-5-1-4 4 0-6zM2331 2704l6-2 0-6 4 5 5-2-3 5 3 5-5-1-4 4 0-6zM2447 2570l5-2 0-5 4 4 6-2-3 5 3 5-6-1-4 4 0-6zM2454 2557l5-2 0-6 4 4 6-1-3 5 3 5-6-2-4 5 0-6zM2461 2543l5-2 0-5 4 4 6-1-3 4 3 5-6-1-4 4 0-5zM2475 2516l5-2 0-5 4 4 6-1-3 4 3 5-6-1-4 4 0-5zM2510 2449l5-2 0-6 4 4 6-1-3 5 3 5-6-2-4 5 0-6zM2531 2408l5-2 0-6 4 4 6-1-3 5 3 5-6-2-4 5 0-6zM2651 2975l5-3 1-5 3 4 6-1-3 5 3 4-6-1-3 4-1-5zM2465 3247l5-2 1-5 4 4 5-1-3 4 3 5-5-1-4 4-1-5zM2423 3205l5-3 1-5 3 4 6-1-3 5 3 4-6-1-3 4-1-5zM2347 2321l5-3 0-5 4 4 5-1-3 5 3 4-5-1-4 4 0-5zM2319 2333l5-2 0-6 4 4 6-1-3 5 3 5-6-2-4 5 0-6zM2305 2339l5-2 0-6 4 4 6-1-3 5 3 5-6-2-4 5 0-6z"/>
<path fill="#3affc5" d="M2727 3569l5-2 0-6 4 4 6-1-3 5 3 5-6-1-4 4 0-6zM2438 2955l5-2 1-5 3 4 6-1-3 4 3 5-6-1-3 4-1-6zM2449 2945l5-2 0-6 4 4 6-1-3 5 3 5-6-2-4 5 0-6zM2535 2861l6-2 0-6 4 4 5-1-3 5 3 5-5-2-4 4 0-5zM2546 2850l5-2 1-6 4 5 5-2-3 5 3 5-5-1-4 4-1-6zM2611 2786l5-2 1-5 4 4 5-1-3 4 3 5-5-1-4 4-1-5zM2289 2396l5-2 0-6 4 4 5-1-2 5 2 5-5-2-4 5 0-6zM2091 2471l5-2 1-6 4 4 5-1-3 5 3 5-5-2-4 5-1-6zM2063 2482l5-2 1-6 4 4 5-1-3 5 3 5-5-2-4 5-1-6zM2033 2493l5-2 1-5 3 4 6-1-3 4 3 5-6-1-3 4-1-5zM2248 2500l5-3 1-5 3 4 6-1-3 5 3 4-6-1-3 4-1-5zM2189 2514l6-2 0-5 4 4 5-2-3 5 3 5-5-1-4 4 0-6zM2523 2380l5-2 1-5 4 4 5-1-3 4 3 5-5-1-4 4-1-5zM2508 2385l6-2 0-6 4 4 5-1-3 5 3 5-5-2-4 5 0-6zM2421 2411l5-2 0-6 4 4 6-1-3 5 3 5-6-2-4 5 0-6zM2103 2508l5-2 0-6 4 4 6-1-3 5 3 5-6-2-4 5 0-6zM1922 2564l5-2 0-6 4 5 6-2-3 5 3 5-6-1-4 4 0-6zM2843 3362l6-2 0-5 4 4 5-1-3 4 3 5-5-1-4 4 0-5zM2818 3344l6-2 0-5 4 4 5-1-3 4 3 5-5-1-4 4 0-5zM2734 3152l6-2 0-6 4 4 5-1-3 5 3 5-5-1-4 4 0-6zM2721 3145l5-3 1-5 3 4 6-1-3 5 3 4-6-1-3 4-1-5zM2547 3050l6-2 0-5 4 4 5-1-3 4 3 5-5-1-4 4 0-5zM2534 3043l5-2 1-6 4 5 5-2-3 5 3 5-5-1-4 4-1-6zM2521 3036l5-2 1-6 3 4 6-1-3 5 3 5-6-2-3 5-1-6zM2481 3015l5-3 1-5 3 4 6-1-3 5 3 4-6-1-3 4-1-5zM2468 3007l5-2 0-5 4 4 6-1-3 4 3 5-6-1-4 4 0-5zM2455 3000l5-2 0-6 4 5 5-2-3 5 3 5-5-1-4 4 0-6zM2230 2753l5-2 0-6 4 5 5-2-3 5 3 5-5-1-4 4 0-6zM2325 2407l5-2 0-6 4 5 6-2-3 5 3 5-6-1-4 4 0-6zM2329 2393l5-3 0-5 4 4 6-1-3 5 3 4-6-1-4 4 0-5zM2542 3195l5-2 1-6 3 5 6-2-3 5 3 5-6-1-3 4-1-6zM2570 3184l5-3 1-5 3 4 6-1-3 5 3 4-6-1-3 4-1-5zM2809 3084l6-2 0-6 4 5 5-2-3 5 3 5-5-1-4 4 0-6zM2436 2555l5-2 1-6 4 4 5-1-3 5 3 5-5-1-4 4-1-6zM2503 2418l6-2 0-5 4 4 5-1-3 4 3 5-5-1-4 4 0-5zM2663 2956l5-2 0-6 4 5 5-2-2 5 2 5-5-1-4 4 0-6zM2713 2922l6-2 0-6 4 5 5-2-3 5 3 5-5-1-4 4 0-6zM2777 2880l5-2 1-6 3 4 6-1-3 5 3 5-6-2-3 5-1-6zM2841 2837l5-2 1-6 3 4 6-1-3 5 3 5-6-2-3 5-1-6zM2453 3243l5-2 1-5 4 4 5-1-3 4 3 5-5-1-4 4-1-5zM2462 2623l5-2 1-6 3 4 6-1-3 5 3 5-6-2-3 5-1-6zM2447 2623l5-2 0-5 4 4 6-1-3 4 3 5-6-1-4 4 0-5zM2432 2624l5-2 0-6 4 4 5-1-2 5 2 5-5-2-4 5 0-6zM2417 2624l5-2 0-5 4 4 5-1-3 4 3 5-5-1-4 4 0-5zM2401 2625l6-2 0-6 4 4 5-1-3 5 3 5-5-1-4 4 0-6zM2251 2631l5-3 1-5 3 4 6-1-3 5 3 4-6-1-3 4-1-5zM2553 3198l5-2 0-6 4 4 6-1-3 5 3 5-6-2-4 5 0-6zM2481 3143l5-3 1-5 3 4 6-1-3 5 3 4-6-1-3 4-1-5zM2469 3133l5-2 1-5 3 4 6-1-3 4 3 5-6-1-3 4-1-5zM2398 3078l5-2 0-5 4 4 5-1-3 4 3 5-5-1-4 4 0-5zM2445 3232l5-2 1-6 3 5 6-2-3 5 3 5-6-1-3 4-1-6zM2487 3215l5-2 0-6 4 4 6-1-3 5 3 5-6-2-4 5 0-6zM2711 3121l5-2 0-5 4 4 5-2-2 5 2 5-5-1-4 4 0-6zM2371 2926l5-2 0-6 4 4 5-1-2 5 2 5-5-2-4 5 0-6zM2390 2903l5-3 0-5 4 4 5-1-3 5 3 4-5-1-4 4 0-5zM2446 2833l6-3 0-5 4 4 5-1-3 5 3 4-5-1-4 4 0-5zM2494 2774l5-2 0-6 4 4 6-1-3 5 3 5-6-2-4 5 0-6zM1994 2744l5-2 1-6 3 4 6-1-3 5 3 5-6-1-3 4-1-6zM2098 2516l5-2 0-6 4 5 5-2-3 5 3 5-5-1-4 4 0-6zM2097 2501l5-2 0-6 4 5 6-2-3 5 3 5-6-1-4 4 0-6zM2535 2329l5-2 0-6 4 5 5-2-2 5 2 5-5-1-4 4 0-6zM2520 2334l5-2 1-6 3 5 6-2-3 5 3 5-6-1-3 4-1-6zM2448 2359l5-2 0-6 4 5 6-2-3 5 3 5-6-1-4 4 0-6zM2790 3406l5-3 0-5 4 4 6-1-3 5 3 4-6-1-4 4 0-5zM1979 2605l6-3 0-5 4 4 5-1-3 5 3 4-5-1-4 4 0-5zM1962 2555l5-2 1-5 3 4 6-2-3 5 3 5-6-1-3 4-1-6zM2764 3115l5-2 1-6 4 5 5-2-3 5 3 5-5-1-4 4-1-6zM2396 2938l5-2 0-6 4 5 5-2-3 5 3 5-5-1-4 4 0-6zM2280 2424l6-2 0-6 4 4 5-1-3 5 3 5-5-2-4 5 0-6zM2308 3077l6-3 0-5 4 4 5-1-3 5 3 4-5-1-4 4 0-5zM2461 3069l5-2 0-5 4 4 5-1-3 4 3 5-5-1-4 4 0-5zM2585 2983l5-2 0-6 4 5 5-2-3 5 3 5-5-1-4 4 0-6zM2597 2975l5-3 1-5 3 4 6-1-3 5 3 4-6-1-3 4-1-5zM2609 2966l6-2 0-6 4 4 5-1-3 5 3 5-5-2-4 5 0-6zM2622 2957l5-2 0-6 4 5 6-2-3 5 3 5-6-1-4 4 0-6zM2722 2887l5-2 0-6 4 5 5-2-3 5 3 5-5-1-4 4 0-6zM2772 2852l5-2 0-6 4 4 5-1-3 5 3 5-5-2-4 5 0-6zM2386 2602l5-3 0-5 4 4 6-1-3 5 3 4-6-1-4 4 0-5zM2356 2604l5-3 0-5 4 4 5-1-2 5 2 4-5-1-4 4 0-5zM2337 2578l5-2 0-6 4 5 5-2-3 5 3 5-5-1-4 4 0-6zM2187 2595l5-2 1-6 3 4 6-1-3 5 3 5-6-2-3 5-1-6zM2735 2829l5-2 1-6 4 4 5-1-3 5 3 5-5-2-4 4-1-5zM2540 2793l6-2 0-6 4 5 5-2-3 5 3 5-5-1-4 4 0-6zM2436 2775l5-2 1-6 4 4 5-1-3 5 3 5-5-2-4 4-1-5zM2377 2764l5-2 1-6 3 5 6-2-3 5 3 5-6-1-3 4-1-6zM2446 3069l5-2 1-6 3 4 6-1-3 5 3 5-6-2-3 4-1-5zM2369 3017l5-2 1-6 4 4 5-1-3 5 3 5-5-1-4 4-1-6zM2322 2577l5-2 1-6 3 5 6-2-3 5 3 5-6-1-3 4-1-6zM2510 3030l5-2 0-6 4 4 6-1-3 5 3 5-6-2-4 5 0-6zM2872 2958l5-2 1-6 3 4 6-1-3 5 3 5-6-1-3 4-1-6zM2709 2912l6-2 0-6 4 5 5-2-3 5 3 5-5-1-4 4 0-6zM2680 2904l5-2 1-6 3 4 6-1-3 5 3 5-6-2-3 5-1-6zM2548 2867l6-2 0-5 4 4 5-1-3 4 3 5-5-1-4 4 0-5zM2519 2859l5-2 1-5 4 4 5-1-3 4 3 5-5-1-4 4-1-5zM2505 2855l5-2 0-5 4 4 5-1-2 4 2 5-5-1-4 4 0-5zM2490 2851l5-2 1-5 3 4 6-1-3 4 3 5-6-1-3 4-1-5zM2476 2847l5-2 0-5 4 4 5-1-3 4 3 5-5-1-4 4 0-5zM2461 2843l5-2 1-5 3 4 6-1-3 4 3 5-6-1-3 4-1-5zM2529 2898l5-2 0-6 4 4 5-1-3 5 3 5-5-1-4 4 0-6zM2500 2889l5-3 0-5 4 4 6-1-3 5 3 4-6-1-4 4 0-5zM2485 2884l6-2 0-6 4 4 5-1-3 5 3 5-5-1-4 4 0-6zM2479 2810l5-2 1-6 4 4 5-1-3 5 3 5-5-2-4 5-1-6zM2816 3457l5-2 0-5 4 4 5-1-2 4 2 5-5-1-4 4 0-5zM2807 3100l5-2 0-5 4 4 6-1-3 4 3 5-6-1-4 4 0-5zM2432 2934l5-2 1-6 3 5 6-2-3 5 3 5-6-1-3 4-1-6zM2011 2753l5-2 1-6 4 4 5-1-3 5 3 5-5-1-4 4-1-6zM1979 2739l5-2 1-5 4 4 5-1-3 4 3 5-5-1-4 4-1-5zM2527 3211l5-2 0-6 4 5 5-2-3 5 3 5-5-1-4 4 0-6zM2667 3155l6-2 0-6 4 5 5-2-3 5 3 5-5-1-4 4 0-6zM2682 3149l5-2 0-5 4 4 5-1-3 4 3 5-5-1-4 4 0-5zM2710 3138l5-2 0-6 4 5 6-2-3 5 3 5-6-1-4 4 0-6zM2724 3132l5-2 1-5 3 4 6-1-3 4 3 5-6-1-3 4-1-5zM2262 2478l5-2 1-6 4 4 5-1-3 5 3 5-5-2-4 5-1-6zM2248 2482l5-2 0-6 4 4 5-1-2 5 2 5-5-2-4 5 0-6zM2132 2514l5-2 0-6 4 5 5-2-2 5 2 5-5-1-4 4 0-6zM2117 2518l5-2 1-5 4 4 5-1-3 4 3 5-5-1-4 4-1-5zM2677 3333l5-2 0-6 4 4 6-1-3 5 3 5-6-1-4 4 0-6zM2478 3168l6-2 0-5 4 4 5-1-3 4 3 5-5-1-4 4 0-5zM2467 3159l5-2 1-6 3 4 6-1-3 5 3 5-6-2-3 5-1-6zM2455 3149l5-2 1-6 4 5 5-2-3 5 3 5-5-1-4 4-1-6zM2444 3140l5-2 0-6 4 4 5-1-2 5 2 5-5-2-4 4 0-5zM2088 2851l5-2 1-6 3 4 6-1-3 5 3 5-6-2-3 5-1-6zM2557 2724l5-2 1-6 3 4 6-1-3 5 3 5-6-2-3 5-1-6zM2512 2720l5-3 0-5 4 4 6-1-3 5 3 4-6-1-4 4 0-5zM2376 2708l6-2 0-6 4 4 5-1-3 5 3 5-5-2-4 5 0-6zM2361 2707l6-3 0-5 4 4 5-1-3 5 3 4-5-1-4 4 0-5zM2272 2699l5-2 0-6 4 5 5-2-3 5 3 5-5-1-4 4 0-6zM2254 2698l5-3 1-5 3 4 6-1-3 5 3 4-6-1-3 4-1-5zM2237 2696l5-2 0-6 4 5 6-2-3 5 3 5-6-1-4 4 0-6zM2219 2695l6-2 0-6 4 4 5-1-3 5 3 5-5-2-4 5 0-6zM2202 2693l5-2 1-5 3 4 6-1-3 4 3 5-6-1-3 4-1-5zM2440 2584l5-2 0-6 4 4 6-1-3 5 3 5-6-2-4 5 0-6zM2496 2476l5-2 0-6 4 4 6-1-3 5 3 5-6-2-4 5 0-6zM2503 2462l5-2 0-6 4 5 6-2-3 5 3 5-6-1-4 4 0-6zM2693 3535l6-2 0-6 4 4 5-1-3 5 3 4-5-1-4 4 0-5zM2347 3062l5-2 1-6 3 5 6-2-3 5 3 5-6-1-3 4-1-6zM2386 3027l5-2 0-6 4 4 6-1-3 5 3 5-6-2-4 5 0-6zM2613 2999l5-2 1-5 3 4 6-1-3 4 3 5-6-1-3 4-1-5zM2626 2991l5-2 0-6 4 5 5-2-2 5 2 5-5-1-4 4 0-6zM2476 3258l5-2 1-6 3 5 6-2-3 5 3 5-6-1-3 4-1-6zM2444 3226l5-2 1-6 3 5 6-2-3 5 3 5-6-1-3 4-1-6zM2434 3215l5-2 0-5 4 4 5-1-3 4 3 5-5-1-4 4 0-5zM2412 3194l6-2 0-6 4 4 5-1-3 5 3 5-5-1-4 4 0-6zM2391 3173l5-3 1-5 4 4 5-1-3 5 3 4-5-1-4 4-1-5zM2361 2314l5-2 0-5 4 4 5-1-3 4 3 5-5-1-4 4 0-5z"/>
<path fill="#51ffae" d="M2401 2818l6-2 0-6 4 4 5-1-3 5 3 5-5-2-4 5 0-6zM2410 2806l5-3 1-5 3 4 6-1-3 5 3 4-6-1-3 4-1-5zM2773 3571l5-2 1-5 3 4 6-1-3 4 3 5-6-1-3 4-1-5zM2416 2976l6-2 0-6 4 5 5-2-3 5 3 5-5-1-4 4 0-6zM2460 2934l5-2 0-5 4 4 5-1-2 4 2 5-5-1-4 4 0-5zM2481 2913l5-2 1-5 4 4 5-1-3 4 3 5-5-1-4 4-1-5zM2492 2903l5-2 1-6 3 4 6-1-3 5 3 5-6-2-3 5-1-6zM2503 2892l5-2 1-5 3 4 6-1-3 4 3 5-6-1-3 4-1-5zM2557 2840l5-3 1-5 3 4 6-1-3 5 3 4-6-1-3 4-1-5zM2303 2390l5-2 0-5 4 4 6-1-3 4 3 5-6-1-4 4 0-5zM2345 2408l6-2 0-5 4 4 5-1-3 4 3 5-5-1-4 4 0-5zM2528 2430l5-2 1-5 3 4 6-1-3 4 3 5-6-1-3 4-1-5zM2494 2389l5-2 0-6 4 5 6-2-3 5 3 5-6-1-4 4 0-6zM2362 2428l6-2 0-5 4 4 5-1-3 4 3 5-5-1-4 4 0-5zM2131 2499l6-2 0-6 4 4 5-1-3 5 3 5-5-2-4 5 0-6zM2117 2503l5-2 1-5 3 4 6-2-3 5 3 5-6-1-3 4-1-6zM2072 2517l5-2 0-5 4 4 5-1-2 4 2 5-5-1-4 4 0-5zM1955 2554l5-2 1-6 3 4 6-1-3 5 3 5-6-2-3 5-1-6zM2831 3353l5-2 1-5 3 4 6-1-3 4 3 5-6-1-3 4-1-5zM2806 3336l5-3 1-5 3 4 6-1-3 5 3 4-6-1-3 4-1-5zM2793 3327l6-3 0-5 4 4 5-1-3 5 3 4-5-1-4 4 0-5zM2706 3264l5-2 1-6 3 5 6-2-3 5 3 5-6-1-3 4-1-6zM2694 3255l5-2 0-5 4 4 5-1-2 4 2 5-5-1-4 4 0-5zM2333 2378l5-2 0-6 4 4 5-1-2 5 2 5-5-2-4 5 0-6zM2337 2363l5-2 0-6 4 5 5-2-3 5 3 5-5-1-4 4 0-6zM2423 2582l5-2 0-6 4 5 6-2-3 5 3 5-6-1-4 4 0-6zM2497 2432l5-2 0-6 4 5 5-2-2 5 2 5-5-1-4 4 0-6zM2510 2405l5-3 1-5 3 4 6-1-3 5 3 4-6-1-3 4-1-5zM2726 2914l5-2 1-6 3 4 6-1-3 5 3 5-6-2-3 5-1-6zM2752 2897l5-2 0-6 4 4 5-1-2 5 2 5-5-2-4 5 0-6zM2790 2871l5-2 1-6 3 5 6-2-3 5 3 5-6-1-3 4-1-6zM2803 2863l5-2 0-6 4 4 5-1-3 5 3 5-5-2-4 5 0-6zM2854 2828l5-2 0-5 4 4 6-1-3 4 3 5-6-1-4 4 0-5zM2270 3056l5-2 1-6 3 4 6-1-3 5 3 5-6-2-3 5-1-6zM2258 3043l5-2 0-5 4 4 5-1-2 4 2 5-5-1-4 4 0-5zM2111 2895l5-2 0-6 4 5 6-2-3 5 3 5-6-1-4 4 0-6zM2386 2626l6-3 0-5 4 4 5-1-3 5 3 4-5-1-4 4 0-5zM2266 2630l5-2 1-6 3 5 6-2-3 5 3 5-6-1-3 4-1-6zM2236 2631l5-2 1-6 3 5 6-2-3 5 3 5-6-1-3 4-1-6zM2203 2633l6-3 0-5 4 4 5-1-3 5 3 4-5-1-4 4 0-5zM2186 2633l5-2 1-6 3 5 6-2-3 5 3 5-6-1-3 4-1-6zM2169 2634l5-2 0-6 4 4 5-1-3 5 3 5-5-2-4 5 0-6zM2146 2508l5-3 1-5 3 4 6-1-3 5 3 4-6-1-3 4-1-5zM2147 2493l5-3 0-5 4 4 5-1-2 5 2 4-5-1-4 4 0-5zM2089 2922l6-2 0-6 4 5 5-2-3 5 3 5-5-1-4 4 0-6zM2076 2890l5-2 1-6 3 5 6-2-3 5 3 5-6-1-3 4-1-6zM2565 3207l5-2 0-6 4 5 6-2-3 5 3 5-6-1-4 4 0-6zM2541 3189l5-2 0-6 4 4 6-1-3 5 3 5-6-2-4 4 0-5zM2386 3069l5-2 0-5 4 4 5-2-2 5 2 5-5-1-4 4 0-6zM2372 3059l5-2 0-6 4 4 6-1-3 5 3 5-6-2-4 4 0-5zM2459 3226l5-2 1-5 3 4 6-1-3 4 3 5-6-1-3 4-1-6zM2529 3197l5-2 0-5 4 4 5-1-2 4 2 5-5-1-4 4 0-5zM2584 3174l6-2 0-6 4 5 5-2-3 5 3 5-5-1-4 4 0-6zM2626 3157l6-2 0-6 4 4 5-1-3 5 3 4-5-1-4 4 0-5zM2654 3145l6-2 0-6 4 4 5-1-3 5 3 5-5-2-4 5 0-6zM2683 3133l5-2 0-6 4 5 5-2-3 5 3 5-5-1-4 4 0-6zM2437 2844l5-2 1-6 3 5 6-2-3 5 3 5-6-1-3 4-1-6zM2456 2821l5-2 1-6 3 4 6-1-3 5 3 5-6-2-3 5-1-6zM2465 2809l6-2 0-6 4 5 5-2-3 5 3 5-5-1-4 4 0-6zM2475 2797l5-2 0-5 4 4 6-2-3 5 3 5-6-1-4 4 0-6zM2479 2815l5-2 0-6 4 5 6-2-3 5 3 5-6-1-4 4 0-6zM2099 2551l5-2 1-6 3 5 6-2-3 5 3 5-6-1-3 4-1-6zM2098 2534l6-2 0-6 4 4 5-1-3 5 3 5-5-2-4 4 0-5zM2774 3407l6-2 0-6 4 5 5-2-3 5 3 5-5-1-4 4 0-6zM1956 2539l5-2 1-6 3 4 6-1-3 5 3 5-6-2-3 5-1-6zM2792 3129l5-2 0-6 4 4 6-1-3 5 3 5-6-2-4 5 0-6zM2750 3109l6-3 0-5 4 4 5-1-3 5 3 4-5-1-4 4 0-5zM2353 2918l5-2 0-6 4 4 5-1-2 5 2 5-5-2-4 5 0-6zM2567 3280l5-2 0-6 4 5 5-2-3 5 3 5-5-1-4 4 0-6zM2321 3064l5-2 1-5 3 4 6-1-3 4 3 5-6-1-3 4-1-5zM2346 3040l5-2 1-6 3 5 6-2-3 5 3 5-6-1-3 4-1-6zM2359 3028l5-2 0-6 4 4 5-1-3 5 3 5-5-2-4 5 0-6zM2371 3016l5-3 1-5 3 4 6-1-3 5 3 4-6-1-3 4-1-5zM2384 3003l5-2 0-5 4 4 5-1-3 4 3 5-5-1-4 4 0-5zM2437 2951l5-2 1-6 4 4 5-1-3 5 3 5-5-2-4 5-1-6zM2436 3087l5-3 0-5 4 4 6-1-3 5 3 4-6-1-4 4 0-5zM2448 3078l5-2 1-6 4 5 5-2-3 5 3 5-5-1-4 4-1-6zM2547 3009l5-2 1-6 4 5 5-2-3 5 3 5-5-1-4 4-1-6zM2634 2949l5-3 1-5 4 4 5-1-3 5 3 4-5-1-4 4-1-5zM2647 2940l5-2 0-6 4 4 6-1-3 5 3 5-6-2-4 5 0-6zM2747 2870l5-3 0-5 4 4 5-1-3 5 3 4-5-1-4 4 0-5zM2759 2861l5-2 1-6 3 4 6-1-3 5 3 5-6-2-3 4-1-5zM2797 2834l5-2 0-6 4 5 5-2-2 5 2 5-5-1-4 4 0-6zM2416 2599l5-2 1-5 3 4 6-1-3 4 3 5-6-1-3 4-1-5zM2401 2601l5-3 1-5 3 4 6-1-3 5 3 4-6-1-3 4-1-5zM2281 2609l5-2 0-6 4 4 5-1-3 5 3 5-5-2-4 5 0-6zM2206 2614l5-2 0-5 4 4 5-1-2 4 2 5-5-1-4 4 0-5zM2202 2593l5-2 1-6 3 5 6-2-3 5 3 5-6-1-3 4-1-6zM2170 2597l5-2 0-6 4 4 5-1-2 5 2 5-5-2-4 5 0-6zM2347 2530l6-2 0-6 4 5 5-2-3 5 3 5-5-1-4 4 0-6zM2720 2826l5-2 1-6 3 4 6-1-3 5 3 5-6-2-3 5-1-6zM2630 2809l5-2 1-5 3 4 6-1-3 4 3 5-6-1-3 4-1-5zM2496 2785l5-2 0-6 4 5 6-2-3 5 3 5-6-1-4 4 0-6zM2466 2780l5-2 1-6 3 4 6-1-3 5 3 5-6-2-3 5-1-6zM2333 2757l5-3 0-5 4 4 5-1-3 5 3 4-5-1-4 4 0-5zM2835 3335l5-2 1-6 4 4 5-1-3 5 3 5-5-2-4 5-1-6zM2823 3326l5-2 0-6 4 4 5-1-2 5 2 5-5-1-4 4 0-6zM2434 3060l5-2 0-6 4 5 5-2-2 5 2 5-5-1-4 4 0-6zM2421 3052l5-2 1-6 3 4 6-1-3 5 3 5-6-2-3 5-1-6zM2409 3044l5-3 0-5 4 4 6-1-3 5 3 4-6-1-4 4 0-5zM2355 3007l5-2 0-6 4 5 6-2-3 5 3 5-6-1-4 4 0-6zM2340 2998l5-3 1-5 4 4 5-1-3 5 3 4-5-1-4 4-1-5zM2094 2834l5-2 0-6 4 4 6-1-3 5 3 5-6-2-4 5 0-6zM2312 2606l5-3 1-5 4 4 5-1-3 5 3 4-5-1-4 4-1-5zM2473 3056l5-2 0-6 4 4 6-1-3 5 3 5-6-2-4 5 0-6zM2485 3047l5-2 1-6 3 5 6-2-3 5 3 5-6-1-3 4-1-6zM2609 2960l5-2 0-6 4 4 5-1-2 5 2 5-5-2-4 5 0-6zM2857 2954l5-2 1-6 3 4 6-1-3 5 3 5-6-2-3 5-1-6zM2724 2916l5-2 1-6 4 5 5-2-3 5 3 5-5-1-4 4-1-6zM2446 2839l6-2 0-5 4 4 5-1-3 4 3 5-5-1-4 4 0-5zM2432 2836l5-3 1-5 3 4 6-1-3 5 3 4-6-1-3 4-1-5zM2471 2879l5-2 1-5 3 4 6-1-3 4 3 5-6-1-3 4-1-5zM2068 2876l5-3 1-5 3 4 6-1-3 5 3 4-6-1-3 4-1-5zM2537 2740l5-2 1-6 4 4 5-1-3 5 3 5-5-2-4 5-1-6zM2552 2740l5-2 0-6 4 5 6-2-3 5 3 5-6-1-4 4 0-6zM2863 3126l5-2 0-6 4 4 6-1-3 5 3 5-6-2-4 5 0-6zM2446 2940l5-2 1-6 3 5 6-2-3 5 3 5-6-1-3 4-1-6zM2015 2600l5-2 1-6 3 4 6-1-3 5 3 5-6-2-3 5-1-6zM2011 2583l5-2 0-6 4 4 6-1-3 5 3 5-6-2-4 5 0-6zM1998 2532l5-2 1-6 3 5 6-2-3 5 3 5-6-1-3 4-1-6zM2456 3239l6-2 0-6 4 4 5-1-3 5 3 5-5-2-4 5 0-6zM2470 3233l6-2 0-5 4 4 5-1-3 4 3 5-5-1-4 4 0-5zM2498 3222l6-2 0-5 4 4 5-2-3 5 3 5-5-1-4 4 0-6zM2639 3166l5-2 1-5 3 4 6-1-3 4 3 5-6-1-3 4-1-5zM2738 3127l5-3 1-5 3 4 6-1-3 5 3 4-6-1-3 4-1-5zM2781 3109l5-2 0-5 4 4 6-1-3 4 3 5-6-1-4 4 0-5zM2219 2490l5-2 0-6 4 4 5-1-3 5 3 5-5-2-4 5 0-6zM2537 3216l5-2 0-5 4 4 5-1-2 4 2 5-5-1-4 4 0-5zM2490 3178l5-2 1-6 3 4 6-1-3 5 3 5-6-1-3 4-1-6zM2115 2872l5-2 1-5 3 4 6-1-3 4 3 5-6-1-3 4-1-5zM2074 2840l6-2 0-6 4 4 5-1-3 5 3 5-5-2-4 5 0-6zM2603 2728l5-2 0-6 4 4 5-1-3 5 3 5-5-2-4 5 0-6zM2328 2797l5-2 0-6 4 5 6-2-3 5 3 5-6-1-4 4 0-6zM2426 2611l5-3 0-5 4 4 6-1-3 5 3 4-6-1-4 4 0-5zM2468 2530l5-2 0-6 4 4 6-1-3 5 3 5-6-2-4 5 0-6zM2482 2503l5-2 0-6 4 4 6-1-3 5 3 5-6-2-4 5 0-6zM2152 2945l5-2 0-6 4 5 5-2-3 5 3 5-5-1-4 4 0-6zM2373 3039l5-3 0-5 4 4 6-1-3 5 3 4-6-1-4 4 0-5zM2689 2950l6-2 0-6 4 4 5-1-3 5 3 5-5-2-4 5 0-6zM2702 2941l5-2 1-5 4 4 5-1-3 4 3 5-5-1-4 4-1-5zM2805 2874l5-2 0-5 4 4 6-1-3 4 3 5-6-1-4 4 0-5zM2856 2841l6-3 0-5 4 4 5-1-3 5 3 4-5-1-4 4 0-5zM2518 3301l5-2 1-6 4 5 5-2-3 5 3 5-5-1-4 4-1-6zM2508 3290l5-2 0-5 4 4 5-1-2 4 2 5-5-1-4 4 0-5zM2497 3280l5-3 1-5 3 4 6-1-3 5 3 4-6-1-3 4-1-5zM2486 3269l6-2 0-6 4 4 5-1-3 5 3 5-5-2-4 5 0-6zM2455 3237l5-2 0-6 4 4 6-1-3 5 3 5-6-2-4 5 0-6zM2402 3183l5-2 0-5 4 4 6-1-3 4 3 5-6-1-4 4 0-6zM2291 2345l5-2 1-6 3 5 6-2-3 5 3 5-6-1-3 4-1-6z"/>
<path fill="#68ff97" d="M2367 2867l5-2 1-6 3 5 6-2-3 5 3 5-6-1-3 4-1-6zM2384 2842l5-2 1-5 4 4 5-1-3 4 3 5-5-1-4 4-1-5zM2393 2830l5-2 1-6 3 5 6-2-3 5 3 5-6-1-3 4-1-6zM2427 2781l6-2 0-6 4 4 5-1-3 5 3 5-5-2-4 5 0-6zM2757 3571l6-3 0-5 4 4 5-1-3 5 3 4-5-1-4 4 0-5zM2395 2997l5-2 0-6 4 5 6-2-3 5 3 5-6-1-4 4 0-6zM2406 2987l5-2 0-6 4 4 5-1-2 5 2 4-5-1-4 4 0-5zM2427 2966l5-2 1-6 4 4 5-1-3 5 3 5-5-2-4 5-1-6zM2514 2882l5-2 0-6 4 4 6-1-3 5 3 5-6-2-4 5 0-6zM2525 2871l5-2 0-6 4 5 5-2-3 5 3 5-5-1-4 4 0-6zM2568 2829l5-2 1-6 3 4 6-1-3 5 3 5-6-2-3 5-1-6zM2274 2401l6-2 0-6 4 5 5-2-3 5 3 5-5-1-4 4 0-6zM2190 2433l5-2 0-6 4 5 5-2-2 5 2 5-5-1-4 4 0-6zM1951 2525l6-2 0-6 4 4 5-1-3 5 3 5-5-2-4 5 0-6zM2307 2539l5-2 0-6 4 4 5-1-3 5 3 5-5-2-4 5 0-6zM2319 2495l6-2 0-5 4 4 5-1-3 4 3 5-5-1-4 4 0-5zM2513 2434l5-2 1-6 3 5 6-2-3 5 3 5-6-1-3 4-1-6zM2008 2552l5-2 1-5 3 4 6-1-3 4 3 5-6-1-3 4-1-5zM2479 2393l5-2 1-5 4 4 5-1-3 4 3 5-5-1-4 4-1-5zM2465 2398l5-2 0-6 4 4 5-1-3 5 3 5-5-2-4 5 0-6zM2450 2402l5-2 1-6 3 5 6-2-3 5 3 5-6-1-3 4-1-6zM2406 2415l5-2 1-6 3 5 6-2-3 5 3 5-6-1-3 4-1-6zM2377 2424l5-2 1-6 3 5 6-2-3 5 3 5-6-1-3 4-1-6zM2348 2433l5-2 1-6 3 4 6-1-3 5 3 5-6-2-3 5-1-6zM2055 2523l5-3 1-5 3 4 6-1-3 5 3 4-6-1-3 4-1-5zM2781 3318l5-3 1-5 3 4 6-1-3 5 3 4-6-1-3 4-1-5zM2681 3247l5-3 1-5 4 4 5-1-3 5 3 4-5-1-4 4-1-5zM2669 3238l5-2 0-6 4 4 6-1-3 5 3 5-6-2-4 5 0-6zM2557 3159l5-2 1-6 4 4 5-1-3 5 3 5-5-2-4 5-1-6zM2545 3150l5-2 1-6 3 5 6-2-3 5 3 5-6-1-3 4-1-6zM2533 3142l5-3 0-5 4 4 5-1-3 5 3 4-5-1-4 4 0-5zM1997 2772l5-2 1-6 4 5 5-2-3 5 3 5-5-1-4 4-1-6zM1968 2753l6-3 0-5 4 4 5-1-3 5 3 4-5-1-4 4 0-5zM2356 2717l5-2 0-6 4 5 5-2-3 5 3 5-5-1-4 4 0-6zM2429 2569l6-3 0-5 4 4 5-1-3 5 3 4-5-1-4 4 0-5zM2443 2541l5-2 1-5 3 4 6-1-3 4 3 5-6-1-3 4-1-5zM2450 2528l5-2 0-6 4 4 5-1-2 5 2 5-5-2-4 5 0-6zM2490 2446l5-2 1-6 3 4 6-1-3 5 3 5-6-2-3 5-1-6zM2650 2964l5-2 1-5 3 4 6-1-3 4 3 5-6-1-3 4-1-5zM2739 2905l5-2 1-5 3 4 6-1-3 4 3 5-6-1-3 4-1-6zM2764 2888l6-2 0-5 4 4 5-2-3 5 3 5-5-1-4 4 0-6zM2815 2854l6-2 0-6 4 5 5-2-3 5 3 5-5-1-4 4 0-6zM2828 2846l5-3 1-5 3 4 6-1-3 5 3 4-6-1-3 4-1-5zM2245 3031l6-2 0-6 4 5 5-2-3 5 3 5-5-1-4 4 0-6zM2492 2622l5-2 1-6 4 4 5-1-3 5 3 5-5-2-4 5-1-6zM2477 2622l5-2 1-5 3 4 6-1-3 4 3 5-6-1-3 4-1-5zM2341 2627l5-2 1-6 3 5 6-2-3 5 3 5-6-1-3 4-1-6zM2281 2629l5-2 1-5 3 4 6-1-3 4 3 5-6-1-3 4-1-5zM2145 2538l5-3 1-5 3 4 6-1-3 5 3 4-6-1-3 4-1-5zM2145 2523l6-3 0-5 4 4 5-1-3 5 3 4-5-1-4 4 0-5zM2096 2938l5-2 1-6 3 5 6-2-3 5 3 5-6-1-3 4-1-6zM2601 3235l5-2 0-6 4 5 5-2-3 5 3 5-5-1-4 4 0-6zM2577 3216l5-2 0-5 4 4 5-1-2 4 2 5-5-1-4 4 0-5zM2493 3152l5-2 1-6 3 4 6-1-3 5 3 5-6-2-3 5-1-6zM2501 3209l5-2 0-6 4 5 6-2-3 5 3 5-6-1-4 4 0-6zM2515 3203l5-2 0-6 4 5 5-2-2 5 2 5-5-1-4 4 0-6zM2484 2786l6-3 0-5 4 4 5-1-3 5 3 4-5-1-4 4 0-5zM2449 2809l6-3 0-5 4 4 5-1-3 5 3 4-5-1-4 4 0-5zM2232 2761l5-3 1-5 3 4 6-1-3 5 3 4-6-1-3 4-1-5zM2100 2569l5-3 1-5 3 4 6-1-3 5 3 4-6-1-3 4-1-5zM2744 3410l5-2 1-6 3 5 6-2-3 5 3 5-6-1-3 4-1-6zM2759 3409l5-2 1-6 3 4 6-1-3 5 3 5-6-2-3 5-1-6zM2382 2932l5-3 1-5 3 4 6-1-3 5 3 4-6-1-3 4-1-5zM2368 2925l6-2 0-6 4 5 5-2-3 5 3 5-5-1-4 4 0-6zM2523 3292l5-2 0-5 4 4 6-1-3 4 3 5-6-1-4 4 0-5zM2537 3288l6-2 0-5 4 4 5-1-3 4 3 5-5-1-4 4 0-5zM2552 3284l5-2 1-6 3 5 6-2-3 5 3 5-6-1-3 4-1-6zM2801 3213l5-2 1-6 3 5 6-2-3 5 3 5-6-1-3 4-1-6zM2334 3052l5-2 0-6 4 5 5-2-3 5 3 5-5-1-4 4 0-6zM2394 2993l6-2 0-6 4 4 5-1-3 5 3 5-5-2-4 5 0-6zM2405 2982l5-2 1-5 3 4 6-1-3 4 3 5-6-1-3 4-1-5zM2386 3121l6-2 0-6 4 4 5-1-3 5 3 5-5-2-4 5 0-6zM2411 3104l5-2 1-6 3 4 6-1-3 5 3 5-6-2-3 4-1-5zM2423 3095l6-2 0-6 4 5 5-2-3 5 3 5-5-1-4 4 0-6zM2473 3061l5-2 1-6 3 4 6-1-3 5 3 5-6-2-3 5-1-6zM2498 3044l5-2 0-6 4 4 6-1-3 5 3 5-6-2-4 5 0-6zM2535 3018l5-2 1-6 3 4 6-1-3 5 3 5-6-2-3 5-1-6zM2659 2931l5-2 1-6 4 5 5-2-3 5 3 5-5-1-4 4-1-6zM2672 2922l5-2 0-6 4 5 5-2-2 5 2 5-5-1-4 4 0-6zM2684 2914l5-3 1-5 3 4 6-1-3 5 3 4-6-1-3 4-1-5zM2697 2905l5-2 0-6 4 4 5-1-3 5 3 5-5-2-4 5 0-6zM2709 2896l5-2 1-6 3 4 6-1-3 5 3 5-6-2-3 5-1-6zM2734 2878l5-2 1-5 3 4 6-1-3 4 3 5-6-1-3 4-1-5zM2784 2843l5-2 1-6 3 4 6-1-3 5 3 5-6-2-3 5-1-6zM2431 2598l5-2 1-5 3 4 6-1-3 4 3 5-6-1-3 4-1-5zM2371 2603l5-3 0-5 4 4 6-1-3 5 3 4-6-1-4 4 0-5zM2341 2605l5-2 0-6 4 4 5-1-3 5 3 5-5-2-4 5 0-6zM2326 2606l5-2 0-6 4 4 5-1-3 5 3 5-5-2-4 5 0-6zM2311 2607l5-2 0-6 4 4 5-1-3 5 3 5-5-2-4 5 0-6zM2296 2608l5-2 0-6 4 4 5-1-3 5 3 5-5-2-4 5 0-6zM2266 2610l5-2 0-6 4 5 5-2-3 5 3 5-5-1-4 4 0-6zM2236 2612l5-2 0-6 4 5 5-2-3 5 3 5-5-1-4 4 0-6zM2221 2613l5-2 0-5 4 4 5-1-3 4 3 5-5-1-4 4 0-6zM2362 2527l5-2 1-5 4 4 5-1-3 4 3 5-5-1-4 4-1-5zM2332 2533l6-3 0-5 4 4 5-1-3 5 3 4-5-1-4 4 0-5zM2017 2589l5-2 1-6 4 5 5-2-3 5 3 5-5-1-4 4-1-6zM2000 2592l5-2 1-6 3 5 6-2-3 5 3 5-6-1-3 4-1-6zM2615 2807l5-2 1-6 3 4 6-1-3 5 3 5-6-2-3 5-1-6zM2451 2777l5-2 1-5 3 4 6-2-3 5 3 5-6-1-3 4-1-6zM2392 2767l5-2 0-6 4 4 6-1-3 5 3 5-6-2-4 5 0-6zM2347 2759l6-2 0-6 4 5 5-2-3 5 3 5-5-1-4 4 0-6zM2318 2754l5-2 0-6 4 4 6-1-3 5 3 5-6-2-4 5 0-6zM2396 3035l5-2 1-6 4 5 5-2-3 5 3 5-5-1-4 4-1-6zM2326 2988l5-2 0-6 4 4 6-1-3 5 3 5-6-2-4 5 0-6zM2311 2978l5-2 1-6 4 5 5-2-3 5 3 5-5-1-4 4-1-6zM2297 2968l5-2 0-5 4 4 6-1-3 4 3 5-6-1-4 4 0-5zM2282 2959l5-2 1-6 4 4 5-1-3 5 3 5-5-2-4 5-1-6zM2302 2634l6-2 0-6 4 5 5-2-3 5 3 5-5-1-4 4 0-6zM2317 2591l5-2 1-5 4 4 5-1-3 4 3 5-5-1-4 4-1-5zM2827 2945l6-2 0-5 4 4 5-1-3 4 3 5-5-1-4 4 0-5zM2754 2925l5-3 0-5 4 4 5-1-2 5 2 4-5-1-4 4 0-5zM2442 2870l6-2 0-6 4 5 5-2-3 5 3 5-5-1-4 4 0-6zM2096 2920l5-3 0-5 4 4 6-1-3 5 3 4-6-1-4 4 0-5zM2077 2890l5-2 1-6 4 5 5-2-3 5 3 5-5-1-4 4-1-6zM2059 2861l5-2 1-6 3 4 6-1-3 5 3 5-6-2-3 5-1-6zM1985 2743l5-2 1-5 3 4 6-1-3 4 3 5-6-1-3 4-1-5zM2460 2833l5-2 1-6 3 4 6-1-3 5 3 5-6-2-3 5-1-6zM2470 2821l5-2 0-5 4 4 5-2-3 5 3 5-5-1-4 4 0-6zM2499 2787l5-3 0-5 4 4 5-1-3 5 3 4-5-1-4 4 0-5zM2542 2752l5-2 1-6 3 4 6-1-3 5 3 5-6-2-3 5-1-6zM2562 2729l5-3 0-5 4 4 5-1-3 5 3 4-5-1-4 4 0-5zM2571 2717l6-2 0-6 4 5 5-2-3 5 3 5-5-1-4 4 0-6zM2581 2706l5-3 1-5 4 4 5-1-3 5 3 4-5-1-4 4-1-5zM2804 3447l5-2 1-5 3 4 6-1-3 4 3 5-6-1-3 4-1-5zM2483 3018l6-3 0-5 4 4 5-1-3 5 3 4-5-1-4 4 0-5zM2736 2823l5-2 1-5 4 4 5-1-3 4 3 5-5-1-4 4-1-5zM2193 2598l5-2 1-5 4 4 5-1-3 4 3 5-5-1-4 4-1-5zM2197 2569l6-3 0-5 4 4 5-1-3 5 3 4-5-1-4 4 0-5zM2203 2524l6-2 0-6 4 4 5-1-3 5 3 5-5-1-4 4 0-6zM2209 2479l6-2 0-6 4 5 5-2-3 5 3 5-5-1-4 4 0-6zM2405 2922l5-2 0-6 4 5 5-2-3 5 3 5-5-1-4 4 0-6zM2391 2916l5-2 0-6 4 5 6-2-3 5 3 5-6-1-4 4 0-6zM2377 2910l5-2 1-6 3 5 6-2-3 5 3 5-6-1-3 4-1-6zM2442 3244l6-2 0-5 4 4 5-1-3 4 3 5-5-1-4 4 0-5zM2484 3228l6-2 0-6 4 4 5-1-3 5 3 5-5-2-4 5 0-6zM2482 2418l5-2 0-6 4 4 6-1-3 5 3 5-6-2-4 5 0-6zM2190 2498l5-2 0-6 4 5 5-2-3 5 3 5-5-1-4 4 0-6zM2513 3197l6-2 0-6 4 5 5-2-3 5 3 5-5-1-4 4 0-6zM2502 3188l5-3 0-5 4 4 6-1-3 5 3 4-6-1-4 4 0-5zM2432 3130l5-2 1-6 3 5 6-2-3 5 3 5-6-1-3 4-1-6zM2420 3121l6-3 0-5 4 4 5-1-3 5 3 4-5-1-4 4 0-5zM1966 2753l5-2 1-6 3 5 6-2-3 5 3 5-6-1-3 4-1-6zM2497 2718l5-2 0-5 4 4 6-2-3 5 3 5-6-1-4 4 0-6zM2482 2717l5-2 0-6 4 4 6-1-3 5 3 5-6-2-4 5 0-6zM2437 2713l5-2 0-6 4 4 5-1-3 5 3 5-5-1-4 4 0-6zM2349 2757l5-2 0-5 4 4 6-1-3 4 3 5-6-1-4 4 0-5zM2356 2744l5-2 0-6 4 5 6-2-3 5 3 5-6-1-4 4 0-6zM2419 2624l5-2 0-6 4 4 6-1-3 5 3 5-6-1-4 4 0-6zM2489 2489l5-2 0-5 4 4 6-1-3 4 3 5-6-1-4 4 0-5zM2704 3546l5-2 0-6 4 5 5-2-3 5 3 5-5-1-4 4 0-6zM2600 3008l5-3 1-5 3 4 6-1-3 5 3 4-6-1-3 4-1-5zM2638 2983l6-2 0-6 4 4 5-1-3 5 3 5-5-2-4 5 0-6zM2664 2966l5-2 1-5 3 4 6-2-3 5 3 5-6-1-3 4-1-6zM2677 2958l5-2 0-6 4 5 6-2-3 5 3 5-6-1-4 4 0-6zM2741 2916l5-2 0-5 4 4 5-1-2 4 2 5-5-1-4 4 0-5zM2843 2849l6-2 0-6 4 5 5-2-3 5 3 5-5-1-4 4 0-6zM2667 3453l5-2 1-6 3 5 6-2-3 5 3 5-6-1-3 4-1-6zM2539 3323l6-2 0-6 4 4 5-1-3 5 3 5-5-2-4 5 0-6z"/>
<path fill="#80ff80" d="M2268 3008l5-3 0-5 4 4 5-1-3 5 3 4-5-1-4 4 0-5zM2278 2993l5-2 0-5 4 4 6-1-3 4 3 5-6-1-4 4 0-5zM2348 2894l5-3 1-5 4 4 5-1-3 5 3 4-5-1-4 4-1-5zM2419 2793l5-2 0-6 4 5 6-2-3 5 3 5-6-1-4 4 0-6zM2445 2756l5-2 0-6 4 5 5-2-2 5 2 5-5-1-4 4 0-6zM2742 3570l5-2 1-6 3 4 6-1-3 5 3 5-6-2-3 5-1-6zM2308 3080l6-2 0-6 4 5 5-2-3 5 3 5-5-1-4 4 0-6zM2334 3056l5-2 0-6 4 5 5-2-2 5 2 5-5-1-4 4 0-6zM2384 3008l5-3 1-5 3 4 6-1-3 5 3 4-6-1-3 4-1-5zM2260 2406l5-2 1-5 4 4 5-1-3 4 3 5-5-1-4 4-1-5zM2315 2510l5-2 1-6 4 4 5-1-3 5 3 5-5-2-4 5-1-6zM2328 2466l5-2 1-5 3 4 6-1-3 4 3 5-6-1-3 4-1-5zM2337 2437l5-2 0-5 4 4 6-1-3 4 3 5-6-1-4 4 0-5zM2350 2394l5-2 0-6 4 4 6-1-3 5 3 5-6-2-4 5 0-6zM2358 2365l6-3 0-5 4 4 5-1-3 5 3 4-5-1-4 4 0-5zM2643 2932l6-2 0-5 4 4 5-1-3 4 3 5-5-1-4 4 0-5zM2392 2420l5-3 0-5 4 4 5-1-3 5 3 4-5-1-4 4 0-5zM2333 2437l6-2 0-6 4 5 5-2-3 5 3 5-5-1-4 4 0-6zM2743 3291l6-2 0-6 4 4 5-1-3 5 3 5-5-2-4 5 0-6zM2731 3282l5-2 1-6 3 4 6-1-3 5 3 5-6-1-3 4-1-6zM2719 3273l5-2 0-6 4 5 5-2-3 5 3 5-5-1-4 4 0-6zM2582 3176l5-2 1-5 3 4 6-1-3 4 3 5-6-1-3 4-1-5zM2126 2860l6-2 0-6 4 4 5-1-3 5 3 5-5-2-4 5 0-6zM2761 3167l5-2 1-6 4 4 5-1-3 5 3 5-5-2-4 4-1-5zM2748 3159l5-2 0-5 4 4 6-1-3 4 3 5-6-1-4 4 0-5zM2441 2993l5-2 1-6 4 5 5-2-3 5 3 5-5-1-4 4-1-6zM2344 2334l6-2 0-6 4 4 5-1-3 5 3 5-5-2-4 5 0-6zM2348 2319l6-2 0-6 4 5 5-2-3 5 3 5-5-1-4 4 0-6zM2528 3201l5-2 1-6 3 4 6-1-3 5 3 5-6-2-3 5-1-6zM2823 3078l6-2 0-6 4 5 5-2-3 5 3 5-5-1-4 4 0-6zM2349 2731l5-2 0-6 4 4 6-1-3 5 3 5-6-2-4 4 0-5zM2362 2704l5-2 1-6 4 4 5-1-3 5 3 5-5-2-4 5-1-6zM2369 2690l5-2 1-5 3 4 6-2-3 5 3 5-6-1-3 4-1-6zM2456 2514l6-2 0-6 4 5 5-2-3 5 3 5-5-1-4 4 0-6zM2483 2460l5-3 1-5 4 4 5-1-3 5 3 4-5-1-4 4-1-5zM2637 2973l6-2 0-6 4 4 5-1-3 5 3 5-5-2-4 5 0-6zM2233 3019l5-3 1-5 4 4 5-1-3 5 3 4-5-1-4 4-1-5zM2148 2932l5-2 0-6 4 5 5-2-3 5 3 5-5-1-4 4 0-6zM2507 2621l6-2 0-5 4 4 5-1-3 4 3 5-5-1-4 4 0-5zM2356 2627l5-3 1-5 4 4 5-1-3 5 3 4-5-1-4 4-1-5zM2326 2628l5-2 1-6 3 4 6-1-3 5 3 5-6-2-3 5-1-6zM2296 2629l5-2 1-6 3 4 6-1-3 5 3 5-6-2-3 5-1-6zM2589 3226l5-2 0-6 4 4 5-1-2 5 2 5-5-2-4 5 0-6zM2529 3179l5-2 0-5 4 4 6-1-3 4 3 5-6-1-4 4 0-5zM2557 3186l5-2 0-6 4 4 5-1-3 5 3 5-5-2-4 5 0-6zM2570 3180l6-2 0-6 4 5 5-2-3 5 3 5-5-1-4 4 0-6zM2598 3168l6-2 0-5 4 4 5-1-3 4 3 5-5-1-4 4 0-5zM2612 3163l6-3 0-5 4 4 5-1-3 5 3 4-5-1-4 4 0-5zM2640 3151l6-2 0-6 4 4 5-1-3 5 3 5-5-2-4 5 0-6zM2360 2939l5-2 0-5 4 4 5-1-3 4 3 5-5-1-4 4 0-5zM2464 2812l5-2 1-6 3 4 6-1-3 5 3 5-6-2-3 5-1-6zM2317 2779l5-2 1-6 4 5 5-2-3 5 3 5-5-1-4 4-1-6zM2350 2663l5-2 1-6 3 5 6-2-3 5 3 5-6-1-3 4-1-6zM2335 2663l5-2 1-6 3 4 6-1-3 5 3 5-6-2-3 5-1-6zM2320 2663l5-3 1-5 3 4 6-1-3 5 3 4-6-1-3 4-1-5zM2305 2662l5-2 1-5 3 4 6-1-3 4 3 5-6-1-3 4-1-5zM2565 3339l5-2 0-6 4 5 5-2-3 5 3 5-5-1-4 4 0-6zM2654 2838l5-3 1-5 4 4 5-1-3 5 3 4-5-1-4 4-1-5zM2637 3421l6-2 0-6 4 4 5-1-3 5 3 5-5-2-4 5 0-6zM2668 3418l5-2 0-6 4 4 6-1-3 5 3 5-6-2-4 5 0-6zM2698 3415l5-2 1-6 3 4 6-1-3 5 3 5-6-2-3 5-1-6zM2713 3413l6-2 0-5 4 4 5-2-3 5 3 5-5-1-4 4 0-6zM1950 2522l5-2 1-5 4 4 5-1-3 4 3 5-5-1-4 4-1-5zM2816 3209l5-2 1-6 3 4 6-1-3 5 3 5-6-1-3 4-1-6zM2845 3200l6-2 0-5 4 4 5-1-3 4 3 5-5-1-4 4 0-5zM2860 3196l5-2 1-6 4 5 5-2-3 5 3 5-5-1-4 4-1-6zM2399 3112l5-2 0-6 4 5 6-2-3 5 3 5-6-1-4 4 0-6zM2510 3035l5-2 1-6 3 5 6-2-3 5 3 5-6-1-3 4-1-6zM2522 2592l5-2 1-5 3 4 6-1-3 4 3 5-6-1-3 4-1-5zM2507 2593l5-2 0-5 4 4 6-1-3 4 3 5-6-1-4 4 0-5zM2492 2594l5-2 0-5 4 4 5-1-3 4 3 5-5-1-4 4 0-5zM2251 2611l5-2 0-6 4 5 5-2-3 5 3 5-5-1-4 4 0-6zM2318 2535l5-2 0-6 4 5 5-2-2 5 2 5-5-1-4 4 0-6zM2303 2538l5-2 0-6 4 4 6-1-3 5 3 5-6-2-4 5 0-6zM2705 2823l5-2 1-6 3 5 6-2-3 5 3 5-6-1-3 4-1-6zM2675 2818l5-3 1-5 3 4 6-1-3 5 3 4-6-1-3 4-1-5zM2645 2812l5-2 1-6 3 5 6-2-3 5 3 5-6-1-3 4-1-6zM2421 2772l6-2 0-6 4 5 5-2-3 5 3 5-5-1-4 4 0-6zM2407 2769l5-2 0-5 4 4 5-1-2 4 2 5-5-1-4 4 0-5zM2303 2751l5-2 1-5 3 4 6-1-3 4 3 5-6-1-3 4-1-5zM2810 3317l5-2 1-6 3 5 6-2-3 5 3 5-6-1-3 4-1-6zM2772 3291l5-2 1-6 3 5 6-2-3 5 3 5-6-1-3 4-1-6zM2759 3282l6-2 0-5 4 4 5-1-3 4 3 5-5-1-4 4 0-5zM2496 3102l5-2 1-5 3 4 6-1-3 4 3 5-6-1-3 4-1-5zM2483 3094l6-2 0-6 4 4 5-1-3 5 3 5-5-2-4 5 0-6zM2459 3077l5-2 0-6 4 5 5-2-3 5 3 5-5-1-4 4 0-6zM2108 2843l5-2 1-5 4 4 5-1-3 4 3 5-5-1-4 4-1-5zM2261 2755l5-3 0-5 4 4 5-1-2 5 2 4-5-1-4 4 0-5zM2307 2620l6-2 0-6 4 4 5-1-3 5 3 5-5-2-4 5 0-6zM2842 2950l5-3 1-5 4 4 5-1-3 5 3 4-5-1-4 4-1-5zM2813 2941l5-2 0-6 4 5 6-2-3 5 3 5-6-1-4 4 0-6zM2798 2937l5-2 1-6 3 4 6-1-3 5 3 5-6-1-3 4-1-6zM2768 2929l6-3 0-5 4 4 5-1-3 5 3 4-5-1-4 4 0-5zM2739 2920l5-2 1-5 3 4 6-1-3 4 3 5-6-1-3 4-1-5zM2457 2875l5-2 0-6 4 4 6-1-3 5 3 5-6-2-4 5 0-6zM2105 2934l5-2 1-5 3 4 6-1-3 4 3 5-6-1-3 4-1-5zM2086 2905l6-2 0-6 4 4 5-1-3 5 3 5-5-2-4 5 0-6zM2450 2844l5-2 1-5 4 4 5-1-3 4 3 5-5-1-4 4-1-5zM2528 2752l5-3 0-5 4 4 5-1-3 5 3 4-5-1-4 4 0-5zM2547 2728l5-2 1-6 3 5 6-2-3 5 3 5-6-1-3 4-1-6zM2272 3065l5-2 0-6 4 4 6-1-3 5 3 5-6-2-4 5 0-6zM2493 2809l5-2 0-6 4 5 6-2-3 5 3 5-6-1-4 4 0-6zM2532 2763l5-2 1-6 3 5 6-2-3 5 3 5-6-1-3 4-1-6zM2792 3437l5-2 1-5 4 4 5-1-3 4 3 5-5-1-4 4-1-5zM2780 3427l6-2 0-5 4 4 5-1-3 4 3 5-5-1-4 4 0-5zM2420 3124l5-2 1-5 4 4 5-1-3 4 3 5-5-1-4 4-1-5zM2397 3105l5-2 1-6 3 5 6-2-3 5 3 5-6-1-3 4-1-6zM2251 2985l5-3 0-5 4 4 6-1-3 5 3 4-6-1-4 4 0-5zM2471 3027l6-3 0-5 4 4 5-1-3 5 3 4-5-1-4 4 0-5zM2507 2999l6-2 0-6 4 5 5-2-3 5 3 5-5-1-4 4 0-6zM2531 2981l6-2 0-6 4 4 5-1-3 5 3 5-5-2-4 5 0-6zM2543 2972l6-2 0-6 4 4 5-1-3 5 3 5-5-2-4 5 0-6zM2700 2851l5-2 1-5 3 4 6-1-3 4 3 5-6-1-3 4-1-5zM2724 2833l5-2 1-6 4 4 5-1-3 5 3 5-5-2-4 5-1-6zM2748 2814l6-2 0-6 4 4 5-1-3 5 3 5-5-2-4 5 0-6zM2195 2584l5-3 1-5 4 4 5-1-3 5 3 4-5-1-4 4-1-5zM2199 2554l6-2 0-6 4 4 5-1-3 5 3 5-5-2-4 5 0-6zM2201 2539l6-2 0-6 4 4 5-1-3 5 3 5-5-2-4 5 0-6zM2205 2509l6-2 0-6 4 5 5-2-3 5 3 5-5-1-4 4 0-6zM2207 2494l6-2 0-6 4 5 5-2-3 5 3 5-5-1-4 4 0-6zM2211 2464l6-2 0-6 4 5 5-2-3 5 3 5-5-1-4 4 0-6zM2213 2449l6-2 0-5 4 4 5-1-3 4 3 5-5-1-4 4 0-5zM2363 2904l5-2 1-6 4 5 5-2-3 5 3 5-5-1-4 4-1-6zM1994 2515l5-2 0-6 4 5 6-2-3 5 3 5-6-1-4 4 0-6zM2512 3217l6-2 0-6 4 4 5-1-3 5 3 5-5-2-4 5 0-6zM2541 3206l5-3 0-5 4 4 5-1-3 5 3 4-5-1-4 4 0-5zM2696 3144l5-2 0-6 4 4 5-1-2 5 2 5-5-2-4 5 0-6zM2795 3104l5-2 1-6 3 4 6-1-3 5 3 5-6-2-3 5-1-6zM2809 3098l5-2 1-6 3 4 6-1-3 5 3 5-6-2-3 5-1-6zM2852 3081l5-3 1-5 3 4 6-1-3 5 3 4-6-1-3 4-1-5zM2204 2494l5-2 1-6 3 4 6-1-3 5 3 5-6-1-3 4-1-6zM2175 2502l5-2 1-6 3 5 6-2-3 5 3 5-6-1-3 4-1-6zM2818 3451l5-2 0-5 4 4 5-1-2 4 2 5-5-1-4 4 0-5zM2806 3441l5-2 1-5 3 4 6-1-3 4 3 5-6-1-3 4-1-5zM2794 3432l5-3 1-5 3 4 6-1-3 5 3 4-6-1-3 4-1-5zM2771 3412l5-2 0-6 4 4 5-1-3 5 3 5-5-2-4 5 0-6zM2409 3111l5-2 0-6 4 5 6-2-3 5 3 5-6-1-4 4 0-6zM2397 3102l5-3 1-5 4 4 5-1-3 5 3 4-5-1-4 4-1-5zM2264 2993l5-2 1-6 3 4 6-1-3 5 3 5-6-2-3 4-1-5zM1953 2742l5-2 0-5 4 4 5-1-3 4 3 5-5-1-4 4 0-5zM2421 2712l6-2 0-6 4 4 5-1-3 5 3 5-5-2-4 5 0-6zM2406 2710l6-2 0-5 4 4 5-1-3 4 3 5-5-1-4 4 0-5zM2335 2784l5-2 0-6 4 5 6-2-3 5 3 5-6-1-4 4 0-6zM2384 2691l5-2 0-6 4 4 6-1-3 5 3 5-6-2-4 5 0-6zM2398 2664l5-2 0-6 4 5 6-2-3 5 3 5-6-1-4 4 0-6zM2405 2651l5-2 0-6 4 4 6-1-3 5 3 5-6-2-4 5 0-6zM2433 2597l5-2 0-6 4 5 6-2-3 5 3 5-6-1-4 4 0-6zM2755 3603l5-2 1-5 3 4 6-1-3 4 3 5-6-1-3 4-1-5zM2270 3072l5-2 1-6 4 5 5-2-3 5 3 5-5-1-4 4-1-6zM2511 3065l5-2 1-6 3 4 6-1-3 5 3 5-6-2-3 5-1-6zM2537 3049l5-3 0-5 4 4 5-1-3 5 3 4-5-1-4 4 0-5zM2575 3024l5-2 0-6 4 4 6-1-3 5 3 5-6-1-4 4 0-6zM2728 2925l5-2 1-6 3 4 6-1-3 5 3 5-6-2-3 5-1-6zM2753 2908l6-2 0-6 4 5 5-2-3 5 3 5-5-1-4 4 0-6zM2779 2891l5-2 1-6 3 5 6-2-3 5 3 5-6-1-3 4-1-6zM2792 2883l5-2 1-6 3 4 6-1-3 5 3 5-6-2-3 5-1-6zM2818 2866l5-2 0-6 4 5 6-2-3 5 3 5-6-1-4 4 0-6zM2831 2858l5-3 0-5 4 4 5-1-3 5 3 4-5-1-4 4 0-5zM2699 3486l5-2 1-6 3 5 6-2-3 5 3 5-6-1-3 4-1-6zM2678 3464l5-2 0-6 4 5 5-2-2 5 2 5-5-1-4 4 0-6zM2624 3410l6-3 0-5 4 4 5-1-3 5 3 4-5-1-4 4 0-5zM2571 3355l5-2 1-6 4 5 5-2-3 5 3 5-5-1-4 4-1-6zM2561 3344l5-2 0-5 4 4 6-1-3 4 3 5-6-1-4 4 0-5zM2529 3312l5-2 1-6 3 4 6-1-3 5 3 5-6-1-3 4-1-6zM1961 2746l5-2 0-6 4 4 5-1-3 5 3 5-5-2-4 5 0-6zM2439 2690l5-2 1-6 4 4 5-1-3 5 3 5-5-2-4 5-1-6zM1952 2497l5-2 0-6 4 5 5-2-2 5 2 5-5-1-4 4 0-6zM1936 2504l5-2 0-5 4 4 6-2-3 5 3 5-6-1-4 4 0-6z"/>
<path fill="#97ff68" d="M2308 2951l5-2 1-6 3 4 6-1-3 5 3 5-6-2-3 5-1-6zM2328 2922l5-2 1-6 3 5 6-2-3 5 3 5-6-1-3 4-1-6zM2453 2744l5-2 1-6 4 4 5-1-3 5 3 5-5-2-4 5-1-6zM2471 2719l5-2 0-6 4 4 5-1-3 5 3 5-5-2-4 5 0-6zM2321 3068l5-2 1-6 3 5 6-2-3 5 3 5-6-1-3 4-1-6zM2460 2332l5-3 0-5 4 4 6-1-3 5 3 4-6-1-4 4 0-5zM2317 2385l5-2 1-6 3 4 6-1-3 5 3 5-6-1-3 4-1-6zM2302 2553l5-2 1-5 4 4 5-1-3 4 3 5-5-1-4 4-1-5zM2311 2524l5-2 1-5 3 4 6-1-3 4 3 5-6-1-3 4-1-5zM2324 2481l5-2 0-6 4 4 6-1-3 5 3 5-6-1-4 4 0-6zM2332 2452l6-2 0-6 4 4 5-1-3 5 3 5-5-2-4 5 0-6zM2341 2423l5-2 1-6 3 4 6-1-3 5 3 5-6-2-3 5-1-6zM2354 2379l5-2 1-6 3 5 6-2-3 5 3 5-6-1-3 4-1-6zM2363 2350l5-2 0-6 4 4 5-1-2 5 2 5-5-1-4 4 0-6zM2367 2335l5-2 1-5 3 4 6-1-3 4 3 5-6-1-3 4-1-5zM2304 2446l6-2 0-6 4 4 5-1-3 5 3 5-5-2-4 5 0-6zM2768 3309l6-2 0-6 4 4 5-1-3 5 3 5-5-2-4 5 0-6zM2756 3300l5-2 1-6 3 4 6-1-3 5 3 5-6-2-3 5-1-6zM2607 3194l5-2 0-6 4 4 6-1-3 5 3 5-6-2-4 5 0-6zM2570 3168l5-3 0-5 4 4 5-1-2 5 2 4-5-1-4 4 0-5zM2520 3133l5-2 1-6 4 4 5-1-3 5 3 5-5-2-4 5-1-6zM2434 3072l5-2 0-5 4 4 6-1-3 4 3 5-6-1-4 4 0-5zM2421 3064l6-2 0-6 4 4 5-1-3 5 3 5-5-2-4 5 0-6zM2409 3055l5-2 1-6 4 5 5-2-3 5 3 5-5-1-4 4-1-6zM2788 3181l5-2 1-5 3 4 6-1-3 4 3 5-6-1-3 4-1-5zM2775 3174l5-2 0-6 4 5 5-2-3 5 3 5-5-1-4 4 0-6zM2428 2986l5-2 1-6 3 5 6-2-3 5 3 5-6-1-3 4-1-6zM2444 3235l6-2 0-6 4 5 5-2-3 5 3 5-5-1-4 4 0-6zM2458 3229l6-2 0-5 4 4 5-1-3 4 3 5-5-1-4 4 0-5zM2500 3212l5-2 1-6 4 5 5-2-3 5 3 5-5-1-4 4-1-6zM2514 3207l5-3 1-5 3 4 6-1-3 5 3 4-6-1-3 4-1-5zM2416 2596l5-2 1-6 3 4 6-1-3 5 3 5-6-2-3 5-1-6zM2463 2501l5-3 1-5 3 4 6-1-3 5 3 4-6-1-3 4-1-5zM2517 2391l5-2 0-6 4 4 6-1-3 5 3 5-6-2-4 5 0-6zM2536 3040l5-3 1-5 4 4 5-1-3 5 3 4-5-1-4 4-1-5zM2568 2716l6-2 0-6 4 4 5-1-3 5 3 5-5-2-4 5 0-6zM2221 3006l5-2 1-6 3 5 6-2-3 5 3 5-6-1-3 4-1-6zM2209 2994l5-2 0-6 4 4 6-1-3 5 3 5-6-2-4 5 0-6zM2371 2626l5-2 1-6 4 5 5-2-3 5 3 5-5-1-4 4-1-6zM2311 2628l5-2 1-5 3 4 6-2-3 5 3 5-6-1-3 4-1-6zM2769 3367l5-3 1-5 3 4 6-1-3 5 3 4-6-1-3 4-1-5zM2505 3161l5-2 1-6 3 4 6-1-3 5 3 5-6-1-3 4-1-6zM2358 3048l5-2 1-6 3 5 6-2-3 5 3 5-6-1-3 4-1-6zM2275 2985l5-3 0-5 4 4 5-1-3 5 3 4-5-1-4 4 0-5zM2543 3192l5-3 0-5 4 4 5-1-3 5 3 4-5-1-4 4 0-5zM2503 2762l5-2 1-6 4 4 5-1-3 5 3 5-5-1-4 4-1-6zM2513 2750l5-2 0-6 4 5 6-2-3 5 3 5-6-1-4 4 0-6zM2522 2738l5-2 1-5 4 4 5-1-3 4 3 5-5-1-4 4-1-5zM2420 2802l5-2 1-6 3 4 6-1-3 5 3 5-6-1-3 4-1-6zM2361 2789l5-2 1-6 4 4 5-1-3 5 3 5-5-2-4 5-1-6zM2249 2764l5-2 1-6 3 5 6-2-3 5 3 5-6-1-3 4-1-6zM2531 2667l6-2 0-6 4 4 5-1-3 5 3 5-5-2-4 5 0-6zM2516 2667l5-3 1-5 4 4 5-1-3 5 3 4-5-1-4 4-1-5zM2456 2665l5-2 0-6 4 5 6-2-3 5 3 5-6-1-4 4 0-6zM2425 2665l6-3 0-5 4 4 5-1-3 5 3 4-5-1-4 4 0-5zM2380 2664l5-2 1-6 4 4 5-1-3 5 3 5-5-2-4 5-1-6zM2290 2662l5-2 1-6 3 5 6-2-3 5 3 5-6-1-3 4-1-6zM2260 2662l5-3 1-5 3 4 6-1-3 5 3 4-6-1-3 4-1-5zM2062 2865l5-2 0-6 4 5 5-2-3 5 3 5-5-1-4 4 0-6zM2624 3327l5-2 1-6 3 4 6-1-3 5 3 5-6-1-3 4-1-6zM2678 2818l5-2 0-6 4 4 5-1-3 5 3 5-5-1-4 4 0-6zM2729 3412l5-2 0-6 4 4 5-1-2 5 2 5-5-2-4 5 0-6zM2071 2867l5-2 1-6 3 4 6-1-3 5 3 5-6-1-3 4-1-6zM2065 2851l5-3 1-5 4 4 5-1-3 5 3 4-5-1-4 4-1-5zM2060 2834l5-2 0-6 4 5 5-2-3 5 3 5-5-1-4 4 0-6zM1944 2506l6-2 0-6 4 4 5-1-3 5 3 5-5-1-4 4 0-6zM2337 2910l5-2 0-6 4 5 6-2-3 5 3 5-6-1-4 4 0-6zM2831 3205l5-2 0-6 4 4 5-1-2 5 2 5-5-2-4 5 0-6zM2875 3192l5-2 1-6 3 4 6-1-3 5 3 5-6-2-3 5-1-6zM2485 3052l6-2 0-5 4 4 5-1-3 4 3 5-5-1-4 4 0-5zM2560 3001l5-3 0-5 4 4 6-1-3 5 3 4-6-1-4 4 0-5zM2809 2825l5-2 1-6 4 5 5-2-3 5 3 5-5-1-4 4-1-6zM2822 2816l5-2 0-6 4 5 6-2-3 5 3 5-6-1-4 4 0-6zM2476 2595l6-2 0-5 4 4 5-1-3 4 3 5-5-1-4 4 0-5zM2461 2596l5-2 1-5 4 4 5-1-3 4 3 5-5-1-4 4-1-5zM2188 2616l5-2 1-6 4 4 5-1-3 5 3 5-5-2-4 5-1-6zM2392 2522l5-2 1-6 3 5 6-2-3 5 3 5-6-1-3 4-1-6zM2377 2525l5-2 1-6 4 4 5-1-3 5 3 5-5-2-4 5-1-6zM2288 2540l5-2 1-5 3 4 6-1-3 4 3 5-6-1-3 4-1-5zM2103 2573l5-2 1-5 3 4 6-1-3 4 3 5-6-1-3 4-1-5zM2086 2577l5-3 0-5 4 4 6-1-3 5 3 4-6-1-4 4 0-5zM2362 2762l5-3 1-5 3 4 6-1-3 5 3 4-6-1-3 4-1-5zM2286 2748l5-2 0-5 4 4 6-1-3 4 3 5-6-1-4 4 0-5zM2797 3309l6-3 0-5 4 4 5-1-3 5 3 4-5-1-4 4 0-5zM2785 3300l5-2 0-6 4 4 6-1-3 5 3 5-6-2-4 5 0-6zM2521 3119l5-2 1-5 3 4 6-1-3 4 3 5-6-1-3 4-1-5zM2471 3086l5-3 1-5 3 4 6-1-3 5 3 4-6-1-3 4-1-5zM2123 2853l5-2 0-6 4 4 5-1-2 5 2 5-5-2-4 5 0-6zM2174 3001l5-2 0-6 4 4 6-1-3 5 3 5-6-1-4 4 0-6zM2272 2722l5-3 1-5 4 4 5-1-3 5 3 4-5-1-4 4-1-5zM2283 2691l5-2 0-6 4 4 6-1-3 5 3 5-6-2-4 5 0-6zM2288 2677l5-2 0-6 4 4 6-1-3 5 3 5-6-2-4 5 0-6zM2293 2663l5-3 0-5 4 4 5-1-2 5 2 4-5-1-4 4 0-5zM2417 2832l6-3 0-5 4 4 5-1-3 5 3 4-5-1-4 4 0-5zM2388 2824l6-2 0-6 4 4 5-1-3 5 3 5-5-2-4 4 0-5zM2414 2861l5-2 0-6 4 4 6-1-3 5 3 5-6-2-4 5 0-6zM2114 2949l5-2 1-6 3 5 6-2-3 5 3 5-6-1-3 4-1-6zM2557 2717l5-3 0-5 4 4 5-1-3 5 3 4-5-1-4 4 0-5zM2295 3038l5-2 0-5 4 4 6-1-3 4 3 5-6-1-4 4 0-5zM2483 2821l5-2 1-6 3 4 6-1-3 5 3 5-6-2-3 5-1-6zM2769 3417l5-2 0-5 4 4 6-1-3 4 3 5-6-1-4 4 0-5zM2757 3407l5-2 1-5 3 4 6-1-3 4 3 5-6-1-3 4-1-5zM2745 3398l6-3 0-5 4 4 5-1-3 5 3 4-5-1-4 4 0-5zM2455 3153l5-2 1-6 3 5 6-2-3 5 3 5-6-1-3 4-1-6zM2264 2996l5-2 1-6 4 4 5-1-3 5 3 5-5-2-4 5-1-6zM2495 3008l6-2 0-5 4 4 5-1-3 4 3 5-5-1-4 4 0-5zM2519 2990l6-2 0-6 4 5 5-2-3 5 3 5-5-1-4 4 0-6zM2688 2861l5-2 1-6 3 4 6-1-3 5 3 5-6-2-3 5-1-6zM2712 2842l5-2 1-6 3 5 6-2-3 5 3 5-6-1-3 4-1-6zM2186 2650l5-2 1-5 3 4 6-1-3 4 3 5-6-1-3 4-1-5zM2188 2633l6-2 0-6 4 5 5-2-3 5 3 5-5-1-4 4 0-6zM2191 2616l5-2 1-6 3 4 6-1-3 5 3 5-6-2-3 5-1-6zM2215 2434l6-2 0-5 4 4 5-1-3 4 3 5-5-1-4 4 0-5zM2347 2897l5-2 1-6 4 5 5-2-3 5 3 5-5-1-4 4-1-6zM2823 3092l6-2 0-6 4 5 5-2-3 5 3 5-5-1-4 4 0-6zM2838 3086l5-2 0-5 4 4 5-1-2 4 2 5-5-1-4 4 0-5zM2880 3069l6-2 0-6 4 4 5-1-3 5 3 5-5-1-4 4 0-6zM2526 2406l5-2 1-6 3 4 6-1-3 5 3 5-6-2-3 5-1-6zM2511 2410l5-2 1-6 4 4 5-1-3 5 3 5-5-2-4 5-1-6zM2782 3422l6-3 0-5 4 4 5-1-3 5 3 4-5-1-4 4 0-5zM2759 3402l5-2 0-6 4 4 6-1-3 5 3 5-6-2-4 5 0-6zM2712 3362l5-2 1-5 3 4 6-1-3 4 3 5-6-1-3 4-1-5zM2700 3353l5-3 1-5 3 4 6-1-3 5 3 4-6-1-3 4-1-5zM2688 3343l6-2 0-6 4 4 5-1-3 5 3 5-5-2-4 5 0-6zM2386 3092l5-2 0-6 4 5 5-2-3 5 3 5-5-1-4 4 0-6zM2467 2716l5-3 0-5 4 4 5-1-2 5 2 4-5-1-4 4 0-5zM2452 2714l5-2 0-5 4 4 5-1-3 4 3 5-5-1-4 4 0-5zM2363 2731l5-2 0-6 4 4 6-1-3 5 3 5-6-2-4 5 0-6zM2370 2718l5-3 0-5 4 4 6-1-3 5 3 4-6-1-4 4 0-5zM2377 2704l5-2 0-6 4 5 6-2-3 5 3 5-6-1-4 4 0-6zM2412 2637l5-2 0-5 4 4 6-1-3 4 3 5-6-1-4 4 0-5zM2745 3592l5-2 0-6 4 4 6-1-3 5 3 5-6-2-4 5 0-6zM2714 3558l5-3 1-5 3 4 6-1-3 5 3 4-6-1-3 4-1-5zM2258 3059l6-2 0-5 4 4 5-1-3 4 3 5-5-1-4 4 0-5zM1985 2769l5-3 0-5 4 4 6-1-3 5 3 4-6-1-4 4 0-5zM2435 3114l5-3 1-5 3 4 6-1-3 5 3 4-6-1-3 4-1-5zM2460 3097l6-2 0-5 4 4 5-1-3 4 3 5-5-1-4 4 0-5zM2587 3016l6-2 0-6 4 4 5-1-3 5 3 5-5-2-4 5 0-6zM2731 3519l5-2 1-6 3 5 6-2-3 5 3 5-6-1-3 4-1-6zM2720 3508l6-2 0-6 4 5 5-2-3 5 3 5-5-1-4 4 0-6zM2710 3497l5-2 0-6 4 5 5-2-2 5 2 5-5-1-4 4 0-6zM2614 3399l5-2 0-6 4 4 6-1-3 5 3 4-6-1-4 4 0-5zM2593 3377l5-2 0-6 4 4 5-1-3 5 3 5-5-2-4 5 0-6zM2582 3366l5-2 1-6 3 5 6-2-3 5 3 5-6-1-3 4-1-6zM2485 2692l5-2 0-5 4 4 5-1-3 4 3 5-5-1-4 4 0-5zM1983 2483l6-3 0-5 4 4 5-1-3 5 3 4-5-1-4 4 0-5zM1968 2490l5-2 0-6 4 4 5-1-3 5 3 5-5-2-4 5 0-6zM1904 2519l5-2 1-6 3 4 6-1-3 5 3 5-6-2-3 5-1-6z"/>
<path fill="#aeff51" d="M2237 3050l6-2 0-6 4 5 5-2-3 5 3 5-5-1-4 4 0-6zM2258 3022l5-2 0-6 4 4 5-1-3 5 3 5-5-2-4 5 0-6zM2288 2979l5-2 0-6 4 5 6-2-3 5 3 5-6-1-4 4 0-6zM2298 2965l5-2 1-6 3 4 6-1-3 5 3 5-6-2-3 5-1-6zM2338 2908l5-2 1-6 3 4 6-1-3 5 3 5-6-2-3 5-1-6zM2358 2879l6-2 0-5 4 4 5-2-3 5 3 5-5-1-4 4 0-6zM2376 2855l5-2 0-6 4 4 5-1-3 5 3 5-5-2-4 5 0-6zM2479 2707l5-3 1-5 4 4 5-1-3 5 3 4-5-1-4 4-1-5zM2488 2694l5-2 1-6 3 5 6-2-3 5 3 5-6-1-3 4-1-6zM2496 2682l6-2 0-6 4 4 5-1-3 5 3 4-5-1-4 4 0-5zM2531 2632l5-2 1-6 3 4 6-1-3 5 3 5-6-2-3 5-1-6zM2346 3044l5-2 1-6 4 4 5-1-3 5 3 5-5-2-4 5-1-6zM2359 3032l5-2 1-6 3 4 6-1-3 5 3 5-6-2-3 5-1-6zM2371 3020l6-2 0-6 4 4 5-1-3 5 3 5-5-2-4 4 0-5zM2246 2412l5-2 1-6 3 4 6-1-3 5 3 5-6-2-3 5-1-6zM2218 2423l5-3 1-5 3 4 6-1-3 5 3 4-6-1-3 4-1-5zM2204 2428l5-2 0-6 4 4 6-1-3 5 3 5-6-2-4 5 0-6zM2243 2750l5-2 0-6 4 4 5-1-3 5 3 5-5-2-4 5 0-6zM2293 2582l6-2 0-6 4 5 5-2-3 5 3 5-5-1-4 4 0-6zM2298 2568l5-2 0-6 4 4 6-1-3 5 3 5-6-2-4 5 0-6zM2629 2928l5-2 1-6 3 4 6-1-3 5 3 5-6-2-3 4-1-5zM2600 2918l5-2 1-5 3 4 6-2-3 5 3 5-6-1-3 4-1-6zM2238 2557l5-2 0-5 4 4 6-1-3 4 3 5-6-1-4 4 0-5zM2253 2484l5-3 0-5 4 4 5-1-2 5 2 4-5-1-4 4 0-5zM1996 2502l5-3 1-5 3 4 6-1-3 5 3 4-6-1-3 4-1-5zM2656 3229l6-2 0-6 4 4 5-1-3 5 3 5-5-1-4 4 0-6zM2644 3220l5-2 1-6 3 5 6-2-3 5 3 5-6-1-3 4-1-6zM2632 3211l5-2 0-5 4 4 5-1-3 4 3 5-5-1-4 4 0-5zM2619 3203l5-3 1-5 4 4 5-1-3 5 3 4-5-1-4 4-1-5zM2594 3185l6-2 0-6 4 5 5-2-3 5 3 5-5-1-4 4 0-6zM2397 3047l5-3 1-5 3 4 6-1-3 5 3 4-6-1-3 4-1-5zM2370 3028l5-2 1-6 4 5 5-2-3 5 3 5-5-1-4 4-1-6zM2415 2979l5-2 0-6 4 4 6-1-3 5 3 5-6-2-4 5 0-6zM2341 2349l5-3 0-5 4 4 5-1-3 5 3 4-5-1-4 4 0-5zM2838 3072l5-2 0-6 4 5 5-2-2 5 2 5-5-1-4 4 0-6zM2382 2663l6-2 0-5 4 4 5-1-3 4 3 5-5-1-4 4 0-5zM2403 2623l5-2 0-6 4 4 5-1-3 5 3 5-5-2-4 5 0-6zM2409 2609l6-2 0-6 4 5 5-2-3 5 3 5-5-1-4 4 0-6zM2476 2473l6-2 0-6 4 5 5-2-3 5 3 5-5-1-4 4 0-6zM2625 2981l5-2 0-6 4 5 5-2-2 5 2 5-5-1-4 4 0-6zM2493 2710l5-2 1-6 3 4 6-1-3 5 3 5-6-2-3 5-1-6zM2297 2695l6-2 0-6 4 5 5-2-3 5 3 5-5-1-4 4 0-6zM2523 2621l5-2 0-6 4 4 5-1-3 5 3 5-5-2-4 5 0-6zM2127 2935l6-2 0-5 4 4 5-1-3 4 3 5-5-1-4 4 0-5zM2517 3170l5-2 1-6 3 5 6-2-3 5 3 5-6-1-3 4-1-6zM2344 3037l5-2 1-5 3 4 6-1-3 4 3 5-6-1-3 4-1-5zM2330 3027l5-2 1-6 3 4 6-1-3 5 3 5-6-2-3 5-1-6zM2288 2995l6-2 0-6 4 5 5-2-3 5 3 5-5-1-4 4 0-6zM2261 2974l5-2 0-6 4 5 6-2-3 5 3 5-6-1-4 4 0-6zM2271 3048l5-3 1-5 3 4 6-1-3 5 3 4-6-1-3 4-1-5zM2293 3021l5-3 1-5 4 4 5-1-3 5 3 4-5-1-4 4-1-5zM2315 2994l6-3 0-5 4 4 5-1-3 5 3 4-5-1-4 4 0-5zM2326 2980l6-2 0-6 4 5 5-2-3 5 3 5-5-1-4 4 0-6zM2349 2953l5-2 0-6 4 5 5-2-3 5 3 5-5-1-4 4 0-6zM2532 2727l5-3 0-5 4 4 6-1-3 5 3 4-6-1-4 4 0-5zM2435 2805l5-2 0-6 4 5 5-2-2 5 2 5-5-1-4 4 0-6zM2405 2799l5-2 1-6 4 4 5-1-3 5 3 5-5-2-4 5-1-6zM2391 2795l5-2 0-5 4 4 5-1-3 4 3 5-5-1-4 4 0-5zM2376 2792l5-2 1-6 3 5 6-2-3 5 3 5-6-1-3 4-1-6zM2300 2775l5-2 1-5 3 4 6-1-3 4 3 5-6-1-3 4-1-5zM2283 2772l5-2 1-6 3 4 6-1-3 5 3 5-6-2-3 5-1-6zM2501 2666l5-2 1-6 3 5 6-2-3 5 3 5-6-1-3 4-1-6zM2486 2666l5-2 1-6 3 4 6-1-3 5 3 5-6-2-3 5-1-6zM2471 2666l5-3 0-5 4 4 6-1-3 5 3 4-6-1-4 4 0-5zM2365 2663l5-2 1-5 3 4 6-1-3 4 3 5-6-1-3 4-1-5zM2245 2661l5-2 1-5 3 4 6-1-3 4 3 5-6-1-3 4-1-5zM2594 3333l5-2 1-6 4 5 5-2-3 5 3 5-5-1-4 4-1-6zM2639 3324l5-2 1-6 3 4 6-1-3 5 3 5-6-2-3 5-1-6zM2669 3318l5-2 0-6 4 4 6-1-3 5 3 5-6-2-4 5 0-6zM2643 2847l5-2 0-5 4 4 5-1-3 4 3 5-5-1-4 4 0-5zM2666 2828l5-2 1-6 3 4 6-1-3 5 3 5-6-2-3 5-1-6zM2689 2808l5-2 1-6 4 5 5-2-3 5 3 5-5-1-4 4-1-6zM2701 2798l5-2 1-5 3 4 6-2-3 5 3 5-6-1-3 4-1-6zM2713 2788l5-2 0-5 4 4 5-1-3 4 3 5-5-1-4 4 0-5zM2683 3416l5-2 1-5 3 4 6-1-3 4 3 5-6-1-3 4-1-5zM2171 2617l5-2 0-6 4 4 6-1-3 5 3 5-6-1-4 4 0-6zM2407 2520l5-2 1-6 3 4 6-1-3 5 3 5-6-2-3 5-1-6zM2273 2543l5-2 1-6 3 5 6-2-3 5 3 5-6-1-3 4-1-6zM2258 2546l5-2 1-6 4 4 5-1-3 5 3 5-5-2-4 5-1-6zM2051 2583l6-2 0-6 4 4 5-1-3 5 3 5-5-2-4 5 0-6zM2690 2820l5-2 1-5 3 4 6-1-3 4 3 5-6-1-3 4-1-5zM2269 2745l5-2 0-5 4 4 5-1-3 4 3 5-5-1-4 4 0-5zM2251 2742l5-2 1-5 4 4 5-1-3 4 3 5-5-1-4 4-1-5zM2234 2740l5-3 1-5 3 4 6-1-3 5 3 4-6-1-3 4-1-5zM2696 3239l6-2 0-6 4 5 5-2-3 5 3 5-5-1-4 4 0-6zM2684 3230l5-2 1-5 3 4 6-1-3 4 3 5-6-1-3 4-1-5zM2508 3111l6-2 0-6 4 4 5-1-3 5 3 5-5-2-4 5 0-6zM2266 2738l6-2 0-6 4 5 5-2-3 5 3 5-5-1-4 4 0-6zM2278 2705l5-2 1-6 3 5 6-2-3 5 3 5-6-1-3 4-1-6zM2298 2648l5-2 0-5 4 4 5-1-3 4 3 5-5-1-4 4 0-5zM2783 2933l5-2 1-6 3 4 6-1-3 5 3 5-6-2-3 5-1-6zM2403 2828l5-3 0-5 4 4 6-1-3 5 3 4-6-1-4 4 0-5zM2383 2925l5-2 0-6 4 5 5-2-2 5 2 5-5-1-4 4 0-6zM2412 2891l5-3 0-5 4 4 5-1-3 5 3 4-5-1-4 4 0-5zM2431 2868l5-3 1-5 3 4 6-1-3 5 3 4-6-1-3 4-1-5zM2283 3052l5-3 1-5 4 4 5-1-3 5 3 4-5-1-4 4-1-5zM2306 3025l5-2 1-5 4 4 5-1-3 4 3 5-5-1-4 4-1-5zM2318 3012l5-2 0-6 4 5 5-2-2 5 2 5-5-1-4 4 0-6zM2424 2889l5-2 1-6 3 5 6-2-3 5 3 5-6-1-3 4-1-6zM2434 2878l5-2 0-6 4 4 6-1-3 5 3 5-6-2-4 5 0-6zM2512 2786l6-2 0-6 4 5 5-2-3 5 3 5-5-1-4 4 0-6zM2522 2775l5-2 1-6 4 4 5-1-3 5 3 5-5-2-4 5-1-6zM2734 3388l5-3 0-5 4 4 6-1-3 5 3 4-6-1-4 4 0-5zM2722 3378l5-2 1-6 3 4 6-1-3 5 3 5-6-2-3 5-1-6zM2675 3338l6-2 0-6 4 5 5-2-3 5 3 5-5-1-4 4 0-6zM2443 3144l6-3 0-5 4 4 5-1-3 5 3 4-5-1-4 4 0-5zM2386 3096l5-2 0-6 4 4 5-1-3 5 3 5-5-2-4 5 0-6zM2372 3085l5-3 1-5 3 4 6-1-3 5 3 4-6-1-3 4-1-5zM2345 3062l5-2 1-6 3 5 6-2-3 5 3 5-6-1-3 4-1-6zM2291 3018l5-2 1-6 4 4 5-1-3 5 3 5-5-2-4 5-1-6zM2278 3007l5-2 0-6 4 4 6-1-3 5 3 5-6-2-4 5 0-6zM2412 3072l5-2 0-6 4 5 5-2-3 5 3 5-5-1-4 4 0-6zM2435 3054l6-2 0-6 4 4 5-1-3 5 3 5-5-2-4 5 0-6zM2447 3045l6-2 0-6 4 4 5-1-3 5 3 5-5-2-4 5 0-6zM2459 3036l6-2 0-6 4 4 5-1-3 5 3 5-5-2-4 5 0-6zM2567 2953l6-2 0-5 4 4 5-1-3 4 3 5-5-1-4 4 0-5zM2217 2419l6-2 0-5 4 4 5-1-3 4 3 5-5-1-4 4 0-5zM2866 3075l5-2 1-6 4 4 5-1-3 5 3 5-5-2-4 5-1-6zM2735 3382l6-2 0-6 4 5 5-2-3 5 3 5-5-1-4 4 0-6zM2359 3070l5-2 0-6 4 4 5-1-3 5 3 5-5-2-4 5 0-6zM2277 3004l6-2 0-6 4 4 5-1-3 5 3 5-5-2-4 4 0-5zM2250 2982l6-2 0-6 4 4 5-1-3 5 3 5-5-2-4 5 0-6zM2342 2771l5-2 0-6 4 4 6-1-3 5 3 5-6-2-4 5 0-6zM2391 2678l5-3 0-5 4 4 6-1-3 5 3 4-6-1-4 4 0-5zM2724 3569l5-2 1-6 3 4 6-1-3 5 3 5-6-2-3 5-1-6zM2422 3122l6-2 0-6 4 4 5-1-3 5 3 5-5-2-4 5 0-6zM2448 3106l5-3 0-5 4 4 6-1-3 5 3 4-6-1-4 4 0-5zM2473 3089l5-2 1-5 3 4 6-2-3 5 3 5-6-1-3 4-1-6zM2498 3073l6-2 0-6 4 5 5-2-3 5 3 5-5-1-4 4 0-6zM2524 3057l5-2 1-6 3 4 6-1-3 5 3 5-6-2-3 5-1-6zM2549 3040l5-2 1-5 4 4 5-1-3 4 3 5-5-1-4 4-1-5zM2562 3032l5-2 1-6 3 5 6-2-3 5 3 5-6-1-3 4-1-6zM2766 2900l6-3 0-5 4 4 5-1-3 5 3 4-5-1-4 4 0-5zM2688 3475l6-2 0-6 4 5 5-2-3 5 3 5-5-1-4 4 0-6zM2603 3388l5-2 1-6 3 4 6-1-3 5 3 5-6-2-3 5-1-6zM2550 3334l5-3 1-5 3 4 6-1-3 5 3 4-6-1-3 4-1-5zM2469 2692l6-3 0-5 4 4 5-1-3 5 3 4-5-1-4 4 0-5zM2454 2691l6-2 0-6 4 4 5-1-3 5 3 5-5-2-4 5 0-6zM1920 2512l5-3 1-5 3 4 6-1-3 5 3 4-6-1-3 4-1-5zM1874 3532l5-2 0-6 4 4 6-1-3 5 3 5-6-2-4 5 0-6z"/>
<path fill="#c5ff3a" d="M2247 3036l6-2 0-6 4 4 5-1-3 5 3 5-5-1-4 4 0-6zM2318 2936l5-2 1-5 3 4 6-1-3 4 3 5-6-1-3 4-1-5zM2436 2768l5-2 1-5 3 4 6-1-3 4 3 5-6-1-3 4-1-5zM2505 2669l5-2 1-6 3 5 6-2-3 5 3 5-6-1-3 4-1-6zM2514 2657l5-2 0-6 4 4 6-1-3 5 3 5-6-2-4 5 0-6zM2522 2644l6-2 0-6 4 5 5-2-3 5 3 5-5-1-4 4 0-6zM2445 2337l6-2 0-6 4 4 5-1-3 5 3 5-5-2-4 5 0-6zM2345 2374l6-2 0-5 4 4 5-2-3 5 3 5-5-1-4 4 0-6zM2331 2380l5-3 1-5 4 4 5-1-3 5 3 4-5-1-4 4-1-5zM2232 2417l5-2 1-6 3 5 6-2-3 5 3 5-6-1-3 4-1-6zM2237 2766l6-2 0-5 4 4 5-1-3 4 3 5-5-1-4 4 0-5zM2701 2951l5-2 1-6 4 5 5-2-3 5 3 5-5-1-4 4-1-6zM2687 2947l5-3 0-5 4 4 6-1-3 5 3 4-6-1-4 4 0-5zM2672 2942l5-2 1-6 4 4 5-1-3 5 3 5-5-2-4 5-1-6zM2658 2937l5-2 0-6 4 5 6-2-3 5 3 5-6-1-4 4 0-6zM2212 2682l6-2 0-5 4 4 5-1-3 4 3 5-5-1-4 4 0-5zM2016 2586l5-2 1-5 3 4 6-1-3 4 3 5-6-1-3 4-1-5zM2012 2569l5-2 1-5 3 4 6-1-3 4 3 5-6-1-3 4-1-5zM2319 2442l5-3 1-5 3 4 6-1-3 5 3 4-6-1-3 4-1-5zM2290 2450l5-2 1-5 3 4 6-1-3 4 3 5-6-1-3 4-1-5zM2189 2481l5-2 1-6 3 5 6-2-3 5 3 5-6-1-3 4-1-6zM2160 2490l5-2 1-6 3 5 6-2-3 5 3 5-6-1-3 4-1-6zM2146 2494l5-2 0-5 4 4 6-1-3 4 3 5-6-1-4 4 0-5zM2508 3124l5-2 0-6 4 5 6-2-3 5 3 5-6-1-4 4 0-6zM2495 3116l6-3 0-5 4 4 5-1-3 5 3 4-5-1-4 4 0-5zM2471 3098l5-2 0-6 4 5 6-2-3 5 3 5-6-1-4 4 0-6zM2458 3090l6-3 0-5 4 4 5-1-3 5 3 4-5-1-4 4 0-5zM2446 3081l5-2 1-6 3 4 6-1-3 5 3 5-6-1-3 4-1-6zM2385 3038l5-2 0-6 4 5 5-2-3 5 3 5-5-1-4 4 0-6zM2402 2972l5-2 0-6 4 4 5-1-3 5 3 5-5-2-4 5 0-6zM1975 2747l5-2 0-6 4 5 5-2-3 5 3 5-5-1-4 4 0-6zM1944 2731l5-2 0-6 4 5 6-2-3 5 3 5-6-1-4 4 0-6zM2486 3218l5-2 1-6 4 4 5-1-3 5 3 5-5-2-4 5-1-6zM2852 3066l5-2 0-6 4 5 6-2-3 5 3 5-6-1-4 4 0-6zM2329 2771l5-2 0-6 4 4 5-1-3 5 3 5-5-2-4 5 0-6zM2376 2677l5-2 0-6 4 4 6-1-3 5 3 5-6-2-4 5 0-6zM2470 2487l5-2 0-6 4 4 6-1-3 5 3 5-6-2-4 5 0-6zM2524 2377l5-2 0-6 4 5 5-2-3 5 3 5-5-1-4 4 0-6zM2385 3139l5-3 1-5 3 4 6-1-3 5 3 4-6-1-3 4-1-5zM2398 3130l5-2 0-5 4 4 5-1-2 4 2 5-5-1-4 4 0-5zM2561 3023l6-2 0-6 4 5 5-2-3 5 3 5-5-1-4 4 0-6zM2612 2990l5-3 1-5 3 4 6-1-3 5 3 4-6-1-3 4-1-5zM2584 2717l5-2 0-6 4 4 5-1-2 5 2 5-5-1-4 4 0-6zM2553 2715l6-3 0-5 4 4 5-1-3 5 3 4-5-1-4 4 0-5zM2538 2713l5-2 1-5 4 4 5-1-3 4 3 5-5-1-4 4-1-5zM2508 2711l5-2 1-6 3 4 6-1-3 5 3 5-6-1-3 4-1-6zM2463 2707l5-2 0-5 4 4 6-1-3 4 3 5-6-1-4 4 0-5zM2448 2706l5-2 0-5 4 4 5-1-2 4 2 5-5-1-4 4 0-5zM2342 2698l6-2 0-5 4 4 5-1-3 4 3 5-5-1-4 4 0-5zM2312 2696l6-2 0-6 4 5 5-2-3 5 3 5-5-1-4 4 0-6zM2282 2694l6-2 0-6 4 5 5-2-3 5 3 5-5-1-4 4 0-6zM2126 2953l6-2 0-6 4 4 5-1-3 5 3 5-5-2-4 5 0-6zM2130 2883l5-2 1-5 3 4 6-1-3 4 3 5-6-1-3 4-1-5zM2793 3386l5-3 1-5 3 4 6-1-3 5 3 4-6-1-3 4-1-5zM2757 3357l5-2 0-6 4 5 6-2-3 5 3 5-6-1-4 4 0-6zM2745 3348l5-3 0-5 4 4 6-1-3 5 3 4-6-1-4 4 0-5zM2733 3338l5-2 0-6 4 5 6-2-3 5 3 5-6-1-4 4 0-6zM2637 3263l5-2 0-6 4 5 5-2-3 5 3 5-5-1-4 4 0-6zM2625 3254l5-2 0-6 4 4 5-1-3 5 3 5-5-2-4 5 0-6zM2080 2838l5-2 1-6 4 4 5-1-3 5 3 5-5-2-4 5-1-6zM2282 3034l5-2 1-6 4 5 5-2-3 5 3 5-5-1-4 4-1-6zM2347 2786l5-2 0-6 4 4 5-1-3 5 3 5-5-2-4 4 0-5zM2332 2782l5-2 1-5 3 4 6-1-3 4 3 5-6-1-3 4-1-5zM2441 2665l5-2 0-6 4 4 5-1-3 5 3 5-5-2-4 5 0-6zM2410 2664l6-2 0-5 4 4 5-1-3 4 3 5-5-1-4 4 0-5zM2275 2662l5-2 1-6 3 4 6-1-3 5 3 5-6-2-3 5-1-6zM2227 2661l6-2 0-6 4 5 5-2-3 5 3 5-5-1-4 4 0-6zM2210 2661l5-2 1-6 3 4 6-1-3 5 3 5-6-2-3 5-1-6zM2192 2661l6-3 0-5 4 4 5-1-3 5 3 4-5-1-4 4 0-5zM2579 3336l6-2 0-6 4 5 5-2-3 5 3 5-5-1-4 4 0-6zM2609 3330l5-2 1-6 3 5 6-2-3 5 3 5-6-1-3 4-1-6zM2654 3321l5-2 1-6 3 4 6-1-3 5 3 5-6-2-3 5-1-6zM2684 3315l5-3 0-5 4 4 6-1-3 5 3 4-6-1-4 4 0-5zM2729 3305l5-2 0-6 4 5 5-2-3 5 3 5-5-1-4 4 0-6zM2744 3302l5-2 0-6 4 5 5-2-3 5 3 5-5-1-4 4 0-6zM2849 3280l5-2 0-6 4 4 6-1-3 5 3 5-6-2-4 5 0-6zM2631 2857l5-2 1-6 3 5 6-2-3 5 3 5-6-1-3 4-1-6zM2653 3419l5-2 0-5 4 4 5-1-3 4 3 5-5-1-4 4 0-5zM1939 2490l5-3 0-5 4 4 5-1-3 5 3 4-5-1-4 4 0-5zM2446 2597l5-2 1-5 3 4 6-1-3 4 3 5-6-1-3 4-1-5zM2422 2517l5-2 1-6 3 5 6-2-3 5 3 5-6-1-3 4-1-6zM2120 2570l5-2 1-5 4 4 5-1-3 4 3 5-5-1-4 4-1-5zM2034 2586l6-2 0-6 4 4 5-1-3 5 3 5-5-1-4 4 0-6zM2660 2815l5-2 1-6 3 4 6-1-3 5 3 5-6-2-3 5-1-6zM2747 3274l5-3 0-5 4 4 6-1-3 5 3 4-6-1-4 4 0-5zM2734 3265l5-2 1-6 4 4 5-1-3 5 3 5-5-1-4 4-1-6zM2722 3256l5-2 0-5 4 4 5-1-2 4 2 5-5-1-4 4 0-5zM2709 3248l5-2 1-6 3 4 6-1-3 5 3 4-6-1-3 4-1-5zM2558 3145l6-2 0-6 4 4 5-1-3 5 3 5-5-2-4 5 0-6zM2546 3136l5-2 1-5 3 4 6-2-3 5 3 5-6-1-3 4-1-6zM2533 3128l6-2 0-6 4 4 5-1-3 5 3 5-5-2-4 5 0-6zM2255 2771l5-2 1-6 3 5 6-2-3 5 3 5-6-1-3 4-1-6zM2003 2773l6-2 0-6 4 4 5-1-3 5 3 5-5-2-4 5 0-6zM2373 2937l5-3 1-5 3 4 6-1-3 5 3 4-6-1-3 4-1-5zM2402 2902l5-2 1-6 3 5 6-2-3 5 3 5-6-1-3 4-1-6zM2421 2879l5-2 1-6 4 5 5-2-3 5 3 5-5-1-4 4-1-6zM2566 2705l5-2 1-6 4 4 5-1-3 5 3 5-5-2-4 5-1-6zM2444 2866l5-2 0-5 4 4 5-1-3 4 3 5-5-1-4 4 0-5zM2453 2855l6-2 0-6 4 5 5-2-3 5 3 5-5-1-4 4 0-6zM2473 2832l5-2 1-6 3 5 6-2-3 5 3 5-6-1-3 4-1-6zM2503 2798l5-2 0-6 4 4 5-1-3 5 3 5-5-2-4 5 0-6zM2710 3368l6-2 0-6 4 4 5-1-3 5 3 5-5-2-4 5 0-6zM2699 3358l5-2 0-6 4 4 5-1-2 5 2 5-5-2-4 5 0-6zM2478 3173l5-3 1-5 3 4 6-1-3 5 3 4-6-1-3 4-1-5zM2466 3163l6-2 0-6 4 4 5-1-3 5 3 5-5-2-4 5 0-6zM2409 3115l5-2 0-6 4 4 5-1-2 5 2 5-5-2-4 5 0-6zM2305 3029l5-2 0-6 4 4 6-1-3 5 3 5-6-2-4 5 0-6zM2423 3063l6-2 0-6 4 5 5-2-3 5 3 5-5-1-4 4 0-6zM2555 2963l6-3 0-5 4 4 5-1-3 5 3 4-5-1-4 4 0-5zM2579 2944l6-2 0-6 4 5 5-2-3 5 3 5-5-1-4 4 0-6zM2676 2870l5-2 0-6 4 5 6-2-3 5 3 5-6-1-4 4 0-6zM2497 2414l5-2 0-6 4 4 5-1-3 5 3 5-5-2-4 5 0-6zM2724 3372l5-2 0-6 4 5 5-2-3 5 3 5-5-1-4 4 0-6zM2318 3037l5-2 1-6 3 4 6-1-3 5 3 5-6-2-3 5-1-6zM2291 3015l5-2 1-6 3 4 6-1-3 5 3 5-6-2-3 4-1-5zM2734 3580l6-2 0-5 4 4 5-1-3 4 3 5-5-1-4 4 0-5zM2140 2932l5-2 0-5 4 4 5-1-2 4 2 5-5-1-4 4 0-5zM2410 3130l5-2 0-6 4 4 6-1-3 5 3 5-6-2-4 5 0-6zM2486 3081l5-2 0-6 4 5 6-2-3 5 3 5-6-1-4 4 0-6zM2307 3088l5-2 0-6 4 4 5-1-2 5 2 5-5-2-4 5 0-6zM2500 2693l5-2 0-6 4 5 6-2-3 5 3 5-6-1-4 4 0-6zM2424 2689l5-2 1-6 4 5 5-2-3 5 3 5-5-1-4 4-1-6zM2409 2688l5-2 1-5 3 4 6-2-3 5 3 5-6-1-3 4-1-6zM2289 2682l5-2 1-6 3 5 6-2-3 5 3 5-6-1-3 4-1-6zM2274 2681l5-2 1-6 3 5 6-2-3 5 3 5-6-1-3 4-1-6zM2241 2680l6-3 0-5 4 4 5-1-3 5 3 4-5-1-4 4 0-5zM2207 2678l5-2 0-6 4 4 5-1-3 5 3 5-5-2-4 5 0-6z"/>
<path fill="#dcff23" d="M2462 2731l5-2 1-5 3 4 6-1-3 4 3 5-6-1-3 4-1-5zM2431 2342l5-2 1-6 3 5 6-2-3 5 3 5-6-1-3 4-1-6zM2417 2348l5-3 0-5 4 4 6-1-3 5 3 4-6-1-4 4 0-5zM2402 2353l6-2 0-6 4 4 5-1-3 5 3 5-5-2-4 5 0-6zM2374 2364l5-3 1-5 3 4 6-1-3 5 3 4-6-1-3 4-1-5zM2360 2369l5-2 0-6 4 4 6-1-3 5 3 5-6-2-4 5 0-6zM1919 2538l5-3 1-5 3 4 6-1-3 5 3 4-6-1-3 4-1-5zM2253 2716l5-2 0-5 4 4 6-1-3 4 3 5-6-1-4 4 0-5zM2263 2683l5-2 1-6 3 4 6-1-3 5 3 5-6-2-3 5-1-6zM2371 2321l5-2 1-6 4 4 5-1-3 5 3 5-5-2-4 5-1-6zM2614 2923l6-2 0-6 4 4 5-1-3 5 3 5-5-1-4 4 0-6zM2586 2914l5-3 0-5 4 4 5-1-3 5 3 4-5-1-4 4 0-5zM2229 2602l5-3 1-5 3 4 6-1-3 5 3 4-6-1-3 4-1-5zM2232 2587l5-2 1-6 3 4 6-1-3 5 3 5-6-2-3 5-1-6zM2235 2572l5-2 1-6 3 5 6-2-3 5 3 5-6-1-3 4-1-6zM2241 2543l5-2 0-6 4 4 6-1-3 5 3 5-6-2-4 5 0-6zM2247 2513l5-2 0-6 4 5 6-2-3 5 3 5-6-1-4 4 0-6zM2256 2469l5-2 0-6 4 4 5-1-3 5 3 5-5-2-4 5 0-6zM2275 2455l6-2 0-6 4 4 5-1-3 5 3 5-5-2-4 5 0-6zM2261 2459l5-2 1-6 3 5 6-2-3 5 3 5-6-1-3 4-1-6zM2247 2464l5-3 0-5 4 4 5-1-3 5 3 4-5-1-4 4 0-5zM2232 2468l5-2 1-6 3 4 6-1-3 5 3 5-6-2-3 5-1-6zM2174 2486l6-3 0-5 4 4 5-1-3 5 3 4-5-1-4 4 0-5zM2483 3107l5-2 1-6 3 4 6-1-3 5 3 5-6-2-3 5-1-6zM2298 2978l6-2 0-6 4 5 5-2-3 5 3 5-5-1-4 4 0-6zM2828 3204l6-3 0-5 4 4 5-1-3 5 3 4-5-1-4 4 0-5zM2815 3196l5-2 1-6 3 5 6-2-3 5 3 5-6-1-3 4-1-6zM2472 3224l5-2 1-6 4 4 5-1-3 5 3 5-5-2-4 4-1-5zM2866 3060l5-2 1-6 3 5 6-2-3 5 3 5-6-1-3 4-1-6zM2204 3018l5-3 0-5 4 4 5-1-3 5 3 4-5-1-4 4 0-5zM2322 2784l5-2 1-5 3 4 6-1-3 4 3 5-6-1-3 4-1-5zM2335 2758l6-3 0-5 4 4 5-1-3 5 3 4-5-1-4 4 0-5zM2342 2744l5-2 1-6 3 5 6-2-3 5 3 5-6-1-3 4-1-6zM2389 2650l5-2 1-6 3 4 6-1-3 5 3 5-6-2-3 5-1-6zM2396 2636l5-2 1-5 3 4 6-1-3 4 3 5-6-1-3 4-1-6zM2530 2363l5-2 1-5 4 4 5-1-3 4 3 5-5-1-4 4-1-5zM2537 2350l5-3 1-5 3 4 6-1-3 5 3 4-6-1-3 4-1-5zM2511 3056l5-2 1-6 3 5 6-2-3 5 3 5-6-1-3 4-1-6zM2524 3048l5-2 0-6 4 4 5-1-3 5 3 5-5-2-4 5 0-6zM2549 3031l5-2 0-5 4 4 6-1-3 4 3 5-6-1-4 4 0-5zM2574 3015l5-2 1-6 3 4 6-1-3 5 3 5-6-2-3 4-1-5zM2587 3006l5-2 0-5 4 4 6-1-3 4 3 5-6-1-4 4 0-5zM2523 2712l5-2 1-6 3 5 6-2-3 5 3 5-6-1-3 4-1-6zM2478 2709l5-3 0-5 4 4 6-1-3 5 3 4-6-1-4 4 0-5zM2372 2701l6-3 0-5 4 4 5-1-3 5 3 4-5-1-4 4 0-5zM2268 2693l5-2 0-6 4 4 5-1-3 5 3 5-5-2-4 5 0-6zM2250 2692l5-2 1-6 3 4 6-1-3 5 3 5-6-2-3 4-1-5zM2198 2688l5-2 0-6 4 4 6-1-3 5 3 5-6-1-4 4 0-6zM2129 2901l5-2 1-6 3 4 6-1-3 5 3 5-6-2-3 4-1-5zM2819 3456l5-3 0-5 4 4 6-1-3 5 3 4-6-1-4 4 0-5zM2805 3395l5-2 1-6 3 5 6-2-3 5 3 5-6-1-3 4-1-6zM2781 3376l5-2 1-6 3 5 6-2-3 5 3 5-6-1-3 4-1-6zM2316 3016l5-2 1-6 4 5 5-2-3 5 3 5-5-1-4 4-1-6zM2302 3006l6-2 0-6 4 4 5-1-3 5 3 5-5-2-4 5 0-6zM2541 2715l5-2 1-6 4 4 5-1-3 5 3 5-5-2-4 5-1-6zM2266 2768l5-2 1-6 3 4 6-1-3 5 3 5-6-1-3 4-1-6zM2070 2880l5-2 1-5 3 4 6-2-3 5 3 5-6-1-3 4-1-6zM2699 3311l5-2 0-5 4 4 5-1-2 4 2 5-5-1-4 4 0-5zM2834 3283l5-2 0-6 4 4 5-1-2 5 2 5-5-2-4 5 0-6zM2088 2916l5-2 0-6 4 5 6-2-3 5 3 5-6-1-4 4 0-6zM2243 2548l6-2 0-5 4 4 5-1-3 4 3 5-5-1-4 4 0-5zM2229 2551l5-2 0-6 4 4 5-1-3 5 3 5-5-2-4 5 0-6zM2069 2580l5-2 0-6 4 4 5-1-2 5 2 5-5-2-4 5 0-6zM2609 3179l5-2 0-6 4 4 5-1-3 5 3 5-5-2-4 5 0-6zM2596 3170l5-2 1-5 3 4 6-1-3 4 3 5-6-1-3 4-1-5zM2571 3153l5-2 1-5 3 4 6-2-3 5 3 5-6-1-3 4-1-6zM1978 2758l5-2 0-6 4 4 5-1-3 5 3 5-5-2-4 4 0-5zM2359 2816l6-2 0-6 4 4 5-1-3 5 3 5-5-2-4 5 0-6zM2428 2865l5-2 1-5 3 4 6-1-3 4 3 5-6-1-3 4-1-5zM2399 2856l6-2 0-6 4 5 5-2-3 5 3 5-5-1-4 4 0-6zM2385 2852l5-3 1-5 4 4 5-1-3 5 3 4-5-1-4 4-1-5zM2357 2842l5-2 0-5 4 4 5-1-3 4 3 5-5-1-4 4 0-5zM2350 2963l6-2 0-5 4 4 5-1-3 4 3 5-5-1-4 4 0-5zM2441 2856l5-2 0-6 4 5 5-2-3 5 3 5-5-1-4 4 0-6zM2329 2999l5-2 1-6 3 4 6-1-3 5 3 5-6-1-3 4-1-6zM2341 2986l5-2 0-6 4 4 5-1-3 5 3 5-5-2-4 5 0-6zM2385 2935l5-2 0-6 4 4 6-1-3 5 3 5-6-2-4 5 0-6zM2404 2912l6-2 0-6 4 5 5-2-3 5 3 5-5-1-4 4 0-6zM2414 2901l5-2 1-6 3 4 6-1-3 5 3 5-6-2-3 4-1-5zM2463 2844l5-3 1-5 4 4 5-1-3 5 3 4-5-1-4 4-1-5zM2687 3348l5-2 1-6 3 5 6-2-3 5 3 5-6-1-3 4-1-6zM2652 3319l5-3 1-5 3 4 6-1-3 5 3 4-6-1-3 4-1-5zM2501 3192l5-2 1-6 3 4 6-1-3 5 3 5-6-2-3 5-1-6zM2432 3134l5-2 0-6 4 5 6-2-3 5 3 5-6-1-4 4 0-6zM2359 3073l5-2 0-5 4 4 5-1-3 4 3 5-5-1-4 4 0-5zM2332 3051l5-2 0-6 4 5 5-2-2 5 2 5-5-1-4 4 0-6zM2318 3040l5-2 1-6 3 5 6-2-3 5 3 5-6-1-3 4-1-6zM2130 2886l5-3 0-5 4 4 5-1-2 5 2 4-5-1-4 4 0-5zM2103 2864l5-2 0-6 4 4 6-1-3 5 3 5-6-2-4 5 0-6zM2628 2907l5-2 0-6 4 5 5-2-3 5 3 5-5-1-4 4 0-6zM2664 2879l5-2 0-5 4 4 6-1-3 4 3 5-6-1-4 4 0-5zM2848 3353l5-2 1-6 4 4 5-1-3 5 3 5-5-2-4 5-1-6zM2161 2506l5-2 0-6 4 5 5-2-3 5 3 5-5-1-4 4 0-6zM2146 2510l5-2 1-6 3 5 6-2-3 5 3 5-6-1-3 4-1-6zM2747 3392l5-2 1-6 3 4 6-1-3 5 3 5-6-2-3 5-1-6zM2372 3081l5-2 1-6 3 4 6-1-3 5 3 5-6-2-3 5-1-6zM2345 3059l5-2 1-6 3 4 6-1-3 5 3 5-6-2-3 5-1-6zM2304 3026l6-2 0-6 4 4 5-1-3 5 3 5-5-2-4 5 0-6zM2128 2920l5-2 0-6 4 4 6-1-3 5 3 5-6-2-4 5 0-6zM2056 2844l6-2 0-6 4 5 5-2-3 5 3 5-5-1-4 4 0-6zM1961 2743l5-2 1-5 3 4 6-1-3 4 3 5-6-1-3 4-1-5zM2774 3564l5-3 0-5 4 4 6-1-3 5 3 4-6-1-4 4 0-5zM2752 3541l6-2 0-5 4 4 5-1-3 4 3 5-5-1-4 4 0-5zM2515 2694l5-2 0-6 4 5 6-2-3 5 3 5-6-1-4 4 0-6z"/>
<path fill="#f3ff0c" d="M1903 2544l5-2 0-6 4 4 6-1-3 5 3 5-6-2-4 5 0-6zM2248 2733l5-2 0-6 4 5 6-2-3 5 3 5-6-1-4 4 0-6zM2258 2700l5-3 1-5 3 4 6-1-3 5 3 4-6-1-3 4-1-5zM2267 2669l6-3 0-5 4 4 5-1-3 5 3 4-5-1-4 4 0-5zM2272 2654l5-2 0-6 4 5 6-2-3 5 3 5-6-1-4 4 0-6zM2280 2625l6-2 0-5 4 4 5-1-3 4 3 5-5-1-4 4 0-5zM2285 2611l5-2 0-6 4 4 6-1-3 5 3 5-6-1-4 4 0-6zM2716 2956l5-2 0-6 4 4 6-1-3 5 3 5-6-1-4 4 0-6zM2571 2909l5-2 1-6 3 4 6-1-3 5 3 5-6-1-3 4-1-6zM2244 2528l5-2 0-6 4 4 6-1-3 5 3 5-6-2-4 5 0-6zM2250 2498l5-2 0-5 4 4 5-1-2 4 2 5-5-1-4 4 0-5zM2020 2603l5-2 1-5 4 4 5-1-3 4 3 5-5-1-4 4-1-5zM2218 2472l5-2 0-5 4 4 6-1-3 4 3 5-6-1-4 4 0-5zM2203 2477l5-2 1-6 4 4 5-1-3 5 3 5-5-2-4 5-1-6zM2327 2998l5-2 1-6 3 5 6-2-3 5 3 5-6-1-3 4-1-6zM2284 2968l5-2 1-5 3 4 6-1-3 4 3 5-6-1-3 4-1-5zM2880 3054l5-2 1-6 4 5 5-2-3 5 3 5-5-1-4 4-1-6zM2211 3002l6-2 0-6 4 5 5-2-3 5 3 5-5-1-4 4 0-6zM2219 2987l6-2 0-6 4 4 5-1-3 5 3 5-5-2-4 4 0-5zM2410 3122l5-2 1-6 4 5 5-2-3 5 3 5-5-1-4 4-1-6zM2599 2998l6-2 0-6 4 4 5-1-3 5 3 5-5-1-4 4 0-6zM2433 2705l5-2 0-6 4 5 5-2-3 5 3 5-5-1-4 4 0-6zM2418 2704l5-2 0-6 4 5 5-2-3 5 3 5-5-1-4 4 0-6zM2402 2703l6-2 0-6 4 4 5-1-3 5 3 5-5-2-4 5 0-6zM2387 2702l6-2 0-6 4 4 5-1-3 5 3 5-5-2-4 5 0-6zM2357 2700l6-3 0-5 4 4 5-1-3 5 3 4-5-1-4 4 0-5zM2327 2697l6-2 0-5 4 4 5-2-3 5 3 5-5-1-4 4 0-6zM2233 2690l5-2 0-5 4 4 5-1-2 4 2 5-5-1-4 4 0-5zM2132 2849l5-3 0-5 4 4 5-1-3 5 3 4-5-1-4 4 0-5zM2742 3460l5-2 1-6 3 4 6-1-3 5 3 5-6-2-3 4-1-5zM2788 3457l5-2 1-6 3 5 6-2-3 5 3 5-6-1-3 4-1-6zM2803 3456l6-2 0-5 4 4 5-1-3 4 3 5-5-1-4 4 0-5zM2817 3405l5-2 1-6 4 4 5-1-3 5 3 4-5-1-4 4-1-5zM2721 3329l5-2 0-6 4 4 6-1-3 5 3 5-6-2-4 5 0-6zM2709 3319l5-2 0-5 4 4 5-1-2 4 2 5-5-1-4 4 0-5zM2661 3282l5-2 0-6 4 4 5-1-3 5 3 5-5-2-4 5 0-6zM2613 3244l5-2 0-5 4 4 5-1-3 4 3 5-5-1-4 4 0-5zM2094 2848l5-2 1-5 4 4 5-1-3 4 3 5-5-1-4 4-1-5zM1983 2765l5-2 1-6 3 5 6-2-3 5 3 5-6-1-3 4-1-6zM1969 2755l5-2 1-6 3 4 6-1-3 5 3 5-6-2-3 5-1-6zM2260 3061l5-2 1-6 3 5 6-2-3 5 3 5-6-1-3 4-1-6zM2304 3007l6-2 0-6 4 5 5-2-3 5 3 5-5-1-4 4 0-6zM2337 2967l6-3 0-5 4 4 5-1-3 5 3 4-5-1-4 4 0-5zM2551 2703l5-2 0-6 4 4 6-1-3 5 3 5-6-2-4 5 0-6zM2395 2664l5-2 1-6 4 5 5-2-3 5 3 5-5-1-4 4-1-6zM2087 2911l5-3 0-5 4 4 6-1-3 5 3 4-6-1-4 4 0-5zM2078 2895l6-2 0-5 4 4 5-1-3 4 3 5-5-1-4 4 0-5zM2714 3308l5-2 0-5 4 4 5-1-3 4 3 5-5-1-4 4 0-5zM2759 3299l5-2 0-6 4 4 5-1-3 5 3 5-5-2-4 5 0-6zM2804 3289l5-2 0-5 4 4 5-1-3 4 3 5-5-1-4 4 0-5zM2864 3277l5-3 0-5 4 4 6-1-3 5 3 4-6-1-4 4 0-5zM2347 3094l5-2 1-6 3 4 6-1-3 5 3 5-6-2-3 5-1-6zM2360 3083l6-3 0-5 4 4 5-1-3 5 3 4-5-1-4 4 0-5zM2480 2984l5-3 1-5 3 4 6-1-3 5 3 4-6-1-3 4-1-5zM2492 2974l5-2 0-6 4 4 5-1-3 5 3 5-5-2-4 5 0-6zM2608 2877l5-2 0-6 4 4 5-1-2 5 2 5-5-2-4 5 0-6zM2199 2556l5-2 1-6 3 5 6-2-3 5 3 5-6-1-3 4-1-6zM2217 2737l5-3 1-5 3 4 6-1-3 5 3 4-6-1-3 4-1-5zM2671 3222l6-2 0-6 4 4 5-1-3 5 3 5-5-2-4 5 0-6zM2659 3213l5-2 0-6 4 5 6-2-3 5 3 5-6-1-4 4 0-6zM2646 3205l5-3 1-5 4 4 5-1-3 5 3 4-5-1-4 4-1-5zM2634 3196l5-2 0-6 4 5 5-2-2 5 2 5-5-1-4 4 0-6zM2621 3187l5-2 1-5 3 4 6-1-3 4 3 5-6-1-3 4-1-5zM2584 3162l5-2 0-6 4 4 5-1-3 5 3 5-5-2-4 5 0-6zM2374 2820l5-2 0-6 4 4 6-1-3 5 3 5-6-2-4 5 0-6zM2371 2847l5-2 1-6 3 5 6-2-3 5 3 5-6-1-3 4-1-6zM2328 2990l5-2 1-6 3 5 6-2-3 5 3 5-6-1-3 4-1-6zM2339 2977l5-2 1-6 4 4 5-1-3 5 3 5-5-2-4 5-1-6zM2362 2950l5-2 0-6 4 5 6-2-3 5 3 5-6-1-4 4 0-6zM2664 3328l5-2 0-5 4 4 6-1-3 4 3 5-6-1-4 4 0-5zM2629 3299l5-2 0-6 4 4 6-1-3 5 3 5-6-2-4 5 0-6zM2490 3182l5-2 0-6 4 5 5-2-3 5 3 5-5-1-4 4 0-6zM2116 2875l5-2 1-6 4 4 5-1-3 5 3 5-5-2-4 4-1-5zM2076 2842l5-2 0-6 4 4 6-1-3 5 3 5-6-2-4 5 0-6zM2591 2935l6-2 0-6 4 4 5-1-3 5 3 5-5-2-4 5 0-6zM2652 2889l5-3 0-5 4 4 6-1-3 5 3 4-6-1-4 4 0-5zM2147 2926l5-2 0-6 4 5 6-2-3 5 3 5-6-1-4 4 0-6zM2833 3355l5-2 1-6 3 5 6-2-3 5 3 5-6-1-3 4-1-6zM2331 3048l6-2 0-6 4 4 5-1-3 5 3 5-5-2-4 5 0-6zM2247 3047l5-3 0-5 4 4 5-1-3 5 3 4-5-1-4 4 0-5zM2235 3034l5-2 0-6 4 4 6-1-3 5 3 5-6-2-4 5 0-6zM2199 2996l5-2 1-6 3 4 6-1-3 5 3 5-6-2-3 5-1-6zM2116 2907l5-2 1-6 3 5 6-2-3 5 3 5-6-1-3 4-1-6zM2104 2894l5-2 1-5 3 4 6-1-3 4 3 5-6-1-3 4-1-5zM2080 2869l5-2 1-6 4 5 5-2-3 5 3 5-5-1-4 4-1-6zM1949 2731l5-2 1-6 3 4 6-1-3 5 3 5-6-2-3 5-1-6zM2397 3138l5-2 1-6 3 4 6-1-3 5 3 5-6-2-3 5-1-6zM2763 3552l5-2 1-5 3 4 6-1-3 4 3 5-6-1-3 4-1-5zM2742 3530l5-2 0-5 4 4 6-2-3 5 3 5-6-1-4 4 0-6zM2294 3075l6-2 0-5 4 4 5-1-3 4 3 5-5-1-4 4 0-5zM2134 2916l5-2 1-6 3 5 6-2-3 5 3 5-6-1-3 4-1-6zM2097 2879l5-2 0-5 4 4 6-1-3 4 3 5-6-1-4 4 0-5zM2072 2855l5-2 1-6 3 5 6-2-3 5 3 5-6-1-3 4-1-6zM2560 2697l5-2 1-6 4 4 5-1-3 5 3 5-5-2-4 5-1-6zM2394 2687l5-2 1-5 3 4 6-1-3 4 3 5-6-1-3 4-1-5zM2319 2684l5-3 1-5 3 4 6-1-3 5 3 4-6-1-3 4-1-5zM2304 2683l5-2 1-6 3 4 6-1-3 5 3 5-6-2-3 5-1-6zM2224 2679l5-2 1-6 3 4 6-1-3 5 3 5-6-2-3 5-1-6z"/>
<path fill="#fff400" d="M2388 2358l5-2 1-6 4 5 5-2-3 5 3 5-5-1-4 4-1-6zM2557 2904l5-2 0-5 4 4 6-1-3 4 3 5-6-1-4 4 0-5zM2205 2717l6-2 0-6 4 4 5-1-3 5 3 5-5-2-4 5 0-6zM2216 2665l5-2 1-5 3 4 6-1-3 4 3 5-6-1-3 4-1-5zM2223 2631l5-2 1-6 3 5 6-2-3 5 3 5-6-1-3 4-1-6zM2226 2616l5-2 1-5 3 4 6-1-3 4 3 5-6-1-3 4-1-5zM2259 2454l5-2 0-6 4 4 5-1-3 5 3 5-5-1-4 4 0-6zM2356 3018l5-2 0-6 4 5 6-2-3 5 3 5-6-1-4 4 0-6zM2341 3008l6-2 0-6 4 5 5-2-3 5 3 5-5-1-4 4 0-6zM2313 2988l5-2 0-6 4 5 6-2-3 5 3 5-6-1-4 4 0-6zM2855 3219l6-3 0-5 4 4 5-1-3 5 3 4-5-1-4 4 0-5zM2842 3211l5-2 1-6 3 5 6-2-3 5 3 5-6-1-3 4-1-6zM2801 3189l6-2 0-6 4 4 5-1-3 5 3 5-5-2-4 5 0-6zM2388 2965l5-2 1-6 4 4 5-1-3 5 3 5-5-2-4 5-1-6zM2423 3114l5-2 0-6 4 4 6-1-3 5 3 5-6-1-4 4 0-6zM2215 2689l5-2 1-6 4 5 5-2-3 5 3 5-5-1-4 4-1-6zM2727 3460l5-2 0-5 4 4 5-1-3 4 3 5-5-1-4 4 0-5zM2773 3458l5-2 0-6 4 5 5-2-2 5 2 5-5-1-4 4 0-6zM2697 3310l5-2 0-6 4 4 5-1-2 5 2 5-5-2-4 5 0-6zM2673 3291l5-2 0-6 4 5 5-2-3 5 3 5-5-1-4 4 0-6zM2108 2859l5-2 1-6 3 4 6-1-3 5 3 5-6-2-3 5-1-6zM2560 2691l5-2 1-6 4 5 5-2-3 5 3 5-5-1-4 4-1-6zM2112 2956l5-2 1-6 3 5 6-2-3 5 3 5-6-1-3 4-1-6zM2104 2941l5-2 0-6 4 4 5-1-3 5 3 5-5-1-4 4 0-6zM2095 2926l5-2 1-6 3 4 6-1-3 5 3 5-6-2-3 5-1-6zM2774 3296l5-2 0-6 4 4 5-1-3 5 3 5-5-2-4 5 0-6zM2819 3286l5-2 0-6 4 5 5-2-3 5 3 5-5-1-4 4 0-6zM2387 3060l6-2 0-5 4 4 5-2-3 5 3 5-5-1-4 4 0-6zM2538 2935l5-2 1-6 3 5 6-2-3 5 3 5-6-1-3 4-1-6zM2596 2887l5-3 1-5 3 4 6-1-3 5 3 4-6-1-3 4-1-5zM2619 2867l5-2 1-6 4 5 5-2-3 5 3 5-5-1-4 4-1-6zM2093 2933l6-3 0-5 4 4 5-1-3 5 3 4-5-1-4 4 0-5zM2437 2515l5-3 1-5 3 4 6-1-3 5 3 4-6-1-3 4-1-5zM2214 2554l5-3 0-5 4 4 6-1-3 5 3 4-6-1-4 4 0-5zM2169 2562l6-3 0-5 4 4 5-1-3 5 3 4-5-1-4 4 0-5zM2155 2564l5-2 0-6 4 5 5-2-2 5 2 5-5-1-4 4 0-6zM2200 2734l5-3 0-5 4 4 5-1-2 5 2 4-5-1-4 4 0-5zM2345 2812l5-2 0-6 4 4 6-1-3 5 3 5-6-2-4 5 0-6zM2758 2956l5-2 0-6 4 4 6-1-3 5 3 5-6-2-4 5 0-6zM2743 2951l5-2 1-6 3 5 6-2-3 5 3 5-6-1-3 4-1-6zM2317 3003l5-2 0-5 4 4 5-1-2 4 2 5-5-1-4 4 0-5zM2392 2914l5-3 1-5 4 4 5-1-3 5 3 4-5-1-4 4-1-5zM2352 2973l5-3 1-5 3 4 6-1-3 5 3 4-6-1-3 4-1-5zM2395 2923l5-2 0-5 4 4 5-1-3 4 3 5-5-1-4 4 0-5zM2640 3309l6-2 0-6 4 4 5-1-3 5 3 5-5-2-4 5 0-6zM2617 3289l5-2 1-6 4 5 5-2-3 5 3 5-5-1-4 4-1-6zM2524 3211l6-2 0-6 4 5 5-2-3 5 3 5-5-1-4 4 0-6zM2513 3202l5-3 0-5 4 4 6-1-3 5 3 4-6-1-4 4 0-5zM1981 2766l6-3 0-5 4 4 5-1-3 5 3 4-5-1-4 4 0-5zM1968 2755l5-2 0-6 4 4 6-1-3 5 3 5-6-2-4 4 0-5zM2400 3081l5-2 0-6 4 5 5-2-3 5 3 5-5-1-4 4 0-6zM2616 2916l5-2 0-5 4 4 5-1-3 4 3 5-5-1-4 4 0-5zM2640 2898l5-2 0-6 4 4 5-1-2 5 2 5-5-2-4 5 0-6zM2818 3357l5-2 0-5 4 4 6-1-3 4 3 5-6-1-4 4 0-5zM2093 2920l6-2 0-5 4 4 5-1-3 4 3 5-5-1-4 4 0-5zM2085 2887l6-2 0-6 4 4 5-1-3 5 3 5-5-2-4 5 0-6zM2211 3009l5-3 1-5 3 4 6-1-3 5 3 4-6-1-3 4-1-5zM2384 3146l6-2 0-6 4 4 5-1-3 5 3 5-5-2-4 5 0-6zM2220 3002l6-3 0-5 4 4 5-1-3 5 3 4-5-1-4 4 0-5zM2159 2940l5-2 0-5 4 4 5-1-3 4 3 5-5-1-4 4 0-5zM2084 2867l6-2 0-6 4 5 5-2-3 5 3 5-5-1-4 4 0-6zM2530 2695l5-2 1-6 3 4 6-1-3 5 3 5-6-1-3 4-1-6zM2259 2681l5-3 1-5 3 4 6-1-3 5 3 4-6-1-3 4-1-5z"/>
<path fill="#ffdd00" d="M2276 2640l5-2 1-6 3 4 6-1-3 5 3 5-6-2-3 5-1-6zM2289 2597l5-3 1-5 3 4 6-1-3 5 3 4-6-1-3 4-1-5zM2745 2966l5-3 0-5 4 4 6-1-3 5 3 4-6-1-4 4 0-5zM2730 2961l5-2 1-6 4 4 5-1-3 5 3 5-5-2-4 5-1-6zM2542 2900l6-2 0-6 4 4 5-1-3 5 3 5-5-2-4 5 0-6zM2264 2424l6-2 0-5 4 4 5-1-3 4 3 5-5-1-4 4 0-5zM2267 2409l6-2 0-5 4 4 5-1-3 4 3 5-5-1-4 4 0-5zM2375 2958l5-2 1-6 3 4 6-1-3 5 3 5-6-2-3 5-1-6zM2435 3106l6-2 0-6 4 4 5-1-3 5 3 5-5-2-4 5 0-6zM2131 2866l5-2 0-6 4 4 6-1-3 5 3 5-6-1-4 4 0-6zM2757 3459l5-2 1-6 4 4 5-1-3 5 3 5-5-2-4 5-1-6zM2685 3301l5-3 0-5 4 4 5-1-3 5 3 4-5-1-4 4 0-5zM1941 2734l5-2 1-6 4 5 5-2-3 5 3 5-5-1-4 4-1-6zM2789 3293l5-3 0-5 4 4 5-1-3 5 3 4-5-1-4 4 0-5zM2374 3071l5-2 1-5 3 4 6-1-3 4 3 5-6-1-3 4-1-5zM2411 3041l5-2 0-6 4 5 5-2-3 5 3 5-5-1-4 4 0-6zM2457 3003l5-2 1-6 3 4 6-1-3 5 3 5-6-2-3 5-1-6zM2503 2964l5-2 1-6 4 5 5-2-3 5 3 5-5-1-4 4-1-6zM2515 2955l5-3 0-5 4 4 6-1-3 5 3 4-6-1-4 4 0-5zM2526 2945l6-2 0-6 4 4 5-1-3 5 3 5-5-2-4 5 0-6zM2550 2925l5-2 0-5 4 4 5-1-3 4 3 5-5-1-4 4 0-5zM2573 2906l5-2 0-6 4 5 6-2-3 5 3 5-6-1-4 4 0-6zM2584 2896l6-2 0-5 4 4 5-1-3 4 3 5-5-1-4 4 0-6zM2452 2512l5-2 1-6 3 4 6-1-3 5 3 5-6-1-3 4-1-6zM2184 2559l5-2 1-6 4 4 5-1-3 5 3 5-5-2-4 5-1-6zM2787 2965l5-2 1-6 3 4 6-1-3 5 3 5-6-2-3 5-1-6zM2772 2960l6-2 0-5 4 4 5-2-3 5 3 5-5-1-4 4 0-6zM2363 2959l6-2 0-5 4 4 5-1-3 4 3 5-5-1-4 4 0-5zM2606 3279l5-2 0-5 4 4 5-1-3 4 3 5-5-1-4 4 0-5zM2582 3260l6-2 0-6 4 4 5-1-3 5 3 5-5-2-4 5 0-6zM2571 3250l5-2 0-6 4 5 6-2-3 5 3 5-6-1-4 4 0-6zM2559 3240l5-2 1-5 3 4 6-1-3 4 3 5-6-1-3 4-1-5zM2548 3231l5-3 0-5 4 4 5-1-3 5 3 4-5-1-4 4 0-5zM2536 3221l5-2 1-6 3 4 6-1-3 5 3 5-6-2-3 5-1-6zM2374 3101l5-2 0-6 4 4 5-1-2 5 2 5-5-2-4 5 0-6zM2388 3090l5-2 0-6 4 5 5-2-3 5 3 5-5-1-4 4 0-6zM2604 2926l5-2 0-6 4 4 5-1-3 5 3 5-5-2-4 5 0-6zM2606 3388l5-3 0-5 4 4 5-1-2 5 2 4-5-1-4 4 0-5zM2621 3385l5-2 0-5 4 4 6-1-3 4 3 5-6-1-4 4 0-5zM2073 2836l5-2 1-6 3 5 6-2-3 5 3 5-6-1-3 4-1-6zM2282 3063l5-2 1-6 3 5 6-2-3 5 3 5-6-1-3 4-1-6zM2257 3039l6-3 0-5 4 4 5-1-3 5 3 4-5-1-4 4 0-5zM2146 2928l5-2 1-6 4 5 5-2-3 5 3 5-5-1-4 4-1-6zM2122 2904l5-2 0-6 4 4 5-1-3 5 3 5-5-2-4 5 0-6zM2545 2696l5-2 1-6 3 4 6-1-3 5 3 5-6-2-3 5-1-6zM2379 2687l5-2 1-6 3 4 6-1-3 5 3 5-6-2-3 4-1-5zM2349 2685l5-2 1-6 3 5 6-2-3 5 3 5-6-1-3 4-1-6z"/>
<path fill="#ffc500" d="M2514 2890l5-2 0-5 4 4 5-1-3 4 3 5-5-1-4 4 0-5zM1976 2722l5-2 0-6 4 5 5-2-3 5 3 5-5-1-4 4 0-6zM2202 2734l5-2 1-6 3 4 6-1-3 5 3 5-6-2-3 5-1-6zM2209 2700l5-3 1-5 3 4 6-1-3 5 3 4-6-1-3 4-1-5zM2219 2648l6-2 0-6 4 5 5-2-3 5 3 5-5-1-4 4 0-6zM2261 2439l6-2 0-6 4 5 5-2-3 5 3 5-5-1-4 4 0-6zM2273 2380l5-2 1-6 3 4 6-1-3 5 3 5-6-2-3 5-1-6zM2276 2365l5-2 1-6 3 4 6-1-3 5 3 5-6-2-3 5-1-6zM2869 3226l5-2 1-6 3 4 6-1-3 5 3 5-6-1-3 4-1-6zM2448 3098l5-3 1-5 3 4 6-1-3 5 3 4-6-1-3 4-1-5zM2461 3089l5-2 0-5 4 4 5-2-3 5 3 5-5-1-4 4 0-6zM2498 3065l6-3 0-5 4 4 5-1-3 5 3 4-5-1-4 4 0-5zM2711 3461l5-2 1-6 4 5 5-2-3 5 3 5-5-1-4 4-1-6zM2649 3272l5-2 0-5 4 4 5-1-3 4 3 5-5-1-4 4 0-5zM2112 2864l5-2 1-5 3 4 6-1-3 4 3 5-6-1-3 4-1-5zM2561 2916l5-2 1-6 4 4 5-1-3 5 3 5-5-2-4 5-1-6zM2542 2497l5-3 1-5 3 4 6-1-3 5 3 4-6-1-3 4-1-5zM2527 2499l5-2 1-6 3 5 6-2-3 5 3 5-6-1-3 4-1-6zM2467 2509l5-2 1-5 3 4 6-1-3 4 3 5-6-1-3 4-1-5zM2729 2947l5-3 0-5 4 4 5-1-3 5 3 4-5-1-4 4 0-5zM2641 2919l5-2 1-5 4 4 5-1-3 4 3 5-5-1-4 4-1-5zM2583 2901l5-2 1-5 4 4 5-1-3 4 3 5-5-1-4 4-1-5zM2294 3030l5-2 1-6 3 5 6-2-3 5 3 5-6-1-3 4-1-6zM2305 3017l6-2 0-6 4 4 5-1-3 5 3 5-5-2-4 5 0-6zM2375 2946l5-2 1-6 3 5 6-2-3 5 3 5-6-1-3 4-1-6zM2594 3270l5-3 1-5 3 4 6-1-3 5 3 4-6-1-3 4-1-5zM1954 2744l5-2 1-6 4 4 5-1-3 5 3 5-5-2-4 5-1-6zM2742 3368l5-2 0-5 4 4 5-1-2 4 2 5-5-1-4 4 0-5zM2787 3362l5-2 1-6 4 4 5-1-3 5 3 5-5-2-4 5-1-6zM2802 3360l6-3 0-5 4 4 5-1-3 5 3 4-5-1-4 4 0-5zM2089 2904l6-3 0-5 4 4 5-1-3 5 3 4-5-1-4 4 0-5zM2223 3021l5-2 0-6 4 5 6-2-3 5 3 5-6-1-4 4 0-6zM2270 3051l5-2 0-6 4 4 5-1-2 5 2 5-5-2-4 5 0-6zM2233 3014l5-2 0-6 4 4 5-1-2 5 2 5-5-2-4 5 0-6zM2208 2989l5-2 1-5 3 4 6-1-3 4 3 5-6-1-3 4-1-5zM2364 2686l5-2 1-6 3 4 6-1-3 5 3 5-6-2-3 5-1-6zM2334 2684l5-2 1-5 3 4 6-1-3 4 3 5-6-1-3 4-1-5z"/>
<path fill="#ffae00" d="M2861 3004l6-2 0-6 4 4 5-1-3 5 3 5-5-1-4 4 0-6zM2774 2975l5-2 1-6 3 5 6-2-3 5 3 5-6-1-3 4-1-6zM2528 2895l5-2 1-6 3 5 6-2-3 5 3 5-6-1-3 4-1-6zM2499 2886l5-2 1-6 3 4 6-1-3 5 3 5-6-2-3 5-1-6zM2270 2395l5-3 1-5 4 4 5-1-3 5 3 4-5-1-4 4-1-5zM2279 2350l5-2 1-6 3 4 6-1-3 5 3 5-6-1-3 4-1-6zM2360 2949l5-2 0-5 4 4 5-1-3 4 3 5-5-1-4 4 0-5zM2696 3462l5-2 1-6 3 5 6-2-3 5 3 5-6-1-3 4-1-6zM2111 2830l5-3 1-5 3 4 6-1-3 5 3 4-6-1-3 4-1-5zM2399 3051l5-2 1-6 3 4 6-1-3 5 3 5-6-2-3 5-1-6zM2422 3032l5-3 1-5 3 4 6-1-3 5 3 4-6-1-3 4-1-5zM2434 3022l5-2 0-6 4 4 6-1-3 5 3 5-6-1-4 4 0-6zM2445 3012l5-2 1-5 4 4 5-1-3 4 3 5-5-1-4 4-1-5zM2468 2993l6-2 0-6 4 5 5-2-3 5 3 5-5-1-4 4 0-6zM2497 2504l5-2 1-5 3 4 6-2-3 5 3 5-6-1-3 4-1-6zM2816 2974l5-2 1-6 4 5 5-2-3 5 3 5-5-1-4 4-1-6zM2802 2970l5-3 0-5 4 4 5-1-2 5 2 4-5-1-4 4 0-5zM2714 2942l5-2 1-6 3 5 6-2-3 5 3 5-6-1-3 4-1-6zM2699 2937l6-2 0-5 4 4 5-1-3 4 3 5-5-1-4 4 0-5zM2627 2915l5-2 0-6 4 4 6-1-3 5 3 5-6-2-4 5 0-6zM2612 2910l5-2 1-5 4 4 5-1-3 4 3 5-5-1-4 4-1-5zM2598 2906l5-2 0-6 4 4 6-1-3 5 3 5-6-2-4 5 0-6zM2272 3057l5-2 0-6 4 4 5-1-3 5 3 5-5-2-4 5 0-6zM2360 3111l5-2 0-5 4 4 6-1-3 4 3 5-6-1-4 4 0-5zM2636 3383l5-2 0-5 4 4 6-1-3 4 3 5-6-1-4 4 0-5zM2651 3381l5-2 1-6 3 5 6-2-3 5 3 5-6-1-3 4-1-6zM2666 3379l5-2 1-6 3 5 6-2-3 5 3 5-6-1-3 4-1-6zM2726 3371l6-3 0-5 4 4 5-1-3 5 3 4-5-1-4 4 0-5zM2757 3366l5-2 1-6 3 5 6-2-3 5 3 5-6-1-3 4-1-6zM2772 3364l5-2 1-6 3 4 6-1-3 5 3 5-6-1-3 4-1-6zM2097 2937l6-2 0-5 4 4 5-1-3 4 3 5-5-1-4 4 0-5zM2245 3026l5-2 1-6 3 5 6-2-3 5 3 5-6-1-3 4-1-6z"/>
<path fill="#ff9700" d="M2876 3009l5-2 1-6 3 4 6-1-3 5 3 5-6-2-3 5-1-6zM2759 2970l6-2 0-6 4 5 5-2-3 5 3 5-5-1-4 4 0-6zM2384 2849l6-2 0-6 4 5 5-2-3 5 3 5-5-1-4 4 0-6zM2076 2840l5-2 0-5 4 4 6-2-3 5 3 5-6-1-4 4 0-6zM2344 2941l5-2 1-6 4 5 5-2-3 5 3 5-5-1-4 4-1-6zM2473 3081l5-2 1-6 3 5 6-2-3 5 3 5-6-1-3 4-1-6zM2486 3073l5-2 0-6 4 4 6-1-3 5 3 5-6-2-4 5 0-6zM2681 3463l5-2 0-6 4 4 6-1-3 5 3 5-6-2-4 5 0-6zM2115 2934l5-2 0-6 4 4 6-1-3 5 3 5-6-2-4 5 0-6zM2512 2502l5-2 1-6 3 4 6-1-3 5 3 5-6-2-3 5-1-6zM2482 2507l5-2 1-6 3 4 6-1-3 5 3 5-6-2-3 5-1-6zM2875 2993l5-2 1-6 3 4 6-1-3 5 3 5-6-2-3 4-1-5zM2831 2979l5-2 1-6 3 4 6-1-3 5 3 5-6-2-3 5-1-6zM2685 2933l5-2 0-6 4 4 6-1-3 5 3 5-6-2-4 5 0-6zM2670 2928l5-2 1-5 4 4 5-1-3 4 3 5-5-1-4 4-1-5zM2656 2924l5-2 0-6 4 4 6-1-3 5 3 5-6-2-4 5 0-6zM2569 2897l5-2 0-6 4 4 6-1-3 5 3 5-6-1-4 4 0-6zM2540 2888l5-2 0-6 4 5 6-2-3 5 3 5-6-1-4 4 0-6zM2453 2862l5-3 1-5 3 4 6-1-3 5 3 4-6-1-3 4-1-5zM2260 3070l6-2 0-6 4 4 5-1-3 5 3 5-5-1-4 4 0-6zM2283 3043l5-2 1-5 3 4 6-1-3 4 3 5-6-1-3 4-1-5zM2681 3377l5-2 1-6 3 4 6-1-3 5 3 5-6-2-3 5-1-6zM2696 3375l5-2 1-6 4 4 5-1-3 5 3 5-5-2-4 5-1-6zM2102 2954l5-2 0-6 4 5 5-2-3 5 3 5-5-1-4 4 0-6z"/>
<path fill="#ff8000" d="M2847 2999l5-2 0-6 4 5 6-2-3 5 3 5-6-1-4 4 0-6zM2832 2994l5-2 1-5 4 4 5-2-3 5 3 5-5-1-4 4-1-6zM2788 2980l6-2 0-6 4 4 5-1-3 5 3 5-5-2-4 5 0-6zM2485 2881l5-2 0-6 4 5 6-2-3 5 3 5-6-1-4 4 0-6zM2442 2867l5-2 0-5 4 4 6-1-3 4 3 5-6-1-4 4 0-5zM2413 2858l5-2 1-5 3 4 6-1-3 4 3 5-6-1-3 4-1-5zM2370 2845l5-2 1-6 3 4 6-1-3 5 3 5-6-2-3 4-1-5zM2159 2938l5-2 1-6 4 5 5-2-3 5 3 5-5-1-4 4-1-6zM2103 2959l5-3 1-5 3 4 6-1-3 5 3 4-6-1-3 4-1-5zM2084 2874l5-2 0-6 4 5 5-2-3 5 3 5-5-1-4 4 0-6zM2114 2916l5-2 1-5 3 4 6-1-3 4 3 5-6-1-3 4-1-5zM2113 2899l6-2 0-6 4 5 5-2-3 5 3 5-5-1-4 4 0-6zM2113 2882l5-2 0-6 4 4 6-1-3 5 3 5-6-2-4 4 0-5zM2112 2847l5-2 0-6 4 4 5-1-3 5 3 5-5-2-4 5 0-6zM2511 2879l5-2 1-6 3 5 6-2-3 5 3 5-6-1-3 4-1-6zM2482 2870l5-2 1-5 3 4 6-1-3 4 3 5-6-1-3 4-1-5zM2468 2866l5-2 0-6 4 5 5-2-3 5 3 5-5-1-4 4 0-6zM2439 2857l5-2 0-6 4 5 6-2-3 5 3 5-6-1-4 4 0-6zM2410 2849l5-3 1-5 3 4 6-1-3 5 3 4-6-1-3 4-1-5zM2711 3373l6-2 0-6 4 4 5-1-3 5 3 4-5-1-4 4 0-5z"/>
<path fill="#ff6900" d="M2818 2989l5-2 0-5 4 4 5-1-3 4 3 5-5-1-4 4 0-5zM2470 2877l6-3 0-5 4 4 5-1-3 5 3 4-5-1-4 4 0-5zM2456 2872l5-2 1-6 3 5 6-2-3 5 3 5-6-1-3 4-1-6zM2427 2863l6-2 0-6 4 4 5-1-3 5 3 5-5-2-4 5 0-6zM2356 2840l5-2 0-6 4 5 6-2-3 5 3 5-6-1-4 4 0-6zM2080 2857l5-2 0-6 4 5 5-2-2 5 2 5-5-1-4 4 0-6zM2329 2933l5-2 0-6 4 5 6-2-3 5 3 5-6-1-4 4 0-6zM2860 2988l5-2 1-6 4 5 5-2-3 5 3 5-5-1-4 4-1-6zM2424 2853l6-2 0-6 4 4 5-1-3 5 3 5-5-2-4 5 0-6z"/>
<path fill="#ff5200" d="M2803 2985l5-2 1-6 3 4 6-1-3 5 3 4-6-1-3 4-1-5zM2399 2854l5-2 0-6 4 4 6-1-3 5 3 5-6-2-4 5 0-6zM2099 2942l5-2 1-6 3 4 6-1-3 5 3 5-6-2-3 5-1-6zM2091 2908l5-2 1-6 4 4 5-1-3 5 3 5-5-2-4 5-1-6zM2846 2983l5-2 0-5 4 4 5-1-3 4 3 5-5-1-4 4 0-5zM2554 2893l5-3 1-5 4 4 5-1-3 5 3 4-5-1-4 4-1-5zM2496 2875l6-2 0-6 4 4 5-1-3 5 3 5-5-2-4 5 0-6zM2396 2844l5-2 0-6 4 5 5-2-3 5 3 5-5-1-4 4 0-6zM2367 2835l5-2 0-5 4 4 6-1-3 4 3 5-6-1-4 4 0-5z"/>
<path fill="#ff3b00" d="M2095 2925l5-2 1-6 3 4 6-1-3 5 3 5-6-2-3 5-1-6zM2525 2884l6-2 0-6 4 4 5-1-3 5 3 5-5-2-4 4 0-5z"/>
<path fill="#ff2400" d="M2381 2840l5-2 1-6 3 4 6-1-3 5 3 5-6-2-3 5-1-6z"/>
</g>
<g fill="none" stroke="#000" stroke-width="1.9">
<circle cx="1706" cy="3078.5" r="246.6"/>
<circle cx="1706" cy="3078.5" r="494"/>
<line x1="1706" y1="3078.5" x2="2904" y2="3078.5"/>
<line x1="1919.6" y1="2955.2" x2="2743.5" y2="2479.5"/>
<line x1="1829.3" y1="2864.9" x2="2305" y2="2041"/>
<line x1="1706" y1="3078.5" x2="1706" y2="1880.5"/>
<line x1="1582.7" y1="2864.9" x2="1107" y2="2041"/>
<line x1="1492.4" y1="2955.2" x2="668.5" y2="2479.5"/>
<line x1="1706" y1="3078.5" x2="508" y2="3078.5"/>
<line x1="1492.4" y1="3201.8" x2="668.5" y2="3677.5"/>
<line x1="1582.7" y1="3292.1" x2="1107" y2="4116"/>
<line x1="1706" y1="3078.5" x2="1706" y2="4276.5"/>
<line x1="1829.3" y1="3292.1" x2="2305" y2="4116"/>
<line x1="1919.6" y1="3201.8" x2="2743.5" y2="3677.5"/>
</g>
</g>
<path d="M2934.5,3078.5 A1228.5,1228.5 0 0 0 2769.9,2464.2 L2743.5,2479.5 A1198,1198 0 0 1 2904,3078.5 ZM2320.2,2014.6 A1228.5,1228.5 0 0 0 1706,1850 L1706,1880.5 A1198,1198 0 0 1 2305,2041 ZM1091.8,2014.6 A1228.5,1228.5 0 0 0 642.1,2464.2 L668.5,2479.5 A1198,1198 0 0 1 1107,2041 ZM477.5,3078.5 A1228.5,1228.5 0 0 0 642.1,3692.8 L668.5,3677.5 A1198,1198 0 0 1 508,3078.5 ZM1091.7,4142.4 A1228.5,1228.5 0 0 0 1706,4307 L1706,4276.5 A1198,1198 0 0 1 1107,4116 ZM2320.2,4142.4 A1228.5,1228.5 0 0 0 2769.9,3692.8 L2743.5,3677.5 A1198,1198 0 0 1 2305,4116 Z" fill="#000"/>
<circle cx="1706" cy="3078.5" r="1226.6" fill="none" stroke="#000" stroke-width="3.9"/>
<circle cx="1706" cy="3078.5" r="1199.6" fill="none" stroke="#000" stroke-width="3.2"/>
<text transform="translate(2986,3078.5) rotate(-90)" font-size="66.67" text-anchor="middle" y="24">0<tspan font-size="40" dy="-22">°</tspan></text>
<text transform="translate(2814.5,2438.5) rotate(-120)" font-size="66.67" text-anchor="middle" y="24">30<tspan font-size="40" dy="-22">°</tspan></text>
<text transform="translate(2346,1970) rotate(-150)" font-size="66.67" text-anchor="middle" y="24">60<tspan font-size="40" dy="-22">°</tspan></text>
<text transform="translate(1706,1798.5) rotate(-180)" font-size="66.67" text-anchor="middle" y="24">90<tspan font-size="40" dy="-22">°</tspan></text>
<text transform="translate(1066,1970) rotate(-30)" font-size="66.67" text-anchor="middle" y="24">120<tspan font-size="40" dy="-22">°</tspan></text>
<text transform="translate(597.5,2438.5) rotate(-60)" font-size="66.67" text-anchor="middle" y="24">150<tspan font-size="40" dy="-22">°</tspan></text>
<text transform="translate(426,3078.5) rotate(-90)" font-size="66.67" text-anchor="middle" y="24">−180<tspan font-size="40" dy="-22">°</tspan></text>
<text transform="translate(597.5,3718.5) rotate(-120)" font-size="66.67" text-anchor="middle" y="24">−150<tspan font-size="40" dy="-22">°</tspan></text>
<text transform="translate(1066,4187) rotate(-150)" font-size="66.67" text-anchor="middle" y="24">−120<tspan font-size="40" dy="-22">°</tspan></text>
<text transform="translate(1706,4358.5) rotate(-180)" font-size="66.67" text-anchor="middle" y="24">−90<tspan font-size="40" dy="-22">°</tspan></text>
<text transform="translate(2346,4187) rotate(-30)" font-size="66.67" text-anchor="middle" y="24">−60<tspan font-size="40" dy="-22">°</tspan></text>
<text transform="translate(2814.5,3718.5) rotate(-60)" font-size="66.67" text-anchor="middle" y="24">−30<tspan font-size="40" dy="-22">°</tspan></text>
</svg></body></html>
